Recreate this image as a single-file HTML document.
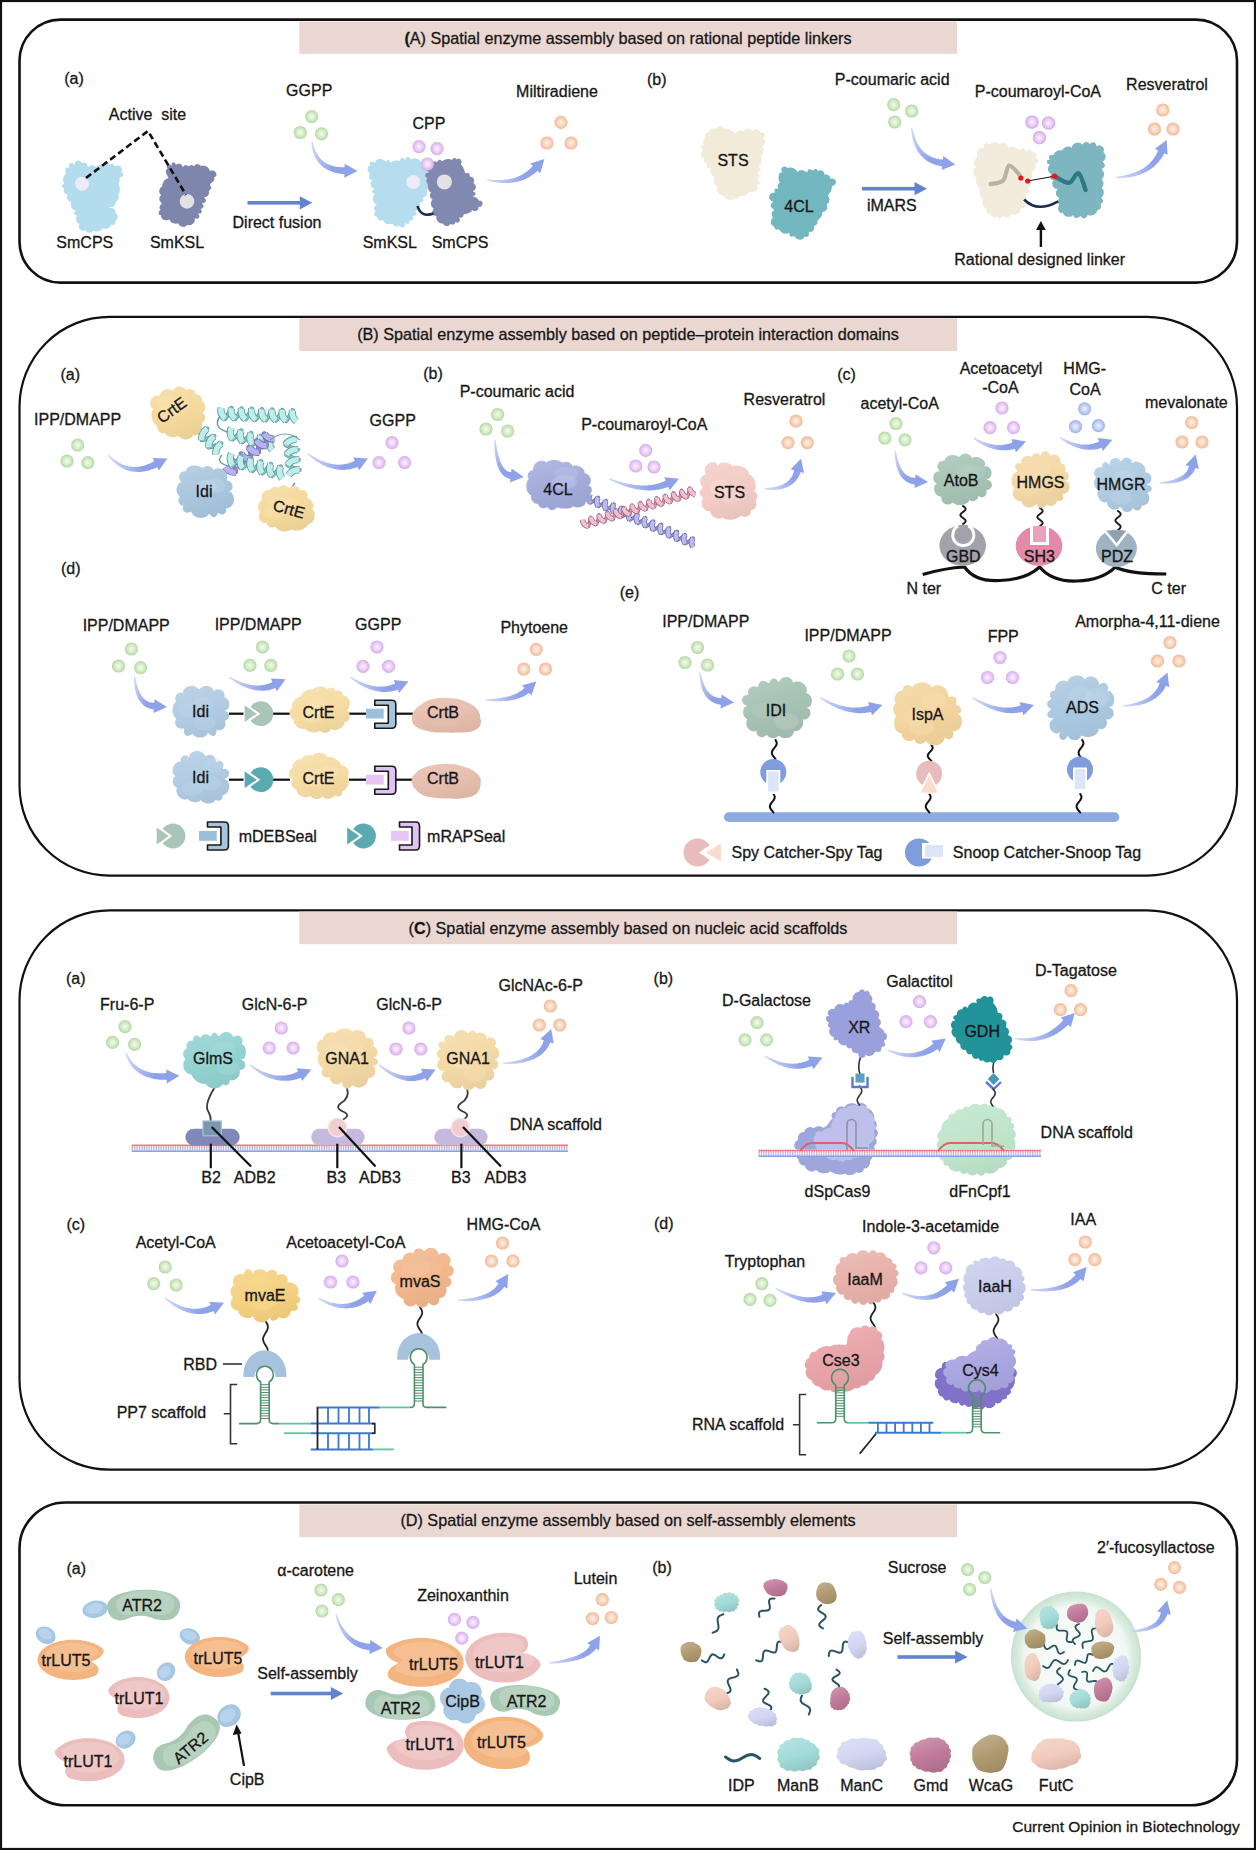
<!DOCTYPE html>
<html><head><meta charset="utf-8"><title>Spatial enzyme assembly</title>
<style>
html,body{margin:0;padding:0;background:#fff;}
body{width:1256px;height:1850px;overflow:hidden;}
svg{display:block;font-family:"Liberation Sans",sans-serif;}
text{stroke:#1a1a1a;stroke-width:0.3px;}
</style></head><body>
<svg width="1256" height="1850" viewBox="0 0 1256 1850">
<defs>
<radialGradient id="gG" cx="0.5" cy="0.5" r="0.5"><stop offset="0" stop-color="#f4faf0"/><stop offset="0.55" stop-color="#d6ecca"/><stop offset="1" stop-color="#b2d8a0"/></radialGradient>
<radialGradient id="gP" cx="0.5" cy="0.5" r="0.5"><stop offset="0" stop-color="#fbf2fe"/><stop offset="0.55" stop-color="#ebd0f6"/><stop offset="1" stop-color="#d6aaee"/></radialGradient>
<radialGradient id="gO" cx="0.5" cy="0.5" r="0.5"><stop offset="0" stop-color="#fef2ea"/><stop offset="0.55" stop-color="#f8d6bf"/><stop offset="1" stop-color="#f2b896"/></radialGradient>
<radialGradient id="gB" cx="0.5" cy="0.5" r="0.5"><stop offset="0" stop-color="#eef2fe"/><stop offset="0.55" stop-color="#c4d2f6"/><stop offset="1" stop-color="#98b0ec"/></radialGradient>
</defs>
<rect x="1" y="1" width="1254" height="1848" fill="none" stroke="#111" stroke-width="2.2"/>
<rect x="19.5" y="19.6" width="1217.5" height="263.0" rx="41" ry="41" fill="none" stroke="#111" stroke-width="2.6"/>
<rect x="19.5" y="316.8" width="1217.5" height="558.8" rx="90" ry="90" fill="none" stroke="#111" stroke-width="2.2"/>
<rect x="19.5" y="910.3" width="1217.5" height="559.4000000000001" rx="90" ry="90" fill="none" stroke="#111" stroke-width="2.2"/>
<rect x="19.5" y="1502.5" width="1217.5" height="302.70000000000005" rx="46" ry="46" fill="none" stroke="#111" stroke-width="2.6"/>
<rect x="299.3" y="21.5" width="657.7" height="32.3" fill="#ebd7d2"/>
<rect x="299.3" y="318.2" width="657.7" height="32.80000000000001" fill="#ebd7d2"/>
<rect x="299.3" y="911.6" width="657.7" height="32.60000000000002" fill="#ebd7d2"/>
<rect x="299.3" y="1504.4" width="657.7" height="32.799999999999955" fill="#ebd7d2"/>
<text x="628.0" y="43.5" font-size="16.2" text-anchor="middle" fill="#161616" ><tspan font-weight="bold">(</tspan>A) Spatial enzyme assembly based on rational peptide linkers</text>
<text x="628.0" y="340.2" font-size="16.2" text-anchor="middle" fill="#161616" >(B) Spatial enzyme assembly based on peptide–protein interaction domains</text>
<text x="628.0" y="934.0" font-size="16.2" text-anchor="middle" fill="#161616" >(<tspan font-weight="bold">C</tspan>) Spatial enzyme assembly based on nucleic acid scaffolds</text>
<text x="628.0" y="1526.0" font-size="16.2" text-anchor="middle" fill="#161616" >(D) Spatial enzyme assembly based on self-assembly elements</text>
<text x="1126.0" y="1831.5" font-size="15.5" text-anchor="middle" fill="#161616" >Current Opinion in Biotechnology</text>
<text x="74.0" y="83.6" font-size="16" text-anchor="middle" fill="#161616" >(a)</text>
<text x="147.5" y="119.6" font-size="16" text-anchor="middle" fill="#161616" xml:space="preserve">Active  site</text>
<path d="M69.5 167.9l-.6-2.9 .8-1.4 1.2-.6 1.5 .1 2 1.8 .5-2.4 1-1.2 1.2-.6 1.4-.1 1.4 .4 1.3 1.3 1.2 .5 1.8-.4 1.3 .4 1 .8 .6 1.2 .2 1.8 1.5-.1 1.3-.8 1-.4 1.1-.1 1.2 .2 1.3 .7 1.5 1.6 1-1.6 1.1-.9 1.2-.5 1.2-.3 1.3 0 1.3 .3 1.5 1 .9-2 1.3-.9 1.3 .3 1.3 1.7 1.4-.8 1.4-.5 1.2 .6 .7 2 1.5-.3 1.6-.3 1.4 .2 1.3 .6 1.1 .9 .7 1.3 .2 1.6-.9 1.8 1.6 1.1 .5 1.7-.5 1.3-1.1 .9-2 .3-.1 1.3 .2 1.3-.1 1.1-.4 1.2-.9 1.2 .2 1.2 .6 1.3 .4 1.2 .2 1.2 .1 1.3-.1 1.3-.3 1.2-.5 1.3-1.1 1.1 .7 1.4 .3 1.4-.2 1.3-.5 1.2-.8 1.1-1.3 .7-.5 1.2-.2 1.8-.9 1.3-1.1 .8-1.2 .5-1.3 .1-1-.1-1 .8 1.4 .4 1.5-.2 1.3 .3 1.1 .7 1 1.2 .2 1.5 .1 1.3 1.4 1.1 .7 1.2 .2 1.4-.2 1.3-.7 1.4-1.2 1-.7 1.1 .2 1.6-.8 1.3-1.3 .6-1.7-.3-.9 1-.8 1.3-1 .9-1.2 .5-1.2 .3-1.4-.1-1.6-.7-1 .9-1 1-1.1 .7-1.1 .6-1.3 .3-1.3 0-1.3-.1-1.4-.6-1.2 .4-1.2 1-1.2 .4-1.4 .1-1.2-.3-1.3-.9-.8-1.7-1.7 1.1-1.5-.1-1.4-.7-1.1-.9-.7-1.3-.2-1.4 .4-1.6-.5-1.1-1.3-.9-.9-1.1-.5-1.2-.2-1.2 .1-1.4 .6-1.4-.1-1.3-2-.7-.7-1 .4-1.4 1.3-1.9-1.8-.5-1.2-.9-.8-1-.6-1.1-.3-1.2 0-1.4 .4-1.5-.6-1.1-1.7-.6-1.1-.9-.7-1-.3-1.2 .1-1.4 .8-1.8-1.5-.7-1.6-.6-.8-1.1-.2-1.3 .6-1.6-.1-1.3-2-.9-.3-1.4 1.2-1.5 1.2-1.1-.9-1.5-.4-1.3 0-1.4 .3-1.2 .5-1.2 .7-1 1.1-1 .7-1.2-.7-1.4-.2-1.3 .1-1.3 .7-1.3 1.1-.9z" fill="#b3dcec"/>
<path d="M167.5 168.8l-.8-1.8 .6-1.3 1-.9 1.4-.4 1.8 1.1 .5-2.5 1.4-.7 1.4 .4 1 1.7 1.4-.2 1.4-.6 1.3 .1 1.1 .5 1 1 .8 2 1.5-1.6 1.2-.6 1.1 .2 1.3 .8 1.3 .3 1.1-1 1.2-.3 1.3 .4 1.3 .8 1.1-1.4 1.2-.6 1.3-.2 1.4 .4 1.1 1 1.2 .6 1.3-.4 1.4 .1 1.3 .3 1.1 .6 1.1 .7 .9 .9 .8 1 .4 1.6 1.8-.3 1.6 .1 1.3 .5 1.1 .9 .7 1.2 .4 1.8-.7 1.6-1.7 .4 .3 2-.6 1.3-.6 1-.7 .7-.7 .6-.8 .6-1.3 1 .2 1.2 1 1.3 .3 1.3-.5 1.3-1.5 1-.3 1.2 0 1.5-.3 1.3-.7 1.1-.9 .8-1.1 .7-1.9 .4 1.5 2.1 .3 1.3-.4 1.2-1.1 .9-2.4 .5 1.3 1.7 .3 1.5-.4 1.1-1.3 .9-1.3 .8 1.2 1.8-.1 1.4-1 .9-2.7 .2 1.2 1.9 .1 1.6-.7 1.2-1.5 .5-2.4-.5 .2 1.9-.4 1.4-.7 1.1-.9 1-1 .8-1.3 .5-1.4 .2-1.5-.3-1.1 .5-1.2 1-1.4 .5-1.3-.1-1.3-.3-1.1-.6-1.1-.9-.8-1.4-1.2-.2-1.5 .3-1.3-.1-1.2-.3-1.1-.5-1-.7-.9-1-.8-1.5-1.4 .3-1.4 .3-1.3 0-1.3-.3-1.2-.7-1-.9-.8-1.2 .1-1.8-1.7-.3-.8-1.3 .1-1.4 .6-1.3 1.3-1-.9-1.5-.2-1.3 .3-1.2 .7-1.1 1.3-1-.6-1.3-1.1-1.1-.6-1.1-.2-1.1 .1-1.3 .5-1.4 1.3-1.5-1.1-1-.6-1.2-.3-1.4 .1-1.3 .4-1.3 .8-1.1 1-.9 .8-.9 .1-1.4 .4-1.3 .5-1.1 .6-1.1 .8-1 1.1-.8 1.2-.6 1.4-.6-.6-1.7-.5-1-.5-.7-.5-1-.3-1.2-.2-1.3 .4-1.5z" fill="#7f86ae"/>
<circle cx="82" cy="183.8" r="7" fill="#ecebf8"/>
<circle cx="187" cy="201.4" r="7.3" fill="#e2e2e4"/>
<path d="M86,178 L148,131 L186,195" fill="none" stroke="#111" stroke-width="2.6" stroke-dasharray="6.5 3.6"/>
<text x="84.8" y="248.3" font-size="16" text-anchor="middle" fill="#161616" >SmCPS</text>
<text x="177.0" y="248.3" font-size="16" text-anchor="middle" fill="#161616" >SmKSL</text>
<rect x="247.5" y="201.0" width="53.3" height="3.6" fill="#6283cf"/>
<path d="M299.8,196.2 L312.3,202.8 L299.8,209.4Z" fill="#6283cf"/>
<text x="277.0" y="227.6" font-size="16" text-anchor="middle" fill="#161616" >Direct fusion</text>
<text x="309.2" y="95.6" font-size="16" text-anchor="middle" fill="#161616" >GGPP</text>
<circle cx="311.7" cy="116.7" r="6.6" fill="url(#gG)"/>
<circle cx="300.3" cy="132.5" r="6.6" fill="url(#gG)"/>
<circle cx="321.5" cy="133.8" r="6.6" fill="url(#gG)"/>
<linearGradient id="ag1" gradientUnits="userSpaceOnUse" x1="312.0" y1="142.0" x2="357.5" y2="171.0"><stop offset="0" stop-color="#d2daf8"/><stop offset="0.6" stop-color="#8ea2ea"/><stop offset="1" stop-color="#8ea2ea"/></linearGradient>
<path d="M311.4 142.1l.1 1.9 .2 1.8 .3 1.8 .4 1.7 .4 1.7 .5 1.6 .6 1.6 .6 1.5 .7 1.5 .7 1.4 .8 1.3 .9 1.4 1 1.2 1 1.2 1.1 1.1 1.1 1.1 1.2 1 1.3 1 1.4 .8 1.4 .9 1.5 .7 1.5 .7 1.6 .6 1.6 .6 1.7 .5 1.8 .4 1.8 .3 1.9 .3 1.9 .2 2 .2-.1 3.6 13.2-6.7-12.8-7.3-.1 3.6-1.8 0-1.7-.1-1.6-.1-1.6-.1-1.6-.3-1.5-.2-1.4-.4-1.4-.3-1.3-.5-1.3-.5-1.3-.5-1.2-.6-1.1-.7-1.1-.7-1.1-.8-1-.8-1-.9-1-1-.9-1-.8-1.1-.8-1.2-.8-1.2-.8-1.3-.6-1.4-.7-1.4-.6-1.6-.5-1.5-.6-1.7-.4-1.7-.5-1.8z" fill="url(#ag1)"/>
<text x="428.9" y="129.4" font-size="16" text-anchor="middle" fill="#161616" >CPP</text>
<path d="M370.3 165.6l-.7-2.3 .8-1.3 1.3-.6 1.4 0 1.8 1.9 .8-2.2 1.1-1 1.2-.6 1.2-.4 1.3-.1 1.3 .2 1.4 .6 1.2 1 1.1 .6 1.5-1.1 1.3-.2 1.1 .6 1 1.6 1.3-.3 1.2-.7 1.2-.5 1-.3 1.1-.1 1.2 0 1.5 .5 1.2-.3 .5-2.1 1-.8 1.6 .3 1.8 2 .9-2.2 1.3-.7 1.3 0 1.2 .6 1.2 1.9 1.3-.9 1.3-.3 1.3-.1 1.3 .1 1.2 .4 1.2 .5 1.1 .8 .9 1 .4 1.5 1.8-.1 1.2 .8 .7 1.1 .2 1.3-1.2 1.9 2.4 .4 1.3 .9 .8 1.1 .4 1.2-.1 1.3-.4 1.4-1.7 1.8 2.1 .7 1 1.2 .4 1.2 0 1.3-.5 1.3-1.2 1.3 .6 1.3 .5 1.3 0 1.3-.3 1.3-.8 1.1-1.2 .9-.2 1.2 .6 1.7-.1 1.4-.5 1.1-1 .9-1.5 .7-1.3 .7 .6 1.8-.2 1.3-.9 1-1.5 .5-1.3 .6 .3 1.7 0 1.4-.4 1.2-.5 1-.7 1-.9 .9-1.4 .8-.6 1 1.1 1.9-.2 1.3-1.2 .8-2.7 .1 .9 1.9-.4 1.4-.8 1-1.2 .6-2-.3 .3 2.2-.8 1.2-1.3 .4-2.2-1.3 .1 2.8-1 1.3-1.3 .5-1.6-.4-1.3-1.8-1.3 .9-1.4 .3-1.3-.1-1.2-.5-1-.8-.8-1.5-1.5 .3-1.4 .3-1.3 0-1.2-.2-1.2-.4-1.1-.7-.9-1-.8-1.4-1.2-.3-1.5 .1-1.3-.3-1.1-.7-.9-1-.3-1.5-1.4-.6-1.4-.9-.4-1.5 .8-1.5 1.1-1.2-1.5-1.3-.5-1.3 .2-1.2 .8-1.2 2.1-1.3-1.9-1.1-1-1.2-.6-1.1-.4-1.3-.1-1.2 .1-1.2 .4-1.3 .8-1.4 .6-1.3-2.2-1-.7-1.1 .5-1.3 2.3-1.7-2.1-.8-1-1-.6-1.1-.4-1.2-.1-1.2 .3-1.4 1.4-1.7-2.1-.8-.7-1.1-.4-1.2 0-1.2 .3-1.4 .5-1.3-1.1-1.1-.7-1.2-.3-1.2-.1-1.3 .3-1.3 .6-1.3z" fill="#b6dded"/>
<path d="M428.9 172.7l-1.8-2-.1-1.5 .4-1.3 .8-1 1.4-.7 2.1 .1-.4-2 .5-1.6 1-1 1.5-.4 1.5 .5 1.4 .1 .9-1.5 1.2-.6 1.3 .2 1.5 1.2 1.1-.7 1.2-.7 1.2-.4 1.2-.2 1.2-.1 1.3 0 1.3 .3 1.3 .5 1-1.1 1.1-.9 1.3 .1 1.5 1.4 1.2-.9 1.6 .2 1.2 .9 .7 1.5 0 1.3-.6 1.4 .5 1.2 .9 1 .7 1.2 .5 1 .4 1.1 .4 1 .4 1.1 .3 1.3 1.1 .6 1.8-.5 1.2 .6 .5 1.4 .2 1.8 1.6 .1 1.2 .6 1 1.1 .5 1.3 0 1.4-.7 1.4 .7 1.2 1.1 1.2 .6 1.3 .1 1.3-.4 1.2-.8 1.2-1.8 1.3 2.1 1.2 .7 1.6-.7 1.2-2.3 1 1.6 .7 1.2 .4 1 .4 1 .8 .8 1 .7 1.3 1.7-.1 1.3 .8 .6 1.6-.2 1.7-.9 1.3-1.3 .8-1.8-.1 0 1.9-.7 1.3-1.2 .8-1.2 .3-1.5-.1-1.7-1-.8 1.4-1 .8-1.1 .7-1.1 .4-1.2 .4-1.2 .2-1.4 0-.8 .9-.3 1.5-.7 .8-1.2 .6-2.3-.2 .9 2.2-.1 1.6-.9 1-1.6 .4-2.1-.8-.4 1.8-1.1 .8-1.3 .2-1.5-.7-1.1 .6-1.2 1.1-1.3 .4-1.4 0-1.3-.6-1.1-1.2-1-.8-1.4 0-1.3-.5-1.1-.7-.9-.9-.8-1.1-.5-1.2-.4-1.3 .6-1.7-2.2-.3-1.2-.8-.8-1.2-.3-1.4 .2-1.3 .7-1.4 .6-1.3-1.5-1.1-.8-1.2-.4-1.2-.2-1.1 .2-1.2 .4-1.3 1.1-1.5-1-1.1-.9-1-.6-1.1-.2-1.3 .2-1.3 1.1-1.6-1.5-.9-.7-1.1-.5-1.1-.4-1.2-.2-1.2-.1-1.2 .2-1.4-.5-1.1-.9-1.2-.3-1.2 .4-1.3 .7-1.3-1.5-1.1-.6-1.4 .1-1.3 .9-1.3z" fill="#8189b0"/>
<circle cx="413.3" cy="181.9" r="7" fill="#ecebf8"/>
<circle cx="444.4" cy="181.9" r="7.5" fill="#e2e2e4"/>
<path d="M417.5,206 Q421,218 433.5,213.5" fill="none" stroke="#1b2a52" stroke-width="2.6"/>
<circle cx="419.0" cy="146.6" r="6.6" fill="url(#gP)"/>
<circle cx="437.0" cy="148.6" r="6.6" fill="url(#gP)"/>
<circle cx="427.4" cy="164.0" r="6.6" fill="url(#gP)"/>
<text x="389.8" y="248.3" font-size="16" text-anchor="middle" fill="#161616" >SmKSL</text>
<text x="460.1" y="248.3" font-size="16" text-anchor="middle" fill="#161616" >SmCPS</text>
<linearGradient id="ag2" gradientUnits="userSpaceOnUse" x1="487.0" y1="180.0" x2="544.4" y2="159.0"><stop offset="0" stop-color="#d2daf8"/><stop offset="0.6" stop-color="#8ea2ea"/><stop offset="1" stop-color="#8ea2ea"/></linearGradient>
<path d="M486.9 180.6l2 .5 2 .5 2 .4 2 .3 2 .3 1.9 .2 1.9 .2 1.9 .1 1.8 0 1.9 0 1.8 0 1.8-.2 1.7-.1 1.8-.3 1.7-.3 1.7-.3 1.7-.4 1.6-.5 1.6-.6 1.6-.5 1.6-.7 1.5-.7 1.5-.8 1.5-.8 1.5-.9 1.4-.9 1.4-1 1.4-1.1 1.3-1.1 1.3-1.2 2.6 2.5 4.1-14.2-14.1 4.4 2.6 2.5-1.1 1.1-1 1.1-1.1 1-1.1 1-1.2 1-1.2 .9-1.2 .8-1.2 .8-1.3 .8-1.3 .7-1.4 .6-1.4 .7-1.4 .5-1.4 .5-1.5 .5-1.6 .5-1.5 .3-1.7 .4-1.6 .3-1.7 .2-1.7 .2-1.8 .1-1.8 .1-1.8 .1-1.9 0-1.9-.1-1.9-.1-2-.1-2-.2-2.1-.2z" fill="url(#ag2)"/>
<circle cx="561.0" cy="122.4" r="6.6" fill="url(#gO)"/>
<circle cx="547.0" cy="143.0" r="6.6" fill="url(#gO)"/>
<circle cx="571.0" cy="143.0" r="6.6" fill="url(#gO)"/>
<text x="557.0" y="96.6" font-size="16" text-anchor="middle" fill="#161616" >Miltiradiene</text>
<text x="656.7" y="85.0" font-size="16" text-anchor="middle" fill="#161616" >(b)</text>
<text x="892.2" y="85.0" font-size="16" text-anchor="middle" fill="#161616" >P-coumaric acid</text>
<circle cx="893.7" cy="104.7" r="6.6" fill="url(#gG)"/>
<circle cx="911.7" cy="111.0" r="6.6" fill="url(#gG)"/>
<circle cx="894.7" cy="122.0" r="6.6" fill="url(#gG)"/>
<linearGradient id="ag3" gradientUnits="userSpaceOnUse" x1="911.7" y1="128.0" x2="955.4" y2="164.4"><stop offset="0" stop-color="#d2daf8"/><stop offset="0.6" stop-color="#8ea2ea"/><stop offset="1" stop-color="#8ea2ea"/></linearGradient>
<path d="M911.1 128.1l.1 2.1 .3 2.1 .3 2 .3 2 .4 1.9 .5 1.9 .5 1.8 .6 1.7 .7 1.7 .7 1.6 .7 1.6 .9 1.5 .8 1.5 1 1.4 1 1.3 1.1 1.3 1.1 1.2 1.2 1.1 1.2 1.1 1.3 1 1.4 1 1.4 .9 1.5 .8 1.6 .7 1.6 .7 1.6 .6 1.8 .6 1.7 .4 1.8 .4 1.9 .3-.4 3.6 13.7-5.5-12.1-8.4-.4 3.6-1.7-.2-1.5-.2-1.5-.2-1.5-.3-1.5-.4-1.3-.4-1.4-.5-1.3-.6-1.2-.6-1.3-.6-1.1-.8-1.2-.8-1.1-.8-1.1-.9-1-1-1-1.1-1-1.1-.9-1.2-.9-1.3-.8-1.3-.8-1.4-.8-1.5-.7-1.6-.7-1.6-.6-1.7-.6-1.8-.6-1.8-.5-1.9-.5-2-.5-2.1z" fill="url(#ag3)"/>
<text x="1037.9" y="97.2" font-size="16" text-anchor="middle" fill="#161616" >P-coumaroyl-CoA</text>
<circle cx="1032.0" cy="122.0" r="6.6" fill="url(#gP)"/>
<circle cx="1048.6" cy="123.0" r="6.6" fill="url(#gP)"/>
<circle cx="1039.4" cy="137.7" r="6.6" fill="url(#gP)"/>
<text x="1167.0" y="89.9" font-size="16" text-anchor="middle" fill="#161616" >Resveratrol</text>
<circle cx="1162.8" cy="110.0" r="6.6" fill="url(#gO)"/>
<circle cx="1154.5" cy="129.0" r="6.6" fill="url(#gO)"/>
<circle cx="1173.0" cy="129.0" r="6.6" fill="url(#gO)"/>
<linearGradient id="ag4" gradientUnits="userSpaceOnUse" x1="1115.7" y1="177.5" x2="1166.7" y2="140.0"><stop offset="0" stop-color="#d2daf8"/><stop offset="0.6" stop-color="#8ea2ea"/><stop offset="1" stop-color="#8ea2ea"/></linearGradient>
<path d="M1115.7 178.1l2.3 .1 2.3-.1 2.2-.1 2.1-.2 2.1-.2 2.1-.3 2-.3 2-.4 1.9-.4 1.9-.6 1.8-.5 1.8-.6 1.8-.7 1.7-.8 1.6-.8 1.6-.8 1.6-.9 1.5-1 1.5-1 1.4-1.1 1.4-1.2 1.3-1.2 1.3-1.3 1.2-1.3 1.2-1.4 1.1-1.4 1.1-1.5 1-1.6 .9-1.6 .9-1.7 3.3 1.5-.9-14.7-11.8 8.8 3.2 1.6-.6 1.5-.7 1.4-.7 1.4-.8 1.4-.9 1.3-.9 1.3-.9 1.3-1 1.2-1.1 1.1-1.1 1.1-1.1 1.1-1.2 1-1.3 1-1.3 1-1.4 .9-1.4 .9-1.5 .8-1.5 .8-1.6 .7-1.7 .7-1.7 .7-1.8 .6-1.8 .5-1.9 .5-1.9 .5-2 .4-2.1 .4-2.1 .4-2.2 .3-2.2 .3z" fill="url(#ag4)"/>
<path d="M708.7 132.7l.1-1.9 .9-1.1 1.1-.8 1.2-.5 1.3-.1 1.4 .1 1.3 .4 1-1.3 1.3-.8 1.2-.4 1.3 0 1.3 .3 1.3 .8 .8 1.7 1.5-.5 1.5 0 1.3 .3 1.2 .5 1 .6 .9 .7 .9 .8 .9 .8 1.1 1.1 1.3-.2 1-1.5 1-.8 1-.5 1.3-.1 1.4 .3 1.6 1.1 1-1 1-1.2 1.3-.7 1.4-.2 1.3 .2 1.3 .7 1.1 1.2 1.3-.3 1.4-.8 1.4-.4 1.2 .1 1.3 .4 1.2 .8 .9 1.3 .7 1.4 1.9-.6 1.4 .6 .8 1.5-.3 1.7-1.6 1.4 1.2 1.3 .7 1.4 .2 1.4-.2 1.2-.5 1.2-1 1-1.8 .9 .8 1.5 .5 1.3 .3 1.2 0 1.3-.3 1.2-.6 1.2-.9 1.2-1.3 1 1 1.4 .3 1.3 .1 1.3-.1 1.3-.2 1.2-.5 1.2-.6 1.1-1 1.1 .1 1.3 1.3 1.6 .1 1.4-.9 1-2.2 .7 .4 1.4 1 1.4 .3 1.3-.2 1-.7 1-1.8 1.5 1.8 .9 1.2 1.2 .2 1.4-.9 1.4-2.4 .8 1.1 1.7-.2 1.5-.9 1.4-.9 .9-1.2 .7-1.3 .5-1.4 0-1.6-.3-1.2 .2-.8 1.4-.9 1-1 .7-1.1 .6-1.2 .3-1.3 .2-1.4-.1-1.3 .2-.7 1.6-1.1 .8-1.2 .1-1.6-.8-1.2 .6-1.1 .9-1.3 .4-1.4 .2-1.4-.1-1.3-.4-1.2-.7-1-.8-.9-1.1-.6-1.4-1.5 .1-1.3-.5-1.1-.7-1-.9-.8-1-.7-1.2-.4-1.3-.2-1.3 .1-1.4-.2-1.2-1.5-.8-1-1.1-.6-1.1-.3-1.2 0-1.3 .4-1.4 .9-1.5-.7-1.1-1.2-.9-.9-1-.6-1-.5-1-.3-1.3 0-1.3 .5-1.8-2.3-.1-1.4-.5-.8-1-.1-1.4 1-2.1-1.9-.3-1.2-.8-.5-1.3 .5-1.6-.2-1.2-1.6-.8-1.1-1.1-.5-1.3-.1-1.4 .5-1.4 1.2-1.3 .1-1.3-1.5-1.4-.2-1.3 .7-1.2 2.3-.9-.8-1.4-.2-1.3 .2-1.3 .5-1.1 1.1-1 .2-1.3-.3-1.4 .3-1.3 .8-1.2 1.2-.8z" fill="#f3ebd9"/>
<text x="733.0" y="165.6" font-size="16" text-anchor="middle" fill="#161616" >STS</text>
<path d="M782.4 172.2l-1.2-2.2 .3-1.5 1.1-1.3 1.4-.6 1.6 .1 1.4 .7 1.1 .9 1.4-.7 1.4 0 1.3 .2 1.2 .4 1.1 .6 1 .8 .9 1 .9 1.3 1.7-1.1 1.3-.5 1.1-.1 1.3 .1 .9 .3 1.1 .6 1.3 1 1.3-.1 .7-2 1.1-.8 1.2-.1 1.6 1 1.4 .2 1.1-1.1 1.4-.2 1.3 .5 .8 1.6 1.7-.9 1.5 0 1.3 .4 1 .8 .7 1.2 .2 1.8 1.6 0 1.4 .2 1.1 .5 .9 .8 .8 1.1 .4 1.7 1.7-.3 1.4 .3 1.2 .8 1.1 1.5 0 1.7-.7 1.6-1.1 .8-1.3 .6-1.1 .7 .1 1.7-.2 1.3-.4 1.1-.4 .9-.6 .9-.8 .9-1 1.1-.4 1.3 .9 1.2 .4 1.3 .2 1.2-.1 1.4-.4 1.3-.8 1.1-1.3 .9 .1 1.4 .3 1.6-.1 1.3-.5 1.2-.9 1-1.1 .8-1.6 .4-.8 1-.2 1.4-.3 1.2-.6 1.2-.6 1-.8 .9-.9 .9-1.2 .8-.3 1.3 .1 1.4-.5 1.2-.9 1-1.4 .6-.8 .9 .2 1.8-.3 1.3-.6 1.1-1 .7-1.4 .5-2.3-.2 .6 2.1-.3 1.4-.9 1.1-1.3 .5-1.8-.3-.8 1-.9 1.2-1.3 .7-1.5 .3-1.4-.2-1.4-.4-1.1-.7-1-1-.8-1.3-1.4 .1-1.6 .5-1.2-.4-.9-1.1 0-2.8-1.9 1.1-1.4 .1-1.3-.1-1.2-.2-1.1-.5-1.1-.7-1-.9-.8-1.2-1-.9-1.8 .6-1.2-.2-1-1-.4-1.7-.9-.8-1.2-.6-.9-1.2-.4-1.4 0-1.4 .3-1.3 .6-1.2 .9-1.1-.1-1.3-.8-1.5-.2-1.3 .2-1 .7-1.1 1.3-1.2-.1-1.2-1.6-1-.9-1-.4-1.1 0-1.3 .7-1.4 2-1.8-2.3-.8-1.1-1.1-.7-1.3-.3-1.6 .4-1.6 .9-1.4 1.3-.9 1.7-.3 1.5-.3-.4-2.2 .5-1.2 1.1-.5 2.2 .2-.5-1.7-.3-1.3 .4-1 1-1.1 1.1-1.1-.8-1.3-.4-1.3-.3-1.3 0-1.2 .1-1.3 .3-1.3 .6-1.2 .9-1.1z" fill="#72b6bf"/>
<text x="799.0" y="211.6" font-size="16" text-anchor="middle" fill="#161616" >4CL</text>
<rect x="862" y="186.9" width="53.5" height="3.6" fill="#6283cf"/>
<path d="M914.5,182.1 L927.0,188.7 L914.5,195.3Z" fill="#6283cf"/>
<text x="891.8" y="211.3" font-size="16" text-anchor="middle" fill="#161616" >iMARS</text>
<path d="M983.9 148.6l-.3-3.1 .8-1.3 1.2-.7 1.4-.1 1.5 .7 1.4 .5 1.1-1.2 1.1-.6 1.3-.5 1.2-.1 1.4 0 1.3 .4 1.2 .7 1.1 1.1 1.5-1.3 1.5-.4 1.3 0 1.3 .4 1.2 .7 .9 1 .7 1.5 .7 1.5 1.6-.7 1.4-.1 1.3 .1 1.1 .2 1.2 .4 1 .5 1.1 .6 1.2 .9 1.1 1.1 1.4-1.9 1.3-.6 1.2 .1 1.2 .8 1.1 2 1.4-1.3 1.4-.7 1.4 .1 1.3 .7 .8 1.5 .8 1.1 1.8 0 1.2 .9 .5 1.3-.2 1.6-.3 1.4 1.4 .9 .6 1.3 0 1.5-.7 1.4-1.6 .7 0 1.4 0 1.5-.2 1.3-.5 1.1-.6 1-.7 1-.9 .9-1.2 .9-.1 1.2 .7 1.4 .1 1.3-.4 1.1-1.1 1.2-.4 1.2 .5 1.3 .2 1.3-.2 1.3-.3 1.2-.7 1.2-1 1-1 .9 1.1 1.8 .1 1.5-.5 1.1-1.2 .8-2.3 .4 .8 1.7 .5 1.4 .1 1.2-.5 1-1 1-2.3 1.1 2 1.4 .9 1.3 .1 1.7-.5 1.4-1.3 1.1-1.8 .4-1.5 .2-.1 1.7-.6 1.4-.9 1.1-1.1 .8-1.2 .6-1.2 .2-1.5 0-1.5-.4-1.3 .1-.9 1.5-1 .9-1.2 .6-1.3 .2-1.3 0-1.3-.4-1.4-1.1-1.2 1.4-1.1 1.2-1.4 0-1.3-1.2-1.2-.8-1.3 .7-1.4 .1-1.3-.5-1.1-.9-.6-1.4-1.3-.5-1.7-.2-1.1-.9-.4-1.3 .5-1.8-.3-1.2-1.4-.7-1-1-.8-1-.6-1.1-.4-1.3-.2-1.2 .1-1.4 .4-1.5-.3-1.2-1.1-1-.7-1-.6-1.2-.4-1.1-.3-1.3-.1-1.2 .1-1.3 .4-1.5-.7-1.1-1-1-.7-1-.6-1.2-.4-1.1-.2-1.3-.1-1.2 .1-1.4 .6-1.5-1.2-.9-1-1.1-.7-1.1-.5-1.3-.2-1.3 .1-1.2 .4-1.4 .7-1.3 1.8-1.1-1.6-1.4-.4-1.3-.1-1.3 .1-1.3 .4-1.3 .5-1.1 .8-1.1 1.2-.9 .3-1.2-.4-1.5 0-1.4 .2-1.3 .4-1.2 .7-1.2 .9-1 1.2-.8 1.4-.4z" fill="#f3ecdc"/>
<path d="M1049.7 159.7l-.9-2.3 .5-1.4 1-.9 1.4-.2 1.7 .2 .6-1.4 .8-1 1-.9 1.1-.6 1.1-.6 1.3-.3 1.3-.1 1.6 .4 .7-1.4 .9-1 1.1-.8 1.2-.5 1.2-.3 1.3-.1 1.3 .1 1.8 1.4 .6-2.2 1-1.2 1-.9 1.2-.6 1.2-.4 1.3 0 1.4 .1 1.3 .5 1.5 1.1 1.1-.7 1.2-1.2 1.3-.4 1.3 0 1.3 .6 1.1 1.3 1.4-.8 1.5-.9 1.3-.1 1.2 .6 1 1.3 .6 2.2 1.6-.9 1.5-.1 1.4 .4 1.2 .7 1.1 1.1 .6 1.4 .1 1.5-.7 1.4 .8 1.1 1 1.3 .5 1.2 .1 1.4-.2 1.3-.5 1.2-.8 1.2-1.5 1 1 1.4 1 1.4 .2 1.3-.3 1.2-1 1.1-2 1.1 .9 1.3 .9 1.2 .5 1.3 .2 1.2-.1 1.2-.3 1.3-.7 1.2-1.3 1.3 .9 1.2 .6 1.3 .3 1.2 0 1.3-.3 1.2-.6 1.3-.9 1.2 1.1 1.3 .6 1.3 .3 1.2 .1 1.3-.2 1.2-.4 1.3-.7 1.2-1.2 1.1 .8 1.4 1 1.3 0 1.3-.7 1.2-1.8 .9 .3 1.4 .2 1.5-.4 1.3-.8 1.1-1.2 .7-1.4 .4-.3 1.5-.7 1.1-1 1-1 .8-1.2 .6-1.3 .4-1.3 .1-1.3 0-1.4-.7-1 1.7-1.1 1.1-1.2 .6-1.4-.1-1.3-.6-1.3-1.5-1.2 .7-1.3 1-1.3 .3-1.3-.2-1.2-.8-1.1-2-1.3 1.2-1.3 .4-1.4 .1-1.3-.1-1.2-.2-1.2-.6-1.1-.7-.9-1.1-.7-1.3-1.7 .1-1.3-.6-1-1.2-.5-1.4-.2-1.4 .3-1.4 .8-1.3-.1-1.3-1-1.2-.3-1.2 .1-1.3 .7-1.2 .8-1.3-1.6-1.1-.9-1-.6-1-.3-1.2 0-1.2 .4-1.5 1.5-2-2.3-.3-1.1-.8-.9-1-.7-1-.4-1.2-.2-1.4 .2-1.4 1.4-1.8-2.4-.5-.8-1.1-.3-1.3 .1-1.3 .8-1.4-.9-1.1-1.2-1.1-.7-1.2-.4-1.2 0-1.2 .2-1.1 .4-1.4 1.4-1.8-2.1-.6-.8-1.1-.2-1.5 .7-1.4z" fill="#7db6c0"/>
<path d="M990.7,184.0 C992.8,183.4 1000.1,183.5 1003.2,180.4 C1006.3,177.3 1006.4,166.3 1009.2,165.5 C1012.0,164.7 1018.2,173.9 1020.0,175.6" fill="none" stroke="#b7b2a8" stroke-width="4.2" stroke-linecap="round"/>
<path d="M1054.6,176.2 C1057.0,177.3 1064.9,183.3 1068.9,182.8 C1072.9,182.3 1075.7,172.0 1078.5,173.2 C1081.3,174.4 1084.4,187.2 1085.6,190.0" fill="none" stroke="#2f7987" stroke-width="4.4" stroke-linecap="round"/>
<line x1="1027.7" y1="181" x2="1054.6" y2="176.2" stroke="#111" stroke-width="1"/>
<circle cx="1020.9" cy="178" r="2.6" fill="#e8141c"/>
<circle cx="1027.7" cy="181" r="2.6" fill="#e8141c"/>
<circle cx="1054.6" cy="176.2" r="2.6" fill="#e8141c"/>
<path d="M1024.1,199.5 Q1037,213 1058.2,201.3" fill="none" stroke="#1b2a52" stroke-width="2.6"/>
<circle cx="1032.0" cy="122.0" r="6.6" fill="url(#gP)"/>
<circle cx="1048.6" cy="123.0" r="6.6" fill="url(#gP)"/>
<circle cx="1039.4" cy="137.7" r="6.6" fill="url(#gP)"/>
<rect x="1039.7" y="229" width="2.4" height="18" fill="#111"/><path d="M1036,230 L1040.9,221 L1045.8,230Z" fill="#111"/>
<text x="1039.7" y="264.6" font-size="16" text-anchor="middle" fill="#161616" >Rational designed linker</text>
<text x="70.2" y="379.6" font-size="16" text-anchor="middle" fill="#161616" >(a)</text>
<text x="77.6" y="425.4" font-size="16" text-anchor="middle" fill="#161616" >IPP/DMAPP</text>
<circle cx="77.6" cy="445.0" r="6.6" fill="url(#gG)"/>
<circle cx="67.0" cy="461.0" r="6.6" fill="url(#gG)"/>
<circle cx="87.8" cy="462.6" r="6.6" fill="url(#gG)"/>
<linearGradient id="ag5" gradientUnits="userSpaceOnUse" x1="108.5" y1="455.0" x2="167.4" y2="458.5"><stop offset="0" stop-color="#d2daf8"/><stop offset="0.6" stop-color="#8ea2ea"/><stop offset="1" stop-color="#8ea2ea"/></linearGradient>
<path d="M108 455.4l1.2 1.6 1.3 1.5 1.3 1.5 1.3 1.4 1.3 1.2 1.4 1.2 1.4 1.2 1.5 1 1.4 1 1.5 .8 1.6 .8 1.6 .8 1.6 .6 1.6 .5 1.6 .5 1.7 .4 1.7 .2 1.8 .2 1.7 .1 1.8 .1 1.8-.1 1.9-.2 1.8-.2 1.9-.4 1.9-.4 1.9-.5 1.9-.6 1.9-.7 2-.7 2-.9 1.6 3.2 8.5-12-14.8-.5 1.6 3.2-1.7 .9-1.7 .8-1.6 .8-1.7 .6-1.6 .6-1.6 .5-1.6 .5-1.6 .3-1.5 .3-1.6 .2-1.5 .2-1.5 0-1.5 0-1.5-.1-1.5-.2-1.5-.2-1.5-.3-1.4-.4-1.5-.5-1.4-.5-1.5-.7-1.4-.7-1.4-.8-1.5-.9-1.4-.9-1.4-1.1-1.4-1.1-1.4-1.2-1.4-1.3-1.4-1.4z" fill="url(#ag5)"/>
<path d="M194.7,432.5Q201.2,431.7 207.2,428.8M201.7,439.9Q208.2,439.1 214.2,436.2M208.7,447.3Q215.2,446.5 221.2,443.6" fill="none" stroke="#5a9899" stroke-width="4.5" stroke-linecap="round"/>
<path d="M194.7,432.5Q201.2,431.7 207.2,428.8M201.7,439.9Q208.2,439.1 214.2,436.2M208.7,447.3Q215.2,446.5 221.2,443.6" fill="none" stroke="#86c4c2" stroke-width="3.1" stroke-linecap="round"/>
<path d="M200.2,421.4Q194.1,425.5 194.7,432.5M207.2,428.8Q201.1,432.9 201.7,439.9M214.2,436.2Q208.1,440.3 208.7,447.3M221.2,443.6Q215.1,447.7 215.8,454.7" fill="none" stroke="#5a9899" stroke-width="7.2" stroke-linecap="butt"/>
<path d="M200.2,421.4Q194.1,425.5 194.7,432.5M207.2,428.8Q201.1,432.9 201.7,439.9M214.2,436.2Q208.1,440.3 208.7,447.3M221.2,443.6Q215.1,447.7 215.8,454.7" fill="none" stroke="#bdeeea" stroke-width="5.6" stroke-linecap="butt"/>
<path d="M225.1,418.5Q229.1,413.8 231.4,408.1M235.3,418.8Q239.3,414.2 241.6,408.5M245.5,419.2Q249.5,414.6 251.8,408.9M255.7,419.6Q259.7,415.0 262.0,409.3M265.9,420.0Q269.9,415.4 272.2,409.6M276.0,420.4Q280.1,415.8 282.4,410.0M286.2,420.8Q290.3,416.2 292.5,410.4" fill="none" stroke="#5a9899" stroke-width="4.5" stroke-linecap="round"/>
<path d="M225.1,418.5Q229.1,413.8 231.4,408.1M235.3,418.8Q239.3,414.2 241.6,408.5M245.5,419.2Q249.5,414.6 251.8,408.9M255.7,419.6Q259.7,415.0 262.0,409.3M265.9,420.0Q269.9,415.4 272.2,409.6M276.0,420.4Q280.1,415.8 282.4,410.0M286.2,420.8Q290.3,416.2 292.5,410.4" fill="none" stroke="#86c4c2" stroke-width="3.1" stroke-linecap="round"/>
<path d="M221.2,407.7Q219.7,414.3 225.1,418.5M231.4,408.1Q229.9,414.7 235.3,418.8M241.6,408.5Q240.1,415.1 245.5,419.2M251.8,408.9Q250.3,415.4 255.7,419.6M262.0,409.3Q260.5,415.8 265.9,420.0M272.2,409.6Q270.7,416.2 276.0,420.4M282.4,410.0Q280.9,416.6 286.2,420.8M292.5,410.4Q291.1,417.0 296.4,421.2" fill="none" stroke="#5a9899" stroke-width="7.2" stroke-linecap="butt"/>
<path d="M221.2,407.7Q219.7,414.3 225.1,418.5M231.4,408.1Q229.9,414.7 235.3,418.8M241.6,408.5Q240.1,415.1 245.5,419.2M251.8,408.9Q250.3,415.4 255.7,419.6M262.0,409.3Q260.5,415.8 265.9,420.0M272.2,409.6Q270.7,416.2 276.0,420.4M282.4,410.0Q280.9,416.6 286.2,420.8M292.5,410.4Q291.1,417.0 296.4,421.2" fill="none" stroke="#bdeeea" stroke-width="5.6" stroke-linecap="butt"/>
<path d="M232.7,439.2Q237.7,435.6 241.2,430.6M242.6,441.9Q247.6,438.3 251.1,433.2M252.4,444.6Q257.4,441.0 260.9,435.9M262.3,447.2Q267.3,443.6 270.8,438.6" fill="none" stroke="#5a9899" stroke-width="4.5" stroke-linecap="round"/>
<path d="M232.7,439.2Q237.7,435.6 241.2,430.6M242.6,441.9Q247.6,438.3 251.1,433.2M252.4,444.6Q257.4,441.0 260.9,435.9M262.3,447.2Q267.3,443.6 270.8,438.6" fill="none" stroke="#86c4c2" stroke-width="3.1" stroke-linecap="round"/>
<path d="M231.4,427.9Q228.5,434.0 232.7,439.2M241.2,430.6Q238.3,436.6 242.6,441.9M251.1,433.2Q248.2,439.3 252.4,444.6M260.9,435.9Q258.0,442.0 262.3,447.2M270.8,438.6Q267.9,444.6 272.1,449.9" fill="none" stroke="#5a9899" stroke-width="7.2" stroke-linecap="butt"/>
<path d="M231.4,427.9Q228.5,434.0 232.7,439.2M241.2,430.6Q238.3,436.6 242.6,441.9M251.1,433.2Q248.2,439.3 252.4,444.6M260.9,435.9Q258.0,442.0 262.3,447.2M270.8,438.6Q267.9,444.6 272.1,449.9" fill="none" stroke="#bdeeea" stroke-width="5.6" stroke-linecap="butt"/>
<path d="M235.7,472.2Q235.5,466.1 233.3,460.3M243.4,465.6Q243.3,459.4 241.0,453.7M251.2,458.9Q251.0,452.8 248.7,447.0M258.9,452.3Q258.7,446.1 256.5,440.4M266.6,445.6Q266.5,439.5 264.2,433.7" fill="none" stroke="#6e6aa8" stroke-width="4.5" stroke-linecap="round"/>
<path d="M235.7,472.2Q235.5,466.1 233.3,460.3M243.4,465.6Q243.3,459.4 241.0,453.7M251.2,458.9Q251.0,452.8 248.7,447.0M258.9,452.3Q258.7,446.1 256.5,440.4M266.6,445.6Q266.5,439.5 264.2,433.7" fill="none" stroke="#8e8ad0" stroke-width="3.1" stroke-linecap="round"/>
<path d="M225.5,467.0Q228.9,472.8 235.7,472.2M233.3,460.3Q236.7,466.2 243.4,465.6M241.0,453.7Q244.4,459.5 251.2,458.9M248.7,447.0Q252.1,452.9 258.9,452.3M256.5,440.4Q259.9,446.2 266.6,445.6M264.2,433.7Q267.6,439.5 274.4,439.0" fill="none" stroke="#6e6aa8" stroke-width="7.2" stroke-linecap="butt"/>
<path d="M225.5,467.0Q228.9,472.8 235.7,472.2M233.3,460.3Q236.7,466.2 243.4,465.6M241.0,453.7Q244.4,459.5 251.2,458.9M248.7,447.0Q252.1,452.9 258.9,452.3M256.5,440.4Q259.9,446.2 266.6,445.6M264.2,433.7Q267.6,439.5 274.4,439.0" fill="none" stroke="#b6b3ee" stroke-width="5.6" stroke-linecap="butt"/>
<path d="M232.7,465.5Q237.8,461.6 241.3,456.2M242.6,468.1Q247.6,464.2 251.1,458.8M252.5,470.6Q257.5,466.8 261.0,461.4M262.3,473.2Q267.3,469.4 270.9,464.0M272.2,475.8Q277.2,472.0 280.7,466.6" fill="none" stroke="#5a9899" stroke-width="4.5" stroke-linecap="round"/>
<path d="M232.7,465.5Q237.8,461.6 241.3,456.2M242.6,468.1Q247.6,464.2 251.1,458.8M252.5,470.6Q257.5,466.8 261.0,461.4M262.3,473.2Q267.3,469.4 270.9,464.0M272.2,475.8Q277.2,472.0 280.7,466.6" fill="none" stroke="#86c4c2" stroke-width="3.1" stroke-linecap="round"/>
<path d="M231.4,453.6Q228.5,460.0 232.7,465.5M241.3,456.2Q238.3,462.6 242.6,468.1M251.1,458.8Q248.2,465.2 252.5,470.6M261.0,461.4Q258.1,467.8 262.3,473.2M270.9,464.0Q267.9,470.4 272.2,475.8M280.7,466.6Q277.8,473.0 282.1,478.4" fill="none" stroke="#5a9899" stroke-width="7.2" stroke-linecap="butt"/>
<path d="M231.4,453.6Q228.5,460.0 232.7,465.5M241.3,456.2Q238.3,462.6 242.6,468.1M251.1,458.8Q248.2,465.2 252.5,470.6M261.0,461.4Q258.1,467.8 262.3,473.2M270.9,464.0Q267.9,470.4 272.2,475.8M280.7,466.6Q277.8,473.0 282.1,478.4" fill="none" stroke="#bdeeea" stroke-width="5.6" stroke-linecap="butt"/>
<path d="M285.6,444.8Q291.2,448.2 297.7,449.6M286.5,454.9Q292.1,458.3 298.6,459.8M287.5,465.1Q293.0,468.5 299.5,469.9" fill="none" stroke="#5a9899" stroke-width="4.5" stroke-linecap="round"/>
<path d="M285.6,444.8Q291.2,448.2 297.7,449.6M286.5,454.9Q292.1,458.3 298.6,459.8M287.5,465.1Q293.0,468.5 299.5,469.9" fill="none" stroke="#86c4c2" stroke-width="3.1" stroke-linecap="round"/>
<path d="M296.8,439.5Q289.4,438.9 285.6,444.8M297.7,449.6Q290.4,449.1 286.5,454.9M298.6,459.8Q291.3,459.2 287.5,465.1M299.5,469.9Q292.2,469.4 288.4,475.3" fill="none" stroke="#5a9899" stroke-width="7.2" stroke-linecap="butt"/>
<path d="M296.8,439.5Q289.4,438.9 285.6,444.8M297.7,449.6Q290.4,449.1 286.5,454.9M298.6,459.8Q291.3,459.2 287.5,465.1M299.5,469.9Q292.2,469.4 288.4,475.3" fill="none" stroke="#bdeeea" stroke-width="5.6" stroke-linecap="butt"/>
<path d="M270,440 Q285,428 300,440" fill="none" stroke="#5f9e9f" stroke-width="1.2"/>
<path d="M222,455 Q215,462 228,466" fill="none" stroke="#5f9e9f" stroke-width="1.4"/>
<path d="M220,416 Q212,428 228,432" fill="none" stroke="#5f9e9f" stroke-width="1.4"/>
<path d="M295,483 L290,490" fill="none" stroke="#5f9e9f" stroke-width="1.5"/>
<linearGradient id="bg6" x1="0.2" y1="0" x2="0.6" y2="1"><stop offset="0" stop-color="#f6dfab"/><stop offset="0.55" stop-color="#f5d99c"/><stop offset="1" stop-color="#ebd096"/></linearGradient>
<path d="M202 412.9l2.2 1.3 .7 1.3 .3 1.3 0 1.3-.2 1.2-.6 1.2-.9 1.2-1.4 .9-.3 1.2 .2 1.3 0 1.3-.2 1.3-.3 1.2-.5 1.2-.6 1.2-.7 1.1-.9 1-1 .8-1.1 .7-1.2 .5-1.3 .2-1.4-.3-.8 1.6-1 1-1.2 .7-1.3 .5-1.4 .3-1.3 .1-1.2-.1-1.3-.3-1.2-.4-1.2-.6-1.2-.8-1.1-1.2-1.2 .1-1.4 .6-1.2 .3-1.3 .1-1.3 0-1.2-.2-1.3-.3-1.2-.4-1.1-.6-1.1-.8-.9-1-.8-1.1-1.6 .4-1.4-.2-1.2-.6-1.1-.7-.9-1-.8-1.1-.4-1.2-.2-1.5-.1-1.3-1.2-.7-.9-1-.8-1-.7-1-.6-1.2-.5-1.2-.3-1.2-.3-1.2-.1-1.3-.1-1.2 0-1.3 .2-1.3 .3-1.2 2.2-1.3-2.2-1.2-.9-1.2-.6-1.4-.2-1.3-.1-1.5 .2-1.4 .5-1.4 .7-1.3 .9-1.1 1-.9 1.3-.8 1.4-.5 1.5-.1 1.7 .3 .6-1.1 .7-1.5 .8-1.1 1-1 1.1-.7 1.1-.5 1.2-.5 1.2-.2 1.4-.1 1.3 .2 1.4 .4 1.6 1.5 .9-1.9 1.1-1.1 1.2-.8 1.2-.5 1.3-.3 1.3 0 1.3 .1 1.2 .3 1.3 .6 1.2 .8 1 1.3 1.2 .4 1.5-.8 1.4-.3 1.4 .2 1.2 .4 1.1 .6 1 .9 .8 1.2 .5 1.5 .9 .9 1.4 .1 1.3 .6 1 .8 .8 1 .5 1.3 .1 1.4 0 1.3 1.3 .8 .9 1 .7 1.2 .4 1.3 .2 1.3 0 1.3-.2 1.3-.4 1.2-.7 1.2z" fill="url(#bg6)"/>
<ellipse cx="167.0" cy="403.4" rx="10.0" ry="7.3" fill="#fbe6b4" opacity="0.35"/>
<ellipse cx="180.5" cy="404.6" rx="10.0" ry="7.3" fill="#fbe6b4" opacity="0.35"/>
<ellipse cx="167.6" cy="412.1" rx="10.0" ry="7.3" fill="#fbe6b4" opacity="0.35"/>
<text x="0" y="0" font-size="16" text-anchor="middle" fill="#161616" transform="translate(175.0,414.5) rotate(-36)">CrtE</text>
<linearGradient id="bg7" x1="0.2" y1="0" x2="0.6" y2="1"><stop offset="0" stop-color="#b5cfe3"/><stop offset="0.55" stop-color="#a8c6de"/><stop offset="1" stop-color="#a1bed5"/></linearGradient>
<path d="M229.2 491.6l2.2 1 .9 1.1 .7 1.2 .5 1.3 .3 1.3 .2 1.3 0 1.4-.2 1.4-.4 1.4-.6 1.3-.8 1.1-1 1-1.1 .9-1.4 .5-1.5 .1-.8 1 0 2.2-.6 1.5-.9 1-1.2 .7-1.3 .2-1.5-.2-1.8-1-1.3-.1-.7 2-1 1.1-1.2 .7-1.3 .1-1.4-.5-1.4-1.2-1.4-1.6-1.1 1.5-1.2 .9-1.3 .7-1.2 .4-1.3 .4-1.3 .1-1.3 .1-1.3-.1-1.3-.2-1.3-.4-1.2-.6-1.2-.8-1.1-.9-.9-1.2-.7-1.5-1.1-.4-1.8 .8-1.6 .1-1.4-.4-1.1-.6-1-1-.6-1.3-.2-1.6 .7-2.2-1.9-.1-1.2-.8-.9-1-.6-1.2-.3-1.3 0-1.3 .3-1.4 1.1-1.3-.7-1.2-1.1-1.2-.8-1.3-.5-1.2-.2-1.3-.1-1.3 0-1.2 .3-1.3 .4-1.2 .7-1.2 .9-1.2 1.3-1 1.1-1.1-1.3-1.5-.6-1.4-.2-1.4 .1-1.4 .4-1.2 .7-1.3 1-1 1.3-.8 1.6-.3 1.6 0 .4-1.5 .7-1.2 1-.9 1.2-.8 1.2-.6 1.2-.4 1.3-.2 1.3-.2 1.4 .1 1.2 .1 1.3 .3 1.2 .3 1.3 .6 1.1 .7 1.3 .4 1.3-1 1.2-.5 1.3-.3 1.3 0 1.2 .2 1.2 .4 1.2 .6 1.1 1 .9 1.6 1.5-1.1 1.4-.4 1.4-.1 1.5 .1 1.3 .3 1.3 .5 1.3 .7 1.1 .9 1 1.1 .7 1.2 .6 1.2 .4 1.4 .2 1.4-.1 1.5-.7 1.7 1.8 .5 1.5 .7 1.1 .8 .9 1.2 .5 1.2 .3 1.3-.1 1.3-.3 1.4-.7 1.4z" fill="url(#bg7)"/>
<ellipse cx="206.9" cy="487.2" rx="10.3" ry="7.3" fill="#c4d8ea" opacity="0.35"/>
<ellipse cx="215.3" cy="485.7" rx="10.3" ry="7.3" fill="#c4d8ea" opacity="0.35"/>
<ellipse cx="205.8" cy="487.1" rx="10.3" ry="7.3" fill="#c4d8ea" opacity="0.35"/>
<text x="204.0" y="496.6" font-size="16" text-anchor="middle" fill="#161616" >Idi</text>
<linearGradient id="bg8" x1="0.2" y1="0" x2="0.6" y2="1"><stop offset="0" stop-color="#f6dfab"/><stop offset="0.55" stop-color="#f5d99c"/><stop offset="1" stop-color="#ebd096"/></linearGradient>
<path d="M312.2 509l1.2 1 .5 1.1 .5 1.2 .3 1.3 .1 1.2 0 1.3-.2 1.4-.3 1.2-.6 1.3-.7 1.1-.8 1-1 .8-1.1 .7-1.1 .5-1.1 .7-.7 1.1-.8 .9-1 .8-1.1 .8-1.1 .6-1.1 .5-1.2 .4-1.3 .3-1.2 .3-1.3 .1-1.3 0-1.2-.1-1.3-.3-1.2-.5-1.2 0-1.3 .8-1.2 .5-1.3 .3-1.3 .1-1.2 .1-1.3-.1-1.3-.2-1.2-.3-1.2-.5-1.2-.5-1.1-.8-1-.9-.9-1.1-1.2-.2-1.5 .5-1.4 0-1.2-.3-1.1-.5-1-.9-.8-1.2-.5-1.7-1.6 .4-1.3-.3-1.3-.5-1.2-.8-.9-1-.8-1.1-.5-1.4-.3-1.3 .1-1.4 .3-1.3 .7-1.3 0-1.2-1-1.3-.5-1.2-.3-1.3-.1-1.3 .2-1.3 .3-1.2 .6-1.2 .8-1.1 1.1-1 .9-1-.5-1.5 0-1.3 .2-1.3 .5-1.3 .7-1.1 .9-1.1 1-.8 1.2-.7 1.3-.4 1.3-.1 1.3-.1 .8-1.2 1.1-.8 1.2-.6 1.2-.3 1.2-.1 1.3 .2 1.3 .4 1.3 0 1.1-1.2 1.2-.7 1.2-.4 1.3 0 1.3 .2 1.2 .6 1.2 1 1.2 .8 1.3-1 1.3-.6 1.2-.3 1.3 0 1.3 .1 1.3 .4 1.2 .5 1.1 .8 .9 1.1 .5 1.7 1.7-.6 1.6 .1 1.3 .5 1.1 .8 .9 1.1 .5 1.2 .2 1.4-.3 1.6 .4 1.2 1.4 .6 1.1 .8 1 .9 .7 .9 .7 1.1 .4 1.3 .3 1.3 0 1.4-.3 1.3z" fill="url(#bg8)"/>
<ellipse cx="287.9" cy="503.8" rx="10.3" ry="6.5" fill="#fbe6b4" opacity="0.35"/>
<ellipse cx="273.2" cy="512.2" rx="10.3" ry="6.5" fill="#fbe6b4" opacity="0.35"/>
<ellipse cx="278.4" cy="503.1" rx="10.3" ry="6.5" fill="#fbe6b4" opacity="0.35"/>
<text x="0" y="0" font-size="16" text-anchor="middle" fill="#161616" transform="translate(287.5,514.5) rotate(15)">CrtE</text>
<linearGradient id="ag9" gradientUnits="userSpaceOnUse" x1="307.5" y1="453.7" x2="368.0" y2="458.5"><stop offset="0" stop-color="#d2daf8"/><stop offset="0.6" stop-color="#8ea2ea"/><stop offset="1" stop-color="#8ea2ea"/></linearGradient>
<path d="M307.1 454.2l1.7 1.5 1.7 1.3 1.7 1.3 1.7 1.3 1.7 1.1 1.7 1.1 1.7 1 1.6 1 1.7 .9 1.7 .8 1.7 .7 1.7 .7 1.7 .6 1.7 .6 1.7 .5 1.7 .4 1.6 .3 1.7 .3 1.7 .2 1.7 .1 1.7 0 1.7 0 1.7-.1 1.6-.2 1.7-.2 1.7-.4 1.6-.4 1.7-.4 1.6-.6 1.7-.6 1.5 3.3 8.9-11.8-14.7-1 1.5 3.3-1.4 .7-1.3 .5-1.4 .6-1.3 .5-1.4 .4-1.4 .3-1.4 .3-1.4 .2-1.4 .2-1.5 .1-1.5 .1-1.4 0-1.6-.1-1.5-.2-1.5-.2-1.6-.2-1.6-.4-1.6-.4-1.6-.4-1.7-.6-1.6-.6-1.7-.7-1.7-.7-1.7-.8-1.7-.9-1.8-.9-1.8-1-1.8-1.1-1.8-1.1-1.8-1.2z" fill="url(#ag9)"/>
<text x="392.7" y="425.9" font-size="16" text-anchor="middle" fill="#161616" >GGPP</text>
<circle cx="392.0" cy="442.6" r="6.6" fill="url(#gP)"/>
<circle cx="379.0" cy="462.6" r="6.6" fill="url(#gP)"/>
<circle cx="404.6" cy="462.6" r="6.6" fill="url(#gP)"/>
<text x="433.0" y="379.0" font-size="16" text-anchor="middle" fill="#161616" >(b)</text>
<text x="517.0" y="396.6" font-size="16" text-anchor="middle" fill="#161616" >P-coumaric acid</text>
<circle cx="497.6" cy="414.5" r="6.6" fill="url(#gG)"/>
<circle cx="486.0" cy="429.0" r="6.6" fill="url(#gG)"/>
<circle cx="507.6" cy="431.0" r="6.6" fill="url(#gG)"/>
<linearGradient id="ag10" gradientUnits="userSpaceOnUse" x1="495.0" y1="440.0" x2="523.7" y2="477.0"><stop offset="0" stop-color="#d2daf8"/><stop offset="0.6" stop-color="#8ea2ea"/><stop offset="1" stop-color="#8ea2ea"/></linearGradient>
<path d="M494.4 440l0 2.3 0 2.2 .1 2.1 .1 2 .1 2 .2 1.9 .2 1.9 .3 1.7 .2 1.8 .3 1.6 .4 1.6 .3 1.5 .4 1.5 .5 1.4 .4 1.3 .5 1.3 .6 1.2 .6 1.1 .6 1.1 .7 1 .7 1 .7 .9 .9 .9 .8 .7 1 .7 1 .6 1 .6 1.1 .4 1.1 .4 1.2 .2-.4 3.6 13.7-5.5-12.1-8.4-.4 3.6-.7-.1-.6 0-.6-.2-.6-.1-.7-.3-.6-.3-.6-.3-.6-.5-.6-.5-.6-.6-.7-.7-.6-.8-.6-.8-.6-1-.5-1-.6-1.1-.5-1.2-.6-1.3-.5-1.3-.4-1.5-.5-1.5-.5-1.6-.4-1.7-.4-1.7-.4-1.8-.3-1.9-.3-2-.4-2.1-.3-2.1-.3-2.2z" fill="url(#ag10)"/>
<path d="M590.4,502.9Q594.9,500.8 598.2,497.3M598.3,506.3Q602.8,504.2 606.1,500.7M606.2,509.7Q610.7,507.6 614.0,504.1M614.1,513.1Q618.6,511.0 621.9,507.5M622.0,516.5Q626.5,514.4 629.8,510.9M629.9,519.9Q634.4,517.8 637.7,514.3M637.8,523.3Q642.3,521.2 645.6,517.7M645.7,526.6Q650.2,524.5 653.5,521.1M653.6,530.0Q658.1,527.9 661.4,524.5M661.5,533.4Q666.0,531.3 669.3,527.9M669.4,536.8Q673.9,534.7 677.2,531.3M677.3,540.2Q681.8,538.1 685.1,534.7M685.2,543.6Q689.7,541.5 693.0,538.1" fill="none" stroke="#6e6ca4" stroke-width="3.6" stroke-linecap="round"/>
<path d="M590.4,502.9Q594.9,500.8 598.2,497.3M598.3,506.3Q602.8,504.2 606.1,500.7M606.2,509.7Q610.7,507.6 614.0,504.1M614.1,513.1Q618.6,511.0 621.9,507.5M622.0,516.5Q626.5,514.4 629.8,510.9M629.9,519.9Q634.4,517.8 637.7,514.3M637.8,523.3Q642.3,521.2 645.6,517.7M645.7,526.6Q650.2,524.5 653.5,521.1M653.6,530.0Q658.1,527.9 661.4,524.5M661.5,533.4Q666.0,531.3 669.3,527.9M669.4,536.8Q673.9,534.7 677.2,531.3M677.3,540.2Q681.8,538.1 685.1,534.7M685.2,543.6Q689.7,541.5 693.0,538.1" fill="none" stroke="#9694cf" stroke-width="2.2" stroke-linecap="round"/>
<path d="M590.3,493.9Q587.3,498.2 590.4,502.9M598.2,497.3Q595.2,501.6 598.3,506.3M606.1,500.7Q603.2,505.0 606.2,509.7M614.0,504.1Q611.1,508.4 614.1,513.1M621.9,507.5Q619.0,511.8 622.0,516.5M629.8,510.9Q626.9,515.2 629.9,519.9M637.7,514.3Q634.8,518.6 637.8,523.3M645.6,517.7Q642.7,522.0 645.7,526.6M653.5,521.1Q650.6,525.4 653.6,530.0M661.4,524.5Q658.5,528.8 661.5,533.4M669.3,527.9Q666.4,532.2 669.4,536.8M677.2,531.3Q674.3,535.6 677.3,540.2M685.1,534.7Q682.2,539.0 685.2,543.6M693.0,538.1Q690.1,542.4 693.1,547.0" fill="none" stroke="#6e6ca4" stroke-width="5.6" stroke-linecap="butt"/>
<path d="M590.3,493.9Q587.3,498.2 590.4,502.9M598.2,497.3Q595.2,501.6 598.3,506.3M606.1,500.7Q603.2,505.0 606.2,509.7M614.0,504.1Q611.1,508.4 614.1,513.1M621.9,507.5Q619.0,511.8 622.0,516.5M629.8,510.9Q626.9,515.2 629.9,519.9M637.7,514.3Q634.8,518.6 637.8,523.3M645.6,517.7Q642.7,522.0 645.7,526.6M653.5,521.1Q650.6,525.4 653.6,530.0M661.4,524.5Q658.5,528.8 661.5,533.4M669.3,527.9Q666.4,532.2 669.4,536.8M677.2,531.3Q674.3,535.6 677.3,540.2M685.1,534.7Q682.2,539.0 685.2,543.6M693.0,538.1Q690.1,542.4 693.1,547.0" fill="none" stroke="#bdbbf0" stroke-width="4.0" stroke-linecap="butt"/>
<path d="M588.3,526.5Q590.4,522.0 590.8,517.2M596.6,524.1Q598.7,519.6 599.0,514.8M604.8,521.6Q606.9,517.2 607.3,512.4M613.1,519.2Q615.2,514.7 615.5,509.9M621.3,516.8Q623.4,512.3 623.8,507.5M629.6,514.3Q631.6,509.8 632.0,505.0M637.8,511.9Q639.9,507.4 640.3,502.6M646.1,509.4Q648.1,505.0 648.5,500.2M654.3,507.0Q656.4,502.5 656.8,497.7M662.5,504.6Q664.6,500.1 665.0,495.3M670.8,502.1Q672.9,497.7 673.3,492.8M679.0,499.7Q681.1,495.2 681.5,490.4M687.3,497.2Q689.4,492.8 689.7,488.0" fill="none" stroke="#a06a82" stroke-width="3.6" stroke-linecap="round"/>
<path d="M588.3,526.5Q590.4,522.0 590.8,517.2M596.6,524.1Q598.7,519.6 599.0,514.8M604.8,521.6Q606.9,517.2 607.3,512.4M613.1,519.2Q615.2,514.7 615.5,509.9M621.3,516.8Q623.4,512.3 623.8,507.5M629.6,514.3Q631.6,509.8 632.0,505.0M637.8,511.9Q639.9,507.4 640.3,502.6M646.1,509.4Q648.1,505.0 648.5,500.2M654.3,507.0Q656.4,502.5 656.8,497.7M662.5,504.6Q664.6,500.1 665.0,495.3M670.8,502.1Q672.9,497.7 673.3,492.8M679.0,499.7Q681.1,495.2 681.5,490.4M687.3,497.2Q689.4,492.8 689.7,488.0" fill="none" stroke="#d494ac" stroke-width="2.2" stroke-linecap="round"/>
<path d="M582.5,519.7Q583.0,524.9 588.3,526.5M590.8,517.2Q591.2,522.4 596.6,524.1M599.0,514.8Q599.5,520.0 604.8,521.6M607.3,512.4Q607.7,517.6 613.1,519.2M615.5,509.9Q616.0,515.1 621.3,516.8M623.8,507.5Q624.2,512.7 629.6,514.3M632.0,505.0Q632.5,510.2 637.8,511.9M640.3,502.6Q640.7,507.8 646.1,509.4M648.5,500.2Q649.0,505.4 654.3,507.0M656.8,497.7Q657.2,502.9 662.5,504.6M665.0,495.3Q665.5,500.5 670.8,502.1M673.3,492.8Q673.7,498.0 679.0,499.7M681.5,490.4Q682.0,495.6 687.3,497.2M689.7,488.0Q690.2,493.2 695.5,494.8" fill="none" stroke="#a06a82" stroke-width="5.6" stroke-linecap="butt"/>
<path d="M582.5,519.7Q583.0,524.9 588.3,526.5M590.8,517.2Q591.2,522.4 596.6,524.1M599.0,514.8Q599.5,520.0 604.8,521.6M607.3,512.4Q607.7,517.6 613.1,519.2M615.5,509.9Q616.0,515.1 621.3,516.8M623.8,507.5Q624.2,512.7 629.6,514.3M632.0,505.0Q632.5,510.2 637.8,511.9M640.3,502.6Q640.7,507.8 646.1,509.4M648.5,500.2Q649.0,505.4 654.3,507.0M656.8,497.7Q657.2,502.9 662.5,504.6M665.0,495.3Q665.5,500.5 670.8,502.1M673.3,492.8Q673.7,498.0 679.0,499.7M681.5,490.4Q682.0,495.6 687.3,497.2M689.7,488.0Q690.2,493.2 695.5,494.8" fill="none" stroke="#f2bed0" stroke-width="4.0" stroke-linecap="butt"/>
<linearGradient id="bg11" x1="0.2" y1="0" x2="0.6" y2="1"><stop offset="0" stop-color="#b1b8e0"/><stop offset="0.55" stop-color="#a3abdb"/><stop offset="1" stop-color="#9ca4d2"/></linearGradient>
<path d="M588.3 485.6l2.2 1 .8 1.2 .4 1.2 .1 1.3-.2 1.3-.7 1.3-1.4 1.1 1 1.4 .9 1.4 .3 1.5-.2 1.5-.8 1.3-1.2 .9-1.6 .5-2.2-.4-.3 1.5-.7 1.1-1.1 .9-1 .7-1.3 .5-1.2 .3-1.3 .2-1.2 .1-1.3-.1-1.3-.4-1.3-.6-1.2 .8-1.2 .5-1.2 .4-1.2 .2-1.3 .2-1.2 .1-1.2 .1-1.3 0-1.2-.1-1.3-.1-1.2-.2-1.3-.3-1.2-.6-1.2 .6-1.2 1.2-1.3 .7-1.2 .3-1.3 0-1.3-.4-1.2-.8-1.1-1.4-1.2-.3-1.4 .8-1.4 .3-1.3-.1-1.3-.4-1.2-.6-1-1-.6-1.4-.8-1-1.5-.1-1.3-.5-1.1-.7-.9-.9-.8-1-.6-1.1-.5-1.3-.1-1.4 .2-1.5-1.3-.7-1-.9-.8-1.1-.6-1.2-.5-1.2-.3-1.3-.2-1.2-.1-1.3 .1-1.3 .1-1.3 .3-1.2 .4-1.3 .7-1.2 1-1-1.1-1.5-.3-1.4 .1-1.4 .4-1.2 .7-1.2 .9-1 1.1-.7 1.6-.4 .8-.9 .1-1.6 .3-1.4 .7-1.3 .8-1.1 .9-1 1.1-.8 1.3-.7 1.3-.5 1.3-.2 1.4-.1 1.4 .2 1.4 .5 1.4 1.1 1.1-1 1.2-.6 1.2-.4 1.3-.3 1.3-.1 1.2-.1 1.3 .1 1.2 .1 1.2 .2 1.3 .4 1.2 .4 1.1 .6 1.2 .8 1.2 0 1.4-.6 1.3-.1 1.3 .1 1.2 .3 1.2 .6 1 .8 .9 1.1 .8 1.4 1.6-.6 1.4-.1 1.3 .1 1.2 .3 1.3 .4 1.1 .6 1.1 .6 1 .9 .9 1 .7 1.2 .4 1.5 .3 1.3 1.6 .3 1.3 .7 1 .9 .8 1.1 .6 1.3 .4 1.2 .1 1.4 0 1.3-.3 1.3-.6 1.3z" fill="url(#bg11)"/>
<ellipse cx="563.6" cy="482.7" rx="11.9" ry="7.0" fill="#c0c6ea" opacity="0.35"/>
<ellipse cx="566.4" cy="473.7" rx="11.9" ry="7.0" fill="#c0c6ea" opacity="0.35"/>
<ellipse cx="565.5" cy="481.4" rx="11.9" ry="7.0" fill="#c0c6ea" opacity="0.35"/>
<text x="558.0" y="495.1" font-size="16" text-anchor="middle" fill="#161616" >4CL</text>
<text x="644.3" y="430.2" font-size="16" text-anchor="middle" fill="#161616" >P-coumaroyl-CoA</text>
<circle cx="645.7" cy="450.3" r="6.6" fill="url(#gP)"/>
<circle cx="635.7" cy="466.0" r="6.6" fill="url(#gP)"/>
<circle cx="654.0" cy="467.0" r="6.6" fill="url(#gP)"/>
<linearGradient id="ag12" gradientUnits="userSpaceOnUse" x1="609.0" y1="478.7" x2="679.0" y2="478.7"><stop offset="0" stop-color="#d2daf8"/><stop offset="0.6" stop-color="#8ea2ea"/><stop offset="1" stop-color="#8ea2ea"/></linearGradient>
<path d="M608.8 479.2l2.1 1.2 2.2 1.1 2.2 1 2.2 .9 2.1 .9 2.2 .8 2.1 .8 2.1 .7 2.1 .6 2.1 .6 2 .5 2.1 .5 2 .4 2 .3 2 .3 2 .3 2 .1 1.9 .1 1.9 .1 2 0 1.9-.1 1.9-.1 1.8-.2 1.9-.3 1.8-.3 1.9-.4 1.8-.4 1.7-.5 1.8-.6 1.8-.6 1.4 3.3 9.2-11.5-14.7-1.4 1.4 3.4-1.5 .6-1.5 .7-1.5 .5-1.6 .6-1.5 .4-1.6 .5-1.7 .3-1.6 .4-1.7 .2-1.8 .2-1.7 .2-1.8 .1-1.8 .1-1.8 0-1.9-.1-1.9-.1-1.9-.1-2-.3-1.9-.2-2.1-.4-2-.3-2.1-.5-2.1-.5-2.1-.5-2.1-.6-2.2-.7-2.2-.7-2.3-.7-2.2-.8-2.4-.8z" fill="url(#ag12)"/>
<linearGradient id="bg13" x1="0.2" y1="0" x2="0.6" y2="1"><stop offset="0" stop-color="#f4d4ce"/><stop offset="0.55" stop-color="#f2ccc5"/><stop offset="1" stop-color="#e8c4bd"/></linearGradient>
<path d="M753.7 491.4l2.3 1 .9 1.2 .5 1.2 .1 1.3-.1 1.2-.5 1.3-.9 1.3-.7 1.1 .7 1.3 .2 1.4 0 1.3-.3 1.3-.6 1.2-.8 1.1-1 .9-1.2 .6-1.6 .2 .2 1.9-.6 1.5-.8 1.2-1.1 .9-1.1 .6-1.4 .3-1.3 .1-1.4-.3-1.6-.8-1.3 .2-.9 1-1.1 .7-1.1 .7-1.2 .5-1.3 .4-1.2 .2-1.2 .2-1.3 .1-1.2 .1-1.3-.1-1.3-.2-1.2-.2-1.3-.4-1.2-.5-1.1-1.2-1.3 1.2-1.4 .2-1.3 0-1.2-.2-1.3-.3-1.2-.6-1.1-.7-1-.8-.9-.9-.8-1.1-.5-1.3-.3-1.4-1.8 0-1.4-.4-1.2-.6-1.1-.9-1-.9-.8-1.1-.6-1.2-.5-1.3-.2-1.4-.1-1.3 .2-1.5 .5-1.3 1-1.4-.9-1.1-1.5-1.2-.8-1.2-.4-1.3 0-1.2 .5-1.3 .9-1.2 1.8-1.2-.2-1.2-1.1-1.3-.6-1.4-.4-1.3-.2-1.3 .1-1.3 .3-1.3 .5-1.2 .7-1.1 .9-1.1 1.2-.9 2.1-.6-.7-1.6-.5-1.5 0-1.5 .2-1.4 .4-1.4 .8-1.3 1-1.1 1.1-.9 1.3-.8 1.5-.4 1.5-.2 1.4 .1 1.4 .5 1.4 .8 1.2 2.2 1.2-2.4 1.3-.5 1.3-.3 1.3-.2 1.2 0 1.3 .2 1.2 .2 1.2 .4 1.2 .4 1.1 .6 1.1 .9 1 1.1 1.4-.6 1.3-.2 1.3 0 1.3 .2 1.2 .2 1.2 .3 1.2 .3 1.2 .5 1.2 .5 1.1 .7 1.1 .7 1 1 .8 1 .7 1.1 .4 1.2 .4 1.2 1.3 .6 1 .8 .9 1 .8 1.1 .6 1 .6 1.2 .5 1.2 .3 1.2 .3 1.3 .1 1.2 .1 1.3-.1 1.3-.1 1.3-.4 1.2z" fill="url(#bg13)"/>
<ellipse cx="720.5" cy="487.6" rx="10.4" ry="8.3" fill="#f8dcd6" opacity="0.35"/>
<ellipse cx="720.1" cy="487.9" rx="10.4" ry="8.3" fill="#f8dcd6" opacity="0.35"/>
<ellipse cx="730.7" cy="495.3" rx="10.4" ry="8.3" fill="#f8dcd6" opacity="0.35"/>
<text x="729.5" y="497.6" font-size="16" text-anchor="middle" fill="#161616" >STS</text>
<text x="784.5" y="404.6" font-size="16" text-anchor="middle" fill="#161616" >Resveratrol</text>
<circle cx="796.0" cy="421.0" r="6.6" fill="url(#gO)"/>
<circle cx="788.0" cy="442.6" r="6.6" fill="url(#gO)"/>
<circle cx="807.3" cy="442.6" r="6.6" fill="url(#gO)"/>
<linearGradient id="ag14" gradientUnits="userSpaceOnUse" x1="764.5" y1="488.8" x2="801.0" y2="458.7"><stop offset="0" stop-color="#d2daf8"/><stop offset="0.6" stop-color="#8ea2ea"/><stop offset="1" stop-color="#8ea2ea"/></linearGradient>
<path d="M764.5 489.4l1.8 .2 1.8 .2 1.7 .1 1.7 0 1.7 0 1.6-.1 1.6-.1 1.5-.1 1.5-.3 1.4-.2 1.5-.3 1.3-.4 1.4-.4 1.3-.5 1.2-.6 1.2-.5 1.2-.7 1.1-.7 1.1-.8 1.1-.8 .9-.9 1-.9 .9-1 .8-1.1 .8-1.1 .7-1.1 .7-1.2 .6-1.3 .6-1.3 .5-1.4 3.4 1-3.1-14.4-10.3 10.6 3.4 1-.2 1.1-.3 1-.4 1-.4 1-.4 1-.5 .9-.5 .9-.6 .8-.6 .8-.7 .8-.7 .8-.7 .7-.9 .7-.8 .6-1 .7-1 .5-1 .6-1.1 .5-1.2 .5-1.2 .5-1.3 .4-1.3 .4-1.4 .3-1.4 .3-1.6 .3-1.5 .2-1.7 .2-1.6 .2-1.8 .1-1.8 .1z" fill="url(#ag14)"/>
<text x="846.5" y="380.1" font-size="16" text-anchor="middle" fill="#161616" >(c)</text>
<text x="899.7" y="408.6" font-size="16" text-anchor="middle" fill="#161616" >acetyl-CoA</text>
<text x="1001.0" y="373.6" font-size="16" text-anchor="middle" fill="#161616" >Acetoacetyl</text>
<text x="1000.4" y="393.1" font-size="16" text-anchor="middle" fill="#161616" >-CoA</text>
<text x="1084.7" y="373.6" font-size="16" text-anchor="middle" fill="#161616" >HMG-</text>
<text x="1085.0" y="395.1" font-size="16" text-anchor="middle" fill="#161616" >CoA</text>
<text x="1186.4" y="407.8" font-size="16" text-anchor="middle" fill="#161616" >mevalonate</text>
<circle cx="896.0" cy="423.5" r="6.6" fill="url(#gG)"/>
<circle cx="884.8" cy="438.0" r="6.6" fill="url(#gG)"/>
<circle cx="905.0" cy="439.8" r="6.6" fill="url(#gG)"/>
<circle cx="1002.0" cy="408.0" r="6.6" fill="url(#gP)"/>
<circle cx="990.0" cy="427.7" r="6.6" fill="url(#gP)"/>
<circle cx="1013.5" cy="427.7" r="6.6" fill="url(#gP)"/>
<circle cx="1084.6" cy="408.8" r="6.6" fill="url(#gB)"/>
<circle cx="1075.5" cy="426.7" r="6.6" fill="url(#gB)"/>
<circle cx="1098.4" cy="425.7" r="6.6" fill="url(#gB)"/>
<circle cx="1191.7" cy="422.5" r="6.6" fill="url(#gO)"/>
<circle cx="1182.0" cy="442.0" r="6.6" fill="url(#gO)"/>
<circle cx="1202.0" cy="442.0" r="6.6" fill="url(#gO)"/>
<linearGradient id="ag15" gradientUnits="userSpaceOnUse" x1="895.3" y1="451.0" x2="928.0" y2="482.0"><stop offset="0" stop-color="#d2daf8"/><stop offset="0.6" stop-color="#8ea2ea"/><stop offset="1" stop-color="#8ea2ea"/></linearGradient>
<path d="M894.7 451.1l0 1.9 .1 1.9 .2 1.8 .1 1.7 .3 1.8 .2 1.6 .3 1.6 .4 1.5 .3 1.5 .4 1.5 .5 1.3 .5 1.4 .5 1.2 .6 1.3 .6 1.1 .7 1.2 .7 1 .8 1 .8 1 .9 .9 .9 .8 1 .8 1 .7 1 .6 1.1 .6 1.2 .5 1.2 .4 1.2 .4 1.3 .2 1.3 .2-.2 3.6 13.4-6.1-12.5-7.8-.2 3.5-1 0-.9 0-.9-.1-.8-.2-.8-.2-.9-.3-.7-.3-.8-.4-.8-.4-.7-.5-.8-.6-.7-.6-.7-.7-.7-.7-.7-.9-.6-.9-.7-.9-.6-1.1-.6-1.1-.6-1.2-.5-1.2-.5-1.4-.5-1.4-.5-1.4-.5-1.6-.4-1.6-.4-1.6-.4-1.8-.3-1.8-.4-1.9z" fill="url(#ag15)"/>
<linearGradient id="ag16" gradientUnits="userSpaceOnUse" x1="973.6" y1="438.0" x2="1026.0" y2="441.4"><stop offset="0" stop-color="#d2daf8"/><stop offset="0.6" stop-color="#8ea2ea"/><stop offset="1" stop-color="#8ea2ea"/></linearGradient>
<path d="M973.3 438.5l1.3 1.1 1.4 1 1.3 .9 1.4 .9 1.4 .8 1.4 .8 1.3 .8 1.4 .7 1.4 .6 1.4 .6 1.4 .6 1.4 .5 1.3 .5 1.4 .4 1.4 .4 1.4 .3 1.4 .3 1.4 .2 1.4 .2 1.4 .1 1.4 .1 1.4 0 1.4 0 1.4 0 1.4-.1 1.4-.2 1.3-.2 1.4-.3 1.4-.3 1.4-.4 1.2 3.4 10-10.8-14.6-2.4 1.2 3.4-1.1 .4-1.1 .4-1.2 .4-1.1 .3-1.2 .3-1.1 .2-1.2 .2-1.2 .2-1.2 .1-1.2 .1-1.2 0-1.3 0-1.2 0-1.3-.1-1.3-.2-1.3-.1-1.3-.3-1.3-.2-1.3-.3-1.3-.4-1.4-.4-1.4-.4-1.4-.5-1.4-.6-1.4-.5-1.4-.7-1.4-.6-1.5-.7-1.5-.8-1.5-.7z" fill="url(#ag16)"/>
<linearGradient id="ag17" gradientUnits="userSpaceOnUse" x1="1060.0" y1="437.5" x2="1112.4" y2="439.8"><stop offset="0" stop-color="#d2daf8"/><stop offset="0.6" stop-color="#8ea2ea"/><stop offset="1" stop-color="#8ea2ea"/></linearGradient>
<path d="M1059.7 438l1.3 1.1 1.4 1 1.4 1 1.5 .9 1.4 .9 1.4 .8 1.4 .7 1.4 .7 1.4 .7 1.4 .6 1.4 .6 1.4 .5 1.4 .4 1.4 .4 1.4 .4 1.4 .3 1.4 .3 1.4 .2 1.4 .1 1.4 .1 1.4 .1 1.4 0 1.4-.1 1.4-.1 1.4-.1 1.4-.3 1.4-.2 1.4-.4 1.3-.4 1.4-.4 1.3 3.3 9.5-11.3-14.7-1.7 1.4 3.4-1.1 .5-1.1 .4-1.1 .4-1.1 .4-1.2 .3-1.1 .3-1.2 .2-1.1 .2-1.2 .2-1.2 .1-1.2 .1-1.2 0-1.3 0-1.3-.1-1.2-.1-1.3-.2-1.3-.2-1.4-.3-1.3-.3-1.4-.3-1.3-.4-1.4-.5-1.4-.5-1.5-.5-1.4-.6-1.4-.6-1.5-.7-1.5-.8-1.5-.7-1.6-.8z" fill="url(#ag17)"/>
<linearGradient id="ag18" gradientUnits="userSpaceOnUse" x1="1159.7" y1="483.0" x2="1195.6" y2="454.5"><stop offset="0" stop-color="#d2daf8"/><stop offset="0.6" stop-color="#8ea2ea"/><stop offset="1" stop-color="#8ea2ea"/></linearGradient>
<path d="M1159.7 483.6l1.9 .1 1.8 0 1.8 0 1.7-.1 1.7-.1 1.7-.1 1.6-.2 1.5-.2 1.5-.2 1.5-.3 1.4-.3 1.3-.4 1.3-.4 1.3-.4 1.2-.5 1.2-.5 1.2-.6 1-.6 1.1-.6 1-.7 .9-.8 .9-.8 .9-.8 .8-.9 .7-.9 .7-1 .6-1 .6-1.1 .5-1.1 .4-1.2 3.5 1-3.3-14.4-10.2 10.7 3.5 .9-.2 .8-.2 .8-.3 .8-.3 .8-.4 .7-.4 .7-.4 .7-.5 .7-.6 .7-.6 .7-.7 .6-.7 .6-.8 .7-.9 .5-.9 .6-1 .6-1.1 .5-1.1 .5-1.2 .5-1.2 .5-1.3 .4-1.4 .4-1.4 .4-1.5 .4-1.5 .3-1.6 .3-1.7 .3-1.7 .3-1.8 .2-1.8 .3z" fill="url(#ag18)"/>
<path d="M963.0,506.0 C963.1,506.1 963.4,506.3 963.6,506.4 C963.8,506.6 964.0,506.8 964.2,506.9 C964.4,507.0 964.5,507.2 964.7,507.4 C964.8,507.5 965.0,507.7 965.1,507.8 C965.2,507.9 965.3,508.1 965.4,508.2 C965.5,508.4 965.5,508.6 965.6,508.7 C965.6,508.8 965.6,509.0 965.6,509.1 C965.6,509.3 965.5,509.5 965.5,509.6 C965.4,509.8 965.3,509.9 965.2,510.1 C965.1,510.2 965.0,510.4 964.8,510.5 C964.7,510.6 964.5,510.8 964.4,510.9 C964.2,511.1 964.0,511.2 963.8,511.4 C963.6,511.5 963.4,511.7 963.2,511.9 C963.0,512.0 962.8,512.1 962.6,512.3 C962.4,512.4 962.2,512.6 962.0,512.8 C961.8,512.9 961.6,513.1 961.5,513.2 C961.3,513.4 961.2,513.5 961.0,513.6 C960.9,513.8 960.8,514.0 960.7,514.1 C960.6,514.2 960.5,514.4 960.5,514.5 C960.4,514.7 960.4,514.9 960.4,515.0 C960.4,515.1 960.4,515.3 960.5,515.5 C960.5,515.6 960.6,515.8 960.7,515.9 C960.8,516.0 960.9,516.2 961.0,516.4 C961.2,516.5 961.3,516.6 961.5,516.8 C961.6,516.9 961.8,517.1 962.0,517.2 C962.2,517.4 962.4,517.6 962.6,517.7 C962.8,517.9 963.0,518.0 963.2,518.1 C963.4,518.3 963.6,518.5 963.8,518.6 C964.0,518.8 964.2,518.9 964.4,519.0 C964.5,519.2 964.7,519.4 964.8,519.5 C965.0,519.6 965.1,519.8 965.2,520.0 C965.3,520.1 965.4,520.2 965.5,520.4 C965.5,520.5 965.6,520.7 965.6,520.9 C965.6,521.0 965.6,521.1 965.6,521.3 C965.5,521.4 965.5,521.6 965.4,521.8 C965.3,521.9 965.2,522.1 965.1,522.2 C965.0,522.4 964.8,522.5 964.7,522.6 C964.5,522.8 964.4,523.0 964.2,523.1 C964.0,523.2 963.8,523.4 963.6,523.5 C963.4,523.7 963.1,523.9 963.0,524.0" fill="none" stroke="#1a1a1a" stroke-width="1.9" stroke-linecap="round"/>
<path d="M1040.0,508.0 C1040.1,508.1 1040.4,508.3 1040.6,508.4 C1040.8,508.6 1041.0,508.8 1041.2,508.9 C1041.4,509.0 1041.5,509.2 1041.7,509.4 C1041.8,509.5 1042.0,509.7 1042.1,509.8 C1042.2,509.9 1042.3,510.1 1042.4,510.2 C1042.5,510.4 1042.5,510.6 1042.6,510.7 C1042.6,510.8 1042.6,511.0 1042.6,511.1 C1042.6,511.3 1042.5,511.5 1042.5,511.6 C1042.4,511.8 1042.3,511.9 1042.2,512.0 C1042.1,512.2 1042.0,512.4 1041.8,512.5 C1041.7,512.6 1041.5,512.8 1041.4,513.0 C1041.2,513.1 1041.0,513.2 1040.8,513.4 C1040.6,513.5 1040.4,513.7 1040.2,513.9 C1040.0,514.0 1039.8,514.1 1039.6,514.3 C1039.4,514.4 1039.2,514.6 1039.0,514.8 C1038.8,514.9 1038.6,515.1 1038.5,515.2 C1038.3,515.4 1038.2,515.5 1038.0,515.6 C1037.9,515.8 1037.8,516.0 1037.7,516.1 C1037.6,516.2 1037.5,516.4 1037.5,516.5 C1037.4,516.7 1037.4,516.9 1037.4,517.0 C1037.4,517.1 1037.4,517.3 1037.5,517.5 C1037.5,517.6 1037.6,517.8 1037.7,517.9 C1037.8,518.0 1037.9,518.2 1038.0,518.4 C1038.2,518.5 1038.3,518.6 1038.5,518.8 C1038.6,518.9 1038.8,519.1 1039.0,519.2 C1039.2,519.4 1039.4,519.6 1039.6,519.7 C1039.8,519.9 1040.0,520.0 1040.2,520.1 C1040.4,520.3 1040.6,520.5 1040.8,520.6 C1041.0,520.8 1041.2,520.9 1041.4,521.0 C1041.5,521.2 1041.7,521.4 1041.8,521.5 C1042.0,521.6 1042.1,521.8 1042.2,522.0 C1042.3,522.1 1042.4,522.2 1042.5,522.4 C1042.5,522.5 1042.6,522.7 1042.6,522.9 C1042.6,523.0 1042.6,523.1 1042.6,523.3 C1042.5,523.4 1042.5,523.6 1042.4,523.8 C1042.3,523.9 1042.2,524.1 1042.1,524.2 C1042.0,524.4 1041.8,524.5 1041.7,524.6 C1041.5,524.8 1041.4,525.0 1041.2,525.1 C1041.0,525.2 1040.8,525.4 1040.6,525.5 C1040.4,525.7 1040.1,525.9 1040.0,526.0" fill="none" stroke="#1a1a1a" stroke-width="1.9" stroke-linecap="round"/>
<path d="M1118.0,511.0 C1118.1,511.1 1118.4,511.3 1118.6,511.5 C1118.8,511.6 1119.0,511.8 1119.2,511.9 C1119.4,512.1 1119.5,512.3 1119.7,512.4 C1119.8,512.6 1120.0,512.7 1120.1,512.9 C1120.2,513.1 1120.3,513.2 1120.4,513.4 C1120.5,513.5 1120.5,513.7 1120.6,513.9 C1120.6,514.0 1120.6,514.2 1120.6,514.3 C1120.6,514.5 1120.5,514.6 1120.5,514.8 C1120.4,515.0 1120.3,515.1 1120.2,515.3 C1120.1,515.4 1120.0,515.6 1119.8,515.8 C1119.7,515.9 1119.5,516.1 1119.4,516.2 C1119.2,516.4 1119.0,516.5 1118.8,516.7 C1118.6,516.9 1118.4,517.0 1118.2,517.2 C1118.0,517.3 1117.8,517.5 1117.6,517.6 C1117.4,517.8 1117.2,518.0 1117.0,518.1 C1116.8,518.3 1116.6,518.4 1116.5,518.6 C1116.3,518.8 1116.2,518.9 1116.0,519.1 C1115.9,519.2 1115.8,519.4 1115.7,519.5 C1115.6,519.7 1115.5,519.9 1115.5,520.0 C1115.4,520.2 1115.4,520.3 1115.4,520.5 C1115.4,520.7 1115.4,520.8 1115.5,521.0 C1115.5,521.1 1115.6,521.3 1115.7,521.5 C1115.8,521.6 1115.9,521.8 1116.0,521.9 C1116.2,522.1 1116.3,522.2 1116.5,522.4 C1116.6,522.6 1116.8,522.7 1117.0,522.9 C1117.2,523.0 1117.4,523.2 1117.6,523.4 C1117.8,523.5 1118.0,523.7 1118.2,523.8 C1118.4,524.0 1118.6,524.1 1118.8,524.3 C1119.0,524.5 1119.2,524.6 1119.4,524.8 C1119.5,524.9 1119.7,525.1 1119.8,525.2 C1120.0,525.4 1120.1,525.6 1120.2,525.7 C1120.3,525.9 1120.4,526.0 1120.5,526.2 C1120.5,526.4 1120.6,526.5 1120.6,526.7 C1120.6,526.8 1120.6,527.0 1120.6,527.1 C1120.5,527.3 1120.5,527.5 1120.4,527.6 C1120.3,527.8 1120.2,527.9 1120.1,528.1 C1120.0,528.3 1119.8,528.4 1119.7,528.6 C1119.5,528.7 1119.4,528.9 1119.2,529.0 C1119.0,529.2 1118.8,529.4 1118.6,529.5 C1118.4,529.7 1118.1,529.9 1118.0,530.0" fill="none" stroke="#1a1a1a" stroke-width="1.9" stroke-linecap="round"/>
<linearGradient id="bg19" x1="0.2" y1="0" x2="0.6" y2="1"><stop offset="0" stop-color="#b3cdc1"/><stop offset="0.55" stop-color="#a6c4b6"/><stop offset="1" stop-color="#9fbcaf"/></linearGradient>
<path d="M986.3 479.4l3.3 1.2 1.3 1.3 .7 1.4 .3 1.4-.1 1.4-.5 1.3-.9 1.2-1.4 1-1.9 .5-1 .7 .5 1.9-.3 1.6-.8 1.3-1 .9-1.2 .6-1.5 .3-1.5-.3-2-1.3-.4 2.1-.8 1.3-.9 .8-1.1 .6-1.2 .4-1.3 .2-1.4-.3-1.8-1-.6 1.6-1 1-1.1 .7-1.2 .6-1.2 .5-1.2 .4-1.3 .2-1.2 .1-1.3 0-1.3-.1-1.3-.2-1.3-.4-1.2-.7-1.1-1.1-1.3 .7-1.5 .9-1.5 .4-1.4 .1-1.4-.3-1.3-.5-1.1-.8-1-1-.7-1.3-.5-1.5 0-1.8-.9-.8-1.5-.3-1.2-.7-1.1-.8-.9-1.1-.7-1.1-.6-1.2-.3-1.4-.1-1.3 .1-1.4 .4-1.3 .6-1.3 1.6-1.1-1.9-1.4-.9-1.3-.6-1.3-.2-1.4 0-1.3 .3-1.3 .5-1.2 .7-1.1 1-1.1 1.5-.8 2.5-.3-1.7-2-.5-1.6-.1-1.5 .3-1.3 .5-1.2 .8-1.1 1.1-.9 1.4-.6 1.8-.1 1.4-.3 .3-1.5 .8-1.1 1-1 1.1-.7 1.2-.6 1.3-.4 1.3-.2 1.3 0 1.3 .1 1.3 .3 1.2 .5 1.3 .8 1.2 .1 1.3-1.4 1.2-.9 1.3-.5 1.3-.3 1.2-.1 1.3 .2 1.2 .4 1.2 .6 1.2 1 1 1.4 1.2 .8 1.3-.7 1.4-.2 1.3 0 1.3 .1 1.2 .3 1.3 .5 1.2 .7 1 .8 1 1 .7 1.1 .6 1.2 .2 1.4-1 2 2.5 0 1.6 .7 1.2 .9 .9 1.1 .7 1.2 .4 1.4 .1 1.3-.1 1.4-.4 1.3-.7 1.4-1.1 1.3z" fill="url(#bg19)"/>
<ellipse cx="963.6" cy="470.3" rx="10.6" ry="7.3" fill="#b6d0c4" opacity="0.35"/>
<ellipse cx="968.4" cy="474.7" rx="10.6" ry="7.3" fill="#b6d0c4" opacity="0.35"/>
<ellipse cx="975.1" cy="471.9" rx="10.6" ry="7.3" fill="#b6d0c4" opacity="0.35"/>
<text x="961.2" y="486.2" font-size="16" text-anchor="middle" fill="#161616" >AtoB</text>
<linearGradient id="bg20" x1="0.2" y1="0" x2="0.6" y2="1"><stop offset="0" stop-color="#f6deb3"/><stop offset="0.55" stop-color="#f4d8a6"/><stop offset="1" stop-color="#eacf9f"/></linearGradient>
<path d="M1064.7 480.7l2.8 1.2 1.1 1.3 .6 1.3 .4 1.4 .1 1.5-.2 1.3-.5 1.4-.7 1.2-1 1.1-1.2 .8-1.5 .6-1.9 .2 .2 1.6 .4 2-.3 1.5-.7 1.1-1.2 .7-1.6 .2-2.2-.7-.7 1.2-.5 1.5-.8 1.1-1.1 .9-1.2 .6-1.3 .4-1.4-.1-1.4-.3-1.4-.9-1.2 .1-1.1 1.7-1.3 .9-1.2 .5-1.3 .2-1.3-.3-1.2-.6-1.3-1.1-1.1-2.2-1.3 .9-1.3 1.2-1.3 .7-1.4 .5-1.3 .2-1.4 0-1.2-.2-1.3-.4-1.2-.6-1.2-.9-1-1.1-.8-1.4-.4-2-1.4 .1-1.4 0-1.4-.4-1.2-.7-1-.9-.9-1-.7-1.3-.5-1.3-.2-1.3 0-1.4 .2-1.3 .5-1.3 1-1.2-.3-1.2-1.2-1.4-.7-1.3-.5-1.3-.2-1.4-.1-1.2 0-1.3 .2-1.2 .3-1.2 .5-1.2 .6-1.2 .9-1.1 1.1-1.1 1.5-.9 1.2-.9-2-1.9-.7-1.7 0-1.5 .6-1.3 1.1-1 1.7-.5 2.4 .4 .4-1.3 .2-1.6 .6-1.4 .9-1.1 1-.9 1.1-.6 1.3-.4 1.3-.2 1.5 .1 1.5 .5 1.3 .1 .8-1.7 1.1-1 1.2-.6 1.3-.1 1.3 .3 1.4 .8 1.3 1.4 1.1-2.5 1.2-1.4 1.3-.7 1.2-.3 1.4 .2 1.3 .8 1.2 1.4 .9 2.3 1.2-.1 1.5-.7 1.5-.2 1.4 .2 1.4 .5 1.2 .8 1 .9 .8 1.2 .5 1.3 .3 1.4-.2 1.7 .8 .9 1.7 .5 1.1 .8 .8 1 .4 1.2 .1 1.4-.4 1.5 .2 1.3 1.4 .7 1 1.1 .7 1.1 .3 1.4 .1 1.3-.3 1.3-.6 1.3z" fill="url(#bg20)"/>
<ellipse cx="1027.7" cy="477.5" rx="10.6" ry="7.9" fill="#fae2b6" opacity="0.35"/>
<ellipse cx="1029.0" cy="487.0" rx="10.6" ry="7.9" fill="#fae2b6" opacity="0.35"/>
<ellipse cx="1040.8" cy="467.3" rx="10.6" ry="7.9" fill="#fae2b6" opacity="0.35"/>
<text x="1040.5" y="487.6" font-size="16" text-anchor="middle" fill="#161616" >HMGS</text>
<linearGradient id="bg21" x1="0.2" y1="0" x2="0.6" y2="1"><stop offset="0" stop-color="#bad3e6"/><stop offset="0.55" stop-color="#aecbe2"/><stop offset="1" stop-color="#a7c3d9"/></linearGradient>
<path d="M1146.3 484.5l3.8 1.3 1.3 1.3 .4 1.4-.1 1.2-.9 1.2-1.6 1.1-2.1 .8 1.2 1.5 .6 1.4 .3 1.4 0 1.3-.2 1.3-.3 1.3-.6 1.2-.9 1.2-1 .9-1.2 .8-1.5 .5-1.7-.2-.4 1.5-.6 1.5-.9 1.1-1.3 .7-1.3 .2-1.4-.1-1.4-.6-1.3-1.7-1.1 1.5-1.3 1.3-1.3 .7-1.3 .5-1.3 .1-1.3-.2-1.2-.5-1.2-.8-1-1.2-1-1.8-1.2-.5-1.4 1.3-1.5 .8-1.4 .3-1.3 .2-1.4-.2-1.2-.3-1.2-.6-1.1-.8-1-1.1-.8-1.4-.4-1.7-.4-1.5-1.8 .4-1.5-.3-1.3-.5-1.1-.7-1-.9-.9-1-.7-1.1-.6-1.2-.4-1.2-.3-1.3 0-1.4 .2-1.4 .9-1.7-1.6-.7-1.1-1-.7-1.1-.5-1.2-.4-1.2-.2-1.3 .1-1.3 .2-1.3 .5-1.2 .8-1.3 .5-1.2-1.2-1.3-.6-1.5-.1-1.5 .3-1.4 .6-1.4 .8-1.1 1.2-.9 1.3-.6 1.6-.2 1.8 .4 .4-1.6 .4-1.9 .8-1.1 1.2-.7 1.3-.2 1.6 .6 2.2 2.3 .3-2.7 .8-1.6 1-1.1 1.1-.8 1.2-.5 1.3-.2 1.5 .1 1.3 .6 1.4 1 1.3 1.9 1.2-1.4 1.2-1.3 1.3-.8 1.3-.4 1.3 0 1.3 .2 1.3 .6 1.1 .9 1 1.4 .4 2.4 1.8-1.3 1.5-.3 1.4 0 1.3 .3 1.3 .4 1.2 .6 1.1 .7 1 .8 .9 1 .7 1.2 .6 1.2 .4 1.4 0 1.6-.1 1.5 2 .1 1.5 .8 1.1 1 .8 1.2 .5 1.3 .2 1.4-.1 1.3-.3 1.4-.6 1.3-1.1 1.2z" fill="url(#bg21)"/>
<ellipse cx="1122.1" cy="478.3" rx="10.6" ry="7.5" fill="#c2d8ea" opacity="0.35"/>
<ellipse cx="1126.2" cy="477.7" rx="10.6" ry="7.5" fill="#c2d8ea" opacity="0.35"/>
<ellipse cx="1121.4" cy="497.3" rx="10.6" ry="7.5" fill="#c2d8ea" opacity="0.35"/>
<text x="1121.0" y="490.1" font-size="16" text-anchor="middle" fill="#161616" >HMGR</text>
<path d="M922.7,574.5 Q945,568 964.5,567 Q975,582 1000,580.5 Q1025,580 1039.7,567 Q1052,582 1077,581 Q1102,580 1115,567.3 Q1130,574 1166.3,574" fill="none" stroke="#111" stroke-width="3.2" stroke-linejoin="round"/>
<ellipse cx="962.7" cy="545.4" rx="23.3" ry="20.3" fill="#a3a2ab"/>
<circle cx="963.3" cy="535" r="10.5" fill="#a3a2ab"/>
<path d="M968.5,525.9 A10.5,10.5 0 1 1 958.1,525.9" fill="none" stroke="#fff" stroke-width="3"/>
<ellipse cx="1039" cy="545.8" rx="23.3" ry="20" fill="#e48aa8"/>
<path d="M1031.5,526 L1031.5,543.5 L1047.5,543.5 L1047.5,526" fill="#e9a2b9" stroke="#fff" stroke-width="3"/>
<ellipse cx="1116.4" cy="548.4" rx="20.5" ry="18.7" fill="#9fb3c3"/>
<path d="M1104.5,530.5 L1116.8,545 L1128,530.5" fill="#8fa2b2" stroke="#fff" stroke-width="2.6"/>
<text x="963.3" y="561.5" font-size="16" text-anchor="middle" fill="#161616" >GBD</text>
<text x="1039.4" y="561.5" font-size="16" text-anchor="middle" fill="#161616" >SH3</text>
<text x="1117.0" y="561.5" font-size="16" text-anchor="middle" fill="#161616" >PDZ</text>
<text x="923.8" y="593.9" font-size="16" text-anchor="middle" fill="#161616" >N ter</text>
<text x="1168.7" y="593.9" font-size="16" text-anchor="middle" fill="#161616" >C ter</text>
<text x="70.7" y="574.1" font-size="16" text-anchor="middle" fill="#161616" >(d)</text>
<text x="126.2" y="630.6" font-size="16" text-anchor="middle" fill="#161616" >IPP/DMAPP</text>
<text x="258.2" y="629.6" font-size="16" text-anchor="middle" fill="#161616" >IPP/DMAPP</text>
<text x="378.2" y="629.6" font-size="16" text-anchor="middle" fill="#161616" >GGPP</text>
<text x="534.2" y="633.2" font-size="16" text-anchor="middle" fill="#161616" >Phytoene</text>
<circle cx="131.4" cy="649.0" r="6.6" fill="url(#gG)"/>
<circle cx="118.5" cy="666.0" r="6.6" fill="url(#gG)"/>
<circle cx="140.6" cy="667.7" r="6.6" fill="url(#gG)"/>
<circle cx="262.5" cy="647.0" r="6.6" fill="url(#gG)"/>
<circle cx="250.0" cy="665.4" r="6.6" fill="url(#gG)"/>
<circle cx="270.8" cy="665.4" r="6.6" fill="url(#gG)"/>
<circle cx="377.0" cy="647.0" r="6.6" fill="url(#gP)"/>
<circle cx="363.0" cy="666.3" r="6.6" fill="url(#gP)"/>
<circle cx="388.6" cy="666.3" r="6.6" fill="url(#gP)"/>
<circle cx="536.3" cy="649.3" r="6.6" fill="url(#gO)"/>
<circle cx="523.8" cy="669.0" r="6.6" fill="url(#gO)"/>
<circle cx="545.5" cy="669.0" r="6.6" fill="url(#gO)"/>
<linearGradient id="ag22" gradientUnits="userSpaceOnUse" x1="134.6" y1="677.0" x2="167.0" y2="707.0"><stop offset="0" stop-color="#d2daf8"/><stop offset="0.6" stop-color="#8ea2ea"/><stop offset="1" stop-color="#8ea2ea"/></linearGradient>
<path d="M134 677.1l0 1.8 .1 1.8 .1 1.8 .2 1.7 .2 1.6 .2 1.6 .3 1.6 .3 1.5 .4 1.4 .4 1.4 .4 1.4 .5 1.2 .5 1.3 .6 1.2 .6 1.1 .7 1.1 .7 1 .8 1 .8 .9 .8 .9 .9 .8 1 .8 1 .7 1.1 .6 1.1 .5 1.1 .5 1.2 .4 1.2 .4 1.3 .2 1.3 .2-.2 3.6 13.4-6.1-12.5-7.8-.2 3.5-1 0-.9 0-.9-.1-.8-.2-.9-.2-.8-.3-.8-.3-.7-.3-.8-.5-.7-.4-.7-.6-.8-.6-.7-.6-.6-.7-.7-.8-.7-.9-.6-.9-.6-1-.6-1.1-.5-1.1-.6-1.3-.5-1.2-.5-1.4-.4-1.4-.5-1.5-.4-1.5-.3-1.6-.4-1.7-.3-1.7-.4-1.9z" fill="url(#ag22)"/>
<linearGradient id="ag23" gradientUnits="userSpaceOnUse" x1="229.0" y1="677.0" x2="285.6" y2="679.3"><stop offset="0" stop-color="#d2daf8"/><stop offset="0.6" stop-color="#8ea2ea"/><stop offset="1" stop-color="#8ea2ea"/></linearGradient>
<path d="M228.7 677.5l1.6 1.3 1.7 1.1 1.6 1.1 1.7 1.1 1.6 1 1.6 .9 1.6 .9 1.7 .8 1.6 .7 1.6 .7 1.5 .6 1.6 .6 1.6 .5 1.6 .5 1.5 .4 1.6 .3 1.5 .3 1.6 .2 1.5 .1 1.6 .1 1.5 0 1.5 0 1.5-.1 1.5-.2 1.5-.2 1.5-.3 1.4-.4 1.5-.4 1.4-.5 1.5-.6 1.5 3.2 8.7-11.9-14.7-.7 1.5 3.3-1.1 .5-1.1 .6-1.2 .5-1.1 .4-1.2 .4-1.2 .3-1.2 .3-1.3 .2-1.2 .2-1.3 .2-1.4 0-1.3 .1-1.4-.1-1.4-.1-1.4-.1-1.4-.2-1.5-.2-1.5-.3-1.5-.4-1.6-.4-1.5-.5-1.6-.5-1.7-.6-1.6-.7-1.7-.7-1.6-.7-1.8-.9-1.7-.8-1.8-1-1.8-.9z" fill="url(#ag23)"/>
<linearGradient id="ag24" gradientUnits="userSpaceOnUse" x1="350.0" y1="677.0" x2="408.4" y2="681.6"><stop offset="0" stop-color="#d2daf8"/><stop offset="0.6" stop-color="#8ea2ea"/><stop offset="1" stop-color="#8ea2ea"/></linearGradient>
<path d="M349.7 677.5l1.6 1.3 1.6 1.3 1.7 1.1 1.7 1.1 1.6 1.1 1.7 1 1.6 .9 1.6 .9 1.7 .8 1.6 .7 1.6 .7 1.6 .6 1.6 .6 1.6 .5 1.7 .5 1.6 .3 1.6 .4 1.5 .2 1.6 .2 1.6 .2 1.6 .1 1.6 0 1.6-.1 1.5-.1 1.6-.2 1.6-.2 1.5-.4 1.5-.3 1.6-.5 1.5-.5 1.4 3.3 9.3-11.4-14.7-1.5 1.4 3.3-1.2 .6-1.3 .5-1.2 .4-1.2 .4-1.3 .4-1.3 .3-1.3 .2-1.4 .2-1.3 .1-1.4 .1-1.4 .1-1.4-.1-1.4 0-1.5-.2-1.5-.2-1.5-.2-1.5-.3-1.5-.4-1.6-.4-1.6-.5-1.6-.5-1.6-.6-1.6-.7-1.7-.7-1.7-.7-1.7-.9-1.7-.9-1.8-.9-1.7-1-1.9-1z" fill="url(#ag24)"/>
<linearGradient id="ag25" gradientUnits="userSpaceOnUse" x1="485.5" y1="700.0" x2="536.3" y2="681.6"><stop offset="0" stop-color="#d2daf8"/><stop offset="0.6" stop-color="#8ea2ea"/><stop offset="1" stop-color="#8ea2ea"/></linearGradient>
<path d="M485.5 700.6l1.9 .2 1.9 .2 1.9 .1 1.9 .1 1.8 .1 1.8 0 1.7 0 1.7 0 1.7-.1 1.6-.1 1.6-.1 1.6-.1 1.5-.2 1.5-.2 1.5-.3 1.4-.2 1.4-.3 1.3-.3 1.4-.4 1.3-.4 1.2-.4 1.2-.5 1.2-.5 1.2-.5 1.1-.5 1.1-.6 1.1-.6 1-.7 1-.7 1-.7 2.4 2.6 4.9-13.9-14.3 3.6 2.4 2.6-.6 .7-.7 .6-.8 .7-.7 .6-.8 .6-.9 .6-.9 .5-1 .6-1 .5-1 .5-1.1 .5-1.2 .5-1.1 .4-1.3 .4-1.3 .4-1.3 .4-1.3 .4-1.5 .3-1.4 .3-1.5 .3-1.6 .3-1.6 .2-1.6 .3-1.7 .2-1.7 .1-1.8 .2-1.8 .1-1.8 .2-1.9 .1-2 .1z" fill="url(#ag25)"/>
<line x1="229.0" y1="713.7" x2="245.0" y2="713.7" stroke="#111" stroke-width="2.2"/>
<line x1="272.0" y1="713.7" x2="290.0" y2="713.7" stroke="#111" stroke-width="2.2"/>
<line x1="349.0" y1="713.7" x2="366.0" y2="713.7" stroke="#111" stroke-width="2.2"/>
<line x1="395.0" y1="713.7" x2="413.0" y2="713.7" stroke="#111" stroke-width="2.2"/>
<linearGradient id="bg26" x1="0.2" y1="0" x2="0.6" y2="1"><stop offset="0" stop-color="#bcd3e6"/><stop offset="0.55" stop-color="#b0cbe2"/><stop offset="1" stop-color="#a9c3d9"/></linearGradient>
<path d="M224.5 710.8l2.9 1.3 1.1 1.3 .5 1.4 .1 1.3-.2 1.2-.7 1.2-1.1 1.2-1.8 .8-.4 1.1 .6 1.5 0 1.5-.3 1.4-.6 1.3-.9 1-1 .9-1.3 .7-1.3 .3-1.5 .1-1.8-.7-.3 2.1-.5 1.9-.8 1.3-1.1 .8-1.3 .2-1.5-.3-1.6-1.1-1.8-1.8-.8 1.8-1.1 1.1-1.1 .7-1.2 .6-1.2 .4-1.3 .2-1.3 .1-1.3-.1-1.3-.3-1.2-.4-1.3-.6-1.1-.9-.9-1.4-1.4 .5-1.9 1.2-1.6 .3-1.5-.3-1.1-.7-.9-1.2-.4-1.6 .1-2.1 0-1.8-2.1 .5-1.7-.1-1.3-.4-1.2-.7-1.1-.9-.7-1-.6-1.3-.3-1.5 .1-1.5 .6-1.8 .2-1.3-1.2-.9-.8-1.1-.5-1.1-.5-1.2-.3-1.3-.2-1.2 0-1.3 0-1.3 .2-1.3 .3-1.2 .4-1.2 .6-1.2 .7-1.1 1.4-.8-.7-1.6-.2-1.5 .1-1.3 .4-1.3 .6-1.2 .9-1 1.1-.8 1.2-.6 1.5-.2 2 .5 .1-1.9 .6-1.4 .9-1.1 1-.9 1.2-.7 1.3-.6 1.3-.3 1.3-.2 1.4 0 1.3 .2 1.3 .4 1.2 .5 1.2 .8 1.2 1.1 1.2 .3 1.3-1.4 1.3-.9 1.3-.6 1.2-.3 1.3-.2 1.2 .1 1.2 .2 1.2 .4 1.2 .6 1.2 .8 1.1 1.2 .9 2.1 1.5-1.4 1.3-.5 1.4-.1 1.4 .2 1.3 .4 1.2 .7 1 1 .9 1.1 .5 1.3 .2 1.4-.4 1.6 1 .8 1.5 .8 1.1 1.1 .8 1.2 .5 1.2 .2 1.3 .1 1.3-.2 1.3-.4 1.3-.7 1.3-1 1.2z" fill="url(#bg26)"/>
<ellipse cx="202.8" cy="704.0" rx="10.4" ry="7.3" fill="#c2d8ea" opacity="0.35"/>
<ellipse cx="204.5" cy="723.3" rx="10.4" ry="7.3" fill="#c2d8ea" opacity="0.35"/>
<ellipse cx="187.2" cy="710.4" rx="10.4" ry="7.3" fill="#c2d8ea" opacity="0.35"/>
<text x="200.5" y="717.3" font-size="16" text-anchor="middle" fill="#161616" >Idi</text>
<circle cx="260.9" cy="713.7" r="12.4" fill="#a9c4b9"/>
<path d="M243.5,701.9 L260.3,713.7 L243.5,725.5Z" fill="#fff"/>
<path d="M244.6,705.3 L256.8,713.7 L244.6,722.1Z" fill="#a9c4b9"/>
<linearGradient id="bg27" x1="0.2" y1="0" x2="0.6" y2="1"><stop offset="0" stop-color="#f7e1b0"/><stop offset="0.55" stop-color="#f6dca2"/><stop offset="1" stop-color="#ecd39c"/></linearGradient>
<path d="M346.6 710.2l1.9 1.3 .7 1.2 .4 1.3 .2 1.3 0 1.3-.3 1.3-.5 1.3-.8 1.2-1 1-1.3 .7-1.4 .4-.1 1.5-.6 1.2-.8 1-.9 .9-1.1 .8-1.1 .7-1.1 .5-1.3 .4-1.2 .3-1.3 .1-1.2 0-1.4-.2-1.4-.8-.9 1.6-1.1 1-1.1 .7-1.2 .4-1.3 .3-1.2 0-1.3-.3-1.3-.5-1.3-.9-1.2-.2-1.2 .7-1.2 .4-1.3 .3-1.2 .1-1.3 0-1.2-.1-1.3-.3-1.2-.4-1.1-.5-1.1-.7-1-1-1.2-.3-1.4 .1-1.3-.2-1.2-.3-1.2-.5-1.1-.6-1.1-.8-1-.9-.8-.9-.8-1.1-.6-1.1-.4-1.2-.3-1.4-.2-1.3-1.4-.6-1-.9-.8-1.1-.5-1.3-.2-1.3 0-1.4 .2-1.3 .6-1.2 .8-1.2 1.3-.9-.6-1.4 .1-1.4 .3-1.2 .6-1.2 .6-1.1 .8-1 .9-.9 1-.8 1-.7 1.1-.6 1.3-.5 1.2-.5 .4-1.3 .7-1.1 .8-1 .9-.9 1-.8 1.1-.7 1.1-.5 1.2-.5 1.3-.2 1.3-.1 1.3 .1 1.3 0 1-1 1.1-.7 1.2-.5 1.3-.4 1.2-.2 1.3-.1 1.3 0 1.2 .2 1.3 .3 1.2 .4 1.2 .6 1.1 1 1.3-.5 1.4-.8 1.3-.3 1.3 .3 1.1 .7 .9 1.3 .9 1.1 1.5-.5 1.4 0 1.2 .4 1.1 .6 1 .9 .7 1.2 .1 1.9 1.4 .2 1.3 .4 1.2 .8 1 .9 .8 1.1 .7 1.2 .4 1.3 .3 1.3 .1 1.4-.2 1.3-.2 1.2-.5 1.3-.6 1.2z" fill="url(#bg27)"/>
<ellipse cx="313.9" cy="711.6" rx="10.9" ry="6.5" fill="#fbe8c0" opacity="0.35"/>
<ellipse cx="312.6" cy="716.9" rx="10.9" ry="6.5" fill="#fbe8c0" opacity="0.35"/>
<ellipse cx="318.7" cy="705.9" rx="10.9" ry="6.5" fill="#fbe8c0" opacity="0.35"/>
<text x="318.5" y="717.5" font-size="16" text-anchor="middle" fill="#161616" >CrtE</text>
<rect x="366" y="708.7" width="17.7" height="9.8" fill="#9cc0dc"/>
<path d="M374.8,700.2 L391.8,700.2 Q395.8,700.2 395.8,704.2 L395.8,724.2 Q395.8,728.2 391.8,728.2 L374.8,728.2 L374.8,723.2 L388.3,723.2 L388.3,705.2 L374.8,705.2Z" fill="#a8c4dc" stroke="#1a1a1a" stroke-width="1.6" stroke-linejoin="round"/>
<linearGradient id="bg28" x1="0.2" y1="0" x2="0.6" y2="1"><stop offset="0" stop-color="#eac7b9"/><stop offset="0.55" stop-color="#e6bdad"/><stop offset="1" stop-color="#ddb5a6"/></linearGradient>
<path d="M480.3 718.2l.4 1.2 .2 1.2 .1 1.2-.1 1.3-.2 1.2-.4 1.2-.7 1.1-.9 .9-.9 .7-1 .9-1 .6-1.1 .6-1.2 .4-1.1 .4-1.2 .3-1.3 .3-1.2 .2-1.2 .2-1.2 .1-1.3 .1-1.2 .1-1.3 0-1.2 0-1.2 0-1.3 0-1.2-.1-1.2 .1-1.3 .1-1.2 .1-1.2 .1-1.3 0-1.2 0-1.2-.1-1.3 0-1.2-.1-1.2-.2-1.3 .1-1.2 .1-1.2 0-1.3 .1-1.2-.1-1.2 0-1.3 0-1.2-.1-1.2-.1-1.3-.2-1.2-.2-1.2-.2-1.2-.2-1.2-.3-1.2-.4-1.2-.3-1.2-.2-1.2-.3-1.2-.4-1.2-.4-1.1-.5-1.1-.5-1.1-.6-1.1-.6-1-.8-1-.8-.8-.9-.7-1.1-.6-1.1-.3-1.2-.1-1.2 0-1.3-.1-1.2 .1-1.2 .2-1.3 .3-1.2 .5-1.1 .6-1.1 .7-1 .8-1 .8-.9 .9-.9 .9-.8 1-.8 1-.7 1-.7 1.1-.7 1-.7 1-.7 1.1-.7 1-.6 1.2-.5 1.1-.5 1.2-.4 1.1-.4 1.3-.3 1.2-.2 1.2-.1 1.2-.3 1.2-.3 1.2-.3 1.3-.1 1.2-.2 1.2 0 1.3 0 1.2 0 1.2 0 1.3 .1 1.2 .2 1.2 .2 1.3 0 1.2 0 1.2 .1 1.3 .1 1.2 .1 1.2 .2 1.2 .2 1.2 .3 1.2 .3 1.2 .4 1.2 .4 1.2 .4 1.1 .4 1.1 .6 1.1 .6 1.2 .3 1.1 .5 1.1 .6 1.1 .6 1.1 .6 1 .7 1 .8 .9 .8 .9 .9 .8 .9 .7 1 .7 1.1 .6 1.1 .4 1.1 .4 1.2 .3 1.2 .2 1.2z" fill="url(#bg28)"/>
<ellipse cx="461.2" cy="709.5" rx="12.5" ry="4.9" fill="#e8c4b8" opacity="0.35"/>
<ellipse cx="462.6" cy="710.6" rx="12.5" ry="4.9" fill="#e8c4b8" opacity="0.35"/>
<ellipse cx="445.1" cy="722.2" rx="12.5" ry="4.9" fill="#e8c4b8" opacity="0.35"/>
<text x="443.0" y="718.3" font-size="16" text-anchor="middle" fill="#161616" >CrtB</text>
<line x1="229.0" y1="779.7" x2="245.0" y2="779.7" stroke="#111" stroke-width="2.2"/>
<line x1="272.0" y1="779.7" x2="290.0" y2="779.7" stroke="#111" stroke-width="2.2"/>
<line x1="349.0" y1="779.7" x2="366.0" y2="779.7" stroke="#111" stroke-width="2.2"/>
<line x1="395.0" y1="779.7" x2="413.0" y2="779.7" stroke="#111" stroke-width="2.2"/>
<linearGradient id="bg29" x1="0.2" y1="0" x2="0.6" y2="1"><stop offset="0" stop-color="#bcd3e6"/><stop offset="0.55" stop-color="#b0cbe2"/><stop offset="1" stop-color="#a9c3d9"/></linearGradient>
<path d="M224.4 778.9l2.4 1 1 1.2 .6 1.3 .5 1.3 .3 1.3 .1 1.3-.1 1.4-.3 1.3-.5 1.3-.6 1.2-.8 1.2-1 1-1.3 .8-1.5 .4-.7 1 0 1.7-.6 1.3-1 1-1.2 .6-1.4 .2-1.5-.4-1.4-.4-.9 1.4-1.1 .9-1.2 .6-1.3 .4-1.3 .3-1.3 0-1.2-.1-1.3-.2-1.2-.4-1.2-.6-1.2-.8-1.2-1.5-1.3 1.2-1.2 .5-1.3 .4-1.2 .2-1.3 0-1.2-.1-1.3-.3-1.2-.4-1.2-.6-1-.9-1.1-.8-1.4 .4-1.3 .1-1.4-.2-1.2-.4-1.3-.5-1.1-.8-1-.9-.9-1.1-.7-1.1-.5-1.3-.4-1.3-.1-1.3 0-1.3 .6-1.5-1.5-.8-1-1-.8-1.2-.5-1.2-.3-1.2-.1-1.3 .1-1.2 .3-1.3 .7-1.3 1.5-1.3-1.4-1.2-.7-1.2-.4-1.3-.2-1.4 0-1.3 .2-1.4 .4-1.3 .5-1.2 .8-1.2 .9-1 1-.9 1.2-.7 1.3-.5 1.6 0 0-1.8 .4-1.5 .8-1.2 1-.9 1.2-.6 1.3-.1 1.6 .2 2 1.9 .5-2.3 .9-1.3 1.1-1 1.2-.8 1.3-.5 1.3-.3 1.3-.2 1.3 0 1.4 .2 1.3 .3 1.2 .6 1.2 .7 1.1 1 1 1.3 1.1 .9 1.6-1.2 1.5-.2 1.4 .1 1.3 .3 1.2 .7 1 .9 .7 1.1 .6 1.3 .3 1.6 .4 1.5 2.3-.9 1.7 0 1.3 .4 1 .7 .7 1.2 .3 1.6-.4 2.1-.1 1.6 2.3-.1 1.7 .6 1.2 1 .8 1.3 .3 1.5-.2 1.4-.6 1.4-1.1 1.4z" fill="url(#bg29)"/>
<ellipse cx="192.5" cy="788.9" rx="10.4" ry="7.3" fill="#c2d8ea" opacity="0.35"/>
<ellipse cx="213.3" cy="765.3" rx="10.4" ry="7.3" fill="#c2d8ea" opacity="0.35"/>
<ellipse cx="210.5" cy="783.3" rx="10.4" ry="7.3" fill="#c2d8ea" opacity="0.35"/>
<text x="200.5" y="783.3" font-size="16" text-anchor="middle" fill="#161616" >Idi</text>
<circle cx="260.9" cy="779.7" r="12.4" fill="#5ba9b1"/>
<path d="M243.5,767.9 L260.3,779.7 L243.5,791.5Z" fill="#fff"/>
<path d="M244.6,771.3 L256.8,779.7 L244.6,788.1Z" fill="#5ba9b1"/>
<linearGradient id="bg30" x1="0.2" y1="0" x2="0.6" y2="1"><stop offset="0" stop-color="#f7e1b0"/><stop offset="0.55" stop-color="#f6dca2"/><stop offset="1" stop-color="#ecd39c"/></linearGradient>
<path d="M347.5 776.8l.9 1.2 .4 1.3 .1 1.2 0 1.3-.2 1.3-.3 1.2-.4 1.3-.6 1.1-.6 1.1-.8 1-.9 .9-1.1 .8-1.2 .5-.6 1.1-.2 1.8-.7 1.3-1.1 .9-1.3 .4-1.4-.1-1.7-.7-1.3-.2-.9 1.3-1.1 .8-1.2 .5-1.2 .4-1.3 .2-1.2 .1-1.3-.2-1.3-.3-1.2-.6-1.2-1.2-1.3 1-1.2 .8-1.2 .4-1.3 .3-1.2 .1-1.2-.2-1.3-.3-1.2-.5-1.1-.7-1.1-1.5-1.3 .7-1.3 .4-1.3 .2-1.3 0-1.3-.2-1.3-.3-1.2-.5-1.2-.6-1.1-.7-1-.9-.8-1.1-.6-1.2-.4-1.3-.1-1.4-1.7-.3-1.2-.8-.9-1-.7-1.1-.4-1.2-.2-1.3 0-1.3 .3-1.4 1.3-1.5-1.7-.9-1.1-1.1-.7-1.2-.3-1.3-.1-1.3 .2-1.4 .5-1.3 .9-1.2 1.3-.9 .8-.9-.1-1.5 .3-1.3 .5-1.2 .8-1.1 .8-.9 1-.9 1.1-.6 1.2-.6 1.3-.3 1.4 0 .9-.8 .9-1.1 1-.9 1-.6 1.2-.5 1.3-.3 1.2-.1 1.3 0 1.3 .4 1.3 .4 1.1-1.2 1.2-.7 1.2-.5 1.3-.4 1.3-.2 1.3 0 1.3 .2 1.2 .3 1.3 .4 1.1 .7 1.1 .8 1 1.1 .9 1.2 1.4-.5 1.4 .1 1.2 .2 1.3 .4 1.1 .5 1.1 .5 1.1 .7 1 .7 1 .8 .9 .9 .8 .9 .7 1.1 .5 1.5 1.4 .1 1.3 .4 1.1 .6 1.1 .8 .9 1 .7 1.1 .6 1.2 .4 1.2 .2 1.4-.1 1.3-.3 1.3z" fill="url(#bg30)"/>
<ellipse cx="319.5" cy="777.4" rx="10.9" ry="6.4" fill="#fbe8c0" opacity="0.35"/>
<ellipse cx="329.1" cy="772.1" rx="10.9" ry="6.4" fill="#fbe8c0" opacity="0.35"/>
<ellipse cx="314.3" cy="780.6" rx="10.9" ry="6.4" fill="#fbe8c0" opacity="0.35"/>
<text x="318.5" y="783.5" font-size="16" text-anchor="middle" fill="#161616" >CrtE</text>
<rect x="366" y="774.7" width="17.7" height="9.8" fill="#e6c4f4"/>
<path d="M374.8,766.2 L391.8,766.2 Q395.8,766.2 395.8,770.2 L395.8,790.2 Q395.8,794.2 391.8,794.2 L374.8,794.2 L374.8,789.2 L388.3,789.2 L388.3,771.2 L374.8,771.2Z" fill="#e2c2f2" stroke="#1a1a1a" stroke-width="1.6" stroke-linejoin="round"/>
<linearGradient id="bg31" x1="0.2" y1="0" x2="0.6" y2="1"><stop offset="0" stop-color="#eac7b9"/><stop offset="0.55" stop-color="#e6bdad"/><stop offset="1" stop-color="#ddb5a6"/></linearGradient>
<path d="M480.5 783.5l.1 1.3-.2 1.2-.2 1.2-.4 1.2-.4 1.2-.6 1.1-.7 1-.8 1-.8 .9-1 .8-1 .7-1.1 .6-1.2 .5-1.2 .5-1.2 .3-1.2 .3-1.2 .2-1.2 .1-1.2 .2-1.2 .3-1.3 .2-1.2 .2-1.2 .1-1.2 .1-1.3 .1-1.2 0-1.3 0-1.2-.1-1.2 0-1.3-.1-1.2-.1-1.2-.2-1.3 0-1.2 .1-1.2 0-1.3 0-1.2 0-1.2-.1-1.3 0-1.2-.1-1.2-.1-1.3-.1-1.2-.2-1.2-.1-1.2-.3-1.2-.2-1.3-.1-1.2-.1-1.2-.2-1.2-.3-1.2-.3-1.2-.4-1.2-.5-1.1-.5-1.1-.7-1-.6-1-.8-.9-.8-.9-1-.9-.7-.9-.9-.9-.9-.8-.9-.6-1.1-.5-1.1-.5-1.2-.3-1.2-.2-1.2-.1-1.3 .2-1.2 .2-1.3 .5-1.1 .7-1.1 .7-1 .9-.8 .9-.9 .9-.8 .9-.8 1-.8 1-.7 1.1-.6 1.1-.6 1.1-.6 1.1-.5 1.2-.4 1.2-.5 1.1-.4 1.2-.3 1.2-.3 1.2-.3 1.3-.2 1.2-.2 1.2-.2 1.3 0 1.1-.4 1.2-.2 1.3-.2 1.2-.1 1.2-.1 1.3-.1 1.2 0 1.2 0 1.3 0 1.2 .1 1.3 .2 1.2 .2 1.2 .1 1.2 0 1.3 0 1.2 .2 1.2 .1 1.3 .3 1.2 .3 1.2 .3 1.1 .4 1.2 .4 1.1 .5 1.2 .3 1.2 .4 1.2 .4 1.1 .4 1.2 .5 1.1 .6 1.1 .5 1 .7 1.1 .6 1 .8 .9 .8 .9 .8 .9 .9 .9 .8 .7 1 .6 1.1 .5 1.2 .3 1.2 .1 1.3-.1 1.2z" fill="url(#bg31)"/>
<ellipse cx="444.4" cy="777.6" rx="12.5" ry="4.9" fill="#e8c4b8" opacity="0.35"/>
<ellipse cx="460.5" cy="780.9" rx="12.5" ry="4.9" fill="#e8c4b8" opacity="0.35"/>
<ellipse cx="432.0" cy="785.6" rx="12.5" ry="4.9" fill="#e8c4b8" opacity="0.35"/>
<text x="443.0" y="784.3" font-size="16" text-anchor="middle" fill="#161616" >CrtB</text>
<circle cx="173.0" cy="836.0" r="12.4" fill="#a9c4b9"/>
<path d="M155.6,824.2 L172.4,836.0 L155.6,847.8Z" fill="#fff"/>
<path d="M156.7,827.6 L168.9,836.0 L156.7,844.4Z" fill="#a9c4b9"/>
<rect x="199" y="831" width="17.7" height="9.8" fill="#9cc0dc"/>
<path d="M207.5,822.0 L224.4,822.0 Q228.4,822.0 228.4,826.0 L228.4,846.0 Q228.4,850.0 224.4,850.0 L207.5,850.0 L207.5,845.0 L220.9,845.0 L220.9,827.0 L207.5,827.0Z" fill="#a8c4dc" stroke="#1a1a1a" stroke-width="1.6" stroke-linejoin="round"/>
<text x="277.8" y="841.6" font-size="16" text-anchor="middle" fill="#161616" >mDEBSeal</text>
<circle cx="363.5" cy="836.0" r="12.4" fill="#5ba9b1"/>
<path d="M346.1,824.2 L362.9,836.0 L346.1,847.8Z" fill="#fff"/>
<path d="M347.2,827.6 L359.4,836.0 L347.2,844.4Z" fill="#5ba9b1"/>
<rect x="391" y="831" width="17.7" height="9.8" fill="#e6c4f4"/>
<path d="M399.5,822.0 L415.5,822.0 Q419.5,822.0 419.5,826.0 L419.5,846.0 Q419.5,850.0 415.5,850.0 L399.5,850.0 L399.5,845.0 L412.0,845.0 L412.0,827.0 L399.5,827.0Z" fill="#e2c2f2" stroke="#1a1a1a" stroke-width="1.6" stroke-linejoin="round"/>
<text x="466.2" y="841.6" font-size="16" text-anchor="middle" fill="#161616" >mRAPSeal</text>
<text x="629.5" y="598.1" font-size="16" text-anchor="middle" fill="#161616" >(e)</text>
<text x="705.8" y="626.6" font-size="16" text-anchor="middle" fill="#161616" >IPP/DMAPP</text>
<text x="848.0" y="640.6" font-size="16" text-anchor="middle" fill="#161616" >IPP/DMAPP</text>
<text x="1003.2" y="641.6" font-size="16" text-anchor="middle" fill="#161616" >FPP</text>
<text x="1147.5" y="626.6" font-size="16" text-anchor="middle" fill="#161616" >Amorpha-4,11-diene</text>
<circle cx="697.5" cy="647.5" r="6.6" fill="url(#gG)"/>
<circle cx="685.0" cy="662.5" r="6.6" fill="url(#gG)"/>
<circle cx="707.5" cy="665.0" r="6.6" fill="url(#gG)"/>
<circle cx="849.0" cy="656.0" r="6.6" fill="url(#gG)"/>
<circle cx="837.5" cy="674.0" r="6.6" fill="url(#gG)"/>
<circle cx="857.5" cy="674.0" r="6.6" fill="url(#gG)"/>
<circle cx="1000.0" cy="657.5" r="6.6" fill="url(#gP)"/>
<circle cx="987.5" cy="677.5" r="6.6" fill="url(#gP)"/>
<circle cx="1012.5" cy="677.5" r="6.6" fill="url(#gP)"/>
<circle cx="1170.0" cy="642.5" r="6.6" fill="url(#gO)"/>
<circle cx="1157.5" cy="661.0" r="6.6" fill="url(#gO)"/>
<circle cx="1179.0" cy="661.0" r="6.6" fill="url(#gO)"/>
<linearGradient id="ag32" gradientUnits="userSpaceOnUse" x1="700.0" y1="672.5" x2="734.0" y2="702.5"><stop offset="0" stop-color="#d2daf8"/><stop offset="0.6" stop-color="#8ea2ea"/><stop offset="1" stop-color="#8ea2ea"/></linearGradient>
<path d="M699.4 672.6l0 1.8 .2 1.8 .1 1.7 .2 1.7 .3 1.6 .3 1.6 .3 1.5 .4 1.5 .4 1.5 .4 1.3 .5 1.4 .6 1.2 .6 1.3 .6 1.2 .7 1.1 .7 1.1 .8 1 .8 1 .9 .9 .9 .9 .9 .8 1.1 .7 1 .7 1.1 .6 1.2 .6 1.2 .5 1.2 .4 1.3 .3 1.3 .3 1.4 .2-.3 3.6 13.5-5.9-12.4-8-.3 3.6-1-.1-1 0-1-.2-.9-.2-.9-.2-.9-.3-.8-.3-.9-.4-.8-.4-.8-.5-.8-.5-.8-.6-.7-.7-.7-.7-.8-.8-.6-.9-.7-.9-.7-1-.6-1-.6-1.2-.6-1.1-.5-1.3-.6-1.3-.5-1.4-.4-1.5-.5-1.5-.4-1.5-.4-1.7-.4-1.7-.4-1.8z" fill="url(#ag32)"/>
<linearGradient id="ag33" gradientUnits="userSpaceOnUse" x1="820.0" y1="697.5" x2="882.5" y2="705.0"><stop offset="0" stop-color="#d2daf8"/><stop offset="0.6" stop-color="#8ea2ea"/><stop offset="1" stop-color="#8ea2ea"/></linearGradient>
<path d="M819.7 698l1.8 1.3 1.7 1.2 1.8 1.2 1.8 1.1 1.8 1 1.8 1 1.7 .9 1.8 .9 1.7 .8 1.8 .8 1.7 .7 1.8 .6 1.7 .6 1.7 .6 1.7 .5 1.7 .4 1.7 .4 1.7 .3 1.7 .3 1.7 .2 1.7 .2 1.6 .1 1.7 .1 1.7 0 1.6-.1 1.7-.1 1.6-.2 1.6-.3 1.7-.3 1.6-.3 1 3.4 10.5-10.3-14.4-3.1 1 3.5-1.4 .4-1.3 .4-1.4 .3-1.4 .3-1.4 .3-1.4 .2-1.5 .1-1.5 .1-1.4 .1-1.6 0-1.5 0-1.5-.1-1.6-.2-1.6-.2-1.6-.2-1.7-.3-1.6-.4-1.7-.4-1.7-.4-1.7-.5-1.7-.6-1.8-.6-1.8-.7-1.8-.7-1.8-.8-1.8-.8-1.9-.9-1.8-.9-1.9-.9-2-1z" fill="url(#ag33)"/>
<linearGradient id="ag34" gradientUnits="userSpaceOnUse" x1="972.5" y1="697.5" x2="1034.0" y2="705.0"><stop offset="0" stop-color="#d2daf8"/><stop offset="0.6" stop-color="#8ea2ea"/><stop offset="1" stop-color="#8ea2ea"/></linearGradient>
<path d="M972.2 698l1.7 1.3 1.8 1.2 1.7 1.2 1.8 1.1 1.7 1 1.8 1 1.7 .9 1.7 .9 1.7 .8 1.8 .8 1.7 .7 1.7 .6 1.6 .6 1.7 .6 1.7 .5 1.7 .4 1.7 .4 1.6 .4 1.7 .2 1.6 .3 1.7 .1 1.6 .1 1.7 .1 1.6 0 1.6-.1 1.6-.1 1.6-.2 1.6-.2 1.6-.3 1.6-.4 1 3.5 10.5-10.4-14.4-3 1 3.4-1.3 .4-1.4 .4-1.3 .4-1.4 .3-1.3 .2-1.4 .2-1.4 .2-1.5 .1-1.4 0-1.5 0-1.5 0-1.5-.1-1.6-.2-1.5-.2-1.6-.2-1.6-.3-1.6-.4-1.7-.4-1.6-.4-1.7-.5-1.7-.6-1.7-.6-1.8-.7-1.7-.7-1.8-.8-1.8-.8-1.8-.8-1.9-1-1.9-.9-1.9-1z" fill="url(#ag34)"/>
<linearGradient id="ag35" gradientUnits="userSpaceOnUse" x1="1122.5" y1="706.0" x2="1167.5" y2="672.5"><stop offset="0" stop-color="#d2daf8"/><stop offset="0.6" stop-color="#8ea2ea"/><stop offset="1" stop-color="#8ea2ea"/></linearGradient>
<path d="M1122.5 706.6l2.2 0 2.1 0 2.1-.1 2-.2 2-.2 1.9-.3 1.8-.2 1.9-.4 1.7-.4 1.8-.4 1.6-.5 1.7-.5 1.5-.5 1.6-.6 1.4-.7 1.5-.7 1.4-.8 1.3-.8 1.3-.8 1.2-.9 1.2-1 1.1-1 1.1-1 1-1.1 1-1.2 .9-1.2 .9-1.2 .8-1.3 .7-1.4 .7-1.4 3.3 1.4-1.7-14.7-11.3 9.5 3.3 1.3-.4 1.2-.4 1.1-.5 1.1-.6 1.1-.6 1-.7 1-.7 1-.8 1-.8 .9-.9 .9-.9 .9-1 .8-1.1 .8-1.1 .8-1.2 .8-1.3 .7-1.3 .7-1.4 .7-1.4 .6-1.5 .7-1.6 .5-1.6 .6-1.7 .5-1.8 .5-1.8 .4-1.8 .4-2 .4-2 .3-2 .4-2.1 .3z" fill="url(#ag35)"/>
<rect x="724" y="812.3" width="395.3" height="9.7" rx="4.8" fill="#8eaae0"/>
<path d="M775.5,740.0 C775.5,740.1 775.7,740.3 775.8,740.5 C775.9,740.6 776.0,740.8 776.0,741.0 C776.1,741.1 776.2,741.3 776.3,741.4 C776.4,741.6 776.4,741.7 776.5,741.9 C776.5,742.1 776.6,742.2 776.6,742.4 C776.6,742.5 776.7,742.7 776.7,742.9 C776.7,743.0 776.7,743.2 776.7,743.3 C776.7,743.5 776.7,743.6 776.7,743.8 C776.6,744.0 776.6,744.1 776.6,744.3 C776.5,744.4 776.5,744.6 776.4,744.8 C776.3,744.9 776.3,745.1 776.2,745.2 C776.1,745.4 776.0,745.5 775.9,745.7 C775.9,745.9 775.8,746.0 775.7,746.2 C775.6,746.3 775.4,746.5 775.3,746.6 C775.2,746.8 775.1,747.0 775.0,747.1 C774.9,747.3 774.7,747.4 774.6,747.6 C774.5,747.8 774.4,747.9 774.2,748.1 C774.1,748.2 774.0,748.4 773.9,748.5 C773.7,748.7 773.6,748.9 773.5,749.0 C773.4,749.2 773.3,749.3 773.1,749.5 C773.0,749.7 772.9,749.8 772.8,750.0 C772.7,750.1 772.6,750.3 772.6,750.5 C772.5,750.6 772.4,750.8 772.3,750.9 C772.2,751.1 772.2,751.2 772.1,751.4 C772.1,751.6 772.0,751.7 772.0,751.9 C772.0,752.0 771.9,752.2 771.9,752.4 C771.9,752.5 771.9,752.7 771.9,752.8 C771.9,753.0 771.9,753.1 771.9,753.3 C772.0,753.5 772.0,753.6 772.0,753.8 C772.1,753.9 772.1,754.1 772.2,754.2 C772.3,754.4 772.3,754.6 772.4,754.7 C772.5,754.9 772.6,755.0 772.7,755.2 C772.7,755.4 772.8,755.5 772.9,755.7 C773.0,755.8 773.2,756.0 773.3,756.1 C773.4,756.3 773.5,756.5 773.6,756.6 C773.7,756.8 773.9,756.9 774.0,757.1 C774.1,757.3 774.2,757.4 774.4,757.6 C774.5,757.7 774.6,757.9 774.7,758.0 C774.9,758.2 775.0,758.4 775.1,758.5 C775.2,758.7 775.4,758.9 775.5,759.0" fill="none" stroke="#111" stroke-width="2.0" stroke-linecap="round"/>
<path d="M773.5,794.0 C773.5,794.1 773.7,794.3 773.8,794.5 C773.9,794.6 774.0,794.8 774.0,794.9 C774.1,795.1 774.2,795.2 774.3,795.4 C774.4,795.5 774.4,795.7 774.5,795.9 C774.5,796.0 774.6,796.2 774.6,796.3 C774.6,796.5 774.7,796.6 774.7,796.8 C774.7,796.9 774.7,797.1 774.7,797.2 C774.7,797.4 774.7,797.5 774.7,797.7 C774.6,797.9 774.6,798.0 774.6,798.2 C774.5,798.3 774.5,798.5 774.4,798.6 C774.3,798.8 774.3,798.9 774.2,799.1 C774.1,799.2 774.0,799.4 773.9,799.5 C773.9,799.7 773.8,799.9 773.7,800.0 C773.6,800.2 773.4,800.3 773.3,800.5 C773.2,800.6 773.1,800.8 773.0,800.9 C772.9,801.1 772.7,801.2 772.6,801.4 C772.5,801.6 772.4,801.7 772.2,801.9 C772.1,802.0 772.0,802.2 771.9,802.3 C771.7,802.5 771.6,802.6 771.5,802.8 C771.4,802.9 771.3,803.1 771.1,803.2 C771.0,803.4 770.9,803.6 770.8,803.7 C770.7,803.9 770.6,804.0 770.6,804.2 C770.5,804.3 770.4,804.5 770.3,804.6 C770.2,804.8 770.2,804.9 770.1,805.1 C770.1,805.3 770.0,805.4 770.0,805.6 C770.0,805.7 769.9,805.9 769.9,806.0 C769.9,806.2 769.9,806.3 769.9,806.5 C769.9,806.6 769.9,806.8 769.9,807.0 C770.0,807.1 770.0,807.3 770.0,807.4 C770.1,807.6 770.1,807.7 770.2,807.9 C770.3,808.0 770.3,808.2 770.4,808.3 C770.5,808.5 770.6,808.6 770.7,808.8 C770.7,809.0 770.8,809.1 770.9,809.3 C771.0,809.4 771.2,809.6 771.3,809.7 C771.4,809.9 771.5,810.0 771.6,810.2 C771.7,810.3 771.9,810.5 772.0,810.6 C772.1,810.8 772.2,811.0 772.4,811.1 C772.5,811.3 772.6,811.4 772.7,811.6 C772.9,811.7 773.0,811.9 773.1,812.0 C773.2,812.2 773.4,812.4 773.5,812.5" fill="none" stroke="#111" stroke-width="2.0" stroke-linecap="round"/>
<path d="M931.4,745.0 C931.4,745.1 931.6,745.3 931.7,745.4 C931.8,745.5 931.9,745.7 931.9,745.8 C932.0,745.9 932.1,746.1 932.2,746.2 C932.3,746.3 932.3,746.5 932.4,746.6 C932.4,746.7 932.5,746.9 932.5,747.0 C932.5,747.1 932.6,747.3 932.6,747.4 C932.6,747.5 932.6,747.7 932.6,747.8 C932.6,747.9 932.6,748.1 932.6,748.2 C932.5,748.3 932.5,748.5 932.5,748.6 C932.4,748.7 932.4,748.9 932.3,749.0 C932.2,749.1 932.2,749.3 932.1,749.4 C932.0,749.5 931.9,749.7 931.8,749.8 C931.8,749.9 931.7,750.1 931.6,750.2 C931.5,750.3 931.3,750.5 931.2,750.6 C931.1,750.7 931.0,750.9 930.9,751.0 C930.8,751.1 930.6,751.3 930.5,751.4 C930.4,751.5 930.3,751.7 930.1,751.8 C930.0,751.9 929.9,752.1 929.8,752.2 C929.6,752.3 929.5,752.5 929.4,752.6 C929.3,752.7 929.2,752.9 929.0,753.0 C928.9,753.1 928.8,753.3 928.7,753.4 C928.6,753.5 928.5,753.7 928.5,753.8 C928.4,753.9 928.3,754.1 928.2,754.2 C928.1,754.3 928.1,754.5 928.0,754.6 C928.0,754.7 927.9,754.9 927.9,755.0 C927.9,755.1 927.8,755.3 927.8,755.4 C927.8,755.5 927.8,755.7 927.8,755.8 C927.8,755.9 927.8,756.1 927.8,756.2 C927.9,756.3 927.9,756.5 927.9,756.6 C928.0,756.7 928.0,756.9 928.1,757.0 C928.2,757.1 928.2,757.3 928.3,757.4 C928.4,757.5 928.5,757.7 928.6,757.8 C928.6,757.9 928.7,758.1 928.8,758.2 C928.9,758.3 929.1,758.5 929.2,758.6 C929.3,758.7 929.4,758.9 929.5,759.0 C929.6,759.1 929.8,759.3 929.9,759.4 C930.0,759.5 930.1,759.7 930.3,759.8 C930.4,759.9 930.5,760.1 930.6,760.2 C930.8,760.3 930.9,760.5 931.0,760.6 C931.1,760.7 931.3,760.9 931.4,761.0" fill="none" stroke="#111" stroke-width="2.0" stroke-linecap="round"/>
<path d="M929.4,794.0 C929.4,794.1 929.6,794.3 929.7,794.5 C929.8,794.6 929.9,794.8 929.9,794.9 C930.0,795.1 930.1,795.2 930.2,795.4 C930.3,795.5 930.3,795.7 930.4,795.9 C930.4,796.0 930.5,796.2 930.5,796.3 C930.5,796.5 930.6,796.6 930.6,796.8 C930.6,796.9 930.6,797.1 930.6,797.2 C930.6,797.4 930.6,797.5 930.6,797.7 C930.5,797.9 930.5,798.0 930.5,798.2 C930.4,798.3 930.4,798.5 930.3,798.6 C930.2,798.8 930.2,798.9 930.1,799.1 C930.0,799.2 929.9,799.4 929.8,799.5 C929.8,799.7 929.7,799.9 929.6,800.0 C929.5,800.2 929.3,800.3 929.2,800.5 C929.1,800.6 929.0,800.8 928.9,800.9 C928.8,801.1 928.6,801.2 928.5,801.4 C928.4,801.6 928.3,801.7 928.1,801.9 C928.0,802.0 927.9,802.2 927.8,802.3 C927.6,802.5 927.5,802.6 927.4,802.8 C927.3,802.9 927.2,803.1 927.0,803.2 C926.9,803.4 926.8,803.6 926.7,803.7 C926.6,803.9 926.5,804.0 926.5,804.2 C926.4,804.3 926.3,804.5 926.2,804.6 C926.1,804.8 926.1,804.9 926.0,805.1 C926.0,805.3 925.9,805.4 925.9,805.6 C925.9,805.7 925.8,805.9 925.8,806.0 C925.8,806.2 925.8,806.3 925.8,806.5 C925.8,806.6 925.8,806.8 925.8,807.0 C925.9,807.1 925.9,807.3 925.9,807.4 C926.0,807.6 926.0,807.7 926.1,807.9 C926.2,808.0 926.2,808.2 926.3,808.3 C926.4,808.5 926.5,808.6 926.6,808.8 C926.6,809.0 926.7,809.1 926.8,809.3 C926.9,809.4 927.1,809.6 927.2,809.7 C927.3,809.9 927.4,810.0 927.5,810.2 C927.6,810.3 927.8,810.5 927.9,810.6 C928.0,810.8 928.1,811.0 928.3,811.1 C928.4,811.3 928.5,811.4 928.6,811.6 C928.8,811.7 928.9,811.9 929.0,812.0 C929.1,812.2 929.3,812.4 929.4,812.5" fill="none" stroke="#111" stroke-width="2.0" stroke-linecap="round"/>
<path d="M1082.2,740.0 C1082.2,740.1 1082.4,740.3 1082.5,740.5 C1082.6,740.6 1082.7,740.8 1082.7,741.0 C1082.8,741.1 1082.9,741.3 1083.0,741.4 C1083.1,741.6 1083.1,741.7 1083.2,741.9 C1083.2,742.1 1083.3,742.2 1083.3,742.4 C1083.3,742.5 1083.4,742.7 1083.4,742.9 C1083.4,743.0 1083.4,743.2 1083.4,743.3 C1083.4,743.5 1083.4,743.6 1083.4,743.8 C1083.3,744.0 1083.3,744.1 1083.3,744.3 C1083.2,744.4 1083.2,744.6 1083.1,744.8 C1083.0,744.9 1083.0,745.1 1082.9,745.2 C1082.8,745.4 1082.7,745.5 1082.6,745.7 C1082.6,745.9 1082.5,746.0 1082.4,746.2 C1082.3,746.3 1082.1,746.5 1082.0,746.6 C1081.9,746.8 1081.8,747.0 1081.7,747.1 C1081.6,747.3 1081.4,747.4 1081.3,747.6 C1081.2,747.8 1081.1,747.9 1080.9,748.1 C1080.8,748.2 1080.7,748.4 1080.6,748.5 C1080.4,748.7 1080.3,748.9 1080.2,749.0 C1080.1,749.2 1080.0,749.3 1079.8,749.5 C1079.7,749.7 1079.6,749.8 1079.5,750.0 C1079.4,750.1 1079.3,750.3 1079.3,750.5 C1079.2,750.6 1079.1,750.8 1079.0,750.9 C1078.9,751.1 1078.9,751.2 1078.8,751.4 C1078.8,751.6 1078.7,751.7 1078.7,751.9 C1078.7,752.0 1078.6,752.2 1078.6,752.4 C1078.6,752.5 1078.6,752.7 1078.6,752.8 C1078.6,753.0 1078.6,753.1 1078.6,753.3 C1078.7,753.5 1078.7,753.6 1078.7,753.8 C1078.8,753.9 1078.8,754.1 1078.9,754.2 C1079.0,754.4 1079.0,754.6 1079.1,754.7 C1079.2,754.9 1079.3,755.0 1079.4,755.2 C1079.4,755.4 1079.5,755.5 1079.6,755.7 C1079.7,755.8 1079.9,756.0 1080.0,756.1 C1080.1,756.3 1080.2,756.5 1080.3,756.6 C1080.4,756.8 1080.6,756.9 1080.7,757.1 C1080.8,757.3 1080.9,757.4 1081.1,757.6 C1081.2,757.7 1081.3,757.9 1081.4,758.0 C1081.6,758.2 1081.7,758.4 1081.8,758.5 C1081.9,758.7 1082.1,758.9 1082.2,759.0" fill="none" stroke="#111" stroke-width="2.0" stroke-linecap="round"/>
<path d="M1080.2,794.0 C1080.2,794.1 1080.4,794.3 1080.5,794.5 C1080.6,794.6 1080.7,794.8 1080.7,794.9 C1080.8,795.1 1080.9,795.2 1081.0,795.4 C1081.1,795.5 1081.1,795.7 1081.2,795.9 C1081.2,796.0 1081.3,796.2 1081.3,796.3 C1081.3,796.5 1081.4,796.6 1081.4,796.8 C1081.4,796.9 1081.4,797.1 1081.4,797.2 C1081.4,797.4 1081.4,797.5 1081.4,797.7 C1081.3,797.9 1081.3,798.0 1081.3,798.2 C1081.2,798.3 1081.2,798.5 1081.1,798.6 C1081.0,798.8 1081.0,798.9 1080.9,799.1 C1080.8,799.2 1080.7,799.4 1080.6,799.5 C1080.6,799.7 1080.5,799.9 1080.4,800.0 C1080.3,800.2 1080.1,800.3 1080.0,800.5 C1079.9,800.6 1079.8,800.8 1079.7,800.9 C1079.6,801.1 1079.4,801.2 1079.3,801.4 C1079.2,801.6 1079.1,801.7 1078.9,801.9 C1078.8,802.0 1078.7,802.2 1078.6,802.3 C1078.4,802.5 1078.3,802.6 1078.2,802.8 C1078.1,802.9 1078.0,803.1 1077.8,803.2 C1077.7,803.4 1077.6,803.6 1077.5,803.7 C1077.4,803.9 1077.3,804.0 1077.3,804.2 C1077.2,804.3 1077.1,804.5 1077.0,804.6 C1076.9,804.8 1076.9,804.9 1076.8,805.1 C1076.8,805.3 1076.7,805.4 1076.7,805.6 C1076.7,805.7 1076.6,805.9 1076.6,806.0 C1076.6,806.2 1076.6,806.3 1076.6,806.5 C1076.6,806.6 1076.6,806.8 1076.6,807.0 C1076.7,807.1 1076.7,807.3 1076.7,807.4 C1076.8,807.6 1076.8,807.7 1076.9,807.9 C1077.0,808.0 1077.0,808.2 1077.1,808.3 C1077.2,808.5 1077.3,808.6 1077.4,808.8 C1077.4,809.0 1077.5,809.1 1077.6,809.3 C1077.7,809.4 1077.9,809.6 1078.0,809.7 C1078.1,809.9 1078.2,810.0 1078.3,810.2 C1078.4,810.3 1078.6,810.5 1078.7,810.6 C1078.8,810.8 1078.9,811.0 1079.1,811.1 C1079.2,811.3 1079.3,811.4 1079.4,811.6 C1079.6,811.7 1079.7,811.9 1079.8,812.0 C1079.9,812.2 1080.1,812.4 1080.2,812.5" fill="none" stroke="#111" stroke-width="2.0" stroke-linecap="round"/>
<linearGradient id="bg36" x1="0.2" y1="0" x2="0.6" y2="1"><stop offset="0" stop-color="#b3cbbf"/><stop offset="0.55" stop-color="#a6c2b4"/><stop offset="1" stop-color="#9fbaad"/></linearGradient>
<path d="M806.9 707.5l2.5 1.8 .7 1.5 .3 1.4 0 1.4-.3 1.4-.6 1.3-.8 1.1-1 .9-1.3 .7-1.5 .5-2.3 0 .6 1.8 0 1.6-.2 1.3-.3 1.3-.6 1.2-.6 1-.9 1-1 1-1.1 .7-1.4 .5-1.5 .2-1.7-.2-.1 1.9-.7 1.3-.8 1.2-1.1 .9-1.1 .8-1.3 .5-1.3 .4-1.3 .2-1.4 .1-1.3-.2-1.4-.3-1.2-.6-1.3-.9-1.3-.4-1.2 1.2-1.3 .7-1.2 .3-1.3 .1-1.3 0-1.2-.3-1.3-.5-1.1-.8-1.1-1.3-1.2 .1-1.6 1.2-1.4 .6-1.4 .2-1.3-.2-1.3-.5-1.1-.9-.9-1.2-.7-1.7-.2-2.2-1.8 .8-1.5-.1-1.3-.4-1.3-.6-1.1-.9-1-.9-.8-1.2-.6-1.2-.4-1.3-.2-1.4 .1-1.4 .4-1.4 .7-1.5-1.7-.9-1-1-.7-1.2-.5-1.3-.3-1.2-.1-1.3 .1-1.3 .3-1.3 .5-1.2 .9-1.3 2.3-1.2-2.8-1.3-1.3-1.3-.8-1.4-.3-1.4 .1-1.4 .5-1.4 .9-1.2 1.4-1 1.9-.6 1.7-.4-.6-1.9 .1-1.5 .6-1.3 .8-1.2 1-.9 1.2-.8 1.3-.4 1.4-.2 1.5 .2 1.7 .9 .7-1.6 .6-1.9 .9-1.3 1-1 1.1-.5 1.3-.3 1.3 .2 1.5 .5 1.7 1.1 1.6 1 .6-2.4 1-1.3 1.1-.9 1.2-.4 1.3-.1 1.4 .4 1.4 1 1.5 2.3 1.1-1.9 1.1-1.3 1.2-.9 1.3-.6 1.3-.4 1.3-.1 1.3 .1 1.4 .4 1.3 .6 1.2 .9 1 1.2 .8 1.9 1.2 .1 1.6-.6 1.4-.2 1.5 .1 1.4 .3 1.2 .5 1.2 .6 1.1 .9 1 .9 .8 1.2 .7 1.1 .5 1.4 .3 1.4-.1 1.6-.8 1.9 2 .3 1.2 .8 .9 1 .7 1.2 .5 1.2 .4 1.3 .1 1.4 0 1.4-.3 1.3-.4 1.2-.6 1.3-.8 1.1z" fill="url(#bg36)"/>
<ellipse cx="786.0" cy="721.8" rx="12.6" ry="8.6" fill="#b6cabe" opacity="0.35"/>
<ellipse cx="786.2" cy="720.8" rx="12.6" ry="8.6" fill="#b6cabe" opacity="0.35"/>
<ellipse cx="763.9" cy="710.7" rx="12.6" ry="8.6" fill="#b6cabe" opacity="0.35"/>
<text x="776.0" y="715.6" font-size="16" text-anchor="middle" fill="#161616" >IDI</text>
<linearGradient id="bg37" x1="0.2" y1="0" x2="0.6" y2="1"><stop offset="0" stop-color="#f5daad"/><stop offset="0.55" stop-color="#f3d49e"/><stop offset="1" stop-color="#e9cc98"/></linearGradient>
<path d="M957.7 714.3l2.2 1 .9 1.2 .6 1.3 .4 1.3 .2 1.3 0 1.4-.1 1.5-.4 1.3-.5 1.2-.7 1.3-.8 1.1-1 1-1 .8-1.2 .7-1.4 .5-1.8 0 .3 2 0 1.8-.4 1.4-.8 1.1-1 .9-1.2 .6-1.4 .3-1.6-.2-2.2-1.3-.5 1.5-.7 1.5-.9 1.2-1 1-1.2 .8-1.2 .7-1.3 .4-1.3 .3-1.4 .2-1.3 0-1.4-.2-1.3-.3-1.2-.5-1.3-.6-1.2-.9-1.2-1.3-1.2 0-1.3 1.3-1.4 .6-1.3 .3-1.3 .1-1.2-.2-1.2-.5-1.2-.7-1-1.1-.8-1.8-1.4 .4-1.5 .7-1.5 .4-1.4 0-1.3-.1-1.3-.4-1.1-.7-1.1-.8-1-1.1-.6-1.4-.4-1.6 0-1.8-1.7 0-1.3-.5-1.1-.8-1-1-.8-1-.7-1.2-.5-1.3-.3-1.3-.3-1.3-.1-1.3 .1-1.3 .1-1.3 .3-1.3 .4-1.2 .6-1.3 .7-1.2-1.4-1.2-.8-1.2-.5-1.2-.3-1.3-.2-1.2 0-1.3 .2-1.2 .4-1.3 .6-1.2 1.1-1.2 .1-1.2-.6-1.4-.3-1.3-.1-1.4 .3-1.3 .4-1.3 .6-1.2 .8-1.1 1-1 1.1-.8 1.3-.5 1.4-.3 1.2-.3 .2-2.1 .7-1.4 .9-1.1 1.2-.7 1.3-.3 1.5 0 1.4 .5 1.6 1.2 1.3 .1 1-1.3 1.1-.9 1.2-.7 1.2-.6 1.3-.4 1.2-.3 1.3-.1 1.3-.1 1.3 .1 1.3 .2 1.2 .3 1.3 .4 1.2 .6 1.2 .8 1.1 1.1 .9 1.9 1.5-1.6 1.4-.6 1.4-.3 1.5-.1 1.3 .1 1.4 .3 1.3 .5 1.2 .7 1.1 .7 1.1 .9 .9 1 .8 1.1 .6 1.2 .5 1.3 .4 1.4 .1 1.6 .5 1.2 2.5-.6 1.7 0 1.4 .5 1.1 .8 .6 1 .5 1.4 0 1.7-.8 2.1 .6 1 1.8 .4 1.3 .8 .9 1.2 .5 1.2 .2 1.3-.2 1.4-.6 1.5z" fill="url(#bg37)"/>
<ellipse cx="933.9" cy="701.1" rx="12.6" ry="8.8" fill="#f9e0b2" opacity="0.35"/>
<ellipse cx="915.8" cy="717.0" rx="12.6" ry="8.8" fill="#f9e0b2" opacity="0.35"/>
<ellipse cx="921.5" cy="726.7" rx="12.6" ry="8.8" fill="#f9e0b2" opacity="0.35"/>
<text x="927.5" y="719.6" font-size="16" text-anchor="middle" fill="#161616" >IspA</text>
<linearGradient id="bg38" x1="0.2" y1="0" x2="0.6" y2="1"><stop offset="0" stop-color="#b7d0e5"/><stop offset="0.55" stop-color="#aac8e0"/><stop offset="1" stop-color="#a3c0d7"/></linearGradient>
<path d="M1108.7 707l3.2 1.8 1.1 1.5 .5 1.5 .2 1.4-.1 1.3-.4 1.3-.8 1.3-1 1-1.3 .8-1.7 .5-2.5 0 .9 1.9 .2 1.6-.2 1.4-.4 1.3-.7 1.1-.9 1-1.1 .8-1.3 .5-1.6 .2-2.3-.8 .1 2-.6 1.4-.8 1.1-.9 1-1.1 .8-1.1 .7-1.2 .6-1.2 .5-1.3 .3-1.3 .2-1.3 .1-1.3-.1-1.3-.2-1.3-.4-1.4-.7-1.2 .1-1.1 1.7-1.1 1.1-1.1 .8-1.3 .5-1.2 .3-1.3 .1-1.3-.2-1.3-.5-1.3-.7-1.3-1.1-1-2.3-1.5 2.5-1.6 1.4-1.6 .5-1.5-.1-1.2-.8-1-1.4-.4-2.1 .9-3.4-2.4 1.3-1.8 0-1.5-.5-1.4-.8-1.1-.9-.9-1.1-.8-1.4-.4-1.3-.2-1.3 0-1.5 .3-1.4 .6-1.5 1-1.4 2.4-1.7-3.9-.6-1.6-1.1-.9-1.1-.3-1.3 .2-1.3 .9-1.3 1.6-1.4 1.3-1.3-2.1-1.2-1.1-1.2-.7-1.3-.2-1.2 .1-1.4 .6-1.2 1.1-1.3 1.7-1 .6-1.1-1.1-1.6-.3-1.4 .2-1.4 .5-1.2 .9-1.1 1.3-.7 1.8-.3 .9-.9-.1-1.8 .2-1.5 .6-1.3 .8-1.2 .9-1 .9-.8 1.2-.7 1.3-.5 1.3-.3 1.4 0 1.6 .2 1.8 .9 .8-1.2 .8-1.4 .9-1.1 1.1-.9 1.2-.6 1.3-.6 1.3-.3 1.3-.2 1.3 0 1.3 .1 1.3 .2 1.3 .5 1.2 .6 1.2 .9 1.1 1.5 1.3-1 1.5-1 1.4-.5 1.4-.2 1.4 0 1.3 .3 1.2 .4 1.2 .7 1.1 .8 .9 1 .8 1.2 .6 1.6 .2 2.1 2.3-1.4 1.6-.3 1.4 .2 1.3 .5 1.1 .9 .8 1 .6 1.4 .1 1.7-1 2.4 2 0 1.3 .6 1 .9 .9 1.1 .7 1.2 .6 1.2 .3 1.3 .2 1.4 .1 1.3-.1 1.3-.3 1.3-.5 1.3-.6 1.2-.8 1.2z" fill="url(#bg38)"/>
<ellipse cx="1095.1" cy="700.8" rx="12.2" ry="9.1" fill="#c4d8ea" opacity="0.35"/>
<ellipse cx="1079.9" cy="695.7" rx="12.2" ry="9.1" fill="#c4d8ea" opacity="0.35"/>
<ellipse cx="1098.0" cy="696.3" rx="12.2" ry="9.1" fill="#c4d8ea" opacity="0.35"/>
<text x="1082.5" y="713.1" font-size="16" text-anchor="middle" fill="#161616" >ADS</text>
<circle cx="773.3" cy="772" r="13" fill="#7f9cdc"/>
<rect x="766.3" y="770.0" width="14" height="24" fill="#fff"/>
<rect x="768.1" y="771.5" width="10.5" height="20" fill="#dce6f6"/>
<circle cx="929.2" cy="773.8" r="13" fill="#e8bcbd"/>
<path d="M918.2,793.8 L929.2,771.8 L940.2,793.8Z" fill="#fff"/>
<path d="M920.7,792.8 L929.2,775.3 L937.7,792.8Z" fill="#f8dccc"/>
<circle cx="1080" cy="769.5" r="13" fill="#7f9cdc"/>
<rect x="1073.0" y="767.5" width="14" height="24" fill="#fff"/>
<rect x="1074.8" y="769.0" width="10.5" height="20" fill="#dce6f6"/>
<circle cx="697.5" cy="852.5" r="14" fill="#e8bcbd"/>
<path d="M716,841 L699,852.5 L716,864Z" fill="#fff"/>
<path d="M721,843.5 L706,852.5 L721,861.5Z" fill="#f8dccc"/>
<text x="807.0" y="858.1" font-size="16" text-anchor="middle" fill="#161616" >Spy Catcher-Spy Tag</text>
<circle cx="919" cy="852.5" r="14" fill="#7f9cdc"/>
<rect x="922" y="843" width="22" height="15.5" fill="#fff"/>
<rect x="925" y="845" width="18" height="12" fill="#dce6f6"/>
<text x="1047.0" y="858.1" font-size="16" text-anchor="middle" fill="#161616" >Snoop Catcher-Snoop Tag</text>
<text x="75.7" y="983.6" font-size="16" text-anchor="middle" fill="#161616" >(a)</text>
<text x="127.2" y="1009.6" font-size="16" text-anchor="middle" fill="#161616" >Fru-6-P</text>
<text x="274.6" y="1009.6" font-size="16" text-anchor="middle" fill="#161616" >GlcN-6-P</text>
<text x="409.1" y="1009.6" font-size="16" text-anchor="middle" fill="#161616" >GlcN-6-P</text>
<text x="540.7" y="990.6" font-size="16" text-anchor="middle" fill="#161616" >GlcNAc-6-P</text>
<circle cx="125.0" cy="1026.6" r="6.6" fill="url(#gG)"/>
<circle cx="112.6" cy="1042.4" r="6.6" fill="url(#gG)"/>
<circle cx="134.6" cy="1044.3" r="6.6" fill="url(#gG)"/>
<circle cx="281.3" cy="1028.0" r="6.6" fill="url(#gP)"/>
<circle cx="269.3" cy="1048.0" r="6.6" fill="url(#gP)"/>
<circle cx="293.2" cy="1048.0" r="6.6" fill="url(#gP)"/>
<circle cx="408.9" cy="1028.0" r="6.6" fill="url(#gP)"/>
<circle cx="396.0" cy="1049.0" r="6.6" fill="url(#gP)"/>
<circle cx="420.8" cy="1049.0" r="6.6" fill="url(#gP)"/>
<circle cx="550.3" cy="1006.0" r="6.6" fill="url(#gO)"/>
<circle cx="539.3" cy="1025.0" r="6.6" fill="url(#gO)"/>
<circle cx="559.8" cy="1025.0" r="6.6" fill="url(#gO)"/>
<linearGradient id="ag39" gradientUnits="userSpaceOnUse" x1="126.0" y1="1053.0" x2="179.5" y2="1075.8"><stop offset="0" stop-color="#d2daf8"/><stop offset="0.6" stop-color="#8ea2ea"/><stop offset="1" stop-color="#8ea2ea"/></linearGradient>
<path d="M125.4 1053.2l.5 1.7 .6 1.7 .6 1.6 .7 1.6 .7 1.5 .9 1.4 .9 1.4 .9 1.4 1 1.2 1.1 1.3 1.1 1.2 1.2 1.1 1.2 1 1.4 1 1.3 1 1.5 .9 1.4 .8 1.6 .7 1.6 .7 1.6 .6 1.8 .6 1.7 .5 1.8 .4 1.9 .4 1.9 .3 2 .3 2 .2 2.1 .1 2.1 0 2.2 0 .2 3.6 12.6-7.6-13.3-6.3 .1 3.5-1.9 .2-2 .1-1.8 0-1.9 0-1.8-.1-1.7-.1-1.7-.2-1.6-.2-1.6-.3-1.5-.4-1.5-.4-1.5-.4-1.4-.6-1.3-.5-1.4-.7-1.2-.6-1.3-.8-1.2-.8-1.1-.8-1.2-.9-1-1-1.1-1.1-1-1.1-1-1.1-.9-1.3-.9-1.3-.8-1.3-.9-1.5-.7-1.5-.8-1.5z" fill="url(#ag39)"/>
<linearGradient id="ag40" gradientUnits="userSpaceOnUse" x1="250.0" y1="1064.8" x2="311.4" y2="1069.6"><stop offset="0" stop-color="#d2daf8"/><stop offset="0.6" stop-color="#8ea2ea"/><stop offset="1" stop-color="#8ea2ea"/></linearGradient>
<path d="M249.6 1065.3l1.6 1.4 1.6 1.4 1.6 1.3 1.6 1.2 1.7 1.2 1.6 1.1 1.6 1 1.7 .9 1.7 .9 1.6 .8 1.7 .8 1.7 .6 1.7 .6 1.7 .6 1.7 .4 1.7 .4 1.8 .3 1.7 .3 1.7 .2 1.8 .1 1.7 0 1.8 0 1.8-.1 1.7-.2 1.8-.3 1.8-.3 1.7-.4 1.8-.5 1.8-.6 1.8-.6 1.4 3.3 9.2-11.5-14.7-1.4 1.4 3.3-1.5 .7-1.5 .6-1.5 .6-1.5 .5-1.5 .4-1.5 .4-1.5 .3-1.5 .2-1.5 .2-1.5 .1-1.6 .1-1.5 0-1.6-.1-1.5-.1-1.6-.2-1.6-.3-1.6-.3-1.6-.4-1.6-.4-1.6-.6-1.7-.6-1.6-.6-1.7-.7-1.6-.8-1.7-.9-1.7-.9-1.7-1-1.7-1.1-1.8-1.1-1.7-1.2z" fill="url(#ag40)"/>
<linearGradient id="ag41" gradientUnits="userSpaceOnUse" x1="379.0" y1="1064.8" x2="435.6" y2="1069.6"><stop offset="0" stop-color="#d2daf8"/><stop offset="0.6" stop-color="#8ea2ea"/><stop offset="1" stop-color="#8ea2ea"/></linearGradient>
<path d="M378.6 1065.3l1.5 1.4 1.5 1.4 1.6 1.3 1.5 1.2 1.5 1.2 1.6 1.1 1.5 1 1.5 .9 1.6 .9 1.5 .8 1.6 .8 1.5 .7 1.6 .6 1.6 .6 1.5 .4 1.6 .5 1.6 .3 1.5 .3 1.6 .2 1.6 .1 1.6 .1 1.5-.1 1.6 0 1.6-.2 1.6-.3 1.6-.3 1.5-.4 1.6-.4 1.5-.6 1.6-.6 1.5 3.3 8.8-11.9-14.7-.8 1.5 3.3-1.2 .6-1.3 .6-1.2 .5-1.3 .5-1.3 .4-1.2 .3-1.3 .3-1.3 .2-1.3 .2-1.4 .1-1.3 0-1.4 0-1.4-.1-1.4-.2-1.4-.2-1.4-.2-1.5-.4-1.4-.4-1.5-.4-1.5-.6-1.6-.6-1.5-.7-1.5-.7-1.6-.8-1.6-.9-1.6-.9-1.6-1-1.7-1.1-1.6-1.1-1.7-1.2z" fill="url(#ag41)"/>
<linearGradient id="ag42" gradientUnits="userSpaceOnUse" x1="503.4" y1="1063.4" x2="551.2" y2="1029.0"><stop offset="0" stop-color="#d2daf8"/><stop offset="0.6" stop-color="#8ea2ea"/><stop offset="1" stop-color="#8ea2ea"/></linearGradient>
<path d="M503.4 1064l2.5 .1 2.3-.1 2.3 0 2.3-.2 2.2-.1 2.1-.3 2.1-.3 2-.3 1.9-.4 1.9-.4 1.8-.5 1.8-.5 1.7-.6 1.7-.6 1.6-.7 1.5-.7 1.5-.8 1.5-.8 1.3-.9 1.3-.9 1.3-1 1.2-1.1 1.1-1.1 1.1-1.2 1-1.2 .9-1.3 .8-1.4 .8-1.4 .7-1.4 .6-1.5 3.5 1.2-2.5-14.6-10.8 10.1 3.4 1.1-.4 1.2-.4 1.2-.5 1.2-.5 1.1-.6 1.1-.7 1-.7 1-.8 1-.9 1-.9 1-1 .9-1.1 .8-1.2 .9-1.2 .8-1.3 .8-1.4 .8-1.4 .7-1.5 .7-1.6 .6-1.7 .6-1.7 .6-1.8 .5-1.9 .6-2 .4-2 .4-2.1 .4-2.2 .4-2.2 .3-2.3 .3-2.4 .3z" fill="url(#ag42)"/>
<rect x="131.7" y="1144.5" width="436.3" height="7.4" fill="#fff"/>
<line x1="131.7" y1="1147.1" x2="568.0" y2="1147.1" stroke="#ef9ca8" stroke-width="2.6" stroke-dasharray="1.3 1.1"/>
<line x1="131.7" y1="1149.5" x2="568.0" y2="1149.5" stroke="#a4b8ec" stroke-width="2.4" stroke-dasharray="1.3 1.1"/>
<line x1="131.7" y1="1145.3" x2="568.0" y2="1145.3" stroke="#ea7c88" stroke-width="1.5"/>
<line x1="131.7" y1="1151.2" x2="568.0" y2="1151.2" stroke="#84a2e4" stroke-width="1.5"/>
<path d="M214.3,1088 Q204,1105 208.2,1111.3 Q211,1116 210.8,1121" fill="none" stroke="#3a3a3a" stroke-width="1.8"/>
<path d="M347,1088 Q350,1098 341,1103 Q334,1108 344,1112 Q352,1116 340,1121" fill="none" stroke="#3a3a3a" stroke-width="1.8"/>
<path d="M467,1088 Q470,1098 461,1103 Q454,1108 464,1112 Q472,1116 460,1121" fill="none" stroke="#3a3a3a" stroke-width="1.8"/>
<rect x="185.4" y="1128.8" width="54.3" height="16.6" rx="8.3" fill="#7f88b8"/>
<rect x="203" y="1121" width="18.3" height="14.8" fill="#7a98b2" stroke="#a9bfd2" stroke-width="1.2"/>
<rect x="311.2" y="1128.8" width="53.5" height="16.6" rx="8.3" fill="#c5b9dd"/>
<circle cx="337.4" cy="1127.5" r="9.2" fill="#f0cdcf" stroke="#f8e6e6" stroke-width="1.5"/>
<rect x="434.2" y="1128.8" width="53.5" height="16.6" rx="8.3" fill="#c5b9dd"/>
<circle cx="460.4" cy="1127.5" r="9.2" fill="#f0cdcf" stroke="#f8e6e6" stroke-width="1.5"/>
<line x1="210.8" y1="1143.7" x2="210.8" y2="1168.2" stroke="#111" stroke-width="2.2"/>
<line x1="211.7" y1="1127.0" x2="251.1" y2="1166.5" stroke="#111" stroke-width="2.2"/>
<line x1="337.3" y1="1143.7" x2="337.3" y2="1168.2" stroke="#111" stroke-width="2.2"/>
<line x1="339.0" y1="1127.0" x2="375.5" y2="1166.5" stroke="#111" stroke-width="2.2"/>
<line x1="461.4" y1="1143.7" x2="461.4" y2="1168.2" stroke="#111" stroke-width="2.2"/>
<line x1="463.0" y1="1127.0" x2="501.0" y2="1166.5" stroke="#111" stroke-width="2.2"/>
<linearGradient id="bg43" x1="0.2" y1="0" x2="0.6" y2="1"><stop offset="0" stop-color="#a2d9d7"/><stop offset="0.55" stop-color="#92d2d0"/><stop offset="1" stop-color="#8ccac8"/></linearGradient>
<path d="M241.1 1059.5l2.8 1.7 .9 1.4 .4 1.4 .1 1.4-.3 1.3-.7 1.2-1 1-1.4 .8-2.2 .4 .1 1.3 0 1.6-.2 1.3-.5 1.3-.7 1.1-.9 1-.9 .9-1.1 .7-1.2 .6-1.3 .4-1.4 .2-1.8-.4-.1 2-.7 1.3-.9 1-1.1 .6-1.3 .2-1.5-.3-1.6-.7-.8 1.4-1.1 1-1.1 .7-1.3 .5-1.3 .3-1.2 .3-1.4 0-1.3-.1-1.3-.2-1.2-.3-1.3-.5-1.2-.7-1-.9-.9-1.2-1-.7-1.4 .1-1.3-.1-1.3-.4-1.2-.4-1.1-.5-1.1-.6-1.1-.7-1-.7-.9-.8-.9-1-.8-1-.7-1.1-.4-1.4-.8-.8-1.6-.3-1.3-.5-1.2-.7-1.1-1-.9-1-.7-1.2-.6-1.3-.3-1.3-.2-1.4 0-1.3 .1-1.4 .4-1.3 .6-1.3 1.1-1.3-.8-1.2-.9-1.2-.5-1.3-.2-1.3 .1-1.4 .4-1.3 .7-1.1 1-1 1.5-.8-.2-1.4-.1-1.5 .3-1.3 .6-1.2 .8-1.1 1.1-.7 1.3-.5 1.6-.1 .9-.8 .2-2.2 .8-1.4 1.2-.8 1.4-.2 1.6 .6 1.7 1.5 1.1-.4 1-1.4 1.2-.8 1.2-.5 1.3-.1 1.3 .2 1.2 .5 1.4 1.1 1.2 .3 1.1-2.2 1.2-1.1 1.2-.4 1.2 .3 1.3 1 1.4 2.2 1.2-.3 1.1-1.5 1.2-.9 1.2-.7 1.3-.5 1.3-.2 1.3 0 1.3 .2 1.3 .5 1.3 .7 1.1 1.1 .9 1.6 .9 1.1 1.8-1.3 1.6-.3 1.5 .2 1.3 .5 1.2 .9 .9 1.3 .4 1.3 .1 1.7-.7 1.7 .5 1.1 1.2 .9 .9 1.1 .6 1.2 .5 1.2 .3 1.3 .1 1.3 0 1.3-.1 1.2-.3 1.3-.4 1.2-.5 1.2-.8 1.2z" fill="url(#bg43)"/>
<ellipse cx="224.5" cy="1049.5" rx="11.5" ry="7.8" fill="#a8dcdc" opacity="0.35"/>
<ellipse cx="228.0" cy="1067.2" rx="11.5" ry="7.8" fill="#a8dcdc" opacity="0.35"/>
<ellipse cx="206.6" cy="1058.7" rx="11.5" ry="7.8" fill="#a8dcdc" opacity="0.35"/>
<text x="213.0" y="1064.2" font-size="16" text-anchor="middle" fill="#161616" >GlmS</text>
<linearGradient id="bg44" x1="0.2" y1="0" x2="0.6" y2="1"><stop offset="0" stop-color="#f6dfb3"/><stop offset="0.55" stop-color="#f4d9a6"/><stop offset="1" stop-color="#ead09f"/></linearGradient>
<path d="M373.3 1057.5l3.4 1.4 1.1 1.4 .4 1.3-.2 1.3-.7 1.2-1.4 1.1-2.8 .5 1.2 1.7 .7 1.5 .3 1.5 .1 1.3-.3 1.4-.4 1.2-.7 1.1-.9 1-1.1 .9-1.4 .7-1.7 .3-1 .8 0 1.5-.5 1.4-.6 1.2-.8 1.1-1.1 1-1.1 .8-1.2 .6-1.3 .4-1.4 .3-1.3 .1-1.4-.1-1.3-.3-1.3-.5-1.2-.8-1.2-.4-1.4 1.7-1.4 .9-1.3 .4-1.4 .1-1.2-.3-1.2-.7-1.1-1-.9-1.6-.3-3.4-2 2.4-1.5 .4-1.4 .2-1.3-.2-1.3-.3-1.2-.5-1.1-.8-.9-.9-.8-1.2-.6-1.4 0-2.1-1.9 .4-1.8 .1-1.6-.4-1.2-.8-.9-1.1-.6-1.2-.3-1.4 .1-1.6 .7-1.7 .4-1.5-1.4-.8-1-.9-.8-1.1-.6-1.2-.5-1.2-.3-1.2-.3-1.2-.1-1.3 0-1.3 .2-1.3 .3-1.3 .6-1.3 .3-1.2-1.2-1.2-.7-1.3-.4-1.3-.2-1.3 0-1.4 .2-1.3 .4-1.3 .7-1.3 .9-1.1 1.1-.9 1.4-.6 1.6-.2-.1-1.7 .6-1.3 .8-1.1 1-.9 1.1-.8 1.1-.6 1.3-.4 1.3-.3 1.3 0 1.3 0 1.4 .4 1.3 .3 1-1.4 1-.9 1.2-.7 1.1-.6 1.3-.5 1.2-.3 1.3-.2 1.3 0 1.3 0 1.3 .2 1.2 .4 1.3 .5 1.3 .7 1.1 1.2 1.3-.4 1.3-.7 1.4-.3 1.4-.1 1.3 .2 1.3 .4 1.3 .5 1 .7 1.1 .9 .9 1 .7 1.2 .5 1.4 .1 1.7 2.1-.5 1.5 .3 1.2 .6 1.1 .8 .9 1 .6 1.2 .3 1.4 .1 1.5-.7 1.7 1.1 .8 1.3 .9 1 1 .6 1.3 .4 1.3 .1 1.3-.1 1.3-.5 1.3-.7 1.3z" fill="url(#bg44)"/>
<ellipse cx="336.1" cy="1053.8" rx="11.2" ry="8.5" fill="#f9e2b8" opacity="0.35"/>
<ellipse cx="336.7" cy="1050.6" rx="11.2" ry="8.5" fill="#f9e2b8" opacity="0.35"/>
<ellipse cx="353.1" cy="1047.9" rx="11.2" ry="8.5" fill="#f9e2b8" opacity="0.35"/>
<text x="347.0" y="1064.2" font-size="16" text-anchor="middle" fill="#161616" >GNA1</text>
<linearGradient id="bg45" x1="0.2" y1="0" x2="0.6" y2="1"><stop offset="0" stop-color="#f6dfb3"/><stop offset="0.55" stop-color="#f4d9a6"/><stop offset="1" stop-color="#ead09f"/></linearGradient>
<path d="M494.7 1059.4l2.4 1.6 .7 1.4 .3 1.4-.1 1.3-.3 1.2-.7 1.2-1.1 1-1.5 .8-1.9 .5 1.3 1.9 .5 1.7 .1 1.4-.2 1.4-.5 1.2-.7 1.1-1 .9-1.3 .8-1.6 .4-2.1-.1-.7 .9 .2 2.1-.4 1.6-.7 1.4-1 1.1-1.3 .8-1.4 .5-1.4 .1-1.5-.3-1.5-.6-1.5-1.3-1.3-.3-1.1 1.6-1.2 1-1.2 .6-1.3 .3-1.3 .1-1.2-.1-1.3-.4-1.2-.7-1.2-1.1-1.1-2.6-1.4 2.2-1.3 .6-1.4 .2-1.3 .1-1.3-.2-1.3-.3-1.2-.6-1.2-.8-.9-1-.8-1.2-.4-1.5-1-.7-2 .2-1.6-.3-1.3-.7-1.1-1-.8-1.2-.4-1.3-.1-1.4 .2-1.5 .7-1.7 2-2.1-3-.2-1.5-.8-1.2-.9-.8-1.2-.6-1.2-.2-1.3 0-1.3 .3-1.4 .7-1.4 1.2-1.4 .7-1.3-1.8-1.1-1-1.2-.5-1.3-.2-1.3 .3-1.3 .7-1.3 1.3-1.1 2.3-.8-2.3-1.9-.7-1.7 0-1.6 .7-1.2 1.2-1 1.7-.4 2.5 .6 .1-1.7 0-2 .5-1.5 1-1.2 1.2-.6 1.4-.3 1.5 .2 1.8 .9 1.9 1.5 .5-2.3 .8-1.5 .9-1.1 1.1-1 1.1-.6 1.3-.5 1.3-.3 1.4 0 1.4 .2 1.3 .5 1.4 .7 1.3 1.3 1.2 .5 1.3-1.7 1.3-.7 1.2-.2 1.4 .2 1.2 .8 1 1.4 1.2 .5 1.4-.7 1.4-.3 1.4 .1 1.2 .3 1.2 .6 1 .8 1 1 .7 1.3 .1 2.3 2.2-1.3 1.8-.3 1.5 .3 1.3 .6 1.1 .9 .8 1.2 .5 1.4 .1 1.6-.6 1.8-.7 1.6 1.8 .7 1.1 1 .7 1.1 .5 1.4 .3 1.3 .1 1.3-.2 1.3-.4 1.3-.6 1.2-.9 1.2z" fill="url(#bg45)"/>
<ellipse cx="460.9" cy="1061.3" rx="11.3" ry="8.4" fill="#f9e2b8" opacity="0.35"/>
<ellipse cx="474.7" cy="1073.8" rx="11.3" ry="8.4" fill="#f9e2b8" opacity="0.35"/>
<ellipse cx="464.0" cy="1061.0" rx="11.3" ry="8.4" fill="#f9e2b8" opacity="0.35"/>
<text x="468.0" y="1064.2" font-size="16" text-anchor="middle" fill="#161616" >GNA1</text>
<text x="211.0" y="1183.0" font-size="16" text-anchor="middle" fill="#161616" >B2</text>
<text x="254.7" y="1183.0" font-size="16" text-anchor="middle" fill="#161616" >ADB2</text>
<text x="336.3" y="1183.0" font-size="16" text-anchor="middle" fill="#161616" >B3</text>
<text x="379.9" y="1183.0" font-size="16" text-anchor="middle" fill="#161616" >ADB3</text>
<text x="460.9" y="1183.0" font-size="16" text-anchor="middle" fill="#161616" >B3</text>
<text x="505.4" y="1183.0" font-size="16" text-anchor="middle" fill="#161616" >ADB3</text>
<text x="555.9" y="1130.2" font-size="16" text-anchor="middle" fill="#161616" >DNA scaffold</text>
<text x="663.4" y="983.6" font-size="16" text-anchor="middle" fill="#161616" >(b)</text>
<text x="766.5" y="1005.6" font-size="16" text-anchor="middle" fill="#161616" >D-Galactose</text>
<text x="919.5" y="986.6" font-size="16" text-anchor="middle" fill="#161616" >Galactitol</text>
<text x="1075.9" y="975.6" font-size="16" text-anchor="middle" fill="#161616" >D-Tagatose</text>
<circle cx="757.0" cy="1022.6" r="6.6" fill="url(#gG)"/>
<circle cx="745.0" cy="1039.8" r="6.6" fill="url(#gG)"/>
<circle cx="766.6" cy="1039.8" r="6.6" fill="url(#gG)"/>
<circle cx="919.5" cy="1001.6" r="6.6" fill="url(#gP)"/>
<circle cx="906.0" cy="1021.7" r="6.6" fill="url(#gP)"/>
<circle cx="930.5" cy="1021.7" r="6.6" fill="url(#gP)"/>
<circle cx="1071.0" cy="990.6" r="6.6" fill="url(#gO)"/>
<circle cx="1060.4" cy="1009.7" r="6.6" fill="url(#gO)"/>
<circle cx="1080.5" cy="1009.7" r="6.6" fill="url(#gO)"/>
<linearGradient id="ag46" gradientUnits="userSpaceOnUse" x1="765.0" y1="1056.0" x2="822.5" y2="1057.5"><stop offset="0" stop-color="#d2daf8"/><stop offset="0.6" stop-color="#8ea2ea"/><stop offset="1" stop-color="#8ea2ea"/></linearGradient>
<path d="M764.7 1056.5l1.6 1.2 1.6 1.1 1.6 1.1 1.6 .9 1.6 1 1.6 .8 1.6 .9 1.6 .7 1.5 .7 1.6 .6 1.6 .6 1.6 .6 1.6 .4 1.6 .4 1.6 .4 1.6 .3 1.5 .2 1.6 .2 1.6 .1 1.6 .1 1.6-.1 1.5 0 1.6-.1 1.6-.2 1.5-.3 1.6-.3 1.5-.4 1.6-.4 1.5-.5 1.5-.6 1.5 3.3 9-11.7-14.7-1.1 1.4 3.3-1.2 .6-1.2 .6-1.3 .5-1.3 .4-1.3 .4-1.3 .4-1.3 .3-1.3 .2-1.3 .3-1.4 .1-1.4 .1-1.4 .1-1.4 0-1.4-.1-1.5-.1-1.4-.1-1.5-.3-1.5-.2-1.5-.3-1.6-.4-1.5-.4-1.6-.5-1.6-.6-1.6-.6-1.6-.6-1.7-.7-1.6-.8-1.7-.8-1.7-.8-1.8-.9z" fill="url(#ag46)"/>
<linearGradient id="ag47" gradientUnits="userSpaceOnUse" x1="887.5" y1="1050.0" x2="945.8" y2="1038.4"><stop offset="0" stop-color="#d2daf8"/><stop offset="0.6" stop-color="#8ea2ea"/><stop offset="1" stop-color="#8ea2ea"/></linearGradient>
<path d="M887.3 1050.5l1.7 1 1.8 .8 1.8 .8 1.8 .7 1.7 .7 1.8 .5 1.7 .5 1.8 .5 1.7 .4 1.8 .3 1.7 .2 1.7 .2 1.7 .1 1.7 .1 1.7 0 1.7-.1 1.7-.1 1.7-.3 1.6-.2 1.7-.4 1.6-.4 1.6-.5 1.6-.5 1.6-.7 1.6-.6 1.6-.8 1.6-.8 1.5-.9 1.5-1 1.5-1 2.2 2.9 6.1-13.5-14.6 2.4 2.2 2.8-1.2 1-1.3 1-1.2 .9-1.3 .8-1.3 .8-1.3 .7-1.4 .7-1.3 .6-1.4 .6-1.4 .5-1.4 .4-1.4 .4-1.5 .4-1.4 .2-1.5 .3-1.5 .1-1.6 .2-1.6 0-1.5 0-1.7 0-1.6-.1-1.7-.2-1.6-.2-1.8-.3-1.7-.4-1.7-.4-1.8-.5-1.8-.5-1.9-.6-1.9-.5z" fill="url(#ag47)"/>
<linearGradient id="ag48" gradientUnits="userSpaceOnUse" x1="1015.0" y1="1038.4" x2="1074.8" y2="1013.0"><stop offset="0" stop-color="#d2daf8"/><stop offset="0.6" stop-color="#8ea2ea"/><stop offset="1" stop-color="#8ea2ea"/></linearGradient>
<path d="M1014.9 1039l2 .5 1.9 .4 2 .4 2 .3 1.9 .2 1.9 .1 1.9 .1 1.9 0 1.9 0 1.9-.1 1.9-.2 1.8-.3 1.8-.3 1.9-.4 1.8-.4 1.7-.5 1.8-.6 1.8-.6 1.7-.7 1.7-.8 1.7-.9 1.7-.9 1.7-.9 1.6-1.1 1.6-1.1 1.6-1.1 1.6-1.3 1.6-1.3 1.5-1.3 1.5-1.5 2.6 2.5 4-14.2-14.1 4.5 2.6 2.5-1.2 1.4-1.3 1.3-1.3 1.3-1.4 1.3-1.3 1.1-1.4 1.1-1.4 1.1-1.4 1-1.5 .9-1.4 .9-1.5 .9-1.5 .8-1.5 .7-1.6 .7-1.6 .6-1.6 .6-1.6 .5-1.7 .4-1.6 .4-1.7 .4-1.8 .2-1.7 .3-1.8 .2-1.9 .1-1.8 0-1.9 .1-1.9-.1-1.9-.1-2-.1-2-.2z" fill="url(#ag48)"/>
<path d="M797.4 1150.1l-2.1-1.4-.7-1.3-.3-1.4 0-1.3 .3-1.3 .7-1.2 .9-1.1 1.4-.8 .4-1.2-.1-1.4 .2-1.3 .5-1.3 .8-1.1 1-.9 1.2-.7 1.4-.3 1.3-.2 .5-1.6 .9-1.2 1-.9 1.2-.6 1.2-.4 1.3-.1 1.4 .1 1.5 .7 1.2-.2 1.2-.8 1.3-.4 1.2-.2 1.3 0 1.2 .3 1.3 .4 1.2 .7 1.3-.4 1-.8 .9-.7 1-.8 .6-.8 .5-.8 .6-.9 .7-.9 .7-1.1 .9-1 1.5-.8-1.2-1.7-.2-1.5 .3-1.3 .8-1.1 1.2-.9 1.8 0 .5-1.4 .4-1.5 .9-1.2 1-.9 1.2-.6 1.3-.2 1.5 .1 1.6 .8 1.1-.8 .9-1.1 1.1-.9 1.2-.6 1.2-.5 1.3-.2 1.3 0 1.4 .1 1.3 .4 1.3 .8 1.2 .3 1.3-1.1 1.4-.5 1.4-.1 1.2 .1 1.4 .5 1.2 .8 1 1.1 .6 1.5 .4 1.4 1.5 .2 1.1 .6 1.1 .9 .9 .9 .8 1.1 .6 1.2 .5 1.1 .4 1.3 .2 1.3 0 1.3-.6 1.5 1.5 .9 .9 1.1 .5 1.2 .2 1.3 0 1.3-.4 1.3-1.1 1.3 1.1 1.2 .9 1.2 .5 1.3 .1 1.3-.3 1.3-.6 1.2-1.1 1.2-.5 1.2 .9 1.4 .3 1.3 0 1.3-.3 1.3-.6 1.1-1 1.1-1.1 1 1.1 1.6 .3 1.3-.2 1.3-.6 1.2-1.2 .9-1 1 .4 1.5 0 1.3-.3 1.2-.6 1.1-1 1-.4 1.2 0 1.3-.2 1.3-.5 1.2-.7 1.2-.9 1-1.1 .8-1.2 .5-1.7-.3-.3 1.9-.8 1.2-1.1 .8-1.2 .5-1.3 .3-1.3-.2-1.6-.8-1 1.2-1.1 .8-1.2 .6-1.2 .3-1.3 .2-1.3 0-1.3-.2-1.3-.5-1.2-1-1.2 .5-1.3 .4-1.3 .2-1.3 0-1.3-.1-1.2-.1-1.2-.3-1.3-.3-1.2-.4-1.1-.5-1.2-.7-1.2-.9-1.3 1-1.3 .5-1.3 .3-1.2 .2-1.3 .1-1.2 0-1.3-.2-1.2-.3-1.3-.5-1.2-.7-1.1-1-1.2-.3-1.4 .8-1.5 .3-1.4 .1-1.2-.3-1.3-.4-1.2-.7-1-.9-.9-1.1-.6-1.4-.5-1.5-1.6 .2-1.3-.5-1.1-.7-.9-1-.7-1.1-.5-1.3 0-1.4-.9-1-1-.9-.7-1.1-.5-1.2-.3-1.3 0-1.3 .3-1.3z" fill="#9ea6dc"/>
<path d="M815.9 1135.6l-.6-1.9 .8-1.2 1.2-.9 1.3-.3 1.3 0 1.5 .6 1.1-.7 1-1 1.1-.7 1-.5 1-.4 1.2-.4 1.1-.3 1.3-.3 1.3-.4-.1-1.7 0-1.3 .3-1.1 .3-1.2 .5-1.1 .6-1.1 .8-1.1 1.1-.9 .6-1.1 0-1.3 .3-1.3 .5-1.3 .7-1 .9-1 1-.9 1.2-.7 1.1-.5 1.2-.4 1.3-.2 1.3 0 1.2-.5 1-.8 1.2-.5 1.2-.5 1.2-.3 1.2-.2 1.3-.1 1.2 0 1.3 .1 1.3 .3 1.2 .5 1.2-.1 1.3-.4 1.3 0 1.3 .1 1.3 .4 1.3 .7 1 .9 .9 1 .7 1.1 .4 1.3 0 1.5 1.4 .5 1.1 .9 .8 .9 .7 1.1 .6 1.2 .4 1.2 .2 1.2 0 1.4-.1 1.3-1.2 1.4 1.9 1 .6 1.3 .3 1.2-.2 1.3-.5 1.3-1.2 1.1 0 1.2 .5 1.4 .1 1.2 0 1.4-.2 1.3-.3 1.2-.5 1.2-.6 1.2-.7 1-1 .9-1.1 .9-1.2 .6 .4 1.7-.2 1.5-.5 1.2-.7 1.1-.9 .8-1.1 .8-1.4 .5-1.8-.2-.2 1.6-.6 1.3-.9 .9-1 .9-1.1 .6-1.2 .5-1.3 .3-1.3 .1-1.4-.4-1 1-1 1-1.2 .6-1.2 .2-1.4-.1-1.3-.8-1.2 .7-1.1 .8-1.3 .5-1.4 .1-1.2-.2-1.3-.5-1.1-1-1.1-.8-1.4 .8-1.4 .2-1.3 .1-1.3-.2-1.3-.3-1.1-.4-1.2-.7-1-.8-.9-1-.8-1.3-1-.6-1.7 .3-1.3-.3-1.1-.8-.8-1.1-.3-1.6-.3-1.2-1.3-.7-.9-1-.6-1.1-.3-1.2 .1-1.4-.3-1.2-.9-1.1-.6-1.2-.4-1.2 0-1.3 .2-1.4 .7-1.2z" fill="#bcc0ea"/>
<linearGradient id="bg49" x1="0.2" y1="0" x2="0.6" y2="1"><stop offset="0" stop-color="#c9e9d3"/><stop offset="0.55" stop-color="#bfe5cb"/><stop offset="1" stop-color="#b7dcc3"/></linearGradient>
<path d="M939.5 1140.2l-1.6-1.5-.5-1.3-.1-1.3 .1-1.4 .4-1.2 .6-1.2 .9-1 1.2-.9 .7-1.1 0-1.3 .2-1.3 .4-1.3 .5-1.1 .6-1.1 .8-1.1 .8-1 1-.8 1.1-.8 1.2-.6 .9-.8-.1-1.9 .6-1.3 1-.8 1.4-.4 1.8 .3 1-.7 .7-1.3 .8-1 1.1-.7 1.1-.6 1.2-.4 1.4-.1 1.5 .4 .8-1.4 1-1.1 1.1-.6 1.3-.1 1.4 .4 1.5 .6 .9-1.5 1.1-.9 1.1-.7 1.2-.4 1.3-.2 1.4 0 1.2 .2 1.4 .6 1.3 1.1 1.2-.8 1.3-.9 1.3-.4 1.2 0 1.3 .5 1.2 .9 1.1 .9 1.4-.7 1.4-.3 1.2 .1 1.3 .4 1.2 .6 1 .9 .7 1.5 1.4-.1 1.3 .2 1.3 .4 1.1 .6 1.1 .7 1 .8 .9 1 .7 1.1 .7 1.1 .4 1.3 0 1.5 2.3-.1 1.3 .7 .8 1.1 .2 1.4-.7 1.7 .7 1.1 1.4 .8 .9 1.1 .4 1.2 0 1.3-.6 1.5-.3 1.4 1.3 1 .8 1.2 .4 1.2 0 1.3-.3 1.3-.7 1.3-1.2 1.2 1.1 1.3 .5 1.3 .2 1.3 .1 1.2 0 1.4-.2 1.2-.4 1.2-.5 1.3-.8 1.1-1 1-.6 1.1 .8 1.6 .2 1.5-.2 1.3-.5 1.3-.7 1-1.2 .9-1.3 .7-2.2-.1 .3 1.8-.5 1.2-.7 1.1-.8 1-.9 .9-1.1 .7-1.1 .7-1.2 .5-1.4 .2-1.1 .5-.8 1.2-.9 1-1 .8-1.1 .6-1.2 .6-1.2 .4-1.3 .2-1.3 .1-1.3-.1-1.4-.3-1.4-.8-1 1.8-1.2 .9-1.2 .4-1.3 0-1.3-.4-1.3-1-1.2-.6-1.3 1-1.3 .6-1.2 .2-1.3 0-1.3-.3-1.2-.5-1.1-.9-1.1-1.3-1.5 1.3-1.3 .4-1.3 0-1.3-.5-1-.9-.9-1.6-1.3 .1-1.4 .3-1.4 0-1.3-.2-1.2-.4-1.2-.5-1.1-.7-1-.8-.9-1.1-.7-1.3-.8-.9-1.8 .2-1.2-.5-1-1-.4-1.3 .5-2-1.5-.5-1.2-.8-.9-1-.7-1.1-.6-1.2-.3-1.2-.2-1.3 0-1.3 .2-1.4 .6-1.3-.6-1.2-1-1.1-.5-1.2-.3-1.3 0-1.3 .3-1.3 .6-1.3z" fill="url(#bg49)"/>
<rect x="758.4" y="1149.6" width="282.6" height="7.4" fill="#fff"/>
<line x1="758.4" y1="1152.2" x2="1041.0" y2="1152.2" stroke="#ef9ca8" stroke-width="2.6" stroke-dasharray="1.3 1.1"/>
<line x1="758.4" y1="1154.6" x2="1041.0" y2="1154.6" stroke="#a4b8ec" stroke-width="2.4" stroke-dasharray="1.3 1.1"/>
<line x1="758.4" y1="1150.4" x2="1041.0" y2="1150.4" stroke="#ea7c88" stroke-width="1.5"/>
<line x1="758.4" y1="1156.3" x2="1041.0" y2="1156.3" stroke="#84a2e4" stroke-width="1.5"/>
<path d="M800,1151 Q806,1143 812,1143 L842,1143 Q848,1143 854,1151" fill="none" stroke="#e0606c" stroke-width="1.8"/>
<path d="M847,1150 L847,1124 A4.5,4.5 0 0 1 856,1124 L856,1148 L868,1148" fill="none" stroke="#8f8fa8" stroke-width="1.6"/>
<path d="M938,1151 Q944,1143 950,1143 L992,1143 Q998,1143 1004,1151" fill="none" stroke="#e0606c" stroke-width="1.8"/>
<path d="M983,1145 L983,1124 A4.5,4.5 0 0 1 992,1124 L992,1146 L1004,1146" fill="none" stroke="#a0a890" stroke-width="1.6"/>
<path d="M861,1056 Q857,1066 860,1074" fill="none" stroke="#333" stroke-width="1.6"/>
<path d="M859.5,1086.0 C859.6,1086.1 859.7,1086.3 859.8,1086.5 C860.0,1086.6 860.1,1086.8 860.2,1087.0 C860.3,1087.1 860.4,1087.3 860.5,1087.4 C860.6,1087.6 860.7,1087.7 860.8,1087.9 C860.9,1088.1 861.0,1088.2 861.1,1088.4 C861.1,1088.5 861.2,1088.7 861.3,1088.8 C861.3,1089.0 861.4,1089.2 861.5,1089.3 C861.5,1089.5 861.6,1089.6 861.6,1089.8 C861.6,1090.0 861.7,1090.1 861.7,1090.3 C861.7,1090.4 861.7,1090.6 861.7,1090.8 C861.7,1090.9 861.7,1091.1 861.7,1091.2 C861.7,1091.4 861.6,1091.5 861.6,1091.7 C861.6,1091.9 861.5,1092.0 861.5,1092.2 C861.4,1092.3 861.3,1092.5 861.3,1092.7 C861.2,1092.8 861.1,1093.0 861.1,1093.1 C861.0,1093.3 860.9,1093.4 860.8,1093.6 C860.7,1093.8 860.6,1093.9 860.5,1094.1 C860.4,1094.2 860.3,1094.4 860.2,1094.5 C860.1,1094.7 860.0,1094.9 859.8,1095.0 C859.7,1095.2 859.6,1095.3 859.5,1095.5 C859.4,1095.7 859.3,1095.8 859.2,1096.0 C859.0,1096.1 858.9,1096.3 858.8,1096.5 C858.7,1096.6 858.6,1096.8 858.5,1096.9 C858.4,1097.1 858.3,1097.2 858.2,1097.4 C858.1,1097.6 858.0,1097.7 857.9,1097.9 C857.9,1098.0 857.8,1098.2 857.7,1098.3 C857.7,1098.5 857.6,1098.7 857.5,1098.8 C857.5,1099.0 857.4,1099.1 857.4,1099.3 C857.4,1099.5 857.3,1099.6 857.3,1099.8 C857.3,1099.9 857.3,1100.1 857.3,1100.2 C857.3,1100.4 857.3,1100.6 857.3,1100.7 C857.3,1100.9 857.4,1101.0 857.4,1101.2 C857.4,1101.4 857.5,1101.5 857.5,1101.7 C857.6,1101.8 857.7,1102.0 857.7,1102.2 C857.8,1102.3 857.9,1102.5 857.9,1102.6 C858.0,1102.8 858.1,1102.9 858.2,1103.1 C858.3,1103.3 858.4,1103.4 858.5,1103.6 C858.6,1103.7 858.7,1103.9 858.8,1104.0 C858.9,1104.2 859.0,1104.4 859.2,1104.5 C859.3,1104.7 859.4,1104.9 859.5,1105.0" fill="none" stroke="#333" stroke-width="1.6" stroke-linecap="round"/>
<path d="M852.5,1077 L852.5,1087 L867.5,1087 L867.5,1077" fill="none" stroke="#5a7cc8" stroke-width="2.4"/>
<rect x="855.5" y="1073.5" width="9" height="9" fill="#5aa0c2"/>
<path d="M994.5,1060 Q992,1067 993.6,1073" fill="none" stroke="#333" stroke-width="1.6"/>
<path d="M986,1082 L993.6,1089 L1001,1082" fill="none" stroke="#5a7cc8" stroke-width="2.4"/>
<path d="M993.6,1073 L999.5,1079 L993.6,1085 L987.7,1079Z" fill="#4a98b8"/>
<path d="M993.0,1089.0 C993.1,1089.1 993.2,1089.3 993.3,1089.4 C993.5,1089.6 993.6,1089.7 993.7,1089.8 C993.8,1090.0 993.9,1090.1 994.0,1090.3 C994.1,1090.4 994.2,1090.6 994.3,1090.7 C994.4,1090.8 994.5,1091.0 994.6,1091.1 C994.6,1091.3 994.7,1091.4 994.8,1091.5 C994.8,1091.7 994.9,1091.8 995.0,1092.0 C995.0,1092.1 995.1,1092.3 995.1,1092.4 C995.1,1092.5 995.2,1092.7 995.2,1092.8 C995.2,1093.0 995.2,1093.1 995.2,1093.2 C995.2,1093.4 995.2,1093.5 995.2,1093.7 C995.2,1093.8 995.1,1094.0 995.1,1094.1 C995.1,1094.2 995.0,1094.4 995.0,1094.5 C994.9,1094.7 994.8,1094.8 994.8,1095.0 C994.7,1095.1 994.6,1095.2 994.6,1095.4 C994.5,1095.5 994.4,1095.7 994.3,1095.8 C994.2,1095.9 994.1,1096.1 994.0,1096.2 C993.9,1096.4 993.8,1096.5 993.7,1096.7 C993.6,1096.8 993.5,1096.9 993.3,1097.1 C993.2,1097.2 993.1,1097.4 993.0,1097.5 C992.9,1097.6 992.8,1097.8 992.7,1097.9 C992.5,1098.1 992.4,1098.2 992.3,1098.3 C992.2,1098.5 992.1,1098.6 992.0,1098.8 C991.9,1098.9 991.8,1099.1 991.7,1099.2 C991.6,1099.3 991.5,1099.5 991.4,1099.6 C991.4,1099.8 991.3,1099.9 991.2,1100.0 C991.2,1100.2 991.1,1100.3 991.0,1100.5 C991.0,1100.6 990.9,1100.8 990.9,1100.9 C990.9,1101.0 990.8,1101.2 990.8,1101.3 C990.8,1101.5 990.8,1101.6 990.8,1101.8 C990.8,1101.9 990.8,1102.0 990.8,1102.2 C990.8,1102.3 990.9,1102.5 990.9,1102.6 C990.9,1102.7 991.0,1102.9 991.0,1103.0 C991.1,1103.2 991.2,1103.3 991.2,1103.5 C991.3,1103.6 991.4,1103.7 991.4,1103.9 C991.5,1104.0 991.6,1104.2 991.7,1104.3 C991.8,1104.4 991.9,1104.6 992.0,1104.7 C992.1,1104.9 992.2,1105.0 992.3,1105.2 C992.4,1105.3 992.5,1105.4 992.7,1105.6 C992.8,1105.7 992.9,1105.9 993.0,1106.0" fill="none" stroke="#333" stroke-width="1.6" stroke-linecap="round"/>
<path d="M829.1 1015.9l-1.4-2.2 .1-1.6 .6-1.2 .9-1 1.2-.7 1.3-.4 1.7 .2 1.1-.6 .5-1.5 .8-1.1 1-.9 1.3-.6 1.3-.3 1.3 0 1.4 .4 1.4 .4 .9-1.5 1.1-.6 1.2-.1 1.6 .7 .4-1.9 .8-.8 1.2-.3 1.8-.1-.1-1.7 .2-1.3 .4-1.2 .5-1.1 .8-1 1-.9 1.3-.7 1.5-.2 1-.7 .9-1.3 1.4-.6 1.4 0 1.2 .7 1 1.6 1.6-1 1.4 .1 1.2 1 .4 1.4 0 1.5 1.3 .8 .8 1.1 .4 1.2 .2 1.2-.2 1.3-.7 1.5 1.5 .8 1.3 .8 .9 .9 .4 1.1 .1 1.4-.4 1.5-.1 1.5 1.6 .6 1 .9 .8 1 .5 1.2 .1 1.3-.2 1.4-.9 1.6 1.1 1 1 1.1 .6 1.3 .1 1.2-.2 1.3-.6 1.3-1.3 1.3 1.4 1.1 .8 .8 .8 .7 .7 .6 1 .8 .8 1.1 .2 1.3 1.6 1 .7 1.3 .2 1.4-.2 1.3-.5 1.2-1 1.1-1.7 .9 .9 1.5 .8 1.7-.2 1.4-1 .9-2.2 .3-.6 1.1 0 1.7-.7 1.3-1.2 .8-1.4 .3-1.7-.4-1.3 .2-.7 1.4-.9 1-1 .8-1.1 .6-1.3 .3-1.3 .1-1.5-.3-1.5-.9-.8 1.9-1.3 .9-1.5 .4-1.5-.3-1.4-1-.8-1.3-.1-1.8-1.3-.4-1.6-.1-1.2-.3-1-.6-.8-.9-.7-1.3-.2-1.9-1.7 .4-1.4-.2-1-.6-.7-1.2-.7-1.4-1.6 .3-1.4-.1-1.2-.4-1.1-.6-1-.8-.8-1-.7-1.2-.3-1.8-2 .8-1.5-.1-.8-1 .1-2.2-1.2-.5-1.3-.7-.9-.9-.7-1.3-.3-1.3 0-1.3 .2-1.4 .9-1.4-1.5-1-.8-1.1-.2-1.1 .4-1.4 .3-1.4-1.3-.8-.9-1.1-.4-1.3 0-1.4 .7-1.4z" fill="#9aa0dc"/>
<text x="859.3" y="1033.3" font-size="16" text-anchor="middle" fill="#161616" >XR</text>
<path d="M955.4 1020.8l-2-2.3-.1-1.4 .7-1.1 1.4-.7 1.5-.5-.1-1.6 .4-1.3 .8-1.1 1-.9 1.2-.5 1.5-.1 1-.8 .8-1.5 1.1-.6 1.4 .3 1.7 1.3 .7-2 .8-1.3 .9-.8 .9-.6 1-.4 1.1-.3 1.5 0 2.3 .6-.7-2.5 .5-1.3 1-.8 1.6-.2 1.5 .3 .8-1.4 1.1-.8 1.2-.4 1.4 0 1.3 .4 1.3 .9 1.3-.9 1.6-.1 1.4 .7 1 1.4 .4 1.3 0 1.4-.5 1.5 .6 1.1 1 .9 .7 1 .6 1 .6 1.1 .4 1.1 .3 1.2 .2 1.4 .3 1.2 2 .3 1.2 .6 .9 .9 .5 1.2 0 1.4-.7 1.9 1.3 .7 1.5 .6 1 .9 .7 1.1 .3 1.2-.1 1.5-.6 1.6 .8 1 1.1 .9 .8 1.1 .4 1.2 .1 1.2-.2 1.4-1.1 1.5 2.1 .8 1.1 1 .7 1.1 .4 1.2 0 1.3-.3 1.4-.9 1.4-.5 1.3 1.6 1.1 .6 1.3-.2 1.4-1.1 1.2-1 1 .3 1.6-.4 1.4-.9 1-1.2 .8-1.3 .4-1.5-.1-1.6-.3-.2 2.1-.5 1.3-.8 1-1.1 .5-1.4 .2-1.8-.4-1.1 .6-.8 1.2-1.2 .8-1.3 .4-1.4-.2-1.2-.7-1.2-.3-1.4 .8-1.3 .1-1.3-.3-1.1-.7-1-1.2-1.3 0-1.5 .5-1.1-.6-.6-1.8-1.3-.1-1.7 .5-1.3-.2-1.2-.6-.8-1-.5-1.6-.6-1.4-1.7 .3-1.3-.2-1.1-.7-.9-1-.4-1.4-.5-1.3-1.8 .1-1.3-.4-1.1-.8-.8-1.1-.4-1.3 .1-1.6-.8-1-1.4-.5-1-.8-.7-1.1-.4-1.2-.1-1.4-.5-1.2-1.3-.6-1-.9-.7-1-.6-1.2-.4-1.4 0-1.3 .4-1.4 .7-1.3-1.2-1.2-.4-1.4-.1-1.3 .4-1.3 .6-1.1 1-1z" fill="#23939a"/>
<text x="982.2" y="1036.6" font-size="16" text-anchor="middle" fill="#161616" >GDH</text>
<text x="1086.7" y="1138.1" font-size="16" text-anchor="middle" fill="#161616" >DNA scaffold</text>
<text x="837.5" y="1196.9" font-size="16" text-anchor="middle" fill="#161616" >dSpCas9</text>
<text x="980.0" y="1196.9" font-size="16" text-anchor="middle" fill="#161616" >dFnCpf1</text>
<text x="75.8" y="1229.6" font-size="16" text-anchor="middle" fill="#161616" >(c)</text>
<text x="175.7" y="1247.6" font-size="16" text-anchor="middle" fill="#161616" >Acetyl-CoA</text>
<text x="345.8" y="1247.6" font-size="16" text-anchor="middle" fill="#161616" >Acetoacetyl-CoA</text>
<text x="503.5" y="1229.6" font-size="16" text-anchor="middle" fill="#161616" >HMG-CoA</text>
<circle cx="165.2" cy="1267.0" r="6.6" fill="url(#gG)"/>
<circle cx="153.7" cy="1283.6" r="6.6" fill="url(#gG)"/>
<circle cx="176.2" cy="1285.0" r="6.6" fill="url(#gG)"/>
<circle cx="342.0" cy="1261.0" r="6.6" fill="url(#gP)"/>
<circle cx="330.5" cy="1282.0" r="6.6" fill="url(#gP)"/>
<circle cx="353.0" cy="1282.0" r="6.6" fill="url(#gP)"/>
<circle cx="502.5" cy="1243.0" r="6.6" fill="url(#gO)"/>
<circle cx="491.5" cy="1261.0" r="6.6" fill="url(#gO)"/>
<circle cx="513.0" cy="1261.0" r="6.6" fill="url(#gO)"/>
<linearGradient id="ag50" gradientUnits="userSpaceOnUse" x1="165.0" y1="1298.0" x2="224.0" y2="1302.7"><stop offset="0" stop-color="#d2daf8"/><stop offset="0.6" stop-color="#8ea2ea"/><stop offset="1" stop-color="#8ea2ea"/></linearGradient>
<path d="M164.6 1298.5l1.6 1.4 1.6 1.4 1.6 1.3 1.6 1.2 1.6 1.1 1.6 1.1 1.6 1 1.6 .9 1.7 .9 1.6 .8 1.6 .8 1.6 .6 1.7 .7 1.6 .5 1.6 .5 1.7 .4 1.6 .3 1.7 .3 1.6 .2 1.7 .1 1.6 0 1.7 0 1.6-.1 1.7-.2 1.6-.2 1.7-.3 1.6-.4 1.7-.5 1.6-.6 1.6-.6 1.5 3.3 9-11.7-14.7-1 1.4 3.2-1.3 .7-1.3 .6-1.4 .5-1.3 .5-1.4 .4-1.3 .3-1.4 .3-1.4 .2-1.4 .2-1.4 .1-1.5 .1-1.4 0-1.5-.1-1.5-.2-1.5-.2-1.5-.2-1.5-.3-1.5-.4-1.6-.5-1.6-.5-1.6-.6-1.6-.7-1.6-.7-1.6-.8-1.7-.8-1.7-1-1.6-1-1.7-1-1.8-1.1-1.7-1.2z" fill="url(#ag50)"/>
<linearGradient id="ag51" gradientUnits="userSpaceOnUse" x1="318.0" y1="1298.0" x2="376.8" y2="1290.8"><stop offset="0" stop-color="#d2daf8"/><stop offset="0.6" stop-color="#8ea2ea"/><stop offset="1" stop-color="#8ea2ea"/></linearGradient>
<path d="M317.7 1298.5l1.7 1.2 1.7 1.1 1.8 1 1.7 1 1.8 .8 1.7 .8 1.7 .7 1.7 .7 1.8 .6 1.7 .5 1.7 .4 1.7 .4 1.7 .3 1.7 .2 1.8 .1 1.7 .1 1.7 0 1.6-.1 1.7-.2 1.7-.2 1.7-.3 1.7-.4 1.6-.5 1.7-.6 1.6-.6 1.6-.7 1.6-.8 1.6-.8 1.6-1 1.6-1 2.1 2.9 6.4-13.3-14.6 2 2.1 2.9-1.3 1-1.3 .9-1.3 .9-1.3 .8-1.3 .7-1.4 .7-1.3 .6-1.4 .5-1.4 .5-1.4 .5-1.4 .3-1.5 .3-1.4 .2-1.5 .2-1.5 .1-1.5 0-1.6 0-1.5-.1-1.6-.1-1.7-.3-1.6-.3-1.7-.3-1.6-.4-1.7-.5-1.8-.6-1.7-.7-1.8-.7-1.8-.7-1.8-.9-1.9-.8z" fill="url(#ag51)"/>
<linearGradient id="ag52" gradientUnits="userSpaceOnUse" x1="458.0" y1="1300.3" x2="508.2" y2="1274.0"><stop offset="0" stop-color="#d2daf8"/><stop offset="0.6" stop-color="#8ea2ea"/><stop offset="1" stop-color="#8ea2ea"/></linearGradient>
<path d="M458 1300.9l2.3 .1 2.2 .1 2.1 0 2.1 0 2.1 0 2-.1 1.9-.2 1.9-.1 1.9-.3 1.8-.2 1.7-.3 1.7-.3 1.7-.4 1.6-.4 1.6-.4 1.5-.5 1.4-.5 1.5-.5 1.3-.6 1.4-.6 1.3-.7 1.2-.7 1.2-.8 1.1-.8 1.1-.9 1-.9 1-.9 .9-1 .9-1.1 .8-1.1 3.1 1.9 .9-14.7-12.8 7.3 3 1.9-.4 .9-.6 .9-.6 .8-.6 .8-.7 .8-.8 .8-.8 .7-.9 .8-.9 .7-1 .7-1.1 .7-1.1 .6-1.2 .7-1.3 .6-1.3 .6-1.4 .5-1.4 .5-1.5 .5-1.6 .5-1.6 .4-1.7 .5-1.8 .3-1.8 .4-1.8 .3-2 .3-2 .3-2 .3-2.1 .2-2.2 .2-2.2 .2z" fill="url(#ag52)"/>
<path d="M265.5,1321.0 C265.6,1321.1 265.8,1321.5 265.9,1321.7 C266.1,1322.0 266.2,1322.2 266.4,1322.5 C266.5,1322.7 266.7,1322.9 266.8,1323.2 C266.9,1323.4 267.0,1323.7 267.1,1323.9 C267.3,1324.1 267.4,1324.4 267.4,1324.6 C267.5,1324.9 267.6,1325.1 267.7,1325.3 C267.7,1325.6 267.8,1325.8 267.8,1326.1 C267.9,1326.3 267.9,1326.6 267.9,1326.8 C267.9,1327.0 267.9,1327.3 267.9,1327.5 C267.9,1327.8 267.8,1328.0 267.8,1328.2 C267.7,1328.5 267.7,1328.7 267.6,1329.0 C267.5,1329.2 267.4,1329.5 267.3,1329.7 C267.3,1329.9 267.1,1330.2 267.0,1330.4 C266.9,1330.7 266.8,1330.9 266.7,1331.2 C266.5,1331.4 266.4,1331.6 266.2,1331.9 C266.1,1332.1 265.9,1332.4 265.8,1332.6 C265.7,1332.8 265.5,1333.1 265.3,1333.3 C265.2,1333.6 265.0,1333.8 264.9,1334.0 C264.8,1334.3 264.6,1334.5 264.5,1334.8 C264.3,1335.0 264.2,1335.3 264.1,1335.5 C264.0,1335.7 263.9,1336.0 263.8,1336.2 C263.6,1336.5 263.6,1336.7 263.5,1337.0 C263.4,1337.2 263.3,1337.4 263.3,1337.7 C263.2,1337.9 263.2,1338.2 263.1,1338.4 C263.1,1338.6 263.1,1338.9 263.1,1339.1 C263.1,1339.4 263.1,1339.6 263.1,1339.8 C263.2,1340.1 263.2,1340.3 263.3,1340.6 C263.3,1340.8 263.4,1341.1 263.5,1341.3 C263.6,1341.5 263.6,1341.8 263.8,1342.0 C263.9,1342.3 264.0,1342.5 264.1,1342.8 C264.2,1343.0 264.3,1343.2 264.5,1343.5 C264.6,1343.7 264.8,1344.0 264.9,1344.2 C265.0,1344.4 265.2,1344.7 265.3,1344.9 C265.5,1345.2 265.7,1345.4 265.8,1345.7 C265.9,1345.9 266.1,1346.1 266.2,1346.4 C266.4,1346.6 266.5,1346.9 266.7,1347.1 C266.8,1347.3 266.9,1347.6 267.0,1347.8 C267.1,1348.1 267.3,1348.3 267.3,1348.5 C267.4,1348.8 267.5,1349.0 267.6,1349.3 C267.7,1349.5 267.8,1349.9 267.8,1350.0" fill="none" stroke="#222" stroke-width="1.8" stroke-linecap="round"/>
<path d="M419.8,1307.0 C419.9,1307.1 420.1,1307.5 420.2,1307.7 C420.4,1307.9 420.5,1308.1 420.7,1308.3 C420.8,1308.6 421.0,1308.8 421.1,1309.0 C421.2,1309.2 421.3,1309.5 421.4,1309.7 C421.6,1309.9 421.7,1310.2 421.7,1310.4 C421.8,1310.6 421.9,1310.8 422.0,1311.0 C422.0,1311.3 422.1,1311.5 422.1,1311.7 C422.2,1311.9 422.2,1312.2 422.2,1312.4 C422.2,1312.6 422.2,1312.9 422.2,1313.1 C422.2,1313.3 422.1,1313.5 422.1,1313.8 C422.0,1314.0 422.0,1314.2 421.9,1314.4 C421.8,1314.6 421.7,1314.9 421.6,1315.1 C421.6,1315.3 421.4,1315.6 421.3,1315.8 C421.2,1316.0 421.1,1316.2 421.0,1316.5 C420.8,1316.7 420.7,1316.9 420.5,1317.1 C420.4,1317.3 420.2,1317.6 420.1,1317.8 C420.0,1318.0 419.8,1318.2 419.6,1318.5 C419.5,1318.7 419.3,1318.9 419.2,1319.2 C419.1,1319.4 418.9,1319.6 418.8,1319.8 C418.6,1320.0 418.5,1320.3 418.4,1320.5 C418.3,1320.7 418.2,1321.0 418.1,1321.2 C417.9,1321.4 417.9,1321.6 417.8,1321.8 C417.7,1322.1 417.6,1322.3 417.6,1322.5 C417.5,1322.8 417.5,1323.0 417.4,1323.2 C417.4,1323.4 417.4,1323.7 417.4,1323.9 C417.4,1324.1 417.4,1324.3 417.4,1324.5 C417.5,1324.8 417.5,1325.0 417.6,1325.2 C417.6,1325.4 417.7,1325.7 417.8,1325.9 C417.9,1326.1 417.9,1326.4 418.1,1326.6 C418.2,1326.8 418.3,1327.0 418.4,1327.2 C418.5,1327.5 418.6,1327.7 418.8,1327.9 C418.9,1328.1 419.1,1328.4 419.2,1328.6 C419.3,1328.8 419.5,1329.1 419.6,1329.3 C419.8,1329.5 420.0,1329.7 420.1,1330.0 C420.2,1330.2 420.4,1330.4 420.5,1330.6 C420.7,1330.8 420.8,1331.1 421.0,1331.3 C421.1,1331.5 421.2,1331.8 421.3,1332.0 C421.4,1332.2 421.6,1332.4 421.6,1332.7 C421.7,1332.9 421.8,1333.1 421.9,1333.3 C422.0,1333.5 422.1,1333.9 422.1,1334.0" fill="none" stroke="#222" stroke-width="1.8" stroke-linecap="round"/>
<path d="M243.4,1377.0 L243.4,1374.0 A21.5,23.7 0 0 1 286.4,1374.0 L286.4,1377.0 L275.5,1377.0 A9.6,9.6 0 1 0 254.3,1377.0Z" fill="#a6c2dc"/>
<path d="M397.2,1359.8 L397.2,1356.8 A21.5,23.7 0 0 1 440.2,1356.8 L440.2,1359.8 L429.3,1359.8 A9.6,9.6 0 1 0 408.1,1359.8Z" fill="#a6c2dc"/>
<path d="M239.0,1423.6 L256.6,1423.6 Q260.6,1423.6 260.6,1419.6 L260.6,1381.9 A8.4,8.4 0 1 1 269.2,1381.9 L269.2,1419.6 Q269.2,1423.6 273.2,1423.6 L279.5,1423.6" fill="none" stroke="#4f8f6a" stroke-width="1.6"/>
<line x1="260.6" y1="1384.7" x2="269.2" y2="1384.7" stroke="#4f8f6a" stroke-width="1"/>
<line x1="260.6" y1="1387.3" x2="269.2" y2="1387.3" stroke="#4f8f6a" stroke-width="1"/>
<line x1="260.6" y1="1389.9" x2="269.2" y2="1389.9" stroke="#4f8f6a" stroke-width="1"/>
<line x1="260.6" y1="1392.5" x2="269.2" y2="1392.5" stroke="#4f8f6a" stroke-width="1"/>
<line x1="260.6" y1="1395.1" x2="269.2" y2="1395.1" stroke="#4f8f6a" stroke-width="1"/>
<line x1="260.6" y1="1397.7" x2="269.2" y2="1397.7" stroke="#4f8f6a" stroke-width="1"/>
<line x1="260.6" y1="1400.3" x2="269.2" y2="1400.3" stroke="#4f8f6a" stroke-width="1"/>
<line x1="260.6" y1="1402.9" x2="269.2" y2="1402.9" stroke="#4f8f6a" stroke-width="1"/>
<line x1="260.6" y1="1405.5" x2="269.2" y2="1405.5" stroke="#4f8f6a" stroke-width="1"/>
<line x1="260.6" y1="1408.1" x2="269.2" y2="1408.1" stroke="#4f8f6a" stroke-width="1"/>
<line x1="260.6" y1="1410.7" x2="269.2" y2="1410.7" stroke="#4f8f6a" stroke-width="1"/>
<line x1="260.6" y1="1413.3" x2="269.2" y2="1413.3" stroke="#4f8f6a" stroke-width="1"/>
<line x1="260.6" y1="1415.9" x2="269.2" y2="1415.9" stroke="#4f8f6a" stroke-width="1"/>
<line x1="260.6" y1="1418.5" x2="269.2" y2="1418.5" stroke="#4f8f6a" stroke-width="1"/>
<path d="M410.0,1407.4 L410.4,1407.4 Q414.4,1407.4 414.4,1403.4 L414.4,1364.4 A8.4,8.4 0 1 1 423.0,1364.4 L423.0,1403.4 Q423.0,1407.4 427.0,1407.4 L446.4,1407.4" fill="none" stroke="#4f8f6a" stroke-width="1.6"/>
<line x1="414.4" y1="1367.2" x2="423.0" y2="1367.2" stroke="#4f8f6a" stroke-width="1"/>
<line x1="414.4" y1="1369.8" x2="423.0" y2="1369.8" stroke="#4f8f6a" stroke-width="1"/>
<line x1="414.4" y1="1372.4" x2="423.0" y2="1372.4" stroke="#4f8f6a" stroke-width="1"/>
<line x1="414.4" y1="1375.0" x2="423.0" y2="1375.0" stroke="#4f8f6a" stroke-width="1"/>
<line x1="414.4" y1="1377.6" x2="423.0" y2="1377.6" stroke="#4f8f6a" stroke-width="1"/>
<line x1="414.4" y1="1380.2" x2="423.0" y2="1380.2" stroke="#4f8f6a" stroke-width="1"/>
<line x1="414.4" y1="1382.8" x2="423.0" y2="1382.8" stroke="#4f8f6a" stroke-width="1"/>
<line x1="414.4" y1="1385.4" x2="423.0" y2="1385.4" stroke="#4f8f6a" stroke-width="1"/>
<line x1="414.4" y1="1388.0" x2="423.0" y2="1388.0" stroke="#4f8f6a" stroke-width="1"/>
<line x1="414.4" y1="1390.6" x2="423.0" y2="1390.6" stroke="#4f8f6a" stroke-width="1"/>
<line x1="414.4" y1="1393.2" x2="423.0" y2="1393.2" stroke="#4f8f6a" stroke-width="1"/>
<line x1="414.4" y1="1395.8" x2="423.0" y2="1395.8" stroke="#4f8f6a" stroke-width="1"/>
<line x1="414.4" y1="1398.4" x2="423.0" y2="1398.4" stroke="#4f8f6a" stroke-width="1"/>
<line x1="414.4" y1="1401.0" x2="423.0" y2="1401.0" stroke="#4f8f6a" stroke-width="1"/>
<line x1="279.5" y1="1423.6" x2="310.8" y2="1423.6" stroke="#5ec79a" stroke-width="1.8"/>
<line x1="284.0" y1="1433.2" x2="310.8" y2="1433.2" stroke="#5ec79a" stroke-width="1.8"/>
<line x1="379.6" y1="1407.4" x2="410.0" y2="1407.4" stroke="#5ec79a" stroke-width="1.8"/>
<line x1="372.9" y1="1449.4" x2="393.9" y2="1449.4" stroke="#5ec79a" stroke-width="1.8"/>
<line x1="316.5" y1="1407.4" x2="379.6" y2="1407.4" stroke="#3b78d2" stroke-width="2"/>
<line x1="310.8" y1="1423.6" x2="373.8" y2="1423.6" stroke="#3b78d2" stroke-width="2"/>
<line x1="310.8" y1="1433.2" x2="373.8" y2="1433.2" stroke="#3b78d2" stroke-width="2"/>
<line x1="310.8" y1="1449.4" x2="372.9" y2="1449.4" stroke="#3b78d2" stroke-width="2"/>
<line x1="328.0" y1="1407.4" x2="328.0" y2="1423.6" stroke="#3b78d2" stroke-width="1.8"/>
<line x1="328.0" y1="1433.2" x2="328.0" y2="1449.4" stroke="#3b78d2" stroke-width="1.8"/>
<line x1="338.5" y1="1407.4" x2="338.5" y2="1423.6" stroke="#3b78d2" stroke-width="1.8"/>
<line x1="338.5" y1="1433.2" x2="338.5" y2="1449.4" stroke="#3b78d2" stroke-width="1.8"/>
<line x1="349.0" y1="1407.4" x2="349.0" y2="1423.6" stroke="#3b78d2" stroke-width="1.8"/>
<line x1="349.0" y1="1433.2" x2="349.0" y2="1449.4" stroke="#3b78d2" stroke-width="1.8"/>
<line x1="359.5" y1="1407.4" x2="359.5" y2="1423.6" stroke="#3b78d2" stroke-width="1.8"/>
<line x1="359.5" y1="1433.2" x2="359.5" y2="1449.4" stroke="#3b78d2" stroke-width="1.8"/>
<line x1="369.0" y1="1407.4" x2="369.0" y2="1423.6" stroke="#3b78d2" stroke-width="1.8"/>
<line x1="369.0" y1="1433.2" x2="369.0" y2="1449.4" stroke="#3b78d2" stroke-width="1.8"/>
<line x1="317.5" y1="1407.4" x2="317.5" y2="1449.4" stroke="#222" stroke-width="1.8"/>
<path d="M372,1423.6 L374.8,1423.6 L374.8,1433.2 L372,1433.2" fill="none" stroke="#222" stroke-width="1.6"/>
<line x1="222.9" y1="1364.0" x2="242.0" y2="1364.0" stroke="#333" stroke-width="1.6"/>
<path d="M237.2,1384.5 L230.5,1384.5 L230.5,1443.7 L237.2,1443.7 M230.5,1413.7 L223.8,1413.7" fill="none" stroke="#333" stroke-width="1.6"/>
<linearGradient id="bg53" x1="0.2" y1="0" x2="0.6" y2="1"><stop offset="0" stop-color="#f6d793"/><stop offset="0.55" stop-color="#f4d080"/><stop offset="1" stop-color="#eac87b"/></linearGradient>
<path d="M296.6 1295.8l2.3 .9 .8 1.2 .3 1.4-.1 1.3-.5 1.4-1.1 1-2.2 .4 1.5 2.1 .3 1.7-.4 1.5-.8 1.2-1.2 .7-1.5 .4-1.9-.3-1.4 .2-.2 1.9-.6 1.4-.7 1.1-1 1-1 .8-1.2 .6-1.2 .4-1.3 .3-1.4-.1-1.5-.3-1.7-.8-.9 1.1-1 1.1-1.1 .7-1.2 .5-1.3 .1-1.3-.1-1.3-.5-1.4-2.9-1.1 2.5-1.3 1-1.2 .8-1.3 .5-1.3 .3-1.4 .1-1.3-.1-1.2-.2-1.3-.4-1.2-.5-1.2-.8-1.1-1-.9-1.3-.7-2.3-1.7 1.7-1.4 .4-1.4 .2-1.3 0-1.3-.2-1.3-.3-1.2-.5-1.2-.6-1-.7-1-.9-.9-1.1-.7-1.3-.2-1.6-1.3-.4-1.6-.2-1.3-.7-1.1-.9-.9-1.1-.7-1.2-.5-1.3-.2-1.4 .1-1.4 .2-1.3 .6-1.4 .9-1.3 .2-1.2-1.1-1.2-.6-1.3-.4-1.3-.1-1.2 0-1.3 .2-1.2 .5-1.3 .7-1.2 1-1.1 1.2-1-.9-1.5-.3-1.4 .1-1.4 .3-1.4 .6-1.3 .8-1.2 1-1 1.1-.8 1.3-.7 1.3-.4 1.5-.1 1.5 .3 1.4 .4 .5-2.5 .9-1.5 1.1-.9 1.3-.4 1.3 0 1.4 .5 1.4 1 1.5 2.9 1.1-2.5 1.2-.8 1.2-.5 1.3-.4 1.3-.1 1.2 0 1.3 .1 1.2 .3 1.3 .6 1.1 .7 1.2 1.3 1.3-.8 1.4-1.1 1.4-.5 1.3-.1 1.3 .1 1.3 .6 1.1 .8 1 1.2 .6 1.7 1.1 .7 1.7-.7 1.6-.2 1.4 .3 1.2 .5 1.1 .7 .9 1 .8 1.1 .4 1.4 .2 1.7-.1 1.9 2-.3 1.6 .2 1.3 .4 1.3 .5 1.1 .8 1 .9 .9 .9 .8 1.2 .6 1.3 .3 1.5 .1 1.4-.2 1.5-.6 1.5z" fill="url(#bg53)"/>
<ellipse cx="260.1" cy="1304.1" rx="12.7" ry="7.4" fill="#fadc8c" opacity="0.35"/>
<ellipse cx="260.0" cy="1283.8" rx="12.7" ry="7.4" fill="#fadc8c" opacity="0.35"/>
<ellipse cx="264.3" cy="1301.4" rx="12.7" ry="7.4" fill="#fadc8c" opacity="0.35"/>
<text x="265.0" y="1301.2" font-size="16" text-anchor="middle" fill="#161616" >mvaE</text>
<linearGradient id="bg54" x1="0.2" y1="0" x2="0.6" y2="1"><stop offset="0" stop-color="#f4c19d"/><stop offset="0.55" stop-color="#f2b68c"/><stop offset="1" stop-color="#e8af86"/></linearGradient>
<path d="M447.6 1276.7l2.6 1.8 .8 1.5 .3 1.4 0 1.3-.3 1.3-.7 1.1-1 1-1.3 .8-2.3 .5 .7 1.6 .2 1.4-.1 1.3-.4 1.3-.5 1.2-.6 1.1-.9 1-1 .8-1.2 .7-1.5 .3-1.2 .5 .1 2-.5 1.6-.9 1.3-1.1 .9-1.2 .6-1.4 .3-1.4-.1-1.5-.4-1.5-1-1.5-1.1-.9 2.1-1 1.1-1.2 .9-1.2 .5-1.3 .2-1.3 0-1.3-.2-1.3-.6-1.2-.9-1.2-1.6-1.3 .4-1.3 1.1-1.4 .5-1.5 .3-1.3-.1-1.4-.3-1.3-.6-1.2-.8-.9-1-.8-1.3-.5-1.5 0-1.8-.9-.7-1.4-.4-1.2-.7-1-.8-1-1-.8-1-.6-1.1-.6-1.1-.4-1.2-.4-1.2-.2-1.3 0-1.3 .1-1.4 1.1-1.7-2-.6-1.2-1-1-1.1-.6-1.2-.4-1.3-.1-1.4 .1-1.3 .4-1.3 .6-1.3 1.1-1.2 1.8-1-.8-1.3-.8-1.5-.2-1.5 .1-1.4 .3-1.4 .7-1.3 .8-1.1 1-.9 1.2-.8 1.4-.5 1.5-.2 1.8 .2 .6-1.1 .5-1.5 .7-1.1 .8-1 1-.8 1.1-.7 1.2-.5 1.2-.4 1.3-.1 1.5 .2 1.5 .4 .6-1.9 .9-1.2 1.1-.9 1.3-.5 1.3-.3 1.3 0 1.3 .3 1.3 .7 1.3 1.3 1.2 0 1.3-1.3 1.3-.8 1.3-.5 1.4-.2 1.3 0 1.3 .2 1.3 .4 1.2 .6 1 .9 1 1.1 .8 1.5 .5 2.1 1.9-1.3 1.6-.4 1.4 0 1.4 .3 1.4 .5 1.2 .8 1 1 .9 1.1 .7 1.3 .4 1.5 .1 1.5-.3 1.5-.8 1.6 .2 1.2 1.8 .8 1.1 1.2 .7 1.3 .4 1.4 0 1.3-.3 1.3-.6 1.3-.9 1.2-1.3 1z" fill="url(#bg54)"/>
<ellipse cx="419.2" cy="1268.7" rx="11.2" ry="8.4" fill="#f6c4a0" opacity="0.35"/>
<ellipse cx="412.1" cy="1270.1" rx="11.2" ry="8.4" fill="#f6c4a0" opacity="0.35"/>
<ellipse cx="430.2" cy="1270.2" rx="11.2" ry="8.4" fill="#f6c4a0" opacity="0.35"/>
<text x="420.0" y="1286.6" font-size="16" text-anchor="middle" fill="#161616" >mvaS</text>
<text x="200.1" y="1370.4" font-size="16" text-anchor="middle" fill="#161616" >RBD</text>
<text x="161.4" y="1418.2" font-size="16" text-anchor="middle" fill="#161616" >PP7 scaffold</text>
<text x="663.8" y="1228.6" font-size="16" text-anchor="middle" fill="#161616" >(d)</text>
<text x="930.6" y="1231.9" font-size="16" text-anchor="middle" fill="#161616" >Indole-3-acetamide</text>
<text x="1083.2" y="1224.6" font-size="16" text-anchor="middle" fill="#161616" >IAA</text>
<text x="764.9" y="1266.6" font-size="16" text-anchor="middle" fill="#161616" >Tryptophan</text>
<circle cx="761.8" cy="1283.6" r="6.6" fill="url(#gG)"/>
<circle cx="750.0" cy="1299.4" r="6.6" fill="url(#gG)"/>
<circle cx="770.0" cy="1300.3" r="6.6" fill="url(#gG)"/>
<circle cx="933.8" cy="1247.8" r="6.6" fill="url(#gP)"/>
<circle cx="921.0" cy="1267.8" r="6.6" fill="url(#gP)"/>
<circle cx="945.8" cy="1267.8" r="6.6" fill="url(#gP)"/>
<circle cx="1085.3" cy="1242.0" r="6.6" fill="url(#gO)"/>
<circle cx="1074.8" cy="1259.7" r="6.6" fill="url(#gO)"/>
<circle cx="1094.8" cy="1259.7" r="6.6" fill="url(#gO)"/>
<linearGradient id="ag55" gradientUnits="userSpaceOnUse" x1="776.0" y1="1288.4" x2="836.0" y2="1293.0"><stop offset="0" stop-color="#d2daf8"/><stop offset="0.6" stop-color="#8ea2ea"/><stop offset="1" stop-color="#8ea2ea"/></linearGradient>
<path d="M775.7 1288.9l1.8 1.3 1.9 1.1 1.8 1.1 1.8 1 1.9 1 1.7 .9 1.8 .9 1.8 .8 1.7 .8 1.7 .7 1.8 .6 1.7 .6 1.6 .6 1.7 .5 1.6 .4 1.7 .4 1.6 .3 1.6 .3 1.6 .2 1.6 .1 1.6 .1 1.5 .1 1.5 0 1.6-.1 1.5-.2 1.5-.1 1.5-.3 1.4-.3 1.5-.4 1.4-.4 1.3 3.3 9.6-11.2-14.7-1.8 1.3 3.3-1.1 .5-1.1 .4-1.2 .4-1.2 .4-1.2 .3-1.2 .2-1.3 .2-1.3 .2-1.4 .1-1.4 .1-1.4 0-1.4 0-1.5-.1-1.5-.2-1.5-.1-1.6-.3-1.6-.3-1.6-.3-1.6-.4-1.7-.5-1.7-.5-1.8-.5-1.8-.6-1.8-.7-1.8-.7-1.8-.7-1.9-.8-1.9-.9-2-.9-2-.9z" fill="url(#ag55)"/>
<linearGradient id="ag56" gradientUnits="userSpaceOnUse" x1="901.8" y1="1293.0" x2="959.0" y2="1278.8"><stop offset="0" stop-color="#d2daf8"/><stop offset="0.6" stop-color="#8ea2ea"/><stop offset="1" stop-color="#8ea2ea"/></linearGradient>
<path d="M901.6 1293.6l1.8 .9 1.8 .8 1.8 .8 1.8 .7 1.8 .6 1.8 .6 1.8 .4 1.8 .5 1.7 .3 1.8 .3 1.7 .2 1.7 .1 1.7 .1 1.7 0 1.7-.1 1.7-.1 1.7-.2 1.6-.3 1.7-.4 1.6-.4 1.6-.5 1.6-.6 1.6-.7 1.6-.7 1.5-.8 1.5-.9 1.5-.9 1.5-1 1.5-1.1 1.4-1.2 2.4 2.7 5-13.9-14.3 3.5 2.4 2.7-1.2 1.1-1.2 1.1-1.2 .9-1.2 1-1.2 .8-1.3 .8-1.2 .8-1.3 .7-1.3 .6-1.4 .6-1.3 .5-1.4 .5-1.5 .4-1.4 .3-1.5 .3-1.5 .3-1.5 .1-1.5 .1-1.6 .1-1.6 0-1.7-.1-1.6-.1-1.7-.3-1.8-.2-1.7-.3-1.8-.4-1.8-.5-1.9-.5-1.8-.6-2-.6z" fill="url(#ag56)"/>
<linearGradient id="ag57" gradientUnits="userSpaceOnUse" x1="1030.8" y1="1289.8" x2="1086.7" y2="1267.0"><stop offset="0" stop-color="#d2daf8"/><stop offset="0.6" stop-color="#8ea2ea"/><stop offset="1" stop-color="#8ea2ea"/></linearGradient>
<path d="M1030.8 1290.4l2.2 .3 2.2 .2 2.2 .2 2.2 .1 2 .1 2.1 .1 2 0 2-.1 1.9-.1 1.9-.1 1.8-.2 1.8-.2 1.8-.3 1.7-.3 1.7-.3 1.7-.4 1.6-.4 1.5-.5 1.6-.5 1.5-.6 1.4-.6 1.4-.7 1.4-.7 1.3-.8 1.3-.8 1.2-.8 1.2-.9 1.2-1 1.1-1 1-1.1 2.8 2.4 3.2-14.4-13.8 5.2 2.7 2.4-.7 .9-.8 .9-.9 .9-.9 .8-.9 .9-1 .8-1 .7-1.1 .8-1.2 .7-1.1 .6-1.3 .7-1.3 .6-1.4 .6-1.4 .5-1.4 .5-1.6 .5-1.5 .5-1.7 .4-1.6 .3-1.8 .4-1.8 .3-1.8 .3-1.9 .2-1.9 .2-2 .2-2.1 .1-2.1 .1-2.1 .1-2.2 0-2.3 .1z" fill="url(#ag57)"/>
<path d="M873.0,1302.0 C873.1,1302.1 873.3,1302.4 873.4,1302.7 C873.6,1302.9 873.7,1303.1 873.9,1303.3 C874.0,1303.5 874.2,1303.7 874.3,1304.0 C874.4,1304.2 874.5,1304.4 874.6,1304.6 C874.8,1304.8 874.9,1305.0 874.9,1305.2 C875.0,1305.5 875.1,1305.7 875.2,1305.9 C875.2,1306.1 875.3,1306.3 875.3,1306.5 C875.4,1306.8 875.4,1307.0 875.4,1307.2 C875.4,1307.4 875.4,1307.6 875.4,1307.8 C875.4,1308.1 875.3,1308.3 875.3,1308.5 C875.2,1308.7 875.2,1308.9 875.1,1309.2 C875.0,1309.4 874.9,1309.6 874.8,1309.8 C874.8,1310.0 874.6,1310.2 874.5,1310.5 C874.4,1310.7 874.3,1310.9 874.2,1311.1 C874.0,1311.3 873.9,1311.5 873.7,1311.8 C873.6,1312.0 873.4,1312.2 873.3,1312.4 C873.2,1312.6 873.0,1312.8 872.8,1313.0 C872.7,1313.3 872.5,1313.5 872.4,1313.7 C872.3,1313.9 872.1,1314.1 872.0,1314.3 C871.8,1314.6 871.7,1314.8 871.6,1315.0 C871.5,1315.2 871.4,1315.4 871.3,1315.7 C871.1,1315.9 871.1,1316.1 871.0,1316.3 C870.9,1316.5 870.8,1316.7 870.8,1317.0 C870.7,1317.2 870.7,1317.4 870.6,1317.6 C870.6,1317.8 870.6,1318.0 870.6,1318.2 C870.6,1318.5 870.6,1318.7 870.6,1318.9 C870.7,1319.1 870.7,1319.3 870.8,1319.5 C870.8,1319.8 870.9,1320.0 871.0,1320.2 C871.1,1320.4 871.1,1320.6 871.3,1320.8 C871.4,1321.1 871.5,1321.3 871.6,1321.5 C871.7,1321.7 871.8,1321.9 872.0,1322.2 C872.1,1322.4 872.3,1322.6 872.4,1322.8 C872.5,1323.0 872.7,1323.2 872.8,1323.5 C873.0,1323.7 873.2,1323.9 873.3,1324.1 C873.4,1324.3 873.6,1324.5 873.7,1324.8 C873.9,1325.0 874.0,1325.2 874.2,1325.4 C874.3,1325.6 874.4,1325.8 874.5,1326.0 C874.6,1326.3 874.8,1326.5 874.8,1326.7 C874.9,1326.9 875.0,1327.1 875.1,1327.3 C875.2,1327.6 875.3,1327.9 875.3,1328.0" fill="none" stroke="#222" stroke-width="1.8" stroke-linecap="round"/>
<path d="M996.0,1314.0 C996.1,1314.1 996.3,1314.5 996.4,1314.7 C996.6,1314.9 996.7,1315.1 996.9,1315.3 C997.0,1315.6 997.2,1315.8 997.3,1316.0 C997.4,1316.2 997.5,1316.5 997.6,1316.7 C997.8,1316.9 997.9,1317.2 997.9,1317.4 C998.0,1317.6 998.1,1317.8 998.2,1318.0 C998.2,1318.3 998.3,1318.5 998.3,1318.7 C998.4,1318.9 998.4,1319.2 998.4,1319.4 C998.4,1319.6 998.4,1319.9 998.4,1320.1 C998.4,1320.3 998.3,1320.5 998.3,1320.8 C998.2,1321.0 998.2,1321.2 998.1,1321.4 C998.0,1321.6 997.9,1321.9 997.8,1322.1 C997.8,1322.3 997.6,1322.6 997.5,1322.8 C997.4,1323.0 997.3,1323.2 997.2,1323.5 C997.0,1323.7 996.9,1323.9 996.7,1324.1 C996.6,1324.3 996.4,1324.6 996.3,1324.8 C996.2,1325.0 996.0,1325.2 995.8,1325.5 C995.7,1325.7 995.5,1325.9 995.4,1326.2 C995.3,1326.4 995.1,1326.6 995.0,1326.8 C994.8,1327.0 994.7,1327.3 994.6,1327.5 C994.5,1327.7 994.4,1328.0 994.3,1328.2 C994.1,1328.4 994.1,1328.6 994.0,1328.8 C993.9,1329.1 993.8,1329.3 993.8,1329.5 C993.7,1329.8 993.7,1330.0 993.6,1330.2 C993.6,1330.4 993.6,1330.7 993.6,1330.9 C993.6,1331.1 993.6,1331.3 993.6,1331.5 C993.7,1331.8 993.7,1332.0 993.8,1332.2 C993.8,1332.4 993.9,1332.7 994.0,1332.9 C994.1,1333.1 994.1,1333.4 994.3,1333.6 C994.4,1333.8 994.5,1334.0 994.6,1334.2 C994.7,1334.5 994.8,1334.7 995.0,1334.9 C995.1,1335.1 995.3,1335.4 995.4,1335.6 C995.5,1335.8 995.7,1336.1 995.8,1336.3 C996.0,1336.5 996.2,1336.7 996.3,1337.0 C996.4,1337.2 996.6,1337.4 996.7,1337.6 C996.9,1337.8 997.0,1338.1 997.2,1338.3 C997.3,1338.5 997.4,1338.8 997.5,1339.0 C997.6,1339.2 997.8,1339.4 997.8,1339.7 C997.9,1339.9 998.0,1340.1 998.1,1340.3 C998.2,1340.5 998.3,1340.9 998.3,1341.0" fill="none" stroke="#222" stroke-width="1.8" stroke-linecap="round"/>
<linearGradient id="bg58" x1="0.2" y1="0" x2="0.6" y2="1"><stop offset="0" stop-color="#ebb2b5"/><stop offset="0.55" stop-color="#e8a4a8"/><stop offset="1" stop-color="#df9da1"/></linearGradient>
<path d="M806.8 1369.1l-1.3-1.1-.4-1.3-.2-1.4 .1-1.3 .2-1.2 .5-1.3 .6-1.2 .7-1 1-.9 1.4-.6-.1-1.6 .4-1.3 .7-1.1 .9-1 1.1-.7 1.3-.4 1.4 0 1-.8 .9-1 1.1-.8 1.1-.7 1.1-.6 1.1-.5 1.2-.4 1.2-.3 1.3-.3 1.2-.1 1.3-.1 1.3 .1 1.4 .4 1.1-.7 1.2-.5 1.3-.4 1.2-.2 1.3-.1 1.2-.1 1.3 0 1.2 0 1.2 .1 1.2 .1 1.2 0 1.3 .1 1.4-.3 .4-1.4 .2-1.1 .2-1.2 0-1.2 .2-1.2 .2-1.2 .3-1.3 .6-1.2 1.1-.8 .2-1.3 .5-1.4 .8-1.1 .9-1 1.1-.8 1.2-.6 1.3-.4 1.2-.2 1.4 0 1.4 .4 1.3 .2 1.1-1.3 1.2-.7 1.3-.3 1.3 0 1.2 .2 1.3 .7 1.1 1.4 1.4-1.1 1.4-.4 1.3 0 1.4 .4 1.2 .8 .9 1.2 .3 1.5 .9 .8 1.4 .6 1.1 .9 .8 1.1 .5 1.1 .2 1.4-.1 1.4-.8 1.5 .8 1.1 .8 1.1 .6 1.1 .4 1.2 .3 1.3 .2 1.3 .1 1.2-.1 1.3-.2 1.3-.3 1.2-.8 1.3 .8 1.2 .5 1.3 .1 1.3 0 1.3-.3 1.2-.6 1.2-.9 1.1-.5 1.2 .2 1.3 0 1.3-.2 1.3-.4 1.3-.4 1.2-.5 1.1-.7 1.2-.7 1-.9 1-.9 .9-1 .8-1.2 .6-.5 1.2-.4 1.4-.6 1.1-1 1-1.1 .6-1.4 .3-1.3 .3-.4 1.5-.8 1.1-1 .9-1.2 .6-1.3 .3-1.4-.1-1.3 .1-.9 1.1-1 .7-1.2 .6-1.2 .4-1.3 .1-1.4-.2-1.1 .6-1 .8-1.2 .6-1.1 .5-1.3 .4-1.2 .3-1.2 .2-1.3 .1-1.3-.1-1.3-.2-1.3-.4-1.2-.1-1.2 .9-1.3 .5-1.3 .2-1.3 0-1.3-.2-1.2-.4-1.2-.7-1-1.3-1.4 .6-1.3 .1-1.3 0-1.3-.2-1.2-.3-1.1-.6-1.2-.6-1-.9-.8-1.1-1.3-.3-1.2-.3-1.3-.4-1-.7-1-.8-.9-.9-.8-1.1-.5-1.2-.6-1.1-1.4-.5-1.1-.8-1-.9-.7-1-.7-1.2-.5-1.3-.3-1.2 0-1.4 .2-1.4z" fill="url(#bg58)"/>
<path d="M937.5 1378.9l-1.9-1.4-.5-1.3-.1-1.4 .2-1.4 .4-1.4 .7-1.2 .9-1 1.1-.9 1.2-.6 1.5-.3 1-.8-.1-1.6 .2-1.4 .8-1.2 1.7-1 1.4-.1 1.3 .4 1.4 1.1 1.2-1 1.2-.9 1.2-.5 1.3-.3 1.3 0 1.2 .2 1.3 .4 1.2 .8 1.2 1.4 1.3-1 1.2-.7 1.3-.4 1.3-.2 1.2-.1 1.2 .2 1.3 .4 1.2 .6 1.2 1.1 1.3-.8 1.3-1 1.2-.4 1.3 .1 1.2 .7 1.2 1.6 1.3-.7 1.2-.6 1.3-.1 1.2 .4 1.2 1 1.2 .2 1.3-.7 1.3-.3 1.3-.2 1.2 .1 1.3 .3 1.2 .5 1.1 .8 1.2 .7 1.4-1.3 1.3-.4 1.3 .2 1.1 .7 1 1.8 1.4-.8 1.4-.8 1.4-.3 1.4 .3 1.1 .7 .9 1.1 .5 2.1 1.6-.3 1.4 0 1.4 .6 1.3 1.2 .7 1 .5 1.7-.1 1.2-.4 1.6-.7 1.2-1.3 1 .2 1.3 .3 1.4 0 1.4-.2 1.2-.3 1.2-.4 1.1-.5 1.1-.7 1.1-.9 1.1-1.3 .8 .3 1.5 0 1.5-.5 1.2-.9 .9-1.4 .6-1.1 .7-.1 1.6-.7 1.2-1 .7-1.4 .4-1.5 0-.5 1.6-.8 1-1 .8-1.2 .4-1.4 .1-1.8-.6-.4 1.8-.9 1.3-1 .9-1.2 .7-1.1 .4-1.4 .3-1.3-.1-1.4-.4-1.5-.9-1.1 .7-1.2 1.5-1.2 .4-1.4-.5-1.2-1.6-1.3 .4-1.3 1-1.4 .3-1.3-.3-1.1-.9-.9-1.7-1.4 .4-1.4 .6-1.3 0-1.2-.6-.9-1.2-1.1-.7-1.6 .9-1.3 .2-1.2-.4-1-1-.7-2.3-1.5 1-1.4 .3-1.3 0-1.2-.3-1.2-.4-1.1-.7-1-.9-.8-1.5-1.8 1.1-1.4 0-1.3-.4-.9-.9-.7-1.4-.7-1.2-1.4-.2-1.2-.7-1-1-.6-1.1-.4-1.3 0-1.4 .4-1.5-1.4-.8-.9-1.1-.7-1.1-.4-1.3-.2-1.3 0-1.2 .2-1.3 .5-1.3z" fill="#8171c9"/>
<linearGradient id="bg59" x1="0.2" y1="0" x2="0.6" y2="1"><stop offset="0" stop-color="#b7b3e5"/><stop offset="0.55" stop-color="#aaa6e0"/><stop offset="1" stop-color="#a39fd7"/></linearGradient>
<path d="M946.6 1367.6l-1.2-1.5 0-1.5 .4-1.3 .8-1.2 1-.9 1.2-.8 1.2-.5 1.2-.4 1.3-.1 1.5 .1 1.1-.3 1-1.1 1-.8 1.2-.7 1.2-.4 1.2-.3 1.2-.1 1.3 0 1.3 .2 1.4 .4 1.2-.1 .9-1.3 1-.9 .9-.7 1-.7 .9-.5 .9-.4 1.1-.5 1.4-.5 1-.8-.3-1.6 .3-1.3 .5-1.2 .9-1 1.3-.6 1.4-.3 .4-1.5 .9-1.1 1.1-.8 1.1-.4 1.3-.2 1.5 .3 1.2-.2 .9-1.2 1.1-.9 1.2-.5 1.3-.4 1.3-.1 1.3 .2 1.3 .5 1.2 1 1.2 .1 1.4-.3 1.3 .1 1.3 .3 1.1 .5 1.2 .6 1 .8 .9 1 .7 1 .5 1.4 1.8 0 1.4 .3 .9 1 .2 1.5-.9 2 2.3 .3 1.2 .9 .5 1.3-.2 1.4-.9 1.5-.7 1.3 1.2 1.2 .6 1.2 .4 1.3 .2 1.3 0 1.2-.2 1.2-.4 1.2-.7 1.2-.9 1.3-.3 1.2 1 1.3 .3 1.2-.1 1.3-.6 1.2-1.3 1.1 .5 1.3 .4 1.4 0 1.3-.2 1.3-.5 1.3-.9 1.2-1 .8-1.4 .5-1.4 .1 0 2.2-.7 1.4-1.1 .9-1.2 .4-1.5-.1-1.6-.8-1.2 .4-.9 1.1-1.1 .7-1.2 .6-1.2 .3-1.2 .2-1.3-.1-1.3-.3-1.5-.8-1 1-1.1 1.2-1.2 .7-1.3 .5-1.2 .2-1.3 0-1.2-.2-1.3-.5-1.3-.8-1.2-1.8-1.3 1.6-1.2 .5-1.3 .2-1.2 .1-1.3-.2-1.2-.3-1.2-.6-1.1-1-1.3 .4-1.4 .8-1.4 .2-1.2-.1-1.2-.6-1.1-.9-.8-1.7-1.3 .1-1.4 .1-1.3-.1-1.1-.4-1.1-.7-1-.9-.1-2.3-2.1 1.1-1.4-.1-1.4-.5-1.2-.9-.8-.9-.5-1.4-.2-1.5 .5-1.5-.4-1.2-1.4-.9-.9-1.2-.5-1.2-.2-1.3 .1-1.4 .5-1.3 .9-1.2z" fill="url(#bg59)"/>
<linearGradient id="bg60" x1="0.2" y1="0" x2="0.6" y2="1"><stop offset="0" stop-color="#ebbdb6"/><stop offset="0.55" stop-color="#e7b1a9"/><stop offset="1" stop-color="#deaaa2"/></linearGradient>
<path d="M836.5 1274l-.9-1.5-.2-1.3 0-1.3 .1-1.3 .4-1.2 .4-1.2 .7-1.1 .8-1.1 1-.8 1.5-.5-.8-2.1 .3-1.7 .7-1 1.3-.8 1.5-.2 1.7 .5 1.2-.3 .8-1.4 .9-.9 1.1-.8 1.2-.5 1.2-.3 1.3-.2 1.3 .2 1.4 .4 1.5 .9 .9-1.7 1-1 1.2-.7 1.2-.5 1.3-.2 1.3-.1 1.3 .2 1.2 .5 1.3 .7 1.3 1.6 1.2-1.9 1.3-.8 1.3-.3 1.3 .2 1.2 .7 1 1.3 1.2 .6 1.4-.6 1.3-.1 1.4 .2 1.3 .4 1 .6 1.1 .9 .8 1 .6 1.4 .8 .9 1.6 .1 1.2 .4 1 .8 .8 1.1 .6 1.2 0 1.5 1.5 .5 1.6 .5 1 1 .3 1.4-.5 1.6-1.1 1.6 2 .8 1 1.1 .5 1.3-.1 1.4-.7 1.3-1.4 1.2-.1 1.2 .8 1.3 .4 1.3 .1 1.3-.1 1.3-.4 1.3-.6 1.1-.9 1.1-1.2 .9-.2 1.2 .1 1.5-.4 1.3-.8 1-1.1 .8-2.2-.4 .4 2.1-.5 1.5-.8 1.1-.9 .9-1.2 .6-1.3 .4-1.4 0-1.6-.5-1 .7-.7 1.5-1.1 1-1.2 .5-1.2 .1-1.5-.4-1.5-1.3-.9 1.8-1.1 1.2-1.3 .4-1.2-.2-1.4-1-1.3-.9-1.2 1.6-1.2 .8-1.3 .3-1.3-.2-1.2-.6-1.2-1.1-1-1.5-1.5 1.6-1.5 .5-1.4 0-1.2-.6-1-.9-.7-1.5-.8-1.3-1.7 .7-1.4 0-1.3-.4-1-.7-.9-1-.6-1.4 .1-2.2-1.9 .4-1.3-.3-1.2-.6-1-.8-.9-1-.7-1.1-.6-1.2-.2-1.4 0-1.4 .6-1.5-1.6-.8-.9-1.1-.6-1.2-.3-1.2-.2-1.4 .2-1.4 .3-1.2 .6-1.2 .9-1.1z" fill="url(#bg60)"/>
<text x="865.0" y="1285.0" font-size="16" text-anchor="middle" fill="#161616" >IaaM</text>
<linearGradient id="bg61" x1="0.2" y1="0" x2="0.6" y2="1"><stop offset="0" stop-color="#d0d4ef"/><stop offset="0.55" stop-color="#c8cdec"/><stop offset="1" stop-color="#c0c5e3"/></linearGradient>
<path d="M965.5 1283.2l-1.4-1.2-.5-1.3-.2-1.3-.1-1.2 .2-1.3 .5-1.3 .6-1.1 1-1.1 .5-1.1-.3-1.5 .1-1.4 .4-1.3 .6-1.1 1-1 1.1-.9 1.3-.5 1.3-.3 1.8 .4-.1-2.5 .7-1.5 1.2-.4 1.8 .7 1.4 .3 .9-1.1 1.1-.9 1.1-.7 1.2-.4 1.2-.3 1.3-.2 1.3 .1 1.3 .3 1.3 .6 1.2-.3 1.2-1 1.2-.6 1.4-.3 1.3 0 1.2 .1 1.3 .5 1.2 .7 1 1.2 1.3-.1 1.4-.5 1.3 .2 1.1 .7 .8 1.4 1.3 .2 1.6-.4 1.3 0 1.4 .3 1.1 .5 1 .9 .9 1 .6 1.4 .1 1.9 1.4 .2 1.4 .4 1.1 .6 1.1 .8 .8 1.1 .7 1.2 .3 1.3 .1 1.3-.4 1.5 1.1 1 1 1 .5 1.3-.1 1.2-.5 1.4-1.4 1.3 1.6 1.2 .9 1.2 .5 1.2 .3 1.3 0 1.2-.1 1.3-.5 1.3-.7 1.2-1.1 1.2-.8 1.1 1.2 1.5 .3 1.5-.1 1.2-.7 1.2-1.2 1-1.8 .3-.2 1.4-.1 1.6-.7 1.4-1 .9-1.1 .5-1.5 .2-1.9-.6-.7 1.2-.6 1.5-.8 1.1-1.1 .8-1.2 .5-1.3 .1-1.4-.1-1.6-.8-1.1 .7-.9 1.3-1.1 .9-1.2 .6-1.2 .3-1.3 0-1.3-.3-1.4-.7-1.3-.8-1.1 1.4-1.3 .7-1.3 .4-1.2 .1-1.3-.1-1.3-.5-1.2-.7-1-1.2-1.3-.1-1.4 .5-1.4-.1-1.2-.5-1-.9-.7-1.3-1-.7-1.5 0-1.3-.4-1.1-.6-1-.9-.7-1.1-.4-1.4-.7-1.1-1.6-.3-1.1-.7-.5-1.3 0-1.5 .5-1.6-1.6-.7-.9-1.1-.4-1.2 0-1.3 .5-1.4 .8-1.4-1.4-1-.8-1.2-.3-1.3-.1-1.2 .3-1.3 .7-1.3z" fill="url(#bg61)"/>
<text x="995.0" y="1291.7" font-size="16" text-anchor="middle" fill="#161616" >IaaH</text>
<path d="M816.8,1422.8 L831.7,1422.8 Q835.7,1422.8 835.7,1418.8 L835.7,1384.9 A8.4,8.4 0 1 1 844.3,1384.9 L844.3,1418.8 Q844.3,1422.8 848.3,1422.8 L847.3,1422.8" fill="none" stroke="#4f8f6a" stroke-width="1.6"/>
<line x1="835.7" y1="1387.7" x2="844.3" y2="1387.7" stroke="#4f8f6a" stroke-width="1"/>
<line x1="835.7" y1="1390.3" x2="844.3" y2="1390.3" stroke="#4f8f6a" stroke-width="1"/>
<line x1="835.7" y1="1392.9" x2="844.3" y2="1392.9" stroke="#4f8f6a" stroke-width="1"/>
<line x1="835.7" y1="1395.5" x2="844.3" y2="1395.5" stroke="#4f8f6a" stroke-width="1"/>
<line x1="835.7" y1="1398.1" x2="844.3" y2="1398.1" stroke="#4f8f6a" stroke-width="1"/>
<line x1="835.7" y1="1400.7" x2="844.3" y2="1400.7" stroke="#4f8f6a" stroke-width="1"/>
<line x1="835.7" y1="1403.3" x2="844.3" y2="1403.3" stroke="#4f8f6a" stroke-width="1"/>
<line x1="835.7" y1="1405.9" x2="844.3" y2="1405.9" stroke="#4f8f6a" stroke-width="1"/>
<line x1="835.7" y1="1408.5" x2="844.3" y2="1408.5" stroke="#4f8f6a" stroke-width="1"/>
<line x1="835.7" y1="1411.1" x2="844.3" y2="1411.1" stroke="#4f8f6a" stroke-width="1"/>
<line x1="835.7" y1="1413.7" x2="844.3" y2="1413.7" stroke="#4f8f6a" stroke-width="1"/>
<line x1="835.7" y1="1416.3" x2="844.3" y2="1416.3" stroke="#4f8f6a" stroke-width="1"/>
<path d="M965.8,1432.7 L968.6,1432.7 Q972.6,1432.7 972.6,1428.7 L972.6,1395.4 A8.4,8.4 0 1 1 981.2,1395.4 L981.2,1428.7 Q981.2,1432.7 985.2,1432.7 L1000.2,1432.7" fill="none" stroke="#4f8f6a" stroke-width="1.6"/>
<line x1="972.6" y1="1398.2" x2="981.2" y2="1398.2" stroke="#4f8f6a" stroke-width="1"/>
<line x1="972.6" y1="1400.8" x2="981.2" y2="1400.8" stroke="#4f8f6a" stroke-width="1"/>
<line x1="972.6" y1="1403.4" x2="981.2" y2="1403.4" stroke="#4f8f6a" stroke-width="1"/>
<line x1="972.6" y1="1406.0" x2="981.2" y2="1406.0" stroke="#4f8f6a" stroke-width="1"/>
<line x1="972.6" y1="1408.6" x2="981.2" y2="1408.6" stroke="#4f8f6a" stroke-width="1"/>
<line x1="972.6" y1="1411.2" x2="981.2" y2="1411.2" stroke="#4f8f6a" stroke-width="1"/>
<line x1="972.6" y1="1413.8" x2="981.2" y2="1413.8" stroke="#4f8f6a" stroke-width="1"/>
<line x1="972.6" y1="1416.4" x2="981.2" y2="1416.4" stroke="#4f8f6a" stroke-width="1"/>
<line x1="972.6" y1="1419.0" x2="981.2" y2="1419.0" stroke="#4f8f6a" stroke-width="1"/>
<line x1="972.6" y1="1421.6" x2="981.2" y2="1421.6" stroke="#4f8f6a" stroke-width="1"/>
<line x1="972.6" y1="1424.2" x2="981.2" y2="1424.2" stroke="#4f8f6a" stroke-width="1"/>
<line x1="972.6" y1="1426.8" x2="981.2" y2="1426.8" stroke="#4f8f6a" stroke-width="1"/>
<line x1="847.3" y1="1422.8" x2="868.3" y2="1422.8" stroke="#5ec79a" stroke-width="1.8"/>
<line x1="941.0" y1="1432.7" x2="965.8" y2="1432.7" stroke="#5ec79a" stroke-width="1.8"/>
<line x1="868.3" y1="1422.8" x2="933.3" y2="1422.8" stroke="#3b78d2" stroke-width="2"/>
<line x1="875.0" y1="1432.7" x2="941.0" y2="1432.7" stroke="#3b78d2" stroke-width="2"/>
<line x1="877.9" y1="1422.8" x2="877.9" y2="1432.7" stroke="#3b78d2" stroke-width="1.8"/>
<line x1="886.5" y1="1422.8" x2="886.5" y2="1432.7" stroke="#3b78d2" stroke-width="1.8"/>
<line x1="895.1" y1="1422.8" x2="895.1" y2="1432.7" stroke="#3b78d2" stroke-width="1.8"/>
<line x1="903.7" y1="1422.8" x2="903.7" y2="1432.7" stroke="#3b78d2" stroke-width="1.8"/>
<line x1="912.3" y1="1422.8" x2="912.3" y2="1432.7" stroke="#3b78d2" stroke-width="1.8"/>
<line x1="920.9" y1="1422.8" x2="920.9" y2="1432.7" stroke="#3b78d2" stroke-width="1.8"/>
<line x1="929.5" y1="1422.8" x2="929.5" y2="1432.7" stroke="#3b78d2" stroke-width="1.8"/>
<line x1="859.7" y1="1453.8" x2="876.0" y2="1433.7" stroke="#222" stroke-width="1.8"/>
<path d="M806.2,1394.5 L799.6,1394.5 L799.6,1454.7 L806.2,1454.7 M799.6,1424.7 L792.9,1424.7" fill="none" stroke="#333" stroke-width="1.6"/>
<text x="841.0" y="1366.2" font-size="16" text-anchor="middle" fill="#161616" >Cse3</text>
<text x="980.5" y="1375.8" font-size="16" text-anchor="middle" fill="#161616" >Cys4</text>
<text x="738.0" y="1430.2" font-size="16" text-anchor="middle" fill="#161616" >RNA scaffold</text>
<text x="76.2" y="1573.6" font-size="16" text-anchor="middle" fill="#161616" >(a)</text>
<text x="315.6" y="1575.6" font-size="16" text-anchor="middle" fill="#161616" >α-carotene</text>
<text x="463.0" y="1600.6" font-size="16" text-anchor="middle" fill="#161616" >Zeinoxanthin</text>
<text x="595.5" y="1583.6" font-size="16" text-anchor="middle" fill="#161616" >Lutein</text>
<circle cx="321.0" cy="1590.0" r="6.6" fill="url(#gG)"/>
<circle cx="338.4" cy="1599.7" r="6.6" fill="url(#gG)"/>
<circle cx="322.0" cy="1611.0" r="6.6" fill="url(#gG)"/>
<circle cx="454.4" cy="1619.4" r="6.6" fill="url(#gP)"/>
<circle cx="473.0" cy="1622.4" r="6.6" fill="url(#gP)"/>
<circle cx="461.8" cy="1638.2" r="6.6" fill="url(#gP)"/>
<circle cx="602.4" cy="1599.7" r="6.6" fill="url(#gO)"/>
<circle cx="592.6" cy="1618.5" r="6.6" fill="url(#gO)"/>
<circle cx="611.3" cy="1617.5" r="6.6" fill="url(#gO)"/>
<linearGradient id="ag62" gradientUnits="userSpaceOnUse" x1="336.0" y1="1614.5" x2="382.8" y2="1648.0"><stop offset="0" stop-color="#d2daf8"/><stop offset="0.6" stop-color="#8ea2ea"/><stop offset="1" stop-color="#8ea2ea"/></linearGradient>
<path d="M335.4 1614.7l.5 2 .5 2 .6 2 .6 1.9 .7 1.8 .7 1.8 .8 1.7 .8 1.6 .8 1.6 .9 1.6 .9 1.4 1 1.5 1 1.3 1.1 1.3 1.1 1.3 1.2 1.1 1.2 1.2 1.3 1 1.3 1 1.3 1 1.4 .8 1.4 .8 1.5 .7 1.6 .7 1.5 .6 1.6 .5 1.7 .5 1.7 .4 1.7 .3 1.8 .3-.3 3.5 13.5-5.9-12.4-8-.3 3.6-1.5-.1-1.5-.1-1.4-.2-1.4-.3-1.4-.3-1.4-.3-1.3-.5-1.3-.4-1.3-.6-1.2-.6-1.3-.6-1.2-.8-1.1-.8-1.2-.8-1.1-.9-1.1-1-1.1-1.1-1-1.1-1.1-1.2-1-1.2-1-1.4-.9-1.3-.9-1.5-.9-1.5-.9-1.6-.8-1.7-.9-1.8-.8-1.8-.7-1.8-.8-2z" fill="url(#ag62)"/>
<linearGradient id="ag63" gradientUnits="userSpaceOnUse" x1="549.0" y1="1663.0" x2="600.0" y2="1635.7"><stop offset="0" stop-color="#d2daf8"/><stop offset="0.6" stop-color="#8ea2ea"/><stop offset="1" stop-color="#8ea2ea"/></linearGradient>
<path d="M549 1663.6l2.4 0 2.4-.1 2.2-.2 2.3-.1 2.1-.2 2.1-.3 2-.2 2-.3 2-.3 1.8-.3 1.8-.4 1.8-.4 1.7-.4 1.6-.4 1.6-.5 1.5-.5 1.5-.5 1.4-.6 1.4-.5 1.3-.7 1.3-.6 1.2-.7 1.1-.7 1.1-.8 1.1-.8 1-.8 .9-.9 .9-.9 .8-.9 .8-1.1 3 1.9 .9-14.7-12.8 7.4 3.1 1.9-.4 .7-.5 .8-.5 .7-.6 .7-.6 .7-.8 .8-.8 .7-.8 .7-1 .7-1 .7-1 .6-1.2 .7-1.2 .6-1.3 .7-1.3 .6-1.4 .6-1.5 .5-1.6 .6-1.6 .5-1.7 .5-1.8 .5-1.8 .5-1.9 .5-1.9 .4-2.1 .5-2 .4-2.2 .4-2.2 .3-2.3 .4-2.3 .4z" fill="url(#ag63)"/>
<rect x="270.7" y="1691.7" width="61.1" height="3.6" fill="#6283cf"/>
<path d="M330.8,1686.9 L343.3,1693.5 L330.8,1700.1Z" fill="#6283cf"/>
<text x="307.5" y="1679.3" font-size="16" text-anchor="middle" fill="#161616" >Self-assembly</text>
<ellipse cx="95.2" cy="1609.2" rx="12.7" ry="8.6" transform="rotate(-10 95.2 1609.2)" fill="#a6c6e2"/>
<ellipse cx="94.2" cy="1608.2" rx="8.9" ry="5.2" transform="rotate(-10 95.2 1609.2)" fill="#b8d4ec"/>
<path d="M107.2,1606.2 C107.2,1585.8 180.2,1583.4 180.2,1604.5 C180.2,1620.8 165.6,1622.2 153.9,1618.8 C146.6,1614.7 134.9,1614.7 127.6,1618.8 C118.9,1623.2 107.2,1618.8 107.2,1606.2Z" fill="#a8c8b4"/>
<path d="M116.0,1603.8 C116.0,1587.5 174.4,1585.6 174.4,1602.5 C174.4,1615.5 162.7,1616.6 153.3,1613.9 C147.5,1610.6 138.2,1610.6 132.3,1613.9 C125.3,1617.4 116.0,1613.9 116.0,1603.8Z" fill="#c4dacb" opacity="0.55"/>
<text x="142.0" y="1611.0" font-size="16" text-anchor="middle" fill="#161616" >ATR2</text>
<ellipse cx="45.7" cy="1635.3" rx="10.5" ry="8.3" transform="rotate(30 45.7 1635.3)" fill="#a6c6e2"/>
<ellipse cx="44.7" cy="1634.3" rx="7.3" ry="5.0" transform="rotate(30 45.7 1635.3)" fill="#b8d4ec"/>
<path d="M95.6,1659.8 C95.0,1660.0 94.5,1660.2 93.9,1660.4 C93.4,1660.6 92.7,1660.8 92.2,1660.9 C91.7,1661.1 90.9,1661.2 90.9,1661.4 C90.9,1661.6 91.9,1661.9 92.4,1662.1 C92.8,1662.4 93.3,1662.6 93.7,1662.9 C94.1,1663.2 94.5,1663.5 94.9,1663.8 C95.2,1664.1 95.6,1664.4 95.9,1664.7 C96.2,1665.1 96.5,1665.4 96.8,1665.7 C97.0,1666.1 97.3,1666.4 97.5,1666.8 C97.7,1667.2 97.8,1667.5 98.0,1667.9 C98.1,1668.3 98.2,1668.7 98.3,1669.0 C98.4,1669.4 98.4,1669.8 98.4,1670.2 C98.4,1670.6 98.4,1671.0 98.3,1671.3 C98.3,1671.7 98.2,1672.1 98.0,1672.5 C97.9,1672.8 97.7,1673.2 97.5,1673.6 C97.3,1673.9 97.0,1674.3 96.7,1674.6 C96.4,1674.9 95.9,1675.2 95.5,1675.4 C95.1,1675.7 94.5,1675.9 94.0,1676.1 C93.5,1676.3 93.0,1676.5 92.5,1676.7 C92.0,1676.8 91.4,1677.0 90.9,1677.2 C90.4,1677.4 89.8,1677.6 89.3,1677.7 C88.7,1677.9 88.2,1678.0 87.6,1678.2 C87.0,1678.3 86.4,1678.4 85.9,1678.6 C85.3,1678.7 84.7,1678.8 84.1,1678.9 C83.5,1679.0 82.9,1679.1 82.3,1679.2 C81.7,1679.3 81.1,1679.4 80.5,1679.5 C79.9,1679.5 79.3,1679.6 78.7,1679.7 C78.1,1679.7 77.5,1679.8 76.8,1679.8 C76.2,1679.8 75.6,1679.9 75.0,1679.9 C74.4,1679.9 73.8,1679.9 73.1,1679.9 C72.5,1679.9 71.9,1679.9 71.3,1679.9 C70.7,1679.9 70.0,1679.8 69.4,1679.8 C68.8,1679.8 68.2,1679.7 67.6,1679.7 C67.0,1679.6 66.4,1679.5 65.7,1679.5 C65.1,1679.4 64.5,1679.3 63.9,1679.2 C63.3,1679.1 62.7,1679.0 62.2,1678.9 C61.6,1678.8 61.0,1678.7 60.4,1678.6 C59.8,1678.4 59.2,1678.3 58.7,1678.2 C58.1,1678.0 57.6,1677.9 57.0,1677.7 C56.4,1677.6 55.9,1677.4 55.4,1677.2 C54.8,1677.0 54.3,1676.8 53.8,1676.7 C53.3,1676.5 52.7,1676.3 52.2,1676.1 C51.7,1675.9 51.3,1675.6 50.8,1675.4 C50.3,1675.2 49.8,1675.0 49.4,1674.7 C48.9,1674.5 48.4,1674.3 48.0,1674.0 C47.6,1673.8 47.1,1673.5 46.7,1673.2 C46.3,1673.0 45.9,1672.7 45.5,1672.4 C45.1,1672.2 44.8,1671.9 44.4,1671.6 C44.0,1671.3 43.7,1671.0 43.3,1670.7 C43.0,1670.5 42.7,1670.2 42.4,1669.9 C42.1,1669.5 41.8,1669.2 41.5,1668.9 C41.2,1668.6 40.9,1668.3 40.7,1668.0 C40.4,1667.7 40.2,1667.3 40.0,1667.0 C39.7,1666.7 39.5,1666.3 39.3,1666.0 C39.1,1665.7 39.0,1665.3 38.8,1665.0 C38.7,1664.7 38.5,1664.3 38.4,1664.0 C38.2,1663.6 38.1,1663.3 38.0,1662.9 C37.9,1662.6 37.9,1662.2 37.8,1661.9 C37.7,1661.6 37.7,1661.2 37.6,1660.9 C37.6,1660.5 37.6,1660.2 37.6,1659.8 C37.6,1659.4 37.6,1659.1 37.6,1658.7 C37.7,1658.4 37.7,1658.0 37.8,1657.7 C37.9,1657.4 37.9,1657.0 38.0,1656.7 C38.1,1656.3 38.2,1656.0 38.4,1655.6 C38.5,1655.3 38.7,1654.9 38.8,1654.6 C39.0,1654.3 39.1,1653.9 39.3,1653.6 C39.5,1653.3 39.7,1652.9 40.0,1652.6 C40.2,1652.3 40.4,1651.9 40.7,1651.6 C40.9,1651.3 41.2,1651.0 41.5,1650.7 C41.8,1650.4 42.1,1650.1 42.4,1649.8 C42.7,1649.4 43.0,1649.1 43.3,1648.9 C43.7,1648.6 44.0,1648.3 44.4,1648.0 C44.8,1647.7 45.1,1647.4 45.5,1647.2 C45.9,1646.9 46.3,1646.6 46.7,1646.4 C47.1,1646.1 47.6,1645.8 48.0,1645.6 C48.4,1645.3 48.9,1645.1 49.4,1644.9 C49.8,1644.6 50.3,1644.4 50.8,1644.2 C51.3,1644.0 51.7,1643.7 52.2,1643.5 C52.7,1643.3 53.3,1643.1 53.8,1642.9 C54.3,1642.8 54.8,1642.6 55.4,1642.4 C55.9,1642.2 56.4,1642.0 57.0,1641.9 C57.6,1641.7 58.1,1641.6 58.7,1641.4 C59.2,1641.3 59.8,1641.2 60.4,1641.0 C61.0,1640.9 61.6,1640.8 62.2,1640.7 C62.7,1640.6 63.3,1640.5 63.9,1640.4 C64.5,1640.3 65.1,1640.2 65.7,1640.1 C66.4,1640.1 67.0,1640.0 67.6,1639.9 C68.2,1639.9 68.8,1639.8 69.4,1639.8 C70.0,1639.8 70.7,1639.7 71.3,1639.7 C71.9,1639.7 72.5,1639.7 73.1,1639.7 C73.8,1639.7 74.4,1639.7 75.0,1639.7 C75.6,1639.7 76.2,1639.8 76.8,1639.8 C77.5,1639.8 78.1,1639.9 78.7,1639.9 C79.3,1640.0 79.9,1640.1 80.5,1640.1 C81.1,1640.2 81.7,1640.3 82.3,1640.4 C82.9,1640.5 83.5,1640.6 84.1,1640.7 C84.7,1640.8 85.3,1640.9 85.9,1641.0 C86.4,1641.2 87.0,1641.3 87.6,1641.4 C88.2,1641.6 88.7,1641.7 89.3,1641.9 C89.8,1642.0 90.4,1642.2 90.9,1642.4 C91.4,1642.6 92.0,1642.8 92.5,1642.9 C93.0,1643.1 93.5,1643.3 94.0,1643.5 C94.5,1643.7 95.0,1644.0 95.5,1644.2 C96.0,1644.4 96.5,1644.6 96.9,1644.9 C97.4,1645.1 97.8,1645.3 98.3,1645.6 C98.7,1645.8 99.1,1646.1 99.5,1646.4 C100.0,1646.6 100.4,1646.9 100.8,1647.2 C101.1,1647.4 101.5,1647.7 101.9,1648.0 C102.2,1648.3 102.7,1648.5 102.9,1648.9 C103.2,1649.2 103.4,1649.5 103.5,1649.9 C103.6,1650.3 103.6,1650.6 103.6,1651.0 C103.6,1651.4 103.5,1651.8 103.5,1652.2 C103.4,1652.5 103.3,1652.9 103.1,1653.3 C102.9,1653.7 102.8,1654.0 102.5,1654.4 C102.3,1654.8 102.0,1655.1 101.8,1655.5 C101.5,1655.8 101.2,1656.1 100.8,1656.5 C100.5,1656.8 100.1,1657.1 99.7,1657.4 C99.3,1657.7 98.9,1658.0 98.5,1658.3 C98.0,1658.6 97.6,1658.8 97.1,1659.1 C96.6,1659.3 96.1,1659.6 95.6,1659.8Z" fill="#f3b480"/>
<path d="M91.7,1657.4 C91.3,1657.5 90.9,1657.7 90.4,1657.8 C89.9,1658.0 89.4,1658.1 89.0,1658.2 C88.6,1658.3 87.9,1658.4 87.9,1658.5 C87.9,1658.7 88.7,1658.9 89.1,1659.1 C89.5,1659.2 89.8,1659.4 90.2,1659.6 C90.5,1659.8 90.9,1660.0 91.2,1660.3 C91.5,1660.5 91.7,1660.7 92.0,1660.9 C92.3,1661.2 92.5,1661.4 92.7,1661.7 C92.9,1661.9 93.1,1662.2 93.3,1662.4 C93.4,1662.7 93.6,1663.0 93.7,1663.2 C93.8,1663.5 93.9,1663.8 94.0,1664.0 C94.0,1664.3 94.1,1664.6 94.1,1664.9 C94.1,1665.1 94.0,1665.4 94.0,1665.7 C93.9,1666.0 93.9,1666.2 93.7,1666.5 C93.6,1666.8 93.5,1667.0 93.3,1667.3 C93.1,1667.6 92.9,1667.8 92.7,1668.0 C92.4,1668.3 92.0,1668.5 91.7,1668.6 C91.3,1668.8 90.9,1668.9 90.5,1669.1 C90.1,1669.2 89.6,1669.4 89.2,1669.5 C88.8,1669.7 88.3,1669.8 87.9,1669.9 C87.5,1670.0 87.0,1670.2 86.6,1670.3 C86.1,1670.4 85.7,1670.5 85.2,1670.6 C84.7,1670.7 84.3,1670.8 83.8,1670.9 C83.3,1671.0 82.8,1671.1 82.3,1671.2 C81.9,1671.2 81.4,1671.3 80.9,1671.4 C80.4,1671.4 79.9,1671.5 79.4,1671.5 C78.9,1671.6 78.4,1671.6 77.9,1671.7 C77.4,1671.7 76.9,1671.8 76.4,1671.8 C75.9,1671.8 75.4,1671.8 74.9,1671.8 C74.4,1671.9 73.8,1671.9 73.3,1671.9 C72.8,1671.9 72.3,1671.9 71.8,1671.8 C71.3,1671.8 70.8,1671.8 70.3,1671.8 C69.8,1671.8 69.3,1671.7 68.8,1671.7 C68.3,1671.6 67.8,1671.6 67.3,1671.5 C66.8,1671.5 66.3,1671.4 65.8,1671.4 C65.3,1671.3 64.8,1671.2 64.3,1671.2 C63.9,1671.1 63.4,1671.0 62.9,1670.9 C62.4,1670.8 62.0,1670.7 61.5,1670.6 C61.0,1670.5 60.6,1670.4 60.1,1670.3 C59.7,1670.2 59.2,1670.0 58.8,1669.9 C58.3,1669.8 57.9,1669.7 57.5,1669.5 C57.0,1669.4 56.6,1669.2 56.2,1669.1 C55.8,1668.9 55.4,1668.8 55.0,1668.6 C54.6,1668.5 54.2,1668.3 53.8,1668.1 C53.5,1668.0 53.1,1667.8 52.7,1667.6 C52.4,1667.4 52.0,1667.3 51.7,1667.1 C51.3,1666.9 51.0,1666.7 50.7,1666.5 C50.4,1666.3 50.1,1666.1 49.8,1665.9 C49.5,1665.7 49.2,1665.5 48.9,1665.3 C48.6,1665.1 48.4,1664.8 48.1,1664.6 C47.8,1664.4 47.6,1664.2 47.4,1664.0 C47.1,1663.7 46.9,1663.5 46.7,1663.3 C46.5,1663.0 46.3,1662.8 46.1,1662.6 C46.0,1662.3 45.8,1662.1 45.6,1661.9 C45.5,1661.6 45.3,1661.4 45.2,1661.1 C45.1,1660.9 44.9,1660.6 44.8,1660.4 C44.7,1660.1 44.6,1659.9 44.6,1659.7 C44.5,1659.4 44.4,1659.2 44.4,1658.9 C44.3,1658.6 44.3,1658.4 44.2,1658.1 C44.2,1657.9 44.2,1657.6 44.2,1657.4 C44.2,1657.1 44.2,1656.9 44.2,1656.6 C44.3,1656.4 44.3,1656.1 44.4,1655.9 C44.4,1655.6 44.5,1655.4 44.6,1655.1 C44.6,1654.9 44.7,1654.6 44.8,1654.4 C44.9,1654.1 45.1,1653.9 45.2,1653.6 C45.3,1653.4 45.5,1653.2 45.6,1652.9 C45.8,1652.7 46.0,1652.4 46.1,1652.2 C46.3,1652.0 46.5,1651.7 46.7,1651.5 C46.9,1651.3 47.1,1651.0 47.4,1650.8 C47.6,1650.6 47.8,1650.4 48.1,1650.2 C48.4,1649.9 48.6,1649.7 48.9,1649.5 C49.2,1649.3 49.5,1649.1 49.8,1648.9 C50.1,1648.7 50.4,1648.5 50.7,1648.3 C51.0,1648.1 51.3,1647.9 51.7,1647.7 C52.0,1647.5 52.4,1647.3 52.7,1647.2 C53.1,1647.0 53.5,1646.8 53.8,1646.6 C54.2,1646.5 54.6,1646.3 55.0,1646.1 C55.4,1646.0 55.8,1645.8 56.2,1645.7 C56.6,1645.5 57.0,1645.4 57.5,1645.3 C57.9,1645.1 58.3,1645.0 58.8,1644.9 C59.2,1644.7 59.7,1644.6 60.1,1644.5 C60.6,1644.4 61.0,1644.3 61.5,1644.2 C62.0,1644.1 62.4,1644.0 62.9,1643.9 C63.4,1643.8 63.9,1643.7 64.3,1643.6 C64.8,1643.5 65.3,1643.5 65.8,1643.4 C66.3,1643.3 66.8,1643.3 67.3,1643.2 C67.8,1643.2 68.3,1643.1 68.8,1643.1 C69.3,1643.1 69.8,1643.0 70.3,1643.0 C70.8,1643.0 71.3,1642.9 71.8,1642.9 C72.3,1642.9 72.8,1642.9 73.3,1642.9 C73.8,1642.9 74.4,1642.9 74.9,1642.9 C75.4,1642.9 75.9,1643.0 76.4,1643.0 C76.9,1643.0 77.4,1643.1 77.9,1643.1 C78.4,1643.1 78.9,1643.2 79.4,1643.2 C79.9,1643.3 80.4,1643.3 80.9,1643.4 C81.4,1643.5 81.9,1643.5 82.3,1643.6 C82.8,1643.7 83.3,1643.8 83.8,1643.9 C84.3,1644.0 84.7,1644.1 85.2,1644.2 C85.7,1644.3 86.1,1644.4 86.6,1644.5 C87.0,1644.6 87.5,1644.7 87.9,1644.9 C88.3,1645.0 88.8,1645.1 89.2,1645.3 C89.6,1645.4 90.1,1645.5 90.5,1645.7 C90.9,1645.8 91.3,1646.0 91.7,1646.1 C92.1,1646.3 92.5,1646.5 92.8,1646.6 C93.2,1646.8 93.6,1647.0 93.9,1647.2 C94.3,1647.3 94.7,1647.5 95.0,1647.7 C95.3,1647.9 95.7,1648.1 96.0,1648.3 C96.3,1648.5 96.6,1648.7 96.9,1648.9 C97.2,1649.1 97.6,1649.3 97.8,1649.5 C98.0,1649.7 98.1,1650.0 98.2,1650.3 C98.3,1650.5 98.3,1650.8 98.3,1651.1 C98.3,1651.3 98.3,1651.6 98.2,1651.9 C98.1,1652.2 98.0,1652.4 97.9,1652.7 C97.8,1653.0 97.6,1653.2 97.4,1653.5 C97.3,1653.8 97.0,1654.0 96.8,1654.3 C96.6,1654.5 96.3,1654.8 96.0,1655.0 C95.8,1655.2 95.5,1655.5 95.1,1655.7 C94.8,1655.9 94.5,1656.1 94.1,1656.3 C93.7,1656.5 93.4,1656.7 93.0,1656.9 C92.6,1657.1 92.2,1657.2 91.7,1657.4Z" fill="#f8c89e" opacity="0.55"/>
<text x="66.0" y="1666.4" font-size="16" text-anchor="middle" fill="#161616" >trLUT5</text>
<ellipse cx="189.8" cy="1636.4" rx="10.5" ry="7.8" transform="rotate(20 189.8 1636.4)" fill="#a6c6e2"/>
<ellipse cx="188.8" cy="1635.4" rx="7.3" ry="4.7" transform="rotate(20 189.8 1636.4)" fill="#b8d4ec"/>
<path d="M241.0,1657.0 C240.5,1657.2 240.0,1657.4 239.4,1657.6 C238.9,1657.8 238.3,1657.9 237.8,1658.1 C237.3,1658.2 236.5,1658.3 236.5,1658.5 C236.5,1658.7 237.4,1659.0 237.9,1659.3 C238.3,1659.5 238.8,1659.8 239.2,1660.1 C239.6,1660.3 240.0,1660.6 240.3,1660.9 C240.7,1661.2 241.0,1661.6 241.3,1661.9 C241.6,1662.2 241.9,1662.5 242.2,1662.9 C242.4,1663.2 242.6,1663.6 242.8,1663.9 C243.0,1664.3 243.2,1664.7 243.3,1665.0 C243.5,1665.4 243.6,1665.8 243.6,1666.2 C243.7,1666.5 243.8,1666.9 243.8,1667.3 C243.8,1667.7 243.7,1668.1 243.7,1668.5 C243.6,1668.8 243.5,1669.2 243.4,1669.6 C243.3,1670.0 243.1,1670.3 242.9,1670.7 C242.7,1671.0 242.4,1671.4 242.1,1671.7 C241.8,1672.0 241.4,1672.3 240.9,1672.5 C240.5,1672.8 240.0,1673.0 239.5,1673.2 C239.0,1673.4 238.5,1673.6 238.0,1673.8 C237.5,1674.0 237.0,1674.1 236.5,1674.3 C236.0,1674.5 235.4,1674.7 234.9,1674.8 C234.4,1675.0 233.8,1675.1 233.3,1675.3 C232.7,1675.4 232.2,1675.5 231.6,1675.7 C231.0,1675.8 230.5,1675.9 229.9,1676.0 C229.3,1676.1 228.8,1676.2 228.2,1676.3 C227.6,1676.4 227.0,1676.5 226.4,1676.6 C225.8,1676.6 225.2,1676.7 224.6,1676.8 C224.1,1676.8 223.5,1676.9 222.9,1676.9 C222.3,1676.9 221.7,1677.0 221.1,1677.0 C220.5,1677.0 219.9,1677.0 219.3,1677.0 C218.7,1677.0 218.1,1677.0 217.5,1677.0 C216.9,1677.0 216.3,1676.9 215.7,1676.9 C215.1,1676.9 214.5,1676.8 213.9,1676.8 C213.3,1676.7 212.7,1676.6 212.1,1676.6 C211.5,1676.5 210.9,1676.4 210.3,1676.3 C209.8,1676.2 209.2,1676.1 208.6,1676.0 C208.0,1675.9 207.5,1675.8 206.9,1675.7 C206.3,1675.5 205.8,1675.4 205.2,1675.3 C204.7,1675.1 204.2,1675.0 203.6,1674.8 C203.1,1674.7 202.5,1674.5 202.0,1674.3 C201.5,1674.1 201.0,1674.0 200.5,1673.8 C200.0,1673.6 199.5,1673.4 199.0,1673.2 C198.5,1673.0 198.0,1672.8 197.6,1672.5 C197.1,1672.3 196.6,1672.1 196.2,1671.9 C195.8,1671.6 195.3,1671.4 194.9,1671.1 C194.5,1670.9 194.1,1670.6 193.7,1670.4 C193.2,1670.1 192.9,1669.8 192.5,1669.6 C192.1,1669.3 191.7,1669.0 191.4,1668.7 C191.0,1668.5 190.7,1668.2 190.4,1667.9 C190.0,1667.6 189.7,1667.3 189.4,1667.0 C189.1,1666.7 188.8,1666.4 188.6,1666.1 C188.3,1665.7 188.0,1665.4 187.8,1665.1 C187.5,1664.8 187.3,1664.5 187.1,1664.1 C186.9,1663.8 186.7,1663.5 186.5,1663.1 C186.3,1662.8 186.1,1662.5 186.0,1662.1 C185.8,1661.8 185.7,1661.5 185.6,1661.1 C185.4,1660.8 185.3,1660.4 185.2,1660.1 C185.1,1659.7 185.1,1659.4 185.0,1659.0 C184.9,1658.7 184.9,1658.3 184.8,1658.0 C184.8,1657.7 184.8,1657.3 184.8,1657.0 C184.8,1656.6 184.8,1656.2 184.8,1655.9 C184.9,1655.6 184.9,1655.2 185.0,1654.9 C185.1,1654.5 185.1,1654.2 185.2,1653.8 C185.3,1653.5 185.4,1653.1 185.6,1652.8 C185.7,1652.4 185.8,1652.1 186.0,1651.8 C186.1,1651.4 186.3,1651.1 186.5,1650.8 C186.7,1650.4 186.9,1650.1 187.1,1649.8 C187.3,1649.4 187.5,1649.1 187.8,1648.8 C188.0,1648.5 188.3,1648.2 188.6,1647.8 C188.8,1647.5 189.1,1647.2 189.4,1646.9 C189.7,1646.6 190.0,1646.3 190.4,1646.0 C190.7,1645.7 191.0,1645.4 191.4,1645.2 C191.7,1644.9 192.1,1644.6 192.5,1644.3 C192.9,1644.1 193.2,1643.8 193.7,1643.5 C194.1,1643.3 194.5,1643.0 194.9,1642.8 C195.3,1642.5 195.8,1642.3 196.2,1642.0 C196.6,1641.8 197.1,1641.6 197.6,1641.4 C198.0,1641.1 198.5,1640.9 199.0,1640.7 C199.5,1640.5 200.0,1640.3 200.5,1640.1 C201.0,1639.9 201.5,1639.8 202.0,1639.6 C202.5,1639.4 203.1,1639.2 203.6,1639.1 C204.2,1638.9 204.7,1638.8 205.2,1638.6 C205.8,1638.5 206.3,1638.4 206.9,1638.2 C207.5,1638.1 208.0,1638.0 208.6,1637.9 C209.2,1637.8 209.8,1637.7 210.3,1637.6 C210.9,1637.5 211.5,1637.4 212.1,1637.3 C212.7,1637.3 213.3,1637.2 213.9,1637.1 C214.5,1637.1 215.1,1637.0 215.7,1637.0 C216.3,1637.0 216.9,1636.9 217.5,1636.9 C218.1,1636.9 218.7,1636.9 219.3,1636.9 C219.9,1636.9 220.5,1636.9 221.1,1636.9 C221.7,1636.9 222.3,1637.0 222.9,1637.0 C223.5,1637.0 224.1,1637.1 224.6,1637.1 C225.2,1637.2 225.8,1637.3 226.4,1637.3 C227.0,1637.4 227.6,1637.5 228.2,1637.6 C228.8,1637.7 229.3,1637.8 229.9,1637.9 C230.5,1638.0 231.0,1638.1 231.6,1638.2 C232.2,1638.4 232.7,1638.5 233.3,1638.6 C233.8,1638.8 234.4,1638.9 234.9,1639.1 C235.4,1639.2 236.0,1639.4 236.5,1639.6 C237.0,1639.8 237.5,1639.9 238.0,1640.1 C238.5,1640.3 239.0,1640.5 239.5,1640.7 C240.0,1640.9 240.5,1641.1 240.9,1641.4 C241.4,1641.6 241.9,1641.8 242.3,1642.0 C242.8,1642.3 243.2,1642.5 243.6,1642.8 C244.0,1643.0 244.5,1643.3 244.9,1643.5 C245.3,1643.8 245.7,1644.1 246.0,1644.3 C246.4,1644.6 246.8,1644.9 247.1,1645.2 C247.5,1645.4 247.9,1645.7 248.2,1646.0 C248.4,1646.3 248.6,1646.7 248.7,1647.1 C248.8,1647.4 248.8,1647.8 248.8,1648.2 C248.8,1648.6 248.7,1649.0 248.7,1649.3 C248.6,1649.7 248.5,1650.1 248.3,1650.5 C248.2,1650.8 248.0,1651.2 247.8,1651.6 C247.5,1651.9 247.3,1652.3 247.0,1652.6 C246.7,1653.0 246.4,1653.3 246.1,1653.6 C245.8,1654.0 245.4,1654.3 245.0,1654.6 C244.7,1654.9 244.2,1655.2 243.8,1655.4 C243.4,1655.7 242.9,1656.0 242.5,1656.2 C242.0,1656.5 241.5,1656.7 241.0,1657.0Z" fill="#f3b480"/>
<path d="M237.3,1654.5 C236.9,1654.7 236.4,1654.9 236.0,1655.0 C235.6,1655.1 235.0,1655.2 234.6,1655.4 C234.2,1655.5 233.6,1655.5 233.6,1655.7 C233.6,1655.8 234.4,1656.0 234.7,1656.2 C235.1,1656.4 235.5,1656.6 235.8,1656.8 C236.1,1657.0 236.4,1657.2 236.7,1657.4 C237.0,1657.6 237.3,1657.9 237.5,1658.1 C237.8,1658.3 238.0,1658.6 238.2,1658.8 C238.4,1659.1 238.6,1659.3 238.8,1659.6 C239.0,1659.8 239.1,1660.1 239.2,1660.4 C239.3,1660.6 239.4,1660.9 239.5,1661.2 C239.5,1661.5 239.5,1661.7 239.5,1662.0 C239.6,1662.3 239.5,1662.6 239.5,1662.8 C239.4,1663.1 239.4,1663.4 239.2,1663.6 C239.1,1663.9 239.0,1664.2 238.8,1664.4 C238.6,1664.7 238.5,1665.0 238.2,1665.2 C237.9,1665.4 237.6,1665.6 237.2,1665.8 C236.9,1665.9 236.5,1666.1 236.1,1666.2 C235.7,1666.4 235.3,1666.5 234.8,1666.7 C234.4,1666.8 234.0,1666.9 233.6,1667.0 C233.2,1667.2 232.7,1667.3 232.3,1667.4 C231.8,1667.5 231.4,1667.6 230.9,1667.7 C230.5,1667.8 230.0,1667.9 229.6,1668.0 C229.1,1668.1 228.7,1668.2 228.2,1668.3 C227.7,1668.4 227.2,1668.4 226.8,1668.5 C226.3,1668.6 225.8,1668.6 225.3,1668.7 C224.8,1668.7 224.4,1668.8 223.9,1668.8 C223.4,1668.8 222.9,1668.9 222.4,1668.9 C221.9,1668.9 221.4,1668.9 220.9,1669.0 C220.4,1669.0 219.9,1669.0 219.5,1669.0 C219.0,1669.0 218.5,1669.0 218.0,1669.0 C217.5,1668.9 217.0,1668.9 216.5,1668.9 C216.0,1668.9 215.5,1668.8 215.0,1668.8 C214.5,1668.8 214.1,1668.7 213.6,1668.7 C213.1,1668.6 212.6,1668.6 212.1,1668.5 C211.7,1668.4 211.2,1668.4 210.7,1668.3 C210.3,1668.2 209.8,1668.1 209.3,1668.0 C208.9,1667.9 208.4,1667.8 208.0,1667.7 C207.5,1667.6 207.1,1667.5 206.6,1667.4 C206.2,1667.3 205.8,1667.2 205.3,1667.0 C204.9,1666.9 204.5,1666.8 204.1,1666.7 C203.7,1666.5 203.2,1666.4 202.8,1666.2 C202.4,1666.1 202.1,1665.9 201.7,1665.8 C201.3,1665.6 200.9,1665.4 200.5,1665.3 C200.2,1665.1 199.8,1664.9 199.5,1664.8 C199.1,1664.6 198.8,1664.4 198.5,1664.2 C198.1,1664.0 197.8,1663.8 197.5,1663.6 C197.2,1663.4 196.9,1663.2 196.6,1663.0 C196.3,1662.8 196.0,1662.6 195.8,1662.4 C195.5,1662.2 195.2,1662.0 195.0,1661.8 C194.7,1661.5 194.5,1661.3 194.3,1661.1 C194.1,1660.9 193.8,1660.6 193.6,1660.4 C193.4,1660.2 193.3,1660.0 193.1,1659.7 C192.9,1659.5 192.7,1659.2 192.6,1659.0 C192.4,1658.8 192.3,1658.5 192.2,1658.3 C192.0,1658.0 191.9,1657.8 191.8,1657.5 C191.7,1657.3 191.6,1657.1 191.5,1656.8 C191.5,1656.6 191.4,1656.3 191.4,1656.1 C191.3,1655.8 191.3,1655.6 191.2,1655.3 C191.2,1655.0 191.2,1654.8 191.2,1654.5 C191.2,1654.3 191.2,1654.0 191.2,1653.8 C191.3,1653.5 191.3,1653.3 191.4,1653.0 C191.4,1652.8 191.5,1652.5 191.5,1652.3 C191.6,1652.0 191.7,1651.8 191.8,1651.5 C191.9,1651.3 192.0,1651.1 192.2,1650.8 C192.3,1650.6 192.4,1650.3 192.6,1650.1 C192.7,1649.8 192.9,1649.6 193.1,1649.4 C193.3,1649.1 193.4,1648.9 193.6,1648.7 C193.8,1648.4 194.1,1648.2 194.3,1648.0 C194.5,1647.8 194.7,1647.5 195.0,1647.3 C195.2,1647.1 195.5,1646.9 195.8,1646.7 C196.0,1646.5 196.3,1646.3 196.6,1646.1 C196.9,1645.9 197.2,1645.7 197.5,1645.5 C197.8,1645.3 198.1,1645.1 198.5,1644.9 C198.8,1644.7 199.1,1644.5 199.5,1644.3 C199.8,1644.2 200.2,1644.0 200.5,1643.8 C200.9,1643.6 201.3,1643.5 201.7,1643.3 C202.1,1643.2 202.4,1643.0 202.8,1642.9 C203.2,1642.7 203.7,1642.6 204.1,1642.4 C204.5,1642.3 204.9,1642.2 205.3,1642.0 C205.8,1641.9 206.2,1641.8 206.6,1641.7 C207.1,1641.6 207.5,1641.5 208.0,1641.4 C208.4,1641.3 208.9,1641.2 209.3,1641.1 C209.8,1641.0 210.3,1640.9 210.7,1640.8 C211.2,1640.7 211.7,1640.7 212.1,1640.6 C212.6,1640.5 213.1,1640.5 213.6,1640.4 C214.1,1640.4 214.5,1640.3 215.0,1640.3 C215.5,1640.2 216.0,1640.2 216.5,1640.2 C217.0,1640.2 217.5,1640.1 218.0,1640.1 C218.5,1640.1 219.0,1640.1 219.5,1640.1 C219.9,1640.1 220.4,1640.1 220.9,1640.1 C221.4,1640.1 221.9,1640.2 222.4,1640.2 C222.9,1640.2 223.4,1640.2 223.9,1640.3 C224.4,1640.3 224.8,1640.4 225.3,1640.4 C225.8,1640.5 226.3,1640.5 226.8,1640.6 C227.2,1640.7 227.7,1640.7 228.2,1640.8 C228.7,1640.9 229.1,1641.0 229.6,1641.1 C230.0,1641.2 230.5,1641.3 230.9,1641.4 C231.4,1641.5 231.8,1641.6 232.3,1641.7 C232.7,1641.8 233.2,1641.9 233.6,1642.0 C234.0,1642.2 234.4,1642.3 234.8,1642.4 C235.3,1642.6 235.7,1642.7 236.1,1642.9 C236.5,1643.0 236.9,1643.2 237.2,1643.3 C237.6,1643.5 238.0,1643.6 238.4,1643.8 C238.7,1644.0 239.1,1644.2 239.4,1644.3 C239.8,1644.5 240.1,1644.7 240.5,1644.9 C240.8,1645.1 241.1,1645.3 241.4,1645.5 C241.7,1645.7 242.0,1645.9 242.3,1646.1 C242.6,1646.3 242.9,1646.5 243.2,1646.7 C243.4,1646.9 243.5,1647.2 243.6,1647.4 C243.7,1647.7 243.7,1648.0 243.7,1648.2 C243.7,1648.5 243.6,1648.8 243.6,1649.1 C243.5,1649.3 243.4,1649.6 243.3,1649.9 C243.2,1650.1 243.0,1650.4 242.8,1650.7 C242.7,1650.9 242.4,1651.2 242.2,1651.4 C242.0,1651.7 241.7,1651.9 241.5,1652.2 C241.2,1652.4 240.9,1652.6 240.6,1652.8 C240.3,1653.1 239.9,1653.3 239.6,1653.5 C239.2,1653.7 238.9,1653.9 238.5,1654.0 C238.1,1654.2 237.7,1654.4 237.3,1654.5Z" fill="#f8c89e" opacity="0.55"/>
<text x="218.0" y="1663.9" font-size="16" text-anchor="middle" fill="#161616" >trLUT5</text>
<ellipse cx="166.1" cy="1671.7" rx="10" ry="8.5" transform="rotate(-50 166.1 1671.7)" fill="#a6c6e2"/>
<ellipse cx="165.1" cy="1670.7" rx="7.0" ry="5.1" transform="rotate(-50 166.1 1671.7)" fill="#b8d4ec"/>
<path d="M169.5,1697.5 C169.5,1697.9 169.5,1698.2 169.5,1698.6 C169.4,1698.9 169.4,1699.3 169.3,1699.6 C169.3,1700.0 169.2,1700.4 169.1,1700.7 C169.0,1701.1 168.9,1701.4 168.8,1701.8 C168.7,1702.1 168.6,1702.5 168.4,1702.8 C168.3,1703.2 168.1,1703.5 167.9,1703.8 C167.8,1704.2 167.6,1704.5 167.4,1704.8 C167.2,1705.2 167.0,1705.5 166.7,1705.8 C166.5,1706.2 166.3,1706.5 166.0,1706.8 C165.8,1707.1 165.5,1707.4 165.2,1707.8 C164.9,1708.1 164.7,1708.4 164.4,1708.7 C164.0,1709.0 163.7,1709.3 163.4,1709.5 C163.1,1709.8 162.7,1710.1 162.4,1710.4 C162.0,1710.7 161.7,1711.0 161.3,1711.2 C160.9,1711.5 160.5,1711.7 160.2,1712.0 C159.8,1712.2 159.4,1712.5 158.9,1712.7 C158.5,1713.0 158.1,1713.2 157.7,1713.4 C157.2,1713.7 156.8,1713.9 156.3,1714.1 C155.9,1714.3 155.4,1714.5 155.0,1714.7 C154.5,1714.9 154.0,1715.1 153.5,1715.3 C153.1,1715.4 152.6,1715.6 152.1,1715.8 C151.6,1715.9 151.1,1716.1 150.6,1716.2 C150.1,1716.4 149.5,1716.5 149.0,1716.6 C148.5,1716.8 148.0,1716.9 147.4,1717.0 C146.9,1717.1 146.4,1717.2 145.8,1717.3 C145.3,1717.4 144.8,1717.5 144.2,1717.6 C143.7,1717.6 143.1,1717.7 142.6,1717.7 C142.0,1717.8 141.5,1717.9 140.9,1717.9 C140.4,1717.9 139.8,1718.0 139.3,1718.0 C138.7,1718.0 138.1,1718.0 137.6,1718.0 C137.0,1718.0 136.5,1718.0 135.9,1718.0 C135.4,1718.0 134.8,1717.9 134.3,1717.9 C133.7,1717.9 133.1,1717.8 132.6,1717.7 C132.0,1717.7 131.5,1717.6 131.0,1717.6 C130.4,1717.5 129.9,1717.4 129.3,1717.3 C128.8,1717.2 128.3,1717.1 127.7,1717.0 C127.2,1716.9 126.7,1716.8 126.1,1716.6 C125.6,1716.5 125.1,1716.4 124.6,1716.2 C124.1,1716.1 123.6,1715.9 123.1,1715.8 C122.6,1715.6 122.1,1715.5 121.6,1715.3 C121.2,1715.1 120.7,1714.9 120.3,1714.6 C119.9,1714.3 119.6,1714.0 119.3,1713.6 C119.1,1713.3 118.8,1712.9 118.6,1712.6 C118.4,1712.2 118.2,1711.8 118.0,1711.5 C117.9,1711.1 117.7,1710.7 117.6,1710.3 C117.6,1709.9 117.5,1709.5 117.5,1709.1 C117.4,1708.8 117.4,1708.4 117.4,1708.0 C117.5,1707.6 117.5,1707.2 117.6,1706.8 C117.7,1706.4 117.8,1706.1 118.0,1705.7 C118.1,1705.3 118.3,1704.9 118.5,1704.6 C118.7,1704.2 118.9,1703.9 119.1,1703.5 C119.4,1703.2 119.7,1702.9 120.0,1702.5 C120.3,1702.2 120.6,1701.9 120.9,1701.6 C121.3,1701.3 122.0,1701.0 122.0,1700.7 C122.1,1700.5 121.5,1700.5 121.1,1700.3 C120.7,1700.2 120.0,1700.1 119.5,1700.0 C118.9,1699.8 118.4,1699.7 117.9,1699.5 C117.4,1699.3 116.9,1699.1 116.4,1698.9 C115.9,1698.7 115.4,1698.5 114.9,1698.3 C114.5,1698.0 114.0,1697.8 113.6,1697.5 C113.2,1697.2 112.8,1696.9 112.4,1696.7 C112.0,1696.4 111.6,1696.0 111.3,1695.7 C110.9,1695.4 110.6,1695.1 110.3,1694.7 C110.0,1694.4 109.8,1694.0 109.5,1693.7 C109.3,1693.3 109.1,1692.9 108.9,1692.6 C108.7,1692.2 108.6,1691.8 108.5,1691.4 C108.4,1691.0 108.3,1690.7 108.3,1690.3 C108.3,1689.9 108.3,1689.5 108.4,1689.2 C108.6,1688.8 108.9,1688.5 109.2,1688.2 C109.4,1687.9 109.7,1687.6 109.9,1687.2 C110.2,1686.9 110.5,1686.6 110.8,1686.3 C111.1,1686.0 111.4,1685.7 111.8,1685.5 C112.1,1685.2 112.4,1684.9 112.8,1684.6 C113.1,1684.3 113.5,1684.0 113.9,1683.8 C114.2,1683.5 114.6,1683.3 115.0,1683.0 C115.4,1682.8 115.8,1682.5 116.2,1682.3 C116.6,1682.0 117.1,1681.8 117.5,1681.6 C117.9,1681.3 118.4,1681.1 118.8,1680.9 C119.3,1680.7 119.7,1680.5 120.2,1680.3 C120.7,1680.1 121.1,1679.9 121.6,1679.7 C122.1,1679.6 122.6,1679.4 123.1,1679.2 C123.6,1679.1 124.1,1678.9 124.6,1678.8 C125.1,1678.6 125.6,1678.5 126.1,1678.4 C126.7,1678.2 127.2,1678.1 127.7,1678.0 C128.3,1677.9 128.8,1677.8 129.3,1677.7 C129.9,1677.6 130.4,1677.5 131.0,1677.4 C131.5,1677.4 132.0,1677.3 132.6,1677.3 C133.1,1677.2 133.7,1677.1 134.3,1677.1 C134.8,1677.1 135.4,1677.0 135.9,1677.0 C136.5,1677.0 137.0,1677.0 137.6,1677.0 C138.1,1677.0 138.7,1677.0 139.3,1677.0 C139.8,1677.0 140.4,1677.1 140.9,1677.1 C141.5,1677.1 142.0,1677.2 142.6,1677.3 C143.1,1677.3 143.7,1677.4 144.2,1677.4 C144.8,1677.5 145.3,1677.6 145.8,1677.7 C146.4,1677.8 146.9,1677.9 147.4,1678.0 C148.0,1678.1 148.5,1678.2 149.0,1678.4 C149.5,1678.5 150.1,1678.6 150.6,1678.8 C151.1,1678.9 151.6,1679.1 152.1,1679.2 C152.6,1679.4 153.1,1679.6 153.5,1679.7 C154.0,1679.9 154.5,1680.1 155.0,1680.3 C155.4,1680.5 155.9,1680.7 156.3,1680.9 C156.8,1681.1 157.2,1681.3 157.7,1681.6 C158.1,1681.8 158.5,1682.0 158.9,1682.3 C159.4,1682.5 159.8,1682.8 160.2,1683.0 C160.5,1683.3 160.9,1683.5 161.3,1683.8 C161.7,1684.0 162.0,1684.3 162.4,1684.6 C162.7,1684.9 163.1,1685.2 163.4,1685.5 C163.7,1685.7 164.0,1686.0 164.4,1686.3 C164.7,1686.6 164.9,1686.9 165.2,1687.2 C165.5,1687.6 165.8,1687.9 166.0,1688.2 C166.3,1688.5 166.5,1688.8 166.7,1689.2 C167.0,1689.5 167.2,1689.8 167.4,1690.2 C167.6,1690.5 167.8,1690.8 167.9,1691.2 C168.1,1691.5 168.3,1691.8 168.4,1692.2 C168.6,1692.5 168.7,1692.9 168.8,1693.2 C168.9,1693.6 169.0,1693.9 169.1,1694.3 C169.2,1694.6 169.3,1695.0 169.3,1695.4 C169.4,1695.7 169.4,1696.1 169.5,1696.4 C169.5,1696.8 169.5,1697.1 169.5,1697.5Z" fill="#ebbdbd"/>
<path d="M164.6,1695.0 C164.6,1695.3 164.6,1695.6 164.6,1695.8 C164.5,1696.1 164.5,1696.3 164.5,1696.6 C164.4,1696.8 164.4,1697.1 164.3,1697.3 C164.2,1697.6 164.1,1697.9 164.0,1698.1 C163.9,1698.4 163.8,1698.6 163.7,1698.9 C163.6,1699.1 163.5,1699.4 163.3,1699.6 C163.2,1699.8 163.0,1700.1 162.9,1700.3 C162.7,1700.6 162.5,1700.8 162.3,1701.0 C162.2,1701.3 162.0,1701.5 161.8,1701.7 C161.5,1702.0 161.3,1702.2 161.1,1702.4 C160.9,1702.6 160.6,1702.9 160.4,1703.1 C160.1,1703.3 159.9,1703.5 159.6,1703.7 C159.3,1703.9 159.1,1704.1 158.8,1704.3 C158.5,1704.5 158.2,1704.7 157.9,1704.9 C157.6,1705.1 157.3,1705.3 156.9,1705.5 C156.6,1705.7 156.3,1705.8 155.9,1706.0 C155.6,1706.2 155.3,1706.3 154.9,1706.5 C154.5,1706.7 154.2,1706.8 153.8,1707.0 C153.4,1707.1 153.1,1707.3 152.7,1707.4 C152.3,1707.6 151.9,1707.7 151.5,1707.8 C151.1,1708.0 150.7,1708.1 150.3,1708.2 C149.9,1708.3 149.5,1708.4 149.1,1708.5 C148.7,1708.6 148.2,1708.7 147.8,1708.8 C147.4,1708.9 147.0,1709.0 146.5,1709.1 C146.1,1709.2 145.6,1709.2 145.2,1709.3 C144.8,1709.4 144.3,1709.4 143.9,1709.5 C143.4,1709.5 143.0,1709.6 142.5,1709.6 C142.1,1709.7 141.6,1709.7 141.2,1709.7 C140.7,1709.7 140.3,1709.8 139.8,1709.8 C139.3,1709.8 138.9,1709.8 138.4,1709.8 C138.0,1709.8 137.5,1709.8 137.1,1709.8 C136.6,1709.8 136.2,1709.7 135.7,1709.7 C135.2,1709.7 134.8,1709.7 134.3,1709.6 C133.9,1709.6 133.4,1709.5 133.0,1709.5 C132.5,1709.4 132.1,1709.4 131.7,1709.3 C131.2,1709.2 130.8,1709.2 130.3,1709.1 C129.9,1709.0 129.5,1708.9 129.1,1708.8 C128.6,1708.7 128.2,1708.6 127.8,1708.5 C127.4,1708.4 127.0,1708.3 126.6,1708.2 C126.1,1708.1 125.7,1708.0 125.4,1707.8 C125.0,1707.7 124.6,1707.5 124.3,1707.3 C124.0,1707.1 123.7,1706.9 123.5,1706.7 C123.2,1706.4 123.0,1706.2 122.9,1705.9 C122.7,1705.6 122.5,1705.4 122.4,1705.1 C122.3,1704.8 122.2,1704.5 122.1,1704.3 C122.0,1704.0 122.0,1703.7 121.9,1703.4 C121.9,1703.1 121.9,1702.9 121.9,1702.6 C121.9,1702.3 122.0,1702.0 122.1,1701.7 C122.1,1701.5 122.2,1701.2 122.3,1700.9 C122.5,1700.7 122.6,1700.4 122.8,1700.1 C122.9,1699.9 123.1,1699.6 123.3,1699.4 C123.5,1699.1 123.7,1698.9 124.0,1698.7 C124.2,1698.4 124.5,1698.2 124.8,1698.0 C125.1,1697.8 125.6,1697.5 125.7,1697.4 C125.7,1697.2 125.3,1697.2 124.9,1697.1 C124.6,1697.0 124.0,1696.9 123.6,1696.8 C123.1,1696.7 122.7,1696.6 122.3,1696.5 C121.9,1696.4 121.4,1696.2 121.0,1696.1 C120.6,1695.9 120.2,1695.8 119.9,1695.6 C119.5,1695.4 119.1,1695.2 118.8,1695.0 C118.4,1694.8 118.1,1694.6 117.8,1694.4 C117.4,1694.2 117.1,1694.0 116.9,1693.8 C116.6,1693.5 116.3,1693.3 116.1,1693.0 C115.8,1692.8 115.6,1692.5 115.4,1692.3 C115.2,1692.0 115.1,1691.8 114.9,1691.5 C114.8,1691.2 114.7,1690.9 114.6,1690.7 C114.5,1690.4 114.4,1690.1 114.4,1689.8 C114.4,1689.6 114.4,1689.3 114.5,1689.0 C114.6,1688.8 114.9,1688.6 115.1,1688.3 C115.3,1688.1 115.5,1687.9 115.8,1687.7 C116.0,1687.4 116.2,1687.2 116.5,1687.0 C116.7,1686.8 117.0,1686.6 117.3,1686.4 C117.5,1686.2 117.8,1686.0 118.1,1685.8 C118.4,1685.6 118.7,1685.4 119.0,1685.2 C119.3,1685.0 119.6,1684.8 119.9,1684.6 C120.3,1684.4 120.6,1684.2 120.9,1684.1 C121.3,1683.9 121.6,1683.7 122.0,1683.6 C122.3,1683.4 122.7,1683.3 123.1,1683.1 C123.4,1682.9 123.8,1682.8 124.2,1682.7 C124.6,1682.5 125.0,1682.4 125.4,1682.3 C125.7,1682.1 126.1,1682.0 126.6,1681.9 C127.0,1681.8 127.4,1681.7 127.8,1681.6 C128.2,1681.5 128.6,1681.4 129.1,1681.3 C129.5,1681.2 129.9,1681.1 130.3,1681.0 C130.8,1680.9 131.2,1680.8 131.7,1680.8 C132.1,1680.7 132.5,1680.7 133.0,1680.6 C133.4,1680.5 133.9,1680.5 134.3,1680.5 C134.8,1680.4 135.2,1680.4 135.7,1680.4 C136.2,1680.3 136.6,1680.3 137.1,1680.3 C137.5,1680.3 138.0,1680.3 138.4,1680.3 C138.9,1680.3 139.3,1680.3 139.8,1680.3 C140.3,1680.3 140.7,1680.3 141.2,1680.4 C141.6,1680.4 142.1,1680.4 142.5,1680.5 C143.0,1680.5 143.4,1680.5 143.9,1680.6 C144.3,1680.7 144.8,1680.7 145.2,1680.8 C145.6,1680.8 146.1,1680.9 146.5,1681.0 C147.0,1681.1 147.4,1681.2 147.8,1681.3 C148.2,1681.4 148.7,1681.5 149.1,1681.6 C149.5,1681.7 149.9,1681.8 150.3,1681.9 C150.7,1682.0 151.1,1682.1 151.5,1682.3 C151.9,1682.4 152.3,1682.5 152.7,1682.7 C153.1,1682.8 153.4,1682.9 153.8,1683.1 C154.2,1683.3 154.5,1683.4 154.9,1683.6 C155.3,1683.7 155.6,1683.9 155.9,1684.1 C156.3,1684.2 156.6,1684.4 156.9,1684.6 C157.3,1684.8 157.6,1685.0 157.9,1685.2 C158.2,1685.4 158.5,1685.6 158.8,1685.8 C159.1,1686.0 159.3,1686.2 159.6,1686.4 C159.9,1686.6 160.1,1686.8 160.4,1687.0 C160.6,1687.2 160.9,1687.4 161.1,1687.7 C161.3,1687.9 161.5,1688.1 161.8,1688.3 C162.0,1688.6 162.2,1688.8 162.3,1689.0 C162.5,1689.3 162.7,1689.5 162.9,1689.8 C163.0,1690.0 163.2,1690.2 163.3,1690.5 C163.5,1690.7 163.6,1691.0 163.7,1691.2 C163.8,1691.5 163.9,1691.7 164.0,1692.0 C164.1,1692.2 164.2,1692.5 164.3,1692.7 C164.4,1693.0 164.4,1693.2 164.5,1693.5 C164.5,1693.8 164.5,1694.0 164.6,1694.3 C164.6,1694.5 164.6,1694.8 164.6,1695.0Z" fill="#f2cfcf" opacity="0.55"/>
<text x="139.0" y="1704.0" font-size="16" text-anchor="middle" fill="#161616" >trLUT1</text>
<ellipse cx="125.7" cy="1739.6" rx="10.5" ry="8.5" transform="rotate(-30 125.7 1739.6)" fill="#a6c6e2"/>
<ellipse cx="124.7" cy="1738.6" rx="7.3" ry="5.1" transform="rotate(-30 125.7 1739.6)" fill="#b8d4ec"/>
<path d="M124.6,1759.7 C124.6,1760.1 124.6,1760.5 124.6,1760.8 C124.5,1761.2 124.5,1761.6 124.4,1761.9 C124.3,1762.3 124.3,1762.7 124.2,1763.1 C124.1,1763.4 123.9,1763.8 123.8,1764.2 C123.7,1764.5 123.5,1764.9 123.4,1765.3 C123.2,1765.6 123.0,1766.0 122.8,1766.3 C122.6,1766.7 122.4,1767.1 122.2,1767.4 C122.0,1767.8 121.7,1768.1 121.5,1768.4 C121.2,1768.8 120.9,1769.1 120.6,1769.5 C120.3,1769.8 120.0,1770.1 119.7,1770.5 C119.4,1770.8 119.1,1771.1 118.7,1771.4 C118.4,1771.7 118.0,1772.0 117.6,1772.3 C117.3,1772.6 116.9,1772.9 116.5,1773.2 C116.1,1773.5 115.7,1773.8 115.3,1774.1 C114.8,1774.4 114.4,1774.6 113.9,1774.9 C113.5,1775.2 113.0,1775.4 112.6,1775.7 C112.1,1775.9 111.6,1776.2 111.1,1776.4 C110.6,1776.6 110.1,1776.9 109.6,1777.1 C109.1,1777.3 108.6,1777.5 108.0,1777.7 C107.5,1777.9 107.0,1778.1 106.4,1778.3 C105.9,1778.5 105.3,1778.7 104.7,1778.9 C104.2,1779.0 103.6,1779.2 103.0,1779.3 C102.4,1779.5 101.8,1779.6 101.2,1779.8 C100.7,1779.9 100.1,1780.0 99.4,1780.1 C98.8,1780.3 98.2,1780.4 97.6,1780.5 C97.0,1780.6 96.4,1780.7 95.8,1780.7 C95.1,1780.8 94.5,1780.9 93.9,1780.9 C93.3,1781.0 92.6,1781.0 92.0,1781.1 C91.4,1781.1 90.7,1781.2 90.1,1781.2 C89.5,1781.2 88.8,1781.2 88.2,1781.2 C87.6,1781.2 86.9,1781.2 86.3,1781.2 C85.7,1781.2 85.0,1781.1 84.4,1781.1 C83.8,1781.0 83.1,1781.0 82.5,1780.9 C81.9,1780.9 81.3,1780.8 80.6,1780.7 C80.0,1780.7 79.4,1780.6 78.8,1780.5 C78.2,1780.4 77.6,1780.3 77.0,1780.1 C76.4,1780.0 75.8,1779.9 75.2,1779.8 C74.6,1779.6 74.0,1779.5 73.4,1779.3 C72.8,1779.2 72.2,1779.0 71.7,1778.9 C71.1,1778.7 70.5,1778.5 70.0,1778.3 C69.5,1778.1 68.9,1777.9 68.5,1777.6 C68.1,1777.3 67.7,1777.0 67.4,1776.6 C67.1,1776.3 66.8,1775.9 66.5,1775.5 C66.3,1775.1 66.1,1774.7 65.9,1774.3 C65.7,1773.9 65.6,1773.5 65.5,1773.1 C65.4,1772.7 65.3,1772.3 65.2,1771.9 C65.2,1771.5 65.2,1771.1 65.2,1770.7 C65.3,1770.3 65.3,1769.9 65.4,1769.5 C65.5,1769.1 65.7,1768.7 65.8,1768.3 C66.0,1767.9 66.2,1767.5 66.4,1767.1 C66.6,1766.8 66.9,1766.4 67.2,1766.0 C67.4,1765.7 67.8,1765.3 68.1,1765.0 C68.4,1764.6 68.8,1764.3 69.2,1764.0 C69.6,1763.7 70.4,1763.3 70.5,1763.1 C70.5,1762.9 69.9,1762.8 69.4,1762.7 C68.9,1762.5 68.2,1762.4 67.5,1762.3 C66.9,1762.1 66.3,1762.0 65.7,1761.8 C65.1,1761.6 64.6,1761.4 64.0,1761.2 C63.4,1761.0 62.9,1760.8 62.4,1760.5 C61.8,1760.2 61.3,1760.0 60.8,1759.7 C60.3,1759.4 59.9,1759.1 59.4,1758.8 C59.0,1758.5 58.6,1758.2 58.2,1757.8 C57.8,1757.5 57.4,1757.1 57.1,1756.8 C56.8,1756.4 56.5,1756.1 56.2,1755.7 C55.9,1755.3 55.7,1754.9 55.5,1754.5 C55.3,1754.1 55.1,1753.7 55.0,1753.3 C54.9,1752.9 54.8,1752.5 54.8,1752.1 C54.8,1751.7 54.8,1751.3 55.0,1751.0 C55.1,1750.6 55.5,1750.3 55.8,1749.9 C56.1,1749.6 56.4,1749.3 56.7,1749.0 C57.0,1748.6 57.3,1748.3 57.7,1748.0 C58.0,1747.7 58.4,1747.4 58.8,1747.1 C59.1,1746.8 59.5,1746.5 59.9,1746.2 C60.3,1745.9 60.7,1745.6 61.2,1745.3 C61.6,1745.0 62.0,1744.8 62.5,1744.5 C62.9,1744.2 63.4,1744.0 63.8,1743.7 C64.3,1743.5 64.8,1743.2 65.3,1743.0 C65.8,1742.8 66.3,1742.5 66.8,1742.3 C67.3,1742.1 67.8,1741.9 68.4,1741.7 C68.9,1741.5 69.5,1741.3 70.0,1741.1 C70.6,1740.9 71.1,1740.7 71.7,1740.5 C72.2,1740.4 72.8,1740.2 73.4,1740.1 C74.0,1739.9 74.6,1739.8 75.2,1739.6 C75.8,1739.5 76.4,1739.4 77.0,1739.3 C77.6,1739.1 78.2,1739.0 78.8,1738.9 C79.4,1738.8 80.0,1738.7 80.6,1738.7 C81.3,1738.6 81.9,1738.5 82.5,1738.5 C83.1,1738.4 83.8,1738.4 84.4,1738.3 C85.0,1738.3 85.7,1738.2 86.3,1738.2 C86.9,1738.2 87.6,1738.2 88.2,1738.2 C88.8,1738.2 89.5,1738.2 90.1,1738.2 C90.7,1738.2 91.4,1738.3 92.0,1738.3 C92.6,1738.4 93.3,1738.4 93.9,1738.5 C94.5,1738.5 95.1,1738.6 95.8,1738.7 C96.4,1738.7 97.0,1738.8 97.6,1738.9 C98.2,1739.0 98.8,1739.1 99.4,1739.3 C100.1,1739.4 100.7,1739.5 101.2,1739.6 C101.8,1739.8 102.4,1739.9 103.0,1740.1 C103.6,1740.2 104.2,1740.4 104.7,1740.5 C105.3,1740.7 105.9,1740.9 106.4,1741.1 C107.0,1741.3 107.5,1741.5 108.0,1741.7 C108.6,1741.9 109.1,1742.1 109.6,1742.3 C110.1,1742.5 110.6,1742.8 111.1,1743.0 C111.6,1743.2 112.1,1743.5 112.6,1743.7 C113.0,1744.0 113.5,1744.2 113.9,1744.5 C114.4,1744.8 114.8,1745.0 115.3,1745.3 C115.7,1745.6 116.1,1745.9 116.5,1746.2 C116.9,1746.5 117.3,1746.8 117.6,1747.1 C118.0,1747.4 118.4,1747.7 118.7,1748.0 C119.1,1748.3 119.4,1748.6 119.7,1749.0 C120.0,1749.3 120.3,1749.6 120.6,1749.9 C120.9,1750.3 121.2,1750.6 121.5,1751.0 C121.7,1751.3 122.0,1751.6 122.2,1752.0 C122.4,1752.3 122.6,1752.7 122.8,1753.1 C123.0,1753.4 123.2,1753.8 123.4,1754.1 C123.5,1754.5 123.7,1754.9 123.8,1755.2 C123.9,1755.6 124.1,1756.0 124.2,1756.3 C124.3,1756.7 124.3,1757.1 124.4,1757.5 C124.5,1757.8 124.5,1758.2 124.6,1758.6 C124.6,1758.9 124.6,1759.3 124.6,1759.7Z" fill="#ebbdbd"/>
<path d="M119.0,1757.1 C119.0,1757.4 119.0,1757.7 119.0,1757.9 C118.9,1758.2 118.9,1758.5 118.9,1758.7 C118.8,1759.0 118.7,1759.3 118.6,1759.5 C118.6,1759.8 118.5,1760.1 118.4,1760.3 C118.3,1760.6 118.1,1760.9 118.0,1761.1 C117.9,1761.4 117.7,1761.6 117.6,1761.9 C117.4,1762.2 117.2,1762.4 117.0,1762.7 C116.8,1762.9 116.6,1763.2 116.4,1763.4 C116.2,1763.7 116.0,1763.9 115.8,1764.1 C115.5,1764.4 115.3,1764.6 115.0,1764.9 C114.8,1765.1 114.5,1765.3 114.2,1765.6 C113.9,1765.8 113.6,1766.0 113.3,1766.2 C113.0,1766.4 112.7,1766.7 112.4,1766.9 C112.0,1767.1 111.7,1767.3 111.3,1767.5 C111.0,1767.7 110.6,1767.9 110.3,1768.1 C109.9,1768.3 109.5,1768.4 109.1,1768.6 C108.8,1768.8 108.4,1769.0 108.0,1769.2 C107.5,1769.3 107.1,1769.5 106.7,1769.6 C106.3,1769.8 105.9,1770.0 105.4,1770.1 C105.0,1770.2 104.5,1770.4 104.1,1770.5 C103.6,1770.7 103.2,1770.8 102.7,1770.9 C102.3,1771.0 101.8,1771.2 101.3,1771.3 C100.8,1771.4 100.4,1771.5 99.9,1771.6 C99.4,1771.7 98.9,1771.8 98.4,1771.8 C97.9,1771.9 97.4,1772.0 96.9,1772.1 C96.4,1772.1 95.9,1772.2 95.4,1772.3 C94.9,1772.3 94.4,1772.4 93.8,1772.4 C93.3,1772.5 92.8,1772.5 92.3,1772.5 C91.8,1772.5 91.3,1772.6 90.7,1772.6 C90.2,1772.6 89.7,1772.6 89.2,1772.6 C88.6,1772.6 88.1,1772.6 87.6,1772.6 C87.1,1772.6 86.6,1772.5 86.0,1772.5 C85.5,1772.5 85.0,1772.5 84.5,1772.4 C84.0,1772.4 83.5,1772.3 83.0,1772.3 C82.5,1772.2 81.9,1772.1 81.4,1772.1 C80.9,1772.0 80.4,1771.9 79.9,1771.8 C79.5,1771.8 79.0,1771.7 78.5,1771.6 C78.0,1771.5 77.5,1771.4 77.0,1771.3 C76.6,1771.2 76.1,1771.0 75.6,1770.9 C75.2,1770.8 74.7,1770.7 74.2,1770.5 C73.8,1770.4 73.4,1770.2 73.0,1770.0 C72.7,1769.8 72.4,1769.6 72.1,1769.3 C71.8,1769.0 71.6,1768.8 71.4,1768.5 C71.2,1768.2 71.0,1767.9 70.9,1767.7 C70.7,1767.4 70.6,1767.1 70.5,1766.8 C70.4,1766.5 70.4,1766.2 70.3,1765.9 C70.3,1765.6 70.3,1765.3 70.3,1765.0 C70.4,1764.7 70.4,1764.4 70.5,1764.2 C70.6,1763.9 70.7,1763.6 70.8,1763.3 C70.9,1763.0 71.1,1762.7 71.3,1762.5 C71.5,1762.2 71.7,1761.9 71.9,1761.7 C72.1,1761.4 72.4,1761.2 72.7,1760.9 C73.0,1760.7 73.3,1760.4 73.6,1760.2 C73.9,1760.0 74.6,1759.7 74.6,1759.6 C74.6,1759.4 74.2,1759.4 73.8,1759.3 C73.4,1759.2 72.7,1759.1 72.2,1759.0 C71.7,1758.9 71.2,1758.8 70.7,1758.6 C70.3,1758.5 69.8,1758.4 69.3,1758.2 C68.9,1758.0 68.4,1757.9 68.0,1757.7 C67.5,1757.5 67.1,1757.3 66.7,1757.1 C66.3,1756.9 65.9,1756.7 65.6,1756.5 C65.2,1756.3 64.9,1756.0 64.6,1755.8 C64.2,1755.5 63.9,1755.3 63.7,1755.0 C63.4,1754.8 63.1,1754.5 62.9,1754.2 C62.7,1754.0 62.5,1753.7 62.4,1753.4 C62.2,1753.1 62.1,1752.8 62.0,1752.5 C61.9,1752.2 61.8,1752.0 61.8,1751.7 C61.8,1751.4 61.8,1751.1 61.9,1750.8 C62.0,1750.6 62.3,1750.3 62.6,1750.1 C62.8,1749.9 63.1,1749.6 63.3,1749.4 C63.6,1749.1 63.9,1748.9 64.1,1748.7 C64.4,1748.5 64.7,1748.2 65.0,1748.0 C65.3,1747.8 65.6,1747.6 66.0,1747.4 C66.3,1747.2 66.6,1747.0 67.0,1746.8 C67.3,1746.6 67.7,1746.4 68.1,1746.2 C68.4,1746.0 68.8,1745.8 69.2,1745.6 C69.6,1745.4 70.0,1745.3 70.4,1745.1 C70.8,1744.9 71.2,1744.8 71.6,1744.6 C72.0,1744.4 72.5,1744.3 72.9,1744.1 C73.4,1744.0 73.8,1743.8 74.2,1743.7 C74.7,1743.6 75.2,1743.4 75.6,1743.3 C76.1,1743.2 76.6,1743.1 77.0,1743.0 C77.5,1742.9 78.0,1742.8 78.5,1742.7 C79.0,1742.6 79.5,1742.5 79.9,1742.4 C80.4,1742.3 80.9,1742.2 81.4,1742.2 C81.9,1742.1 82.5,1742.0 83.0,1742.0 C83.5,1741.9 84.0,1741.9 84.5,1741.8 C85.0,1741.8 85.5,1741.8 86.0,1741.7 C86.6,1741.7 87.1,1741.7 87.6,1741.7 C88.1,1741.6 88.6,1741.6 89.2,1741.6 C89.7,1741.6 90.2,1741.6 90.7,1741.7 C91.3,1741.7 91.8,1741.7 92.3,1741.7 C92.8,1741.8 93.3,1741.8 93.8,1741.8 C94.4,1741.9 94.9,1741.9 95.4,1742.0 C95.9,1742.0 96.4,1742.1 96.9,1742.2 C97.4,1742.2 97.9,1742.3 98.4,1742.4 C98.9,1742.5 99.4,1742.6 99.9,1742.7 C100.4,1742.8 100.8,1742.9 101.3,1743.0 C101.8,1743.1 102.3,1743.2 102.7,1743.3 C103.2,1743.4 103.6,1743.6 104.1,1743.7 C104.5,1743.8 105.0,1744.0 105.4,1744.1 C105.9,1744.3 106.3,1744.4 106.7,1744.6 C107.1,1744.8 107.5,1744.9 108.0,1745.1 C108.4,1745.3 108.8,1745.4 109.1,1745.6 C109.5,1745.8 109.9,1746.0 110.3,1746.2 C110.6,1746.4 111.0,1746.6 111.3,1746.8 C111.7,1747.0 112.0,1747.2 112.4,1747.4 C112.7,1747.6 113.0,1747.8 113.3,1748.0 C113.6,1748.2 113.9,1748.5 114.2,1748.7 C114.5,1748.9 114.8,1749.1 115.0,1749.4 C115.3,1749.6 115.5,1749.9 115.8,1750.1 C116.0,1750.3 116.2,1750.6 116.4,1750.8 C116.6,1751.1 116.8,1751.3 117.0,1751.6 C117.2,1751.8 117.4,1752.1 117.6,1752.3 C117.7,1752.6 117.9,1752.9 118.0,1753.1 C118.1,1753.4 118.3,1753.6 118.4,1753.9 C118.5,1754.2 118.6,1754.4 118.6,1754.7 C118.7,1755.0 118.8,1755.2 118.9,1755.5 C118.9,1755.8 118.9,1756.0 119.0,1756.3 C119.0,1756.6 119.0,1756.8 119.0,1757.1Z" fill="#f2cfcf" opacity="0.55"/>
<text x="88.0" y="1766.6" font-size="16" text-anchor="middle" fill="#161616" >trLUT1</text>
<ellipse cx="229.1" cy="1715.7" rx="12.5" ry="10.5" transform="rotate(-40 229.1 1715.7)" fill="#a6c6e2"/>
<ellipse cx="228.1" cy="1714.7" rx="8.8" ry="6.3" transform="rotate(-40 229.1 1715.7)" fill="#b8d4ec"/>
<path d="M156.9,1767.0 C170.2,1784.0 231.7,1739.2 217.9,1721.6 C207.3,1708.0 194.4,1716.2 187.1,1726.5 C183.7,1734.6 174.2,1742.1 165.5,1743.4 C155.4,1745.3 148.7,1756.5 156.9,1767.0Z" fill="#a8c8b4"/>
<path d="M165.7,1763.3 C176.3,1777.0 225.5,1741.1 214.5,1727.1 C206.0,1716.2 195.7,1722.7 189.8,1731.0 C187.1,1737.5 179.5,1743.4 172.5,1744.5 C164.5,1746.0 159.1,1755.0 165.7,1763.3Z" fill="#c4dacb" opacity="0.55"/>
<text x="0" y="0" font-size="16" text-anchor="middle" fill="#161616" transform="translate(194.0,1752.0) rotate(-40)">ATR2</text>
<line x1="244.0" y1="1765.9" x2="238.2" y2="1733.0" stroke="#111" stroke-width="2.2"/>
<path d="M232.8,1735 L236.6,1724.5 L241.6,1733.6Z" fill="#111"/>
<text x="247.2" y="1785.1" font-size="16" text-anchor="middle" fill="#161616" >CipB</text>
<path d="M463.7,1662.4 C463.7,1662.8 463.7,1663.3 463.6,1663.7 C463.6,1664.1 463.5,1664.5 463.5,1665.0 C463.4,1665.4 463.3,1665.8 463.2,1666.2 C463.1,1666.6 462.9,1667.1 462.8,1667.5 C462.6,1667.9 462.4,1668.3 462.2,1668.7 C462.1,1669.1 461.8,1669.5 461.6,1669.9 C461.4,1670.3 461.1,1670.7 460.9,1671.1 C460.6,1671.5 460.3,1671.9 460.0,1672.3 C459.7,1672.7 459.4,1673.1 459.1,1673.5 C458.7,1673.9 458.4,1674.2 458.0,1674.6 C457.6,1675.0 457.2,1675.3 456.8,1675.7 C456.4,1676.0 456.0,1676.4 455.6,1676.7 C455.1,1677.1 454.7,1677.4 454.2,1677.8 C453.7,1678.1 453.3,1678.4 452.8,1678.7 C452.3,1679.0 451.7,1679.4 451.2,1679.7 C450.7,1680.0 450.2,1680.2 449.6,1680.5 C449.1,1680.8 448.5,1681.1 447.9,1681.4 C447.3,1681.6 446.7,1681.9 446.1,1682.1 C445.5,1682.4 444.9,1682.6 444.3,1682.9 C443.7,1683.1 443.0,1683.3 442.4,1683.5 C441.8,1683.7 441.1,1683.9 440.4,1684.1 C439.8,1684.3 439.1,1684.5 438.4,1684.7 C437.7,1684.9 437.1,1685.0 436.4,1685.2 C435.7,1685.3 435.0,1685.5 434.3,1685.6 C433.6,1685.7 432.8,1685.9 432.1,1686.0 C431.4,1686.1 430.7,1686.2 430.0,1686.3 C429.2,1686.4 428.5,1686.4 427.8,1686.5 C427.0,1686.6 426.3,1686.6 425.6,1686.7 C424.8,1686.7 424.1,1686.7 423.3,1686.8 C422.6,1686.8 421.8,1686.8 421.1,1686.8 C420.4,1686.8 419.6,1686.8 418.9,1686.8 C418.1,1686.7 417.4,1686.7 416.6,1686.7 C415.9,1686.6 415.2,1686.6 414.4,1686.5 C413.7,1686.4 413.0,1686.4 412.2,1686.3 C411.5,1686.2 410.8,1686.1 410.1,1686.0 C409.4,1685.9 408.6,1685.7 407.9,1685.6 C407.2,1685.5 406.5,1685.3 405.8,1685.2 C405.1,1685.0 404.5,1684.9 403.8,1684.7 C403.1,1684.5 402.4,1684.3 401.8,1684.1 C401.1,1683.9 400.4,1683.7 399.8,1683.5 C399.2,1683.3 398.5,1683.1 397.9,1682.9 C397.3,1682.6 396.7,1682.4 396.1,1682.1 C395.5,1681.9 394.9,1681.6 394.3,1681.4 C393.7,1681.1 393.2,1680.8 392.6,1680.5 C392.0,1680.2 391.5,1680.0 391.0,1679.7 C390.5,1679.4 389.9,1679.1 389.4,1678.7 C389.0,1678.4 388.8,1677.9 388.5,1677.5 C388.3,1677.1 388.1,1676.6 388.0,1676.2 C387.9,1675.7 387.9,1675.2 387.9,1674.8 C387.9,1674.3 387.9,1673.8 388.0,1673.4 C388.0,1672.9 388.2,1672.4 388.3,1672.0 C388.5,1671.5 388.7,1671.0 388.9,1670.6 C389.2,1670.2 389.5,1669.7 389.8,1669.3 C390.1,1668.9 390.5,1668.4 390.9,1668.0 C391.2,1667.6 391.7,1667.2 392.1,1666.8 C392.6,1666.5 393.1,1666.1 393.6,1665.8 C394.1,1665.4 394.6,1665.1 395.2,1664.8 C395.8,1664.4 396.4,1664.1 397.0,1663.9 C397.6,1663.6 398.9,1663.3 398.9,1663.1 C398.9,1662.8 397.7,1662.6 397.0,1662.4 C396.4,1662.2 395.7,1661.9 395.1,1661.6 C394.5,1661.3 393.9,1661.0 393.3,1660.7 C392.7,1660.4 392.1,1660.1 391.6,1659.7 C391.1,1659.4 390.6,1659.0 390.1,1658.6 C389.7,1658.3 389.2,1657.9 388.9,1657.5 C388.5,1657.0 388.1,1656.6 387.8,1656.2 C387.4,1655.8 387.1,1655.3 386.9,1654.9 C386.7,1654.4 386.4,1654.0 386.3,1653.5 C386.1,1653.1 386.0,1652.6 385.9,1652.1 C385.8,1651.7 385.8,1651.2 385.8,1650.7 C385.8,1650.3 385.9,1649.8 386.0,1649.3 C386.2,1648.9 386.3,1648.4 386.6,1648.1 C387.0,1647.7 387.5,1647.4 388.0,1647.0 C388.5,1646.7 388.9,1646.4 389.4,1646.1 C389.9,1645.8 390.5,1645.4 391.0,1645.1 C391.5,1644.8 392.0,1644.6 392.6,1644.3 C393.2,1644.0 393.7,1643.7 394.3,1643.4 C394.9,1643.2 395.5,1642.9 396.1,1642.7 C396.7,1642.4 397.3,1642.2 397.9,1641.9 C398.5,1641.7 399.2,1641.5 399.8,1641.3 C400.4,1641.1 401.1,1640.9 401.8,1640.7 C402.4,1640.5 403.1,1640.3 403.8,1640.1 C404.5,1639.9 405.1,1639.8 405.8,1639.6 C406.5,1639.5 407.2,1639.3 407.9,1639.2 C408.6,1639.1 409.4,1638.9 410.1,1638.8 C410.8,1638.7 411.5,1638.6 412.2,1638.5 C413.0,1638.4 413.7,1638.4 414.4,1638.3 C415.2,1638.2 415.9,1638.2 416.6,1638.1 C417.4,1638.1 418.1,1638.1 418.9,1638.0 C419.6,1638.0 420.4,1638.0 421.1,1638.0 C421.8,1638.0 422.6,1638.0 423.3,1638.0 C424.1,1638.1 424.8,1638.1 425.6,1638.1 C426.3,1638.2 427.0,1638.2 427.8,1638.3 C428.5,1638.4 429.2,1638.4 430.0,1638.5 C430.7,1638.6 431.4,1638.7 432.1,1638.8 C432.8,1638.9 433.6,1639.1 434.3,1639.2 C435.0,1639.3 435.7,1639.5 436.4,1639.6 C437.1,1639.8 437.7,1639.9 438.4,1640.1 C439.1,1640.3 439.8,1640.5 440.4,1640.7 C441.1,1640.9 441.8,1641.1 442.4,1641.3 C443.0,1641.5 443.7,1641.7 444.3,1641.9 C444.9,1642.2 445.5,1642.4 446.1,1642.7 C446.7,1642.9 447.3,1643.2 447.9,1643.4 C448.5,1643.7 449.1,1644.0 449.6,1644.3 C450.2,1644.6 450.7,1644.8 451.2,1645.1 C451.7,1645.4 452.3,1645.8 452.8,1646.1 C453.3,1646.4 453.7,1646.7 454.2,1647.0 C454.7,1647.4 455.1,1647.7 455.6,1648.1 C456.0,1648.4 456.4,1648.8 456.8,1649.1 C457.2,1649.5 457.6,1649.8 458.0,1650.2 C458.4,1650.6 458.7,1650.9 459.1,1651.3 C459.4,1651.7 459.7,1652.1 460.0,1652.5 C460.3,1652.9 460.6,1653.3 460.9,1653.7 C461.1,1654.1 461.4,1654.5 461.6,1654.9 C461.8,1655.3 462.1,1655.7 462.2,1656.1 C462.4,1656.5 462.6,1656.9 462.8,1657.3 C462.9,1657.7 463.1,1658.2 463.2,1658.6 C463.3,1659.0 463.4,1659.4 463.5,1659.8 C463.5,1660.3 463.6,1660.7 463.6,1661.1 C463.7,1661.5 463.7,1662.0 463.7,1662.4Z" fill="#f3b480"/>
<path d="M457.5,1659.5 C457.5,1659.8 457.5,1660.1 457.4,1660.4 C457.4,1660.7 457.3,1661.0 457.3,1661.3 C457.2,1661.6 457.1,1661.9 457.0,1662.2 C456.9,1662.5 456.8,1662.8 456.7,1663.1 C456.6,1663.4 456.4,1663.7 456.3,1664.0 C456.1,1664.3 455.9,1664.6 455.8,1664.9 C455.6,1665.2 455.4,1665.5 455.1,1665.8 C454.9,1666.1 454.7,1666.3 454.4,1666.6 C454.2,1666.9 453.9,1667.2 453.7,1667.4 C453.4,1667.7 453.1,1668.0 452.8,1668.3 C452.5,1668.5 452.2,1668.8 451.8,1669.0 C451.5,1669.3 451.2,1669.6 450.8,1669.8 C450.4,1670.0 450.1,1670.3 449.7,1670.5 C449.3,1670.8 448.9,1671.0 448.5,1671.2 C448.1,1671.5 447.7,1671.7 447.2,1671.9 C446.8,1672.1 446.4,1672.3 445.9,1672.5 C445.5,1672.7 445.0,1672.9 444.5,1673.1 C444.0,1673.3 443.6,1673.5 443.1,1673.7 C442.6,1673.9 442.1,1674.0 441.6,1674.2 C441.1,1674.4 440.5,1674.5 440.0,1674.7 C439.5,1674.8 438.9,1675.0 438.4,1675.1 C437.9,1675.3 437.3,1675.4 436.7,1675.5 C436.2,1675.6 435.6,1675.8 435.1,1675.9 C434.5,1676.0 433.9,1676.1 433.3,1676.2 C432.8,1676.3 432.2,1676.4 431.6,1676.4 C431.0,1676.5 430.4,1676.6 429.8,1676.7 C429.2,1676.7 428.6,1676.8 428.0,1676.8 C427.4,1676.9 426.8,1676.9 426.2,1676.9 C425.6,1677.0 425.0,1677.0 424.4,1677.0 C423.8,1677.0 423.1,1677.0 422.5,1677.0 C421.9,1677.0 421.3,1677.0 420.7,1677.0 C420.1,1677.0 419.5,1677.0 418.9,1676.9 C418.3,1676.9 417.7,1676.9 417.1,1676.8 C416.5,1676.8 415.9,1676.7 415.3,1676.7 C414.7,1676.6 414.1,1676.5 413.5,1676.4 C412.9,1676.4 412.3,1676.3 411.7,1676.2 C411.2,1676.1 410.6,1676.0 410.0,1675.9 C409.5,1675.8 408.9,1675.6 408.3,1675.5 C407.8,1675.4 407.2,1675.3 406.7,1675.1 C406.1,1675.0 405.6,1674.8 405.1,1674.7 C404.5,1674.5 404.0,1674.4 403.5,1674.2 C403.0,1674.0 402.5,1673.9 402.0,1673.7 C401.5,1673.5 401.0,1673.3 400.6,1673.1 C400.1,1672.9 399.6,1672.7 399.2,1672.5 C398.7,1672.3 398.3,1672.1 397.8,1671.9 C397.4,1671.7 396.9,1671.5 396.6,1671.2 C396.2,1671.0 396.0,1670.7 395.8,1670.4 C395.6,1670.0 395.5,1669.7 395.4,1669.4 C395.3,1669.0 395.3,1668.7 395.3,1668.4 C395.3,1668.0 395.3,1667.7 395.4,1667.4 C395.4,1667.0 395.5,1666.7 395.7,1666.4 C395.8,1666.0 396.0,1665.7 396.2,1665.4 C396.4,1665.1 396.6,1664.7 396.9,1664.4 C397.1,1664.1 397.4,1663.8 397.7,1663.5 C398.0,1663.2 398.4,1662.9 398.8,1662.7 C399.1,1662.4 399.5,1662.1 400.0,1661.9 C400.4,1661.6 400.8,1661.4 401.3,1661.2 C401.8,1660.9 402.2,1660.7 402.8,1660.5 C403.3,1660.3 404.3,1660.1 404.3,1660.0 C404.3,1659.8 403.3,1659.6 402.8,1659.5 C402.3,1659.3 401.7,1659.1 401.2,1658.9 C400.7,1658.7 400.2,1658.5 399.7,1658.3 C399.2,1658.0 398.8,1657.8 398.4,1657.5 C397.9,1657.3 397.5,1657.0 397.2,1656.8 C396.8,1656.5 396.4,1656.2 396.1,1655.9 C395.8,1655.6 395.5,1655.3 395.2,1655.0 C394.9,1654.7 394.7,1654.4 394.5,1654.1 C394.3,1653.7 394.1,1653.4 394.0,1653.1 C393.8,1652.7 393.7,1652.4 393.7,1652.1 C393.6,1651.7 393.6,1651.4 393.6,1651.1 C393.6,1650.7 393.7,1650.4 393.8,1650.1 C393.9,1649.8 394.0,1649.4 394.3,1649.1 C394.6,1648.9 395.0,1648.7 395.4,1648.4 C395.8,1648.2 396.2,1647.9 396.6,1647.7 C397.0,1647.5 397.4,1647.3 397.8,1647.0 C398.3,1646.8 398.7,1646.6 399.2,1646.4 C399.6,1646.2 400.1,1646.0 400.6,1645.8 C401.0,1645.6 401.5,1645.4 402.0,1645.3 C402.5,1645.1 403.0,1644.9 403.5,1644.7 C404.0,1644.6 404.5,1644.4 405.1,1644.3 C405.6,1644.1 406.1,1644.0 406.7,1643.8 C407.2,1643.7 407.8,1643.5 408.3,1643.4 C408.9,1643.3 409.5,1643.2 410.0,1643.1 C410.6,1643.0 411.2,1642.9 411.7,1642.8 C412.3,1642.7 412.9,1642.6 413.5,1642.5 C414.1,1642.4 414.7,1642.4 415.3,1642.3 C415.9,1642.2 416.5,1642.2 417.1,1642.1 C417.7,1642.1 418.3,1642.0 418.9,1642.0 C419.5,1642.0 420.1,1641.9 420.7,1641.9 C421.3,1641.9 421.9,1641.9 422.5,1641.9 C423.1,1641.9 423.8,1641.9 424.4,1641.9 C425.0,1641.9 425.6,1642.0 426.2,1642.0 C426.8,1642.0 427.4,1642.1 428.0,1642.1 C428.6,1642.2 429.2,1642.2 429.8,1642.3 C430.4,1642.4 431.0,1642.4 431.6,1642.5 C432.2,1642.6 432.8,1642.7 433.3,1642.8 C433.9,1642.9 434.5,1643.0 435.1,1643.1 C435.6,1643.2 436.2,1643.3 436.7,1643.4 C437.3,1643.5 437.9,1643.7 438.4,1643.8 C438.9,1644.0 439.5,1644.1 440.0,1644.3 C440.5,1644.4 441.1,1644.6 441.6,1644.7 C442.1,1644.9 442.6,1645.1 443.1,1645.3 C443.6,1645.4 444.0,1645.6 444.5,1645.8 C445.0,1646.0 445.5,1646.2 445.9,1646.4 C446.4,1646.6 446.8,1646.8 447.2,1647.0 C447.7,1647.3 448.1,1647.5 448.5,1647.7 C448.9,1647.9 449.3,1648.2 449.7,1648.4 C450.1,1648.7 450.4,1648.9 450.8,1649.1 C451.2,1649.4 451.5,1649.6 451.8,1649.9 C452.2,1650.2 452.5,1650.4 452.8,1650.7 C453.1,1651.0 453.4,1651.2 453.7,1651.5 C453.9,1651.8 454.2,1652.0 454.4,1652.3 C454.7,1652.6 454.9,1652.9 455.1,1653.2 C455.4,1653.5 455.6,1653.8 455.8,1654.0 C455.9,1654.3 456.1,1654.6 456.3,1654.9 C456.4,1655.2 456.6,1655.5 456.7,1655.8 C456.8,1656.1 456.9,1656.4 457.0,1656.7 C457.1,1657.0 457.2,1657.3 457.3,1657.6 C457.3,1657.9 457.4,1658.2 457.4,1658.6 C457.5,1658.9 457.5,1659.2 457.5,1659.5Z" fill="#f8c89e" opacity="0.55"/>
<path d="M535.5,1657.7 C536.0,1658.0 536.4,1658.4 536.9,1658.8 C537.3,1659.1 537.7,1659.5 538.1,1660.0 C538.5,1660.4 538.9,1660.8 539.2,1661.2 C539.5,1661.7 539.7,1662.1 540.0,1662.6 C540.2,1663.0 540.4,1663.5 540.5,1663.9 C540.6,1664.4 540.8,1664.9 540.7,1665.3 C540.6,1665.7 540.4,1666.1 540.2,1666.6 C539.9,1667.0 539.7,1667.4 539.4,1667.8 C539.1,1668.2 538.8,1668.5 538.5,1668.9 C538.2,1669.3 537.9,1669.7 537.5,1670.1 C537.2,1670.5 536.9,1670.8 536.5,1671.2 C536.1,1671.5 535.7,1671.9 535.3,1672.3 C534.9,1672.6 534.5,1673.0 534.1,1673.3 C533.7,1673.6 533.2,1674.0 532.8,1674.3 C532.3,1674.6 531.9,1674.9 531.4,1675.2 C530.9,1675.5 530.4,1675.8 529.9,1676.1 C529.4,1676.4 528.9,1676.7 528.4,1677.0 C527.9,1677.2 527.3,1677.5 526.8,1677.8 C526.2,1678.0 525.7,1678.3 525.1,1678.5 C524.6,1678.7 524.0,1679.0 523.4,1679.2 C522.8,1679.4 522.2,1679.6 521.6,1679.8 C521.0,1680.0 520.4,1680.2 519.8,1680.4 C519.2,1680.5 518.5,1680.7 517.9,1680.8 C517.3,1681.0 516.7,1681.1 516.0,1681.3 C515.4,1681.4 514.7,1681.5 514.1,1681.7 C513.4,1681.8 512.8,1681.9 512.1,1682.0 C511.4,1682.0 510.8,1682.1 510.1,1682.2 C509.4,1682.3 508.8,1682.3 508.1,1682.4 C507.4,1682.4 506.8,1682.4 506.1,1682.5 C505.4,1682.5 504.7,1682.5 504.1,1682.5 C503.4,1682.5 502.7,1682.5 502.0,1682.5 C501.4,1682.4 500.7,1682.4 500.0,1682.4 C499.4,1682.3 498.7,1682.3 498.0,1682.2 C497.3,1682.1 496.7,1682.0 496.0,1682.0 C495.4,1681.9 494.7,1681.8 494.1,1681.7 C493.4,1681.5 492.8,1681.4 492.1,1681.3 C491.5,1681.1 490.8,1681.0 490.2,1680.8 C489.6,1680.7 489.0,1680.5 488.3,1680.4 C487.7,1680.2 487.1,1680.0 486.5,1679.8 C485.9,1679.6 485.3,1679.4 484.7,1679.2 C484.1,1679.0 483.6,1678.7 483.0,1678.5 C482.4,1678.3 481.9,1678.0 481.3,1677.8 C480.8,1677.5 480.3,1677.2 479.7,1677.0 C479.2,1676.7 478.7,1676.4 478.2,1676.1 C477.7,1675.8 477.2,1675.5 476.7,1675.2 C476.2,1674.9 475.8,1674.6 475.3,1674.3 C474.9,1674.0 474.4,1673.6 474.0,1673.3 C473.6,1673.0 473.2,1672.6 472.8,1672.3 C472.4,1671.9 472.0,1671.5 471.6,1671.2 C471.3,1670.8 470.9,1670.5 470.6,1670.1 C470.2,1669.7 469.9,1669.3 469.6,1668.9 C469.3,1668.5 469.0,1668.2 468.7,1667.8 C468.5,1667.4 468.2,1667.0 468.0,1666.6 C467.7,1666.2 467.5,1665.7 467.3,1665.3 C467.1,1664.9 466.9,1664.5 466.7,1664.1 C466.5,1663.7 466.4,1663.2 466.2,1662.8 C466.1,1662.4 466.0,1662.0 465.9,1661.5 C465.8,1661.1 465.7,1660.7 465.6,1660.2 C465.5,1659.8 465.5,1659.4 465.5,1659.0 C465.4,1658.5 465.4,1658.1 465.4,1657.7 C465.4,1657.2 465.4,1656.8 465.5,1656.3 C465.5,1655.9 465.5,1655.5 465.6,1655.1 C465.7,1654.6 465.8,1654.2 465.9,1653.8 C466.0,1653.3 466.1,1652.9 466.2,1652.5 C466.4,1652.1 466.5,1651.6 466.7,1651.2 C466.9,1650.8 467.1,1650.4 467.3,1650.0 C467.5,1649.6 467.7,1649.1 468.0,1648.7 C468.2,1648.3 468.5,1647.9 468.7,1647.5 C469.0,1647.1 469.3,1646.8 469.6,1646.4 C469.9,1646.0 470.2,1645.6 470.6,1645.2 C470.9,1644.8 471.3,1644.5 471.6,1644.1 C472.0,1643.8 472.4,1643.4 472.8,1643.0 C473.2,1642.7 473.6,1642.3 474.0,1642.0 C474.4,1641.7 474.9,1641.3 475.3,1641.0 C475.8,1640.7 476.2,1640.4 476.7,1640.1 C477.2,1639.8 477.7,1639.5 478.2,1639.2 C478.7,1638.9 479.2,1638.6 479.7,1638.3 C480.3,1638.1 480.8,1637.8 481.3,1637.5 C481.9,1637.3 482.4,1637.0 483.0,1636.8 C483.6,1636.6 484.1,1636.3 484.7,1636.1 C485.3,1635.9 485.9,1635.7 486.5,1635.5 C487.1,1635.3 487.7,1635.1 488.3,1634.9 C489.0,1634.8 489.6,1634.6 490.2,1634.5 C490.8,1634.3 491.5,1634.2 492.1,1634.0 C492.8,1633.9 493.4,1633.8 494.1,1633.6 C494.7,1633.5 495.4,1633.4 496.0,1633.3 C496.7,1633.3 497.3,1633.2 498.0,1633.1 C498.7,1633.0 499.4,1633.0 500.0,1632.9 C500.7,1632.9 501.4,1632.9 502.0,1632.8 C502.7,1632.8 503.4,1632.8 504.1,1632.8 C504.7,1632.8 505.4,1632.8 506.1,1632.8 C506.8,1632.9 507.4,1632.9 508.1,1632.9 C508.8,1633.0 509.4,1633.0 510.1,1633.1 C510.8,1633.2 511.4,1633.3 512.1,1633.3 C512.8,1633.4 513.4,1633.5 514.1,1633.6 C514.7,1633.8 515.4,1633.9 516.0,1634.0 C516.7,1634.2 517.3,1634.3 517.9,1634.5 C518.5,1634.6 519.2,1634.8 519.8,1634.9 C520.4,1635.1 521.0,1635.3 521.6,1635.5 C522.2,1635.7 522.8,1635.9 523.4,1636.1 C523.9,1636.4 524.5,1636.7 524.9,1637.0 C525.3,1637.4 525.7,1637.8 526.0,1638.2 C526.4,1638.6 526.6,1639.1 526.9,1639.5 C527.1,1640.0 527.4,1640.4 527.5,1640.9 C527.7,1641.4 527.8,1641.8 527.9,1642.3 C528.0,1642.8 528.1,1643.3 528.1,1643.7 C528.1,1644.2 528.1,1644.7 528.0,1645.2 C528.0,1645.6 527.9,1646.1 527.8,1646.6 C527.6,1647.0 527.5,1647.5 527.3,1648.0 C527.1,1648.4 526.9,1648.9 526.6,1649.3 C526.3,1649.7 526.0,1650.2 525.7,1650.6 C525.4,1651.0 525.0,1651.4 524.6,1651.8 C524.2,1652.2 523.4,1652.6 523.4,1652.9 C523.3,1653.2 523.9,1653.3 524.4,1653.4 C524.9,1653.6 525.8,1653.6 526.4,1653.8 C527.1,1653.9 527.8,1654.1 528.4,1654.3 C529.1,1654.5 529.7,1654.7 530.4,1655.0 C531.0,1655.2 531.6,1655.5 532.2,1655.7 C532.8,1656.0 533.4,1656.3 533.9,1656.6 C534.5,1657.0 535.0,1657.3 535.5,1657.7Z" fill="#ebbdbd"/>
<path d="M530.4,1654.7 C530.8,1654.9 531.2,1655.2 531.6,1655.5 C531.9,1655.7 532.3,1656.0 532.6,1656.3 C532.9,1656.6 533.2,1656.9 533.4,1657.2 C533.7,1657.6 533.9,1657.9 534.1,1658.2 C534.3,1658.5 534.4,1658.9 534.5,1659.2 C534.6,1659.5 534.7,1659.9 534.7,1660.2 C534.6,1660.5 534.4,1660.8 534.2,1661.1 C534.1,1661.4 533.8,1661.7 533.6,1661.9 C533.4,1662.2 533.1,1662.5 532.9,1662.8 C532.6,1663.1 532.4,1663.3 532.1,1663.6 C531.8,1663.9 531.5,1664.2 531.2,1664.4 C530.9,1664.7 530.6,1664.9 530.3,1665.2 C530.0,1665.4 529.6,1665.7 529.3,1665.9 C528.9,1666.2 528.6,1666.4 528.2,1666.6 C527.8,1666.9 527.4,1667.1 527.1,1667.3 C526.7,1667.5 526.3,1667.8 525.8,1668.0 C525.4,1668.2 525.0,1668.4 524.6,1668.6 C524.2,1668.8 523.7,1669.0 523.3,1669.1 C522.8,1669.3 522.4,1669.5 521.9,1669.7 C521.4,1669.8 521.0,1670.0 520.5,1670.2 C520.0,1670.3 519.5,1670.5 519.0,1670.6 C518.5,1670.8 518.0,1670.9 517.5,1671.0 C517.0,1671.1 516.5,1671.3 516.0,1671.4 C515.5,1671.5 515.0,1671.6 514.4,1671.7 C513.9,1671.8 513.4,1671.9 512.8,1672.0 C512.3,1672.0 511.8,1672.1 511.2,1672.2 C510.7,1672.2 510.1,1672.3 509.6,1672.3 C509.0,1672.4 508.5,1672.4 507.9,1672.5 C507.4,1672.5 506.8,1672.5 506.3,1672.5 C505.7,1672.6 505.2,1672.6 504.6,1672.6 C504.1,1672.6 503.5,1672.6 503.0,1672.5 C502.4,1672.5 501.9,1672.5 501.3,1672.5 C500.8,1672.4 500.2,1672.4 499.7,1672.3 C499.1,1672.3 498.6,1672.2 498.0,1672.2 C497.5,1672.1 497.0,1672.0 496.4,1672.0 C495.9,1671.9 495.4,1671.8 494.8,1671.7 C494.3,1671.6 493.8,1671.5 493.3,1671.4 C492.8,1671.3 492.2,1671.1 491.7,1671.0 C491.2,1670.9 490.7,1670.8 490.2,1670.6 C489.7,1670.5 489.3,1670.3 488.8,1670.2 C488.3,1670.0 487.8,1669.8 487.4,1669.7 C486.9,1669.5 486.4,1669.3 486.0,1669.1 C485.6,1669.0 485.1,1668.8 484.7,1668.6 C484.3,1668.4 483.8,1668.2 483.4,1668.0 C483.0,1667.8 482.6,1667.5 482.2,1667.3 C481.8,1667.1 481.4,1666.9 481.1,1666.6 C480.7,1666.4 480.3,1666.2 480.0,1665.9 C479.6,1665.7 479.3,1665.4 479.0,1665.2 C478.7,1664.9 478.3,1664.7 478.0,1664.4 C477.7,1664.2 477.5,1663.9 477.2,1663.6 C476.9,1663.3 476.6,1663.1 476.4,1662.8 C476.1,1662.5 475.9,1662.2 475.7,1661.9 C475.4,1661.7 475.2,1661.4 475.0,1661.1 C474.8,1660.8 474.7,1660.5 474.5,1660.2 C474.3,1659.9 474.2,1659.6 474.0,1659.3 C473.9,1659.0 473.7,1658.7 473.6,1658.4 C473.5,1658.1 473.4,1657.8 473.3,1657.5 C473.2,1657.2 473.2,1656.8 473.1,1656.5 C473.0,1656.2 473.0,1655.9 473.0,1655.6 C472.9,1655.3 472.9,1655.0 472.9,1654.7 C472.9,1654.4 472.9,1654.0 473.0,1653.7 C473.0,1653.4 473.0,1653.1 473.1,1652.8 C473.2,1652.5 473.2,1652.2 473.3,1651.9 C473.4,1651.6 473.5,1651.3 473.6,1650.9 C473.7,1650.6 473.9,1650.3 474.0,1650.0 C474.2,1649.7 474.3,1649.4 474.5,1649.1 C474.7,1648.8 474.8,1648.5 475.0,1648.3 C475.2,1648.0 475.4,1647.7 475.7,1647.4 C475.9,1647.1 476.1,1646.8 476.4,1646.5 C476.6,1646.3 476.9,1646.0 477.2,1645.7 C477.5,1645.5 477.7,1645.2 478.0,1644.9 C478.3,1644.7 478.7,1644.4 479.0,1644.2 C479.3,1643.9 479.6,1643.7 480.0,1643.4 C480.3,1643.2 480.7,1642.9 481.1,1642.7 C481.4,1642.5 481.8,1642.2 482.2,1642.0 C482.6,1641.8 483.0,1641.6 483.4,1641.4 C483.8,1641.2 484.3,1641.0 484.7,1640.8 C485.1,1640.6 485.6,1640.4 486.0,1640.2 C486.4,1640.0 486.9,1639.8 487.4,1639.7 C487.8,1639.5 488.3,1639.3 488.8,1639.2 C489.3,1639.0 489.7,1638.9 490.2,1638.7 C490.7,1638.6 491.2,1638.4 491.7,1638.3 C492.2,1638.2 492.8,1638.1 493.3,1638.0 C493.8,1637.9 494.3,1637.7 494.8,1637.7 C495.4,1637.6 495.9,1637.5 496.4,1637.4 C497.0,1637.3 497.5,1637.2 498.0,1637.2 C498.6,1637.1 499.1,1637.0 499.7,1637.0 C500.2,1636.9 500.8,1636.9 501.3,1636.9 C501.9,1636.8 502.4,1636.8 503.0,1636.8 C503.5,1636.8 504.1,1636.8 504.6,1636.8 C505.2,1636.8 505.7,1636.8 506.3,1636.8 C506.8,1636.8 507.4,1636.8 507.9,1636.9 C508.5,1636.9 509.0,1636.9 509.6,1637.0 C510.1,1637.0 510.7,1637.1 511.2,1637.2 C511.8,1637.2 512.3,1637.3 512.8,1637.4 C513.4,1637.5 513.9,1637.6 514.4,1637.7 C515.0,1637.7 515.5,1637.9 516.0,1638.0 C516.5,1638.1 517.0,1638.2 517.5,1638.3 C518.0,1638.4 518.5,1638.6 519.0,1638.7 C519.5,1638.9 520.0,1639.0 520.5,1639.2 C520.9,1639.4 521.4,1639.6 521.7,1639.8 C522.1,1640.1 522.4,1640.4 522.6,1640.7 C522.9,1641.0 523.2,1641.3 523.4,1641.6 C523.6,1641.9 523.7,1642.3 523.9,1642.6 C524.0,1642.9 524.1,1643.3 524.2,1643.6 C524.3,1644.0 524.3,1644.3 524.3,1644.7 C524.4,1645.0 524.3,1645.3 524.3,1645.7 C524.3,1646.0 524.2,1646.4 524.1,1646.7 C524.0,1647.0 523.8,1647.4 523.7,1647.7 C523.5,1648.0 523.3,1648.3 523.1,1648.6 C522.9,1649.0 522.6,1649.3 522.4,1649.6 C522.1,1649.9 521.8,1650.2 521.5,1650.4 C521.2,1650.7 520.5,1651.0 520.5,1651.2 C520.4,1651.4 520.9,1651.5 521.3,1651.6 C521.7,1651.7 522.4,1651.8 523.0,1651.9 C523.5,1652.0 524.1,1652.1 524.6,1652.3 C525.2,1652.4 525.7,1652.6 526.2,1652.7 C526.7,1652.9 527.2,1653.1 527.7,1653.3 C528.2,1653.5 528.7,1653.7 529.1,1653.9 C529.6,1654.2 530.0,1654.4 530.4,1654.7Z" fill="#f2cfcf" opacity="0.55"/>
<path d="M365.4,1703.8 C365.4,1723.7 435.4,1726.0 435.4,1705.5 C435.4,1689.7 421.4,1688.3 410.2,1691.6 C403.2,1695.6 392.0,1695.6 385.0,1691.6 C376.6,1687.3 365.4,1691.6 365.4,1703.8Z" fill="#a8c8b4"/>
<path d="M373.8,1706.2 C373.8,1722.0 429.8,1723.8 429.8,1707.5 C429.8,1694.8 418.6,1693.8 409.6,1696.4 C404.0,1699.6 395.1,1699.6 389.5,1696.4 C382.8,1693.0 373.8,1696.4 373.8,1706.2Z" fill="#c4dacb" opacity="0.55"/>
<path d="M490.3,1696.9 C492.3,1677.8 562.2,1682.9 560.1,1702.7 C558.5,1717.9 544.4,1717.7 533.6,1713.4 C527.1,1708.8 515.9,1707.7 508.6,1710.8 C499.8,1714.0 489.1,1708.7 490.3,1696.9Z" fill="#a8c8b4"/>
<path d="M498.9,1695.6 C500.5,1680.3 556.4,1684.4 554.7,1700.2 C553.5,1712.4 542.2,1712.2 533.6,1708.7 C528.3,1705.1 519.4,1704.2 513.5,1706.6 C506.5,1709.2 497.9,1705.0 498.9,1695.6Z" fill="#c4dacb" opacity="0.55"/>
<path d="M463.7,1745.4 C463.7,1745.8 463.7,1746.3 463.6,1746.7 C463.6,1747.1 463.6,1747.5 463.5,1748.0 C463.4,1748.4 463.3,1748.8 463.2,1749.2 C463.1,1749.6 463.0,1750.1 462.9,1750.5 C462.7,1750.9 462.6,1751.3 462.4,1751.7 C462.2,1752.1 462.0,1752.5 461.8,1752.9 C461.6,1753.3 461.4,1753.7 461.1,1754.1 C460.9,1754.5 460.6,1754.9 460.4,1755.3 C460.1,1755.7 459.8,1756.1 459.5,1756.5 C459.2,1756.9 458.8,1757.2 458.5,1757.6 C458.2,1758.0 457.8,1758.3 457.5,1758.7 C457.1,1759.0 456.7,1759.4 456.3,1759.7 C455.9,1760.1 455.5,1760.4 455.1,1760.8 C454.6,1761.1 454.2,1761.4 453.8,1761.7 C453.3,1762.0 452.8,1762.4 452.4,1762.7 C451.9,1763.0 451.4,1763.2 450.9,1763.5 C450.4,1763.8 449.9,1764.1 449.3,1764.4 C448.8,1764.6 448.3,1764.9 447.7,1765.1 C447.2,1765.4 446.6,1765.6 446.1,1765.9 C445.5,1766.1 444.9,1766.3 444.3,1766.5 C443.7,1766.7 443.2,1766.9 442.6,1767.1 C441.9,1767.3 441.3,1767.5 440.7,1767.7 C440.1,1767.9 439.5,1768.0 438.8,1768.2 C438.2,1768.3 437.6,1768.5 436.9,1768.6 C436.3,1768.7 435.6,1768.9 435.0,1769.0 C434.3,1769.1 433.7,1769.2 433.0,1769.3 C432.4,1769.4 431.7,1769.4 431.0,1769.5 C430.4,1769.6 429.7,1769.6 429.0,1769.7 C428.3,1769.7 427.7,1769.7 427.0,1769.8 C426.3,1769.8 425.6,1769.8 425.0,1769.8 C424.3,1769.8 423.6,1769.8 422.9,1769.8 C422.3,1769.7 421.6,1769.7 420.9,1769.7 C420.2,1769.6 419.6,1769.6 418.9,1769.5 C418.2,1769.4 417.6,1769.4 416.9,1769.3 C416.3,1769.2 415.6,1769.1 414.9,1769.0 C414.3,1768.9 413.6,1768.7 413.0,1768.6 C412.4,1768.5 411.7,1768.3 411.1,1768.2 C410.5,1768.0 409.8,1767.9 409.2,1767.7 C408.6,1767.5 408.0,1767.3 407.4,1767.1 C406.8,1766.9 406.2,1766.7 405.6,1766.5 C405.0,1766.3 404.4,1766.1 403.9,1765.9 C403.3,1765.6 402.7,1765.4 402.2,1765.1 C401.7,1764.9 401.1,1764.6 400.6,1764.4 C400.1,1764.1 399.5,1763.8 399.0,1763.5 C398.5,1763.2 398.1,1763.0 397.6,1762.7 C397.1,1762.4 396.6,1762.0 396.2,1761.7 C395.7,1761.4 395.3,1761.1 394.9,1760.8 C394.4,1760.4 394.0,1760.1 393.6,1759.7 C393.2,1759.4 392.8,1759.0 392.5,1758.7 C392.1,1758.3 391.8,1758.0 391.4,1757.6 C391.1,1757.2 390.8,1756.9 390.5,1756.5 C390.1,1756.1 389.9,1755.7 389.6,1755.3 C389.3,1754.9 389.0,1754.5 388.8,1754.1 C388.6,1753.7 388.3,1753.3 388.1,1752.9 C387.9,1752.5 387.7,1752.1 387.6,1751.7 C387.4,1751.3 387.2,1750.9 387.1,1750.5 C386.9,1750.1 386.8,1749.6 386.7,1749.2 C386.6,1748.8 386.6,1748.4 386.7,1747.9 C386.8,1747.5 387.1,1747.1 387.4,1746.6 C387.7,1746.2 388.0,1745.8 388.4,1745.4 C388.8,1745.0 389.2,1744.6 389.6,1744.2 C390.1,1743.9 390.6,1743.5 391.1,1743.2 C391.6,1742.8 392.1,1742.5 392.7,1742.2 C393.3,1741.9 393.8,1741.6 394.4,1741.3 C395.1,1741.0 395.7,1740.8 396.3,1740.6 C397.0,1740.3 397.6,1740.1 398.3,1739.9 C399.0,1739.8 399.6,1739.6 400.3,1739.4 C401.0,1739.3 401.7,1739.2 402.4,1739.1 C403.1,1739.0 403.9,1738.9 404.6,1738.9 C405.3,1738.8 406.3,1738.9 406.7,1738.8 C407.2,1738.6 407.3,1738.5 407.3,1738.2 C407.3,1737.9 406.7,1737.4 406.5,1736.9 C406.2,1736.5 406.0,1736.1 405.8,1735.6 C405.6,1735.2 405.5,1734.7 405.4,1734.3 C405.3,1733.8 405.2,1733.4 405.1,1732.9 C405.1,1732.5 405.1,1732.0 405.1,1731.5 C405.2,1731.1 405.2,1730.6 405.3,1730.1 C405.4,1729.7 405.6,1729.2 405.8,1728.8 C405.9,1728.3 406.2,1727.8 406.4,1727.4 C406.7,1727.0 407.0,1726.5 407.3,1726.1 C407.6,1725.7 408.0,1725.3 408.4,1724.9 C408.8,1724.5 409.2,1724.1 409.7,1723.8 C410.1,1723.4 410.6,1723.0 411.2,1722.8 C411.7,1722.5 412.4,1722.4 413.0,1722.2 C413.6,1722.0 414.3,1721.9 414.9,1721.8 C415.6,1721.7 416.3,1721.6 416.9,1721.5 C417.6,1721.4 418.2,1721.4 418.9,1721.3 C419.6,1721.2 420.2,1721.2 420.9,1721.1 C421.6,1721.1 422.3,1721.1 422.9,1721.0 C423.6,1721.0 424.3,1721.0 425.0,1721.0 C425.6,1721.0 426.3,1721.0 427.0,1721.0 C427.7,1721.1 428.3,1721.1 429.0,1721.1 C429.7,1721.2 430.4,1721.2 431.0,1721.3 C431.7,1721.4 432.4,1721.4 433.0,1721.5 C433.7,1721.6 434.3,1721.7 435.0,1721.8 C435.6,1721.9 436.3,1722.1 436.9,1722.2 C437.6,1722.3 438.2,1722.5 438.8,1722.6 C439.5,1722.8 440.1,1722.9 440.7,1723.1 C441.3,1723.3 441.9,1723.5 442.6,1723.7 C443.2,1723.9 443.7,1724.1 444.3,1724.3 C444.9,1724.5 445.5,1724.7 446.1,1724.9 C446.6,1725.2 447.2,1725.4 447.7,1725.7 C448.3,1725.9 448.8,1726.2 449.3,1726.4 C449.9,1726.7 450.4,1727.0 450.9,1727.3 C451.4,1727.6 451.9,1727.8 452.4,1728.1 C452.8,1728.4 453.3,1728.8 453.8,1729.1 C454.2,1729.4 454.6,1729.7 455.1,1730.0 C455.5,1730.4 455.9,1730.7 456.3,1731.1 C456.7,1731.4 457.1,1731.8 457.5,1732.1 C457.8,1732.5 458.2,1732.8 458.5,1733.2 C458.8,1733.6 459.2,1733.9 459.5,1734.3 C459.8,1734.7 460.1,1735.1 460.4,1735.5 C460.6,1735.9 460.9,1736.3 461.1,1736.7 C461.4,1737.1 461.6,1737.5 461.8,1737.9 C462.0,1738.3 462.2,1738.7 462.4,1739.1 C462.6,1739.5 462.7,1739.9 462.9,1740.3 C463.0,1740.7 463.1,1741.2 463.2,1741.6 C463.3,1742.0 463.4,1742.4 463.5,1742.8 C463.6,1743.3 463.6,1743.7 463.6,1744.1 C463.7,1744.5 463.7,1745.0 463.7,1745.4Z" fill="#ebbdbd"/>
<path d="M457.5,1742.5 C457.5,1742.8 457.5,1743.1 457.5,1743.4 C457.5,1743.7 457.4,1744.0 457.4,1744.3 C457.3,1744.6 457.2,1744.9 457.1,1745.2 C457.1,1745.5 457.0,1745.8 456.8,1746.1 C456.7,1746.4 456.6,1746.7 456.5,1747.0 C456.3,1747.3 456.2,1747.6 456.0,1747.9 C455.8,1748.2 455.6,1748.5 455.4,1748.8 C455.2,1749.1 455.0,1749.3 454.8,1749.6 C454.6,1749.9 454.3,1750.2 454.1,1750.4 C453.8,1750.7 453.6,1751.0 453.3,1751.3 C453.0,1751.5 452.7,1751.8 452.4,1752.0 C452.1,1752.3 451.8,1752.6 451.5,1752.8 C451.1,1753.0 450.8,1753.3 450.5,1753.5 C450.1,1753.8 449.8,1754.0 449.4,1754.2 C449.0,1754.5 448.6,1754.7 448.2,1754.9 C447.8,1755.1 447.4,1755.3 447.0,1755.5 C446.6,1755.7 446.2,1755.9 445.8,1756.1 C445.3,1756.3 444.9,1756.5 444.4,1756.7 C444.0,1756.9 443.5,1757.0 443.1,1757.2 C442.6,1757.4 442.1,1757.5 441.7,1757.7 C441.2,1757.8 440.7,1758.0 440.2,1758.1 C439.7,1758.3 439.2,1758.4 438.7,1758.5 C438.2,1758.6 437.7,1758.8 437.2,1758.9 C436.6,1759.0 436.1,1759.1 435.6,1759.2 C435.1,1759.3 434.5,1759.4 434.0,1759.4 C433.5,1759.5 432.9,1759.6 432.4,1759.7 C431.8,1759.7 431.3,1759.8 430.7,1759.8 C430.2,1759.9 429.6,1759.9 429.1,1759.9 C428.5,1760.0 428.0,1760.0 427.4,1760.0 C426.9,1760.0 426.3,1760.0 425.8,1760.0 C425.2,1760.0 424.7,1760.0 424.1,1760.0 C423.6,1760.0 423.0,1760.0 422.5,1759.9 C421.9,1759.9 421.4,1759.9 420.8,1759.8 C420.3,1759.8 419.7,1759.7 419.2,1759.7 C418.6,1759.6 418.1,1759.5 417.6,1759.4 C417.0,1759.4 416.5,1759.3 416.0,1759.2 C415.4,1759.1 414.9,1759.0 414.4,1758.9 C413.9,1758.8 413.4,1758.6 412.9,1758.5 C412.4,1758.4 411.9,1758.3 411.4,1758.1 C410.9,1758.0 410.4,1757.8 409.9,1757.7 C409.4,1757.5 408.9,1757.4 408.5,1757.2 C408.0,1757.0 407.6,1756.9 407.1,1756.7 C406.7,1756.5 406.2,1756.3 405.8,1756.1 C405.4,1755.9 404.9,1755.7 404.5,1755.5 C404.1,1755.3 403.7,1755.1 403.3,1754.9 C402.9,1754.7 402.5,1754.5 402.2,1754.2 C401.8,1754.0 401.4,1753.8 401.1,1753.5 C400.7,1753.3 400.4,1753.0 400.1,1752.8 C399.8,1752.6 399.4,1752.3 399.1,1752.0 C398.8,1751.8 398.5,1751.5 398.3,1751.3 C398.0,1751.0 397.7,1750.7 397.5,1750.4 C397.2,1750.2 397.0,1749.9 396.8,1749.6 C396.5,1749.3 396.3,1749.1 396.1,1748.8 C395.9,1748.5 395.7,1748.2 395.6,1747.9 C395.4,1747.6 395.2,1747.3 395.1,1747.0 C395.0,1746.7 394.8,1746.4 394.7,1746.1 C394.6,1745.8 394.5,1745.5 394.4,1745.2 C394.4,1744.9 394.3,1744.6 394.4,1744.3 C394.5,1744.0 394.7,1743.7 395.0,1743.4 C395.2,1743.1 395.5,1742.8 395.8,1742.5 C396.1,1742.2 396.4,1741.9 396.8,1741.6 C397.2,1741.4 397.6,1741.1 398.0,1740.9 C398.4,1740.6 398.9,1740.4 399.3,1740.2 C399.8,1739.9 400.3,1739.7 400.8,1739.5 C401.2,1739.3 401.8,1739.2 402.3,1739.0 C402.8,1738.8 403.4,1738.7 403.9,1738.5 C404.5,1738.4 405.0,1738.3 405.6,1738.2 C406.1,1738.1 406.7,1738.0 407.3,1737.9 C407.9,1737.9 408.5,1737.8 409.1,1737.8 C409.6,1737.7 410.4,1737.8 410.8,1737.7 C411.2,1737.6 411.3,1737.5 411.3,1737.3 C411.3,1737.1 410.8,1736.7 410.6,1736.4 C410.4,1736.1 410.2,1735.8 410.1,1735.4 C409.9,1735.1 409.8,1734.8 409.7,1734.5 C409.6,1734.1 409.6,1733.8 409.5,1733.5 C409.5,1733.2 409.5,1732.8 409.5,1732.5 C409.5,1732.1 409.6,1731.8 409.7,1731.5 C409.8,1731.1 409.9,1730.8 410.0,1730.5 C410.2,1730.2 410.4,1729.8 410.6,1729.5 C410.8,1729.2 411.0,1728.9 411.3,1728.6 C411.5,1728.3 411.8,1728.0 412.2,1727.7 C412.5,1727.4 412.8,1727.1 413.2,1726.9 C413.6,1726.6 414.0,1726.4 414.5,1726.2 C414.9,1726.0 415.4,1725.9 416.0,1725.8 C416.5,1725.7 417.0,1725.6 417.6,1725.5 C418.1,1725.4 418.6,1725.4 419.2,1725.3 C419.7,1725.2 420.3,1725.2 420.8,1725.1 C421.4,1725.1 421.9,1725.0 422.5,1725.0 C423.0,1725.0 423.6,1724.9 424.1,1724.9 C424.7,1724.9 425.2,1724.9 425.8,1724.9 C426.3,1724.9 426.9,1724.9 427.4,1724.9 C428.0,1724.9 428.5,1725.0 429.1,1725.0 C429.6,1725.0 430.2,1725.1 430.7,1725.1 C431.3,1725.2 431.8,1725.2 432.4,1725.3 C432.9,1725.4 433.5,1725.4 434.0,1725.5 C434.5,1725.6 435.1,1725.7 435.6,1725.8 C436.1,1725.9 436.6,1726.0 437.2,1726.1 C437.7,1726.2 438.2,1726.3 438.7,1726.4 C439.2,1726.5 439.7,1726.7 440.2,1726.8 C440.7,1727.0 441.2,1727.1 441.7,1727.3 C442.1,1727.4 442.6,1727.6 443.1,1727.7 C443.5,1727.9 444.0,1728.1 444.4,1728.3 C444.9,1728.4 445.3,1728.6 445.8,1728.8 C446.2,1729.0 446.6,1729.2 447.0,1729.4 C447.4,1729.6 447.8,1729.8 448.2,1730.0 C448.6,1730.3 449.0,1730.5 449.4,1730.7 C449.8,1730.9 450.1,1731.2 450.5,1731.4 C450.8,1731.7 451.1,1731.9 451.5,1732.1 C451.8,1732.4 452.1,1732.6 452.4,1732.9 C452.7,1733.2 453.0,1733.4 453.3,1733.7 C453.6,1734.0 453.8,1734.2 454.1,1734.5 C454.3,1734.8 454.6,1735.0 454.8,1735.3 C455.0,1735.6 455.2,1735.9 455.4,1736.2 C455.6,1736.5 455.8,1736.8 456.0,1737.0 C456.2,1737.3 456.3,1737.6 456.5,1737.9 C456.6,1738.2 456.7,1738.5 456.8,1738.8 C457.0,1739.1 457.1,1739.4 457.1,1739.7 C457.2,1740.0 457.3,1740.3 457.4,1740.6 C457.4,1740.9 457.5,1741.2 457.5,1741.6 C457.5,1741.9 457.5,1742.2 457.5,1742.5Z" fill="#f2cfcf" opacity="0.55"/>
<path d="M537.8,1742.8 C537.3,1743.2 536.7,1743.6 536.1,1743.9 C535.5,1744.2 534.9,1744.6 534.3,1744.8 C533.7,1745.1 533.0,1745.4 532.4,1745.7 C531.7,1745.9 531.0,1746.1 530.3,1746.4 C529.7,1746.6 528.9,1746.7 528.2,1746.9 C527.5,1747.1 526.6,1747.2 526.1,1747.3 C525.5,1747.5 524.9,1747.6 525.0,1747.9 C525.0,1748.2 525.9,1748.6 526.3,1749.0 C526.7,1749.4 527.1,1749.9 527.4,1750.3 C527.8,1750.7 528.1,1751.2 528.4,1751.6 C528.7,1752.1 528.9,1752.6 529.1,1753.0 C529.3,1753.5 529.5,1754.0 529.6,1754.5 C529.8,1755.0 529.9,1755.5 529.9,1756.0 C530.0,1756.5 530.0,1757.0 530.0,1757.5 C530.0,1758.0 529.9,1758.5 529.8,1759.0 C529.7,1759.5 529.6,1760.0 529.4,1760.5 C529.2,1761.0 529.0,1761.5 528.7,1761.9 C528.4,1762.4 528.1,1762.9 527.8,1763.3 C527.4,1763.7 527.1,1764.2 526.6,1764.6 C526.1,1764.9 525.6,1765.2 525.0,1765.5 C524.4,1765.8 523.8,1765.9 523.1,1766.1 C522.5,1766.4 521.8,1766.6 521.2,1766.7 C520.5,1766.9 519.9,1767.1 519.2,1767.3 C518.6,1767.4 517.9,1767.6 517.2,1767.7 C516.5,1767.9 515.8,1768.0 515.1,1768.1 C514.5,1768.2 513.8,1768.3 513.1,1768.4 C512.4,1768.5 511.7,1768.6 511.0,1768.7 C510.3,1768.7 509.6,1768.8 508.8,1768.9 C508.1,1768.9 507.4,1768.9 506.7,1769.0 C506.0,1769.0 505.3,1769.0 504.6,1769.0 C503.9,1769.0 503.1,1769.0 502.4,1769.0 C501.7,1768.9 501.0,1768.9 500.3,1768.9 C499.6,1768.8 498.9,1768.7 498.2,1768.7 C497.5,1768.6 496.8,1768.5 496.1,1768.4 C495.4,1768.3 494.7,1768.2 494.0,1768.1 C493.3,1768.0 492.6,1767.9 491.9,1767.7 C491.3,1767.6 490.6,1767.4 489.9,1767.3 C489.3,1767.1 488.6,1766.9 487.9,1766.7 C487.3,1766.6 486.7,1766.4 486.0,1766.1 C485.4,1765.9 484.8,1765.7 484.1,1765.5 C483.5,1765.3 482.9,1765.0 482.3,1764.8 C481.7,1764.5 481.1,1764.3 480.5,1764.0 C480.0,1763.7 479.4,1763.5 478.8,1763.2 C478.3,1762.9 477.8,1762.6 477.2,1762.3 C476.7,1762.0 476.2,1761.7 475.7,1761.3 C475.2,1761.0 474.7,1760.7 474.2,1760.3 C473.7,1760.0 473.3,1759.7 472.8,1759.3 C472.4,1759.0 471.9,1758.6 471.5,1758.2 C471.1,1757.9 470.7,1757.5 470.3,1757.1 C469.9,1756.7 469.5,1756.3 469.2,1755.9 C468.8,1755.5 468.5,1755.1 468.2,1754.7 C467.8,1754.3 467.5,1753.9 467.2,1753.5 C466.9,1753.1 466.7,1752.6 466.4,1752.2 C466.2,1751.8 465.9,1751.4 465.7,1750.9 C465.5,1750.5 465.3,1750.1 465.1,1749.6 C464.9,1749.2 464.7,1748.7 464.6,1748.3 C464.4,1747.8 464.3,1747.4 464.2,1746.9 C464.1,1746.5 464.0,1746.0 463.9,1745.6 C463.8,1745.1 463.8,1744.7 463.8,1744.2 C463.7,1743.8 463.7,1743.3 463.7,1742.9 C463.7,1742.4 463.7,1741.9 463.8,1741.5 C463.8,1741.0 463.8,1740.6 463.9,1740.1 C464.0,1739.7 464.1,1739.2 464.2,1738.8 C464.3,1738.3 464.4,1737.9 464.6,1737.4 C464.7,1737.0 464.9,1736.5 465.1,1736.1 C465.3,1735.6 465.5,1735.2 465.7,1734.8 C465.9,1734.3 466.2,1733.9 466.4,1733.5 C466.7,1733.1 466.9,1732.6 467.2,1732.2 C467.5,1731.8 467.8,1731.4 468.2,1731.0 C468.5,1730.6 468.8,1730.2 469.2,1729.8 C469.5,1729.4 469.9,1729.0 470.3,1728.6 C470.7,1728.2 471.1,1727.8 471.5,1727.5 C471.9,1727.1 472.4,1726.7 472.8,1726.4 C473.3,1726.0 473.7,1725.7 474.2,1725.4 C474.7,1725.0 475.2,1724.7 475.7,1724.4 C476.2,1724.0 476.7,1723.7 477.2,1723.4 C477.8,1723.1 478.3,1722.8 478.8,1722.5 C479.4,1722.2 480.0,1722.0 480.5,1721.7 C481.1,1721.4 481.7,1721.2 482.3,1720.9 C482.9,1720.7 483.5,1720.4 484.1,1720.2 C484.8,1720.0 485.4,1719.8 486.0,1719.6 C486.7,1719.3 487.3,1719.1 487.9,1719.0 C488.6,1718.8 489.3,1718.6 489.9,1718.4 C490.6,1718.3 491.3,1718.1 491.9,1718.0 C492.6,1717.8 493.3,1717.7 494.0,1717.6 C494.7,1717.5 495.4,1717.4 496.1,1717.3 C496.8,1717.2 497.5,1717.1 498.2,1717.0 C498.9,1717.0 499.6,1716.9 500.3,1716.8 C501.0,1716.8 501.7,1716.8 502.4,1716.7 C503.1,1716.7 503.9,1716.7 504.6,1716.7 C505.3,1716.7 506.0,1716.7 506.7,1716.7 C507.4,1716.8 508.1,1716.8 508.8,1716.8 C509.6,1716.9 510.3,1717.0 511.0,1717.0 C511.7,1717.1 512.4,1717.2 513.1,1717.3 C513.8,1717.4 514.5,1717.5 515.1,1717.6 C515.8,1717.7 516.5,1717.8 517.2,1718.0 C517.9,1718.1 518.6,1718.3 519.2,1718.4 C519.9,1718.6 520.5,1718.8 521.2,1719.0 C521.8,1719.1 522.5,1719.3 523.1,1719.6 C523.8,1719.8 524.4,1720.0 525.0,1720.2 C525.6,1720.4 526.2,1720.7 526.8,1720.9 C527.4,1721.2 528.0,1721.4 528.6,1721.7 C529.2,1722.0 529.7,1722.2 530.3,1722.5 C530.8,1722.8 531.4,1723.1 531.9,1723.4 C532.4,1723.7 533.0,1724.0 533.5,1724.4 C534.0,1724.7 534.5,1725.0 534.9,1725.4 C535.4,1725.7 535.9,1726.0 536.3,1726.4 C536.8,1726.7 537.2,1727.1 537.6,1727.5 C538.1,1727.8 538.5,1728.2 538.8,1728.6 C539.2,1729.0 539.6,1729.4 540.0,1729.8 C540.3,1730.2 540.7,1730.6 541.0,1731.0 C541.3,1731.4 541.6,1731.8 541.9,1732.2 C542.2,1732.6 542.5,1733.0 542.7,1733.5 C543.0,1733.9 543.2,1734.3 543.3,1734.8 C543.4,1735.3 543.2,1735.8 543.1,1736.2 C543.0,1736.7 542.8,1737.2 542.5,1737.7 C542.3,1738.2 542.0,1738.6 541.7,1739.1 C541.3,1739.5 541.0,1740.0 540.6,1740.4 C540.2,1740.9 539.7,1741.3 539.3,1741.7 C538.8,1742.1 538.3,1742.5 537.8,1742.8Z" fill="#f3b480"/>
<path d="M532.4,1739.7 C532.0,1740.0 531.5,1740.2 531.0,1740.5 C530.6,1740.7 530.1,1740.9 529.6,1741.2 C529.1,1741.4 528.5,1741.6 528.0,1741.7 C527.4,1741.9 526.9,1742.1 526.3,1742.2 C525.7,1742.4 525.2,1742.5 524.6,1742.6 C524.0,1742.7 523.2,1742.8 522.8,1742.9 C522.3,1743.0 521.9,1743.1 521.9,1743.3 C522.0,1743.5 522.7,1743.9 523.0,1744.2 C523.3,1744.5 523.6,1744.8 523.9,1745.1 C524.2,1745.4 524.5,1745.7 524.7,1746.0 C524.9,1746.4 525.1,1746.7 525.3,1747.1 C525.5,1747.4 525.6,1747.7 525.7,1748.1 C525.8,1748.5 525.9,1748.8 526.0,1749.2 C526.0,1749.5 526.0,1749.9 526.0,1750.3 C526.0,1750.6 525.9,1751.0 525.9,1751.3 C525.8,1751.7 525.7,1752.1 525.5,1752.4 C525.4,1752.8 525.2,1753.1 525.0,1753.4 C524.8,1753.8 524.5,1754.1 524.2,1754.4 C523.9,1754.8 523.6,1755.1 523.2,1755.3 C522.9,1755.6 522.4,1755.8 521.9,1756.0 C521.5,1756.2 520.9,1756.3 520.4,1756.5 C519.9,1756.6 519.3,1756.8 518.8,1756.9 C518.3,1757.0 517.7,1757.2 517.2,1757.3 C516.6,1757.4 516.1,1757.5 515.5,1757.6 C515.0,1757.7 514.4,1757.8 513.8,1757.9 C513.3,1758.0 512.7,1758.1 512.1,1758.1 C511.6,1758.2 511.0,1758.3 510.4,1758.3 C509.8,1758.4 509.3,1758.4 508.7,1758.4 C508.1,1758.5 507.5,1758.5 506.9,1758.5 C506.3,1758.5 505.8,1758.5 505.2,1758.5 C504.6,1758.5 504.0,1758.5 503.4,1758.5 C502.8,1758.5 502.3,1758.5 501.7,1758.4 C501.1,1758.4 500.5,1758.4 499.9,1758.3 C499.4,1758.3 498.8,1758.2 498.2,1758.1 C497.6,1758.1 497.1,1758.0 496.5,1757.9 C495.9,1757.8 495.4,1757.7 494.8,1757.6 C494.3,1757.5 493.7,1757.4 493.2,1757.3 C492.6,1757.2 492.1,1757.0 491.5,1756.9 C491.0,1756.8 490.5,1756.6 490.0,1756.5 C489.4,1756.3 488.9,1756.2 488.4,1756.0 C487.9,1755.9 487.4,1755.7 486.9,1755.5 C486.4,1755.3 485.9,1755.1 485.5,1754.9 C485.0,1754.8 484.5,1754.6 484.1,1754.3 C483.6,1754.1 483.2,1753.9 482.7,1753.7 C482.3,1753.5 481.9,1753.3 481.5,1753.0 C481.1,1752.8 480.7,1752.6 480.3,1752.3 C479.9,1752.1 479.5,1751.8 479.1,1751.6 C478.8,1751.3 478.4,1751.0 478.1,1750.8 C477.7,1750.5 477.4,1750.2 477.1,1750.0 C476.7,1749.7 476.4,1749.4 476.2,1749.1 C475.9,1748.8 475.6,1748.6 475.3,1748.3 C475.0,1748.0 474.8,1747.7 474.6,1747.4 C474.3,1747.1 474.1,1746.8 473.9,1746.5 C473.7,1746.2 473.5,1745.8 473.3,1745.5 C473.1,1745.2 473.0,1744.9 472.8,1744.6 C472.7,1744.3 472.5,1743.9 472.4,1743.6 C472.3,1743.3 472.2,1743.0 472.1,1742.7 C472.0,1742.3 471.9,1742.0 471.8,1741.7 C471.8,1741.4 471.7,1741.0 471.7,1740.7 C471.7,1740.4 471.7,1740.0 471.7,1739.7 C471.7,1739.4 471.7,1739.1 471.7,1738.7 C471.7,1738.4 471.8,1738.1 471.8,1737.7 C471.9,1737.4 472.0,1737.1 472.1,1736.8 C472.2,1736.4 472.3,1736.1 472.4,1735.8 C472.5,1735.5 472.7,1735.2 472.8,1734.8 C473.0,1734.5 473.1,1734.2 473.3,1733.9 C473.5,1733.6 473.7,1733.3 473.9,1733.0 C474.1,1732.7 474.3,1732.4 474.6,1732.1 C474.8,1731.8 475.0,1731.5 475.3,1731.2 C475.6,1730.9 475.9,1730.6 476.2,1730.3 C476.4,1730.0 476.7,1729.7 477.1,1729.5 C477.4,1729.2 477.7,1728.9 478.1,1728.6 C478.4,1728.4 478.8,1728.1 479.1,1727.9 C479.5,1727.6 479.9,1727.4 480.3,1727.1 C480.7,1726.9 481.1,1726.6 481.5,1726.4 C481.9,1726.2 482.3,1725.9 482.7,1725.7 C483.2,1725.5 483.6,1725.3 484.1,1725.1 C484.5,1724.9 485.0,1724.7 485.5,1724.5 C485.9,1724.3 486.4,1724.1 486.9,1723.9 C487.4,1723.7 487.9,1723.6 488.4,1723.4 C488.9,1723.2 489.4,1723.1 490.0,1722.9 C490.5,1722.8 491.0,1722.6 491.5,1722.5 C492.1,1722.4 492.6,1722.3 493.2,1722.1 C493.7,1722.0 494.3,1721.9 494.8,1721.8 C495.4,1721.7 495.9,1721.6 496.5,1721.5 C497.1,1721.4 497.6,1721.4 498.2,1721.3 C498.8,1721.2 499.4,1721.2 499.9,1721.1 C500.5,1721.1 501.1,1721.0 501.7,1721.0 C502.3,1721.0 502.8,1720.9 503.4,1720.9 C504.0,1720.9 504.6,1720.9 505.2,1720.9 C505.8,1720.9 506.3,1720.9 506.9,1720.9 C507.5,1720.9 508.1,1721.0 508.7,1721.0 C509.3,1721.0 509.8,1721.1 510.4,1721.1 C511.0,1721.2 511.6,1721.2 512.1,1721.3 C512.7,1721.4 513.3,1721.4 513.8,1721.5 C514.4,1721.6 515.0,1721.7 515.5,1721.8 C516.1,1721.9 516.6,1722.0 517.2,1722.1 C517.7,1722.3 518.3,1722.4 518.8,1722.5 C519.3,1722.6 519.9,1722.8 520.4,1722.9 C520.9,1723.1 521.4,1723.2 521.9,1723.4 C522.4,1723.6 522.9,1723.7 523.4,1723.9 C523.9,1724.1 524.4,1724.3 524.9,1724.5 C525.3,1724.7 525.8,1724.9 526.3,1725.1 C526.7,1725.3 527.2,1725.5 527.6,1725.7 C528.0,1725.9 528.5,1726.2 528.9,1726.4 C529.3,1726.6 529.7,1726.9 530.1,1727.1 C530.5,1727.4 530.9,1727.6 531.2,1727.9 C531.6,1728.1 531.9,1728.4 532.3,1728.6 C532.6,1728.9 533.0,1729.2 533.3,1729.5 C533.6,1729.7 533.9,1730.0 534.2,1730.3 C534.5,1730.6 534.8,1730.9 535.0,1731.2 C535.3,1731.5 535.6,1731.8 535.8,1732.1 C536.0,1732.4 536.3,1732.7 536.5,1733.0 C536.7,1733.3 536.9,1733.6 536.9,1733.9 C537.0,1734.2 536.9,1734.6 536.8,1735.0 C536.7,1735.3 536.5,1735.7 536.3,1736.0 C536.1,1736.3 535.9,1736.7 535.6,1737.0 C535.3,1737.3 535.0,1737.7 534.7,1738.0 C534.4,1738.3 534.0,1738.6 533.6,1738.9 C533.2,1739.2 532.8,1739.4 532.4,1739.7Z" fill="#f8c89e" opacity="0.55"/>
<circle cx="474.6" cy="1704.2" r="10.5" fill="#a8c8e4"/>
<circle cx="465.7" cy="1713.1" r="10.5" fill="#a8c8e4"/>
<circle cx="453.7" cy="1709.8" r="10.5" fill="#a8c8e4"/>
<circle cx="450.4" cy="1697.8" r="10.5" fill="#a8c8e4"/>
<circle cx="459.3" cy="1688.9" r="10.5" fill="#a8c8e4"/>
<circle cx="471.3" cy="1692.2" r="10.5" fill="#a8c8e4"/>
<circle cx="462.5" cy="1701" r="13.5" fill="#a8c8e4"/>
<text x="433.5" y="1669.8" font-size="16" text-anchor="middle" fill="#161616" >trLUT5</text>
<text x="499.5" y="1668.4" font-size="16" text-anchor="middle" fill="#161616" >trLUT1</text>
<text x="400.5" y="1713.6" font-size="16" text-anchor="middle" fill="#161616" >ATR2</text>
<text x="462.5" y="1707.4" font-size="16" text-anchor="middle" fill="#161616" >CipB</text>
<text x="526.5" y="1706.9" font-size="16" text-anchor="middle" fill="#161616" >ATR2</text>
<text x="430.0" y="1749.6" font-size="16" text-anchor="middle" fill="#161616" >trLUT1</text>
<text x="501.5" y="1748.0" font-size="16" text-anchor="middle" fill="#161616" >trLUT5</text>
<text x="662.0" y="1573.3" font-size="16" text-anchor="middle" fill="#161616" >(b)</text>
<text x="917.1" y="1573.3" font-size="16" text-anchor="middle" fill="#161616" >Sucrose</text>
<text x="1155.9" y="1553.2" font-size="16" text-anchor="middle" fill="#161616" >2′-fucosyllactose</text>
<circle cx="967.6" cy="1569.6" r="6.6" fill="url(#gG)"/>
<circle cx="984.8" cy="1577.5" r="6.6" fill="url(#gG)"/>
<circle cx="969.6" cy="1589.3" r="6.6" fill="url(#gG)"/>
<circle cx="1174.6" cy="1567.7" r="6.6" fill="url(#gO)"/>
<circle cx="1160.8" cy="1584.4" r="6.6" fill="url(#gO)"/>
<circle cx="1179.5" cy="1587.3" r="6.6" fill="url(#gO)"/>
<rect x="897.5" y="1655.2" width="58.6" height="3.6" fill="#6283cf"/>
<path d="M955.1,1650.4 L967.6,1657.0 L955.1,1663.6Z" fill="#6283cf"/>
<text x="933.0" y="1643.9" font-size="16" text-anchor="middle" fill="#161616" >Self-assembly</text>
<linearGradient id="bg64" x1="0.2" y1="0" x2="0.6" y2="1"><stop offset="0" stop-color="#b6e3e1"/><stop offset="0.55" stop-color="#a2dbd8"/><stop offset="1" stop-color="#92c5c2"/></linearGradient>
<linearGradient id="bg65" x1="0.2" y1="0" x2="0.6" y2="1"><stop offset="0" stop-color="#dcdff5"/><stop offset="0.55" stop-color="#d2d6f2"/><stop offset="1" stop-color="#bdc1da"/></linearGradient>
<linearGradient id="bg66" x1="0.2" y1="0" x2="0.6" y2="1"><stop offset="0" stop-color="#ce97b0"/><stop offset="0.55" stop-color="#c07a9a"/><stop offset="1" stop-color="#ad6e8b"/></linearGradient>
<linearGradient id="bg67" x1="0.2" y1="0" x2="0.6" y2="1"><stop offset="0" stop-color="#c1b08f"/><stop offset="0.55" stop-color="#b09a70"/><stop offset="1" stop-color="#9e8b65"/></linearGradient>
<linearGradient id="bg68" x1="0.2" y1="0" x2="0.6" y2="1"><stop offset="0" stop-color="#f4d6ca"/><stop offset="0.55" stop-color="#f1cbbb"/><stop offset="1" stop-color="#d9b7a8"/></linearGradient>
<radialGradient id="cellg" cx="0.5" cy="0.5" r="0.5"><stop offset="0" stop-color="#fbfdfb"/><stop offset="0.78" stop-color="#f1f8f3"/><stop offset="0.87" stop-color="#dcede1"/><stop offset="0.95" stop-color="#d0e7d7"/><stop offset="1" stop-color="#c5e0cd"/></radialGradient>
<circle cx="1076" cy="1656.6" r="65" fill="url(#cellg)"/>
<linearGradient id="ag69" gradientUnits="userSpaceOnUse" x1="990.7" y1="1588.3" x2="1027.4" y2="1628.5"><stop offset="0" stop-color="#d2daf8"/><stop offset="0.6" stop-color="#8ea2ea"/><stop offset="1" stop-color="#8ea2ea"/></linearGradient>
<path d="M990.1 1588.4l.1 2.1 .2 2.1 .3 2 .3 1.9 .3 1.9 .4 1.9 .4 1.8 .5 1.7 .5 1.7 .6 1.7 .6 1.6 .6 1.5 .7 1.5 .7 1.4 .7 1.4 .8 1.3 .9 1.3 .9 1.2 .9 1.2 1 1.1 1.1 1 1 1 1.2 1 1.2 .9 1.2 .8 1.2 .7 1.4 .7 1.3 .6 1.4 .6 1.5 .5-1 3.5 14.4-3.5-10.8-10.1-.9 3.5-1.2-.2-1.1-.4-1.1-.3-1.1-.4-1.1-.5-1-.5-1-.6-1-.7-1-.6-1-.8-.9-.8-.9-.9-.9-1-.8-1-.9-1-.8-1.2-.8-1.2-.7-1.2-.8-1.4-.7-1.4-.7-1.5-.6-1.5-.6-1.6-.6-1.7-.6-1.7-.5-1.8-.6-1.8-.5-2-.4-1.9-.5-2.1z" fill="url(#ag69)"/>
<linearGradient id="ag70" gradientUnits="userSpaceOnUse" x1="1130.4" y1="1631.4" x2="1167.2" y2="1600.5"><stop offset="0" stop-color="#d2daf8"/><stop offset="0.6" stop-color="#8ea2ea"/><stop offset="1" stop-color="#8ea2ea"/></linearGradient>
<path d="M1130.4 1632l2 .1 1.9 0 1.9-.1 1.8-.1 1.8-.1 1.7-.2 1.6-.3 1.6-.2 1.6-.3 1.5-.4 1.5-.4 1.4-.4 1.4-.5 1.3-.5 1.3-.5 1.2-.6 1.2-.7 1.1-.7 1.1-.7 1-.8 1-.9 .9-.9 .9-.9 .8-1 .7-1.1 .7-1 .6-1.2 .6-1.2 .5-1.2 .4-1.3 3.5 .9-3.7-14.3-9.9 11 3.5 .8-.2 1-.2 .9-.3 .9-.3 .9-.4 .8-.4 .8-.5 .8-.5 .8-.6 .8-.6 .7-.8 .8-.7 .7-.9 .7-.9 .6-.9 .7-1.1 .6-1 .6-1.2 .6-1.2 .5-1.3 .6-1.4 .5-1.4 .4-1.5 .5-1.5 .4-1.6 .4-1.7 .3-1.7 .3-1.8 .3-1.9 .3-1.9 .3z" fill="url(#ag70)"/>
<path d="M723.5,1614.3 C723.1,1614.4 722.0,1614.8 721.3,1615.1 C720.6,1615.4 720.0,1615.7 719.4,1616.0 C718.9,1616.4 718.5,1616.9 718.2,1617.4 C717.9,1617.9 717.7,1618.5 717.6,1619.1 C717.5,1619.7 717.6,1620.5 717.7,1621.2 C717.7,1621.9 717.9,1622.7 718.0,1623.5 C718.2,1624.3 718.4,1625.1 718.4,1625.8 C718.5,1626.5 718.6,1627.3 718.5,1627.9 C718.4,1628.5 718.2,1629.1 717.9,1629.6 C717.6,1630.1 717.2,1630.6 716.7,1631.0 C716.1,1631.3 715.5,1631.6 714.8,1631.9 C714.1,1632.2 713.0,1632.6 712.6,1632.7" fill="none" stroke="#2a5464" stroke-width="2.0" stroke-linecap="round" stroke-linejoin="round"/>
<path d="M738 1602.6l.7 1.2 0 1.1-.6 .9-1.2 .6 .4 1.1-.3 1-.7 .7-1.4 .2-.1 1.2-.7 .7-1.2 .3-1.5-.5-.8 .9-1.1 .3-1.3-.2-1.4-.8-1.4 .7-1.3 .2-1.1-.3-.8-.8-1.5 .5-1.3-.1-.9-.6-.2-1.2-1.5-.1-1-.6-.4-1 .5-1.3-1.3-.7-.6-.9 .1-1.2 1-1.3-.9-1.3-.1-1.1 .7-1 1.5-.5-.2-1.1 .6-.8 1-.5 1.6 0 .3-.9 .7-.7 1-.2 1.2 .2 .6-1.1 1-.7 1.3-.1 1.4 .5 1.5-.9 1.4-.2 1.2 .4 .7 1.1 1.5-.4 1.2 .3 .8 .7 .1 1.3 1.5 .1 1 .6 .4 1-.5 1.2 1.3 .7 .4 1-.2 1.2z" fill="url(#bg64)"/>
<path d="M774.5,1598.4 C774.2,1598.4 773.1,1598.4 772.5,1598.5 C771.9,1598.5 771.3,1598.6 770.8,1598.8 C770.3,1599.0 769.9,1599.2 769.7,1599.6 C769.4,1599.9 769.2,1600.3 769.1,1600.8 C769.0,1601.3 769.1,1601.9 769.1,1602.6 C769.2,1603.2 769.4,1603.9 769.5,1604.5 C769.6,1605.2 769.7,1605.9 769.8,1606.5 C769.8,1607.1 769.9,1607.7 769.8,1608.2 C769.7,1608.7 769.5,1609.2 769.3,1609.5 C769.0,1609.8 768.6,1610.1 768.1,1610.3 C767.6,1610.5 767.0,1610.5 766.4,1610.6 C765.8,1610.7 765.1,1610.6 764.4,1610.7 C763.8,1610.7 763.0,1610.7 762.4,1610.7 C761.8,1610.8 761.2,1610.9 760.7,1611.1 C760.3,1611.2 759.9,1611.5 759.6,1611.8 C759.3,1612.2 759.2,1612.6 759.1,1613.1 C759.0,1613.6 759.0,1614.2 759.1,1614.8 C759.1,1615.4 759.3,1616.5 759.4,1616.8" fill="none" stroke="#2a5464" stroke-width="2.0" stroke-linecap="round" stroke-linejoin="round"/>
<path d="M787.4 1587.6l.1 .9-.1 .8-.5 .7-.3 .7 0 .8-.3 .7-.6 .5-.5 .7-.2 .8-.7 .6-.9 .3-.9 .4-.8 .5-1.1 .3-1.2-.1-1.2 0-1.1 .2-1.4 0-1.3-.3-1.1-.2-1.1 0-1-.3-.8-.5-.8-.4-.9-.2-.7-.5-.5-.6-.4-.6-.7-.4-.5-.6-.2-.7-.3-.6-.6-.6-.5-.6-.1-.8-.2-.9-.6-1-.2-.8 .3-.8 .2-.8 0-.8 .5-.7 .8-.6 .8-.5 .6-.6 .8-.4 1.1-.2 1-.3 .8-.5 1-.2 1.1 0 1.1-.1 1.1-.3 1.3 0 1.3 .2 1.1 .2 1.1 .1 .9 .2 .8 .5 .8 .4 1 .2 .8 .3 .5 .6 .7 .5 .9 .3 .6 .6 .3 .7 .4 .6 .6 .7 .2 .7-.2 .9z" fill="url(#bg66)"/>
<path d="M821.3,1605.0 C821.0,1605.2 820.1,1606.0 819.6,1606.4 C819.2,1606.9 818.7,1607.4 818.5,1607.8 C818.2,1608.3 818.1,1608.7 818.1,1609.2 C818.1,1609.6 818.3,1610.0 818.7,1610.4 C819.0,1610.9 819.5,1611.3 820.0,1611.7 C820.6,1612.1 821.3,1612.4 821.9,1612.8 C822.5,1613.2 823.2,1613.6 823.7,1614.0 C824.2,1614.4 824.8,1614.8 825.1,1615.2 C825.4,1615.6 825.6,1616.1 825.6,1616.5 C825.7,1616.9 825.5,1617.4 825.3,1617.8 C825.0,1618.3 824.6,1618.8 824.1,1619.2 C823.6,1619.7 823.0,1620.2 822.4,1620.7 C821.9,1621.1 821.3,1621.6 820.8,1622.1 C820.3,1622.6 819.9,1623.0 819.6,1623.5 C819.3,1624.0 819.2,1624.4 819.2,1624.8 C819.3,1625.3 819.5,1625.7 819.8,1626.1 C820.1,1626.5 820.6,1626.9 821.2,1627.3 C821.7,1627.7 822.7,1628.3 823.0,1628.5" fill="none" stroke="#2a5464" stroke-width="2.0" stroke-linecap="round" stroke-linejoin="round"/>
<path d="M836.4 1593.4l.3 2.1-.2 1.9-.4 1.8-.8 1.6-1.2 1.2-1.4 .8-1.4 .7-1.5 .6-1.6 .2-1.9-.2-1.8-.3-1.5-.4-1.3-.7-1.1-.9-1.2-.8-1.2-.9-1-1.3-.6-1.5-.4-1.8-.1-2.1 .2-2.1 .5-1.6 .5-1.7 .5-1.6 .9-1.4 1.2-1.1 1.3-.8 1.5-.6 1.7-.2 1.9 .2 1.8 .2 1.6 .3 1.4 .7 1.1 1 1 1.1 .8 1.2 .7 1.4 .4 1.5 .7 1.6z" fill="url(#bg67)"/>
<path d="M701.8,1660.3 C702.1,1660.5 702.9,1661.1 703.4,1661.4 C704.0,1661.7 704.5,1662.0 705.0,1662.2 C705.4,1662.3 705.9,1662.3 706.3,1662.2 C706.7,1662.1 707.1,1661.9 707.5,1661.5 C707.8,1661.2 708.1,1660.6 708.4,1660.1 C708.7,1659.6 709.0,1658.9 709.3,1658.3 C709.6,1657.7 709.9,1657.1 710.2,1656.6 C710.5,1656.0 710.8,1655.5 711.1,1655.2 C711.5,1654.8 711.9,1654.6 712.3,1654.4 C712.7,1654.3 713.2,1654.4 713.6,1654.5 C714.1,1654.6 714.6,1654.9 715.2,1655.2 C715.7,1655.6 716.3,1656.0 716.8,1656.4 C717.3,1656.7 717.9,1657.2 718.4,1657.5 C719.0,1657.8 719.5,1658.1 720.0,1658.2 C720.4,1658.4 720.9,1658.4 721.3,1658.3 C721.7,1658.2 722.1,1657.9 722.5,1657.6 C722.8,1657.2 723.1,1656.7 723.4,1656.2 C723.7,1655.7 724.2,1654.7 724.3,1654.4" fill="none" stroke="#2a5464" stroke-width="2.0" stroke-linecap="round" stroke-linejoin="round"/>
<path d="M701.5 1652l-.5 2-.4 1.7-.6 1.5-.8 1.4-1 1.1-1 1.1-1.3 .9-1.5 .4-1.7 0-1.8 .1-1.8-.1-1.6-.3-1.3-.7-1.3-.6-1.2-1-.8-1.2-.5-1.5-.7-1.3-.6-1.6-.4-1.9-.1-2 0-1.9 .4-1.7 1-1.4 1.3-1 1.3-.8 1.4-.7 1.5-.4 1.6 0 1.8-.1 1.8 .1 1.4 .5 1.3 .8 1.3 .5 1.2 .7 1.2 .9 1 1.3 .9 1.4 .5 1.7z" fill="url(#bg67)"/>
<path d="M783.7,1642.7 C783.4,1642.6 782.3,1642.1 781.6,1642.0 C781.0,1641.8 780.3,1641.6 779.8,1641.6 C779.2,1641.6 778.8,1641.7 778.4,1641.9 C778.0,1642.2 777.7,1642.6 777.5,1643.1 C777.2,1643.6 777.1,1644.2 777.0,1644.9 C776.9,1645.6 776.9,1646.4 776.8,1647.1 C776.7,1647.8 776.7,1648.6 776.6,1649.3 C776.5,1650.0 776.4,1650.6 776.1,1651.1 C775.9,1651.6 775.6,1652.0 775.2,1652.3 C774.8,1652.5 774.4,1652.6 773.8,1652.6 C773.3,1652.6 772.6,1652.4 772.0,1652.2 C771.3,1652.1 770.6,1651.7 769.9,1651.5 C769.2,1651.3 768.5,1650.9 767.8,1650.8 C767.2,1650.6 766.5,1650.4 766.0,1650.4 C765.4,1650.4 765.0,1650.5 764.6,1650.7 C764.2,1651.0 763.9,1651.4 763.7,1651.9 C763.4,1652.4 763.3,1653.0 763.2,1653.7 C763.1,1654.4 763.1,1655.2 763.0,1655.9 C762.9,1656.6 762.9,1657.4 762.8,1658.1 C762.7,1658.8 762.6,1659.4 762.3,1659.9 C762.1,1660.4 761.8,1660.8 761.4,1661.1 C761.0,1661.3 760.6,1661.4 760.0,1661.4 C759.5,1661.4 758.8,1661.2 758.2,1661.0 C757.5,1660.9 756.4,1660.4 756.1,1660.3" fill="none" stroke="#2a5464" stroke-width="2.0" stroke-linecap="round" stroke-linejoin="round"/>
<path d="M798.4 1635.2l.7 2.3 .3 2-.1 1.8 .2 1.7 0 1.7-.2 1.5-.5 1.2-.2 1.7-.7 1.2-1 .7-1.3 .2-1.2 .7-1.4 .1-1.3-.2-1.2-.5-1.1 0-1.2-.3-1.2-.7-1-1.1-1.3-.8-1.1-1.3-.9-1.6-.8-1.8-1.2-2-1-2.2-.6-2.1-.2-1.9-.4-2 .2-1.7 .6-1.3 1-.9 .6-1.1 .9-.8 1-.6 1.1-.3 1-1 1.2-.7 1.2-.2 1.2 .4 1.1-.1 1.3 .4 1.1 .8 1.1 1.2 1.3 .7 1.2 1.3 1 1.6 .7 1.9z" fill="url(#bg68)"/>
<path d="M849.7,1642.7 C849.3,1642.6 848.3,1642.1 847.6,1642.0 C846.9,1641.8 846.3,1641.6 845.7,1641.6 C845.2,1641.6 844.7,1641.7 844.3,1642.0 C843.9,1642.2 843.6,1642.6 843.4,1643.1 C843.2,1643.6 843.1,1644.3 842.9,1644.9 C842.8,1645.6 842.8,1646.4 842.7,1647.2 C842.7,1647.9 842.6,1648.7 842.5,1649.4 C842.4,1650.1 842.3,1650.7 842.0,1651.2 C841.8,1651.7 841.5,1652.1 841.1,1652.3 C840.8,1652.6 840.3,1652.7 839.7,1652.7 C839.2,1652.7 838.5,1652.5 837.9,1652.4 C837.2,1652.2 836.5,1651.9 835.8,1651.6 C835.1,1651.4 834.3,1651.1 833.7,1650.9 C833.0,1650.7 832.4,1650.6 831.8,1650.6 C831.3,1650.6 830.8,1650.7 830.4,1650.9 C830.0,1651.2 829.7,1651.6 829.5,1652.1 C829.3,1652.6 829.1,1653.2 829.0,1653.9 C828.9,1654.6 828.8,1655.7 828.8,1656.1" fill="none" stroke="#2a5464" stroke-width="2.0" stroke-linecap="round" stroke-linejoin="round"/>
<path d="M866.1 1642l.3 1.9-.1 1.6 .1 1.5 .3 1.5-.1 1.4-.6 1-.3 1.1-.1 1.4-.6 .9-.9 .5-.6 .8-.5 1.3-.9 .7-1.2 .2-1.2 .5-1 .7-1.1 0-1.1-1-1-.5-1.1-.3-.9-.9-.7-1.4-.8-1-1.1-.8-.8-1.2-.5-1.7-.7-1.5-.9-1.8-.4-2 .2-1.7 0-1.5-.2-1.6 .2-1.3 .7-1 .3-1.1 .1-1.4 .6-1 .9-.4 .7-.7 .6-1.1 1-.4 1.2 .1 1.1-.3 1-.6 1-.2 1.1 .5 1 .1 1.2-.3 1.1 .6 .8 1.3 1 1.1 1 1 .6 1.6 .2 1.9 .5 1.7z" fill="url(#bg65)"/>
<path d="M725.2,1693.7 C725.6,1693.6 726.8,1693.3 727.4,1693.1 C728.1,1692.9 728.7,1692.7 729.2,1692.3 C729.7,1692.0 730.1,1691.6 730.3,1691.2 C730.5,1690.7 730.6,1690.2 730.5,1689.6 C730.5,1689.1 730.3,1688.4 730.0,1687.7 C729.8,1687.1 729.4,1686.3 729.1,1685.6 C728.8,1684.9 728.4,1684.2 728.2,1683.5 C727.9,1682.9 727.7,1682.2 727.7,1681.6 C727.6,1681.1 727.7,1680.5 727.9,1680.1 C728.1,1679.6 728.5,1679.3 729.0,1678.9 C729.5,1678.6 730.1,1678.4 730.8,1678.1 C731.4,1677.9 732.3,1677.8 733.0,1677.6 C733.7,1677.4 734.6,1677.2 735.2,1677.0 C735.9,1676.8 736.5,1676.5 737.0,1676.2 C737.5,1675.9 737.9,1675.5 738.1,1675.1 C738.3,1674.6 738.4,1674.1 738.3,1673.5 C738.3,1672.9 738.1,1672.3 737.8,1671.6 C737.6,1670.9 737.1,1669.9 736.9,1669.5" fill="none" stroke="#2a5464" stroke-width="2.0" stroke-linecap="round" stroke-linejoin="round"/>
<path d="M728.3 1707.7l-1.3 .8-1.4 .5-1.2 .5-1.2 .5-1.2 .3-1.4-.1-1.4 0-1.5-.1-1.6-.6-1.5-.9-1.7-.9-2-1.1-1.8-1.3-1.5-1.5-1.3-1.5-1.2-1.5-.6-1.6 0-1.5 .1-1.5 .2-1.3 .6-1.2 .8-1 .6-1.2 .7-1.3 .9-1.2 1.1-.7 1.1-.7 1.1-.6 1.4-.2 1.5 .1 1.4 .1 1.5 0 1.6 .5 1.7 .9 1.7 .9 1.9 1.3 1.6 1.6 1.1 1.6 1 1.5 .9 1.5 .7 1.4 .4 1.5 .4 1.4 .4 1.6-.1 1.4-.7 1.2-.8 1.2z" fill="url(#bg68)"/>
<path d="M768.6,1712.0 C768.8,1711.7 769.7,1710.9 770.1,1710.4 C770.5,1709.9 770.9,1709.4 771.1,1708.9 C771.3,1708.4 771.4,1707.9 771.4,1707.5 C771.3,1707.1 771.0,1706.7 770.7,1706.3 C770.3,1705.9 769.8,1705.6 769.2,1705.2 C768.6,1704.9 767.9,1704.6 767.2,1704.2 C766.6,1703.9 765.9,1703.6 765.3,1703.2 C764.7,1702.9 764.2,1702.6 763.8,1702.2 C763.4,1701.8 763.2,1701.4 763.1,1701.0 C763.0,1700.5 763.1,1700.1 763.3,1699.6 C763.5,1699.1 763.9,1698.6 764.4,1698.1 C764.8,1697.5 765.4,1697.0 765.9,1696.5 C766.4,1695.9 766.9,1695.4 767.4,1694.9 C767.8,1694.3 768.2,1693.8 768.4,1693.4 C768.6,1692.9 768.7,1692.4 768.6,1692.0 C768.6,1691.5 768.3,1691.1 767.9,1690.8 C767.6,1690.4 767.0,1690.0 766.5,1689.7 C765.9,1689.3 764.8,1688.9 764.5,1688.7" fill="none" stroke="#2a5464" stroke-width="2.0" stroke-linecap="round" stroke-linejoin="round"/>
<path d="M777 1719.6l-.8 1.2 .4 1.3 0 1.3-.8 1-1.7 .3-.6 1-1.1 .7-1.7 .1-1.9-.5-1.2 .4-1.4 .2-1.6-.3-1.6-.7-1.7 .2-1.9-.1-1.5-.5-1.1-.9-1.6-.2-1.4-.4-1.1-.8-.4-1.1-1.5-.6-1.3-.8-.7-1 .2-1.2-1.1-1.1-.5-1.3 .5-1.3 1.3-1.1 0-1.2 .6-1.1 1.1-.7 1.6-.2 .5-1 .9-.8 1.2-.4 1.6 .1 1.1-.7 1.4-.4 1.7 .2 1.7 .8 1.8 0 1.9 .2 1.5 .6 1 1 1.6 .2 1.5 .5 1 .8 .5 1.1 1.3 .6 1.1 .9 .3 1-.4 1.1 .9 1.1 .6 1.2z" fill="url(#bg65)"/>
<path d="M802.0,1695.4 C801.9,1695.8 801.4,1696.8 801.2,1697.5 C800.9,1698.2 800.7,1698.9 800.7,1699.5 C800.6,1700.1 800.7,1700.7 800.9,1701.2 C801.1,1701.7 801.4,1702.2 801.8,1702.7 C802.2,1703.1 802.8,1703.5 803.4,1703.9 C804.0,1704.3 804.7,1704.6 805.4,1705.0 C806.1,1705.4 806.8,1705.7 807.4,1706.1 C808.0,1706.5 808.6,1706.9 809.0,1707.3 C809.4,1707.8 809.7,1708.3 809.9,1708.8 C810.1,1709.3 810.2,1709.9 810.1,1710.5 C810.1,1711.1 809.9,1711.8 809.6,1712.5 C809.4,1713.2 808.9,1714.2 808.8,1714.6" fill="none" stroke="#2a5464" stroke-width="2.0" stroke-linecap="round" stroke-linejoin="round"/>
<path d="M811.8 1683.7l.2 1.4-.5 1.2 .1 1.2 .3 1.4-.5 1-1.1 .7-.6 .8-.5 1.1-1 .5-1.4-.1-.9 .5-.8 .7-1.1 .2-1.2-.4-1.1 .2-1.3 .5-1.3-.1-1-.7-1-.2-1.2 .1-.9-.5-.5-1-.9-.4-1.1-.2-.7-.7-.3-1-.8-.7-1-.7-.4-1 .2-1.3-.3-1.1-.4-1.4 .1-1.4 .9-1 .2-1.1-.1-1.2 .5-1 .9-.6 .4-1 .2-1.2 .8-.7 1.1-.3 .9-.6 .8-.9 1.1-.2 1.3 .4 1.2-.1 1.3-.3 1.3 .2 1 .8 1.1 .2 1.1-.1 .9 .5 .6 1 .8 .4 1 .4 .6 .7 .1 1.2 .6 .8 .8 .7 .4 .9-.2 1.2 .5 1z" fill="url(#bg64)"/>
<path d="M835.5,1689.5 C835.8,1689.3 836.8,1688.8 837.3,1688.5 C837.8,1688.1 838.3,1687.8 838.6,1687.4 C838.9,1687.1 839.1,1686.7 839.1,1686.3 C839.2,1686.0 839.0,1685.6 838.7,1685.2 C838.5,1684.8 838.0,1684.4 837.5,1684.0 C837.0,1683.6 836.4,1683.2 835.8,1682.8 C835.2,1682.4 834.6,1682.0 834.1,1681.6 C833.6,1681.3 833.1,1680.9 832.9,1680.5 C832.6,1680.1 832.4,1679.7 832.5,1679.3 C832.5,1679.0 832.7,1678.6 833.0,1678.3 C833.3,1677.9 833.8,1677.5 834.3,1677.2 C834.8,1676.9 835.5,1676.5 836.1,1676.2 C836.7,1675.8 837.4,1675.5 837.9,1675.1 C838.4,1674.8 838.9,1674.4 839.2,1674.1 C839.5,1673.7 839.7,1673.4 839.7,1673.0 C839.8,1672.6 839.6,1672.2 839.3,1671.9 C839.1,1671.5 838.6,1671.1 838.1,1670.7 C837.6,1670.3 836.7,1669.7 836.4,1669.5" fill="none" stroke="#2a5464" stroke-width="2.0" stroke-linecap="round" stroke-linejoin="round"/>
<path d="M850.2 1698.7l-.3 1.3-.6 1 .1 1.1-.4 .9-.5 .7-.8 .6-.2 .9-.4 .8-.6 .5-.8 .4-.3 .9-.6 .7-.7 .3-.9 .1-.6 .8-.9 .4-.9 0-1.1-.3-1.1 .5-1 .1-.9-.2-.8-.6-1.1 .3-.9-.2-.7-.6-.5-.9-1-.3-.7-.7-.3-1 0-1.2-.5-.8-.2-1 .1-1.2 .4-1.1-.3-1 0-1.2 .2-1.2 .4-.9-.2-1.1 .1-.9 .3-.9 .6-.7 0-1 .4-.9 .6-.6 .8-.3 .4-.9 .6-.6 .8-.4 .9 0 .7-.8 .8-.4 1-.1 1.1 .2 1.1-.5 1.1 0 .9 .3 .7 .8 1-.1 .8 .5 .5 .7 .4 1 .9 .3 .6 .7 .4 .8 .1 1 .8 .6 .5 .9 .2 1-.1 1.2 .5 1z" fill="url(#bg66)"/>
<path d="M1057.0,1625.0 C1057.0,1625.3 1056.8,1626.3 1056.7,1626.9 C1056.7,1627.5 1056.6,1628.1 1056.7,1628.6 C1056.8,1629.1 1057.0,1629.5 1057.3,1629.8 C1057.5,1630.1 1057.9,1630.3 1058.4,1630.5 C1058.9,1630.6 1059.4,1630.7 1060.0,1630.7 C1060.6,1630.7 1061.3,1630.7 1062.0,1630.7 C1062.7,1630.7 1063.4,1630.6 1064.0,1630.6 C1064.6,1630.6 1065.1,1630.7 1065.6,1630.8 C1066.1,1631.0 1066.5,1631.2 1066.7,1631.5 C1067.0,1631.8 1067.2,1632.2 1067.3,1632.7 C1067.4,1633.2 1067.3,1633.8 1067.3,1634.4 C1067.2,1635.0 1067.1,1635.7 1067.0,1636.3 C1066.9,1637.0 1066.8,1637.7 1066.7,1638.3 C1066.7,1638.9 1066.6,1639.5 1066.7,1639.9 C1066.8,1640.4 1067.0,1640.8 1067.3,1641.2 C1067.5,1641.5 1067.9,1641.7 1068.4,1641.8 C1068.9,1642.0 1069.4,1642.0 1070.0,1642.0 C1070.6,1642.1 1071.7,1642.0 1072.0,1642.0" fill="none" stroke="#2a5464" stroke-width="1.8" stroke-linecap="round" stroke-linejoin="round"/>
<path d="M1079.0,1624.0 C1078.7,1624.1 1077.8,1624.5 1077.3,1624.8 C1076.8,1625.1 1076.3,1625.4 1076.0,1625.7 C1075.7,1626.0 1075.5,1626.4 1075.4,1626.7 C1075.3,1627.1 1075.4,1627.5 1075.6,1627.9 C1075.7,1628.4 1076.1,1628.8 1076.4,1629.3 C1076.8,1629.7 1077.3,1630.2 1077.7,1630.7 C1078.1,1631.1 1078.6,1631.6 1078.9,1632.1 C1079.3,1632.5 1079.6,1633.0 1079.8,1633.4 C1079.9,1633.8 1080.0,1634.2 1079.9,1634.6 C1079.9,1635.0 1079.6,1635.3 1079.3,1635.6 C1079.0,1635.9 1078.5,1636.2 1078.0,1636.5 C1077.5,1636.8 1076.9,1637.1 1076.3,1637.3 C1075.8,1637.6 1075.1,1637.9 1074.6,1638.2 C1074.1,1638.4 1073.7,1638.7 1073.3,1639.0 C1073.0,1639.4 1072.8,1639.7 1072.7,1640.1 C1072.7,1640.4 1072.7,1640.8 1072.9,1641.3 C1073.1,1641.7 1073.4,1642.1 1073.8,1642.6 C1074.1,1643.1 1074.8,1643.8 1075.0,1644.0" fill="none" stroke="#2a5464" stroke-width="1.8" stroke-linecap="round" stroke-linejoin="round"/>
<path d="M1097.0,1628.0 C1096.7,1628.0 1095.6,1628.1 1095.0,1628.3 C1094.4,1628.4 1093.8,1628.5 1093.3,1628.7 C1092.9,1629.0 1092.5,1629.2 1092.2,1629.6 C1091.9,1630.0 1091.8,1630.4 1091.8,1631.0 C1091.7,1631.5 1091.8,1632.1 1091.9,1632.7 C1092.0,1633.3 1092.2,1634.0 1092.3,1634.7 C1092.5,1635.3 1092.7,1636.0 1092.8,1636.6 C1092.9,1637.3 1093.0,1637.9 1092.9,1638.4 C1092.9,1638.9 1092.7,1639.4 1092.5,1639.7 C1092.2,1640.1 1091.8,1640.4 1091.4,1640.6 C1090.9,1640.8 1090.3,1641.0 1089.7,1641.1 C1089.1,1641.2 1088.3,1641.2 1087.7,1641.3 C1087.0,1641.4 1086.3,1641.5 1085.7,1641.6 C1085.0,1641.7 1084.4,1641.8 1084.0,1642.1 C1083.5,1642.3 1083.1,1642.6 1082.9,1642.9 C1082.6,1643.3 1082.5,1643.8 1082.4,1644.3 C1082.4,1644.8 1082.5,1645.4 1082.5,1646.0 C1082.6,1646.6 1082.9,1647.7 1083.0,1648.0" fill="none" stroke="#2a5464" stroke-width="1.8" stroke-linecap="round" stroke-linejoin="round"/>
<path d="M1044.0,1645.0 C1044.1,1645.3 1044.4,1646.3 1044.6,1646.8 C1044.8,1647.3 1045.1,1647.9 1045.4,1648.2 C1045.7,1648.6 1046.0,1648.9 1046.3,1649.0 C1046.7,1649.1 1047.1,1649.1 1047.6,1649.0 C1048.0,1648.9 1048.5,1648.6 1049.1,1648.4 C1049.6,1648.1 1050.1,1647.7 1050.7,1647.3 C1051.2,1647.0 1051.8,1646.6 1052.3,1646.3 C1052.8,1646.0 1053.3,1645.8 1053.7,1645.7 C1054.2,1645.6 1054.6,1645.5 1055.0,1645.7 C1055.4,1645.8 1055.7,1646.1 1056.0,1646.4 C1056.3,1646.8 1056.5,1647.3 1056.7,1647.9 C1056.9,1648.4 1057.1,1649.1 1057.3,1649.7 C1057.5,1650.3 1057.7,1650.9 1057.9,1651.5 C1058.2,1652.0 1058.4,1652.5 1058.7,1652.9 C1059.0,1653.3 1059.3,1653.5 1059.7,1653.7 C1060.0,1653.8 1060.5,1653.8 1060.9,1653.7 C1061.4,1653.6 1061.9,1653.3 1062.4,1653.0 C1062.9,1652.7 1063.7,1652.2 1064.0,1652.0" fill="none" stroke="#2a5464" stroke-width="1.8" stroke-linecap="round" stroke-linejoin="round"/>
<path d="M1093.0,1655.0 C1092.7,1654.9 1091.8,1654.4 1091.3,1654.2 C1090.7,1654.1 1090.2,1653.9 1089.7,1653.8 C1089.3,1653.8 1088.9,1653.9 1088.5,1654.0 C1088.2,1654.2 1088.0,1654.5 1087.7,1655.0 C1087.5,1655.4 1087.4,1655.9 1087.3,1656.5 C1087.1,1657.0 1087.1,1657.7 1087.0,1658.3 C1086.9,1659.0 1086.9,1659.6 1086.7,1660.2 C1086.6,1660.8 1086.5,1661.3 1086.3,1661.7 C1086.0,1662.1 1085.8,1662.4 1085.5,1662.6 C1085.1,1662.8 1084.7,1662.9 1084.3,1662.8 C1083.8,1662.8 1083.3,1662.6 1082.7,1662.4 C1082.2,1662.2 1081.6,1661.9 1081.0,1661.7 C1080.4,1661.4 1079.8,1661.1 1079.3,1660.9 C1078.7,1660.7 1078.2,1660.5 1077.7,1660.5 C1077.3,1660.5 1076.9,1660.5 1076.5,1660.7 C1076.2,1660.9 1076.0,1661.2 1075.7,1661.6 C1075.5,1662.0 1075.4,1662.6 1075.3,1663.1 C1075.1,1663.7 1075.0,1664.7 1075.0,1665.0" fill="none" stroke="#2a5464" stroke-width="1.8" stroke-linecap="round" stroke-linejoin="round"/>
<path d="M1043.0,1666.0 C1043.3,1666.2 1044.2,1666.8 1044.7,1667.1 C1045.3,1667.4 1045.9,1667.7 1046.4,1667.9 C1046.9,1668.0 1047.4,1668.0 1047.9,1667.9 C1048.3,1667.8 1048.8,1667.5 1049.2,1667.2 C1049.6,1666.8 1049.9,1666.3 1050.3,1665.8 C1050.7,1665.3 1051.0,1664.6 1051.3,1664.0 C1051.7,1663.4 1052.0,1662.7 1052.4,1662.2 C1052.7,1661.7 1053.1,1661.2 1053.5,1660.8 C1053.9,1660.5 1054.3,1660.2 1054.8,1660.1 C1055.3,1660.0 1055.8,1660.0 1056.3,1660.1 C1056.8,1660.3 1057.4,1660.6 1057.9,1660.9 C1058.5,1661.2 1059.1,1661.6 1059.7,1662.0 C1060.2,1662.4 1060.8,1662.8 1061.4,1663.1 C1062.0,1663.4 1062.5,1663.7 1063.1,1663.9 C1063.6,1664.0 1064.1,1664.0 1064.5,1663.9 C1065.0,1663.8 1065.4,1663.5 1065.8,1663.2 C1066.2,1662.8 1066.6,1662.3 1067.0,1661.8 C1067.3,1661.3 1067.8,1660.3 1068.0,1660.0" fill="none" stroke="#2a5464" stroke-width="1.8" stroke-linecap="round" stroke-linejoin="round"/>
<path d="M1116.0,1666.0 C1115.7,1665.8 1114.9,1665.1 1114.4,1664.8 C1113.9,1664.5 1113.4,1664.2 1112.9,1664.0 C1112.4,1663.9 1112.0,1663.8 1111.5,1663.9 C1111.1,1664.0 1110.7,1664.2 1110.3,1664.6 C1110.0,1664.9 1109.6,1665.4 1109.3,1665.9 C1109.0,1666.4 1108.7,1667.1 1108.3,1667.7 C1108.0,1668.2 1107.7,1668.9 1107.4,1669.4 C1107.0,1669.9 1106.7,1670.4 1106.3,1670.8 C1106.0,1671.1 1105.6,1671.3 1105.1,1671.4 C1104.7,1671.5 1104.3,1671.5 1103.8,1671.3 C1103.3,1671.2 1102.8,1670.9 1102.3,1670.5 C1101.7,1670.2 1101.2,1669.7 1100.7,1669.3 C1100.1,1668.9 1099.6,1668.5 1099.1,1668.1 C1098.6,1667.8 1098.0,1667.5 1097.6,1667.4 C1097.1,1667.2 1096.6,1667.1 1096.2,1667.2 C1095.8,1667.3 1095.4,1667.6 1095.0,1667.9 C1094.6,1668.2 1094.3,1668.7 1094.0,1669.3 C1093.6,1669.8 1093.2,1670.7 1093.0,1671.0" fill="none" stroke="#2a5464" stroke-width="1.8" stroke-linecap="round" stroke-linejoin="round"/>
<path d="M1060.0,1668.0 C1059.8,1668.2 1058.9,1668.8 1058.5,1669.2 C1058.1,1669.6 1057.7,1670.0 1057.4,1670.4 C1057.2,1670.9 1057.0,1671.3 1057.0,1671.7 C1057.0,1672.1 1057.2,1672.5 1057.4,1672.9 C1057.7,1673.3 1058.1,1673.7 1058.5,1674.1 C1058.9,1674.5 1059.5,1674.9 1060.0,1675.3 C1060.5,1675.7 1061.1,1676.1 1061.5,1676.6 C1061.9,1677.0 1062.3,1677.4 1062.6,1677.8 C1062.8,1678.2 1063.0,1678.6 1063.0,1679.0 C1063.0,1679.4 1062.8,1679.8 1062.6,1680.2 C1062.3,1680.6 1061.9,1681.0 1061.5,1681.4 C1061.1,1681.9 1060.5,1682.3 1060.0,1682.7 C1059.5,1683.1 1058.9,1683.5 1058.5,1683.9 C1058.1,1684.3 1057.7,1684.7 1057.4,1685.1 C1057.2,1685.5 1057.0,1685.9 1057.0,1686.3 C1057.0,1686.7 1057.2,1687.1 1057.4,1687.6 C1057.7,1688.0 1058.1,1688.4 1058.5,1688.8 C1058.9,1689.2 1059.8,1689.8 1060.0,1690.0" fill="none" stroke="#2a5464" stroke-width="1.8" stroke-linecap="round" stroke-linejoin="round"/>
<path d="M1070.0,1670.0 C1069.8,1670.3 1069.3,1671.1 1069.1,1671.7 C1068.8,1672.2 1068.6,1672.7 1068.5,1673.2 C1068.4,1673.7 1068.4,1674.1 1068.5,1674.4 C1068.7,1674.8 1069.0,1675.1 1069.4,1675.4 C1069.7,1675.7 1070.3,1675.9 1070.8,1676.1 C1071.4,1676.3 1072.1,1676.5 1072.7,1676.7 C1073.3,1676.9 1074.0,1677.0 1074.5,1677.2 C1075.1,1677.4 1075.6,1677.6 1076.0,1677.9 C1076.3,1678.2 1076.6,1678.5 1076.8,1678.9 C1076.9,1679.3 1076.9,1679.7 1076.9,1680.1 C1076.8,1680.6 1076.5,1681.1 1076.3,1681.7 C1076.0,1682.2 1075.6,1682.8 1075.3,1683.3 C1075.0,1683.9 1074.6,1684.5 1074.4,1685.0 C1074.1,1685.5 1073.9,1686.1 1073.8,1686.5 C1073.7,1687.0 1073.7,1687.4 1073.9,1687.8 C1074.0,1688.2 1074.3,1688.5 1074.7,1688.7 C1075.1,1689.0 1075.6,1689.2 1076.2,1689.4 C1076.7,1689.7 1077.7,1689.9 1078.0,1690.0" fill="none" stroke="#2a5464" stroke-width="1.8" stroke-linecap="round" stroke-linejoin="round"/>
<path d="M1097.0,1686.0 C1097.0,1685.7 1097.2,1684.7 1097.2,1684.1 C1097.2,1683.5 1097.2,1683.0 1097.1,1682.5 C1097.0,1682.1 1096.8,1681.7 1096.5,1681.5 C1096.3,1681.2 1095.9,1681.1 1095.4,1681.0 C1095.0,1680.9 1094.4,1681.0 1093.9,1681.0 C1093.3,1681.1 1092.6,1681.2 1092.0,1681.3 C1091.4,1681.4 1090.7,1681.6 1090.1,1681.7 C1089.6,1681.7 1089.0,1681.8 1088.6,1681.7 C1088.1,1681.6 1087.7,1681.5 1087.5,1681.2 C1087.2,1680.9 1087.0,1680.6 1086.9,1680.1 C1086.8,1679.7 1086.8,1679.1 1086.8,1678.5 C1086.8,1678.0 1086.9,1677.3 1087.0,1676.7 C1087.1,1676.0 1087.2,1675.4 1087.2,1674.8 C1087.2,1674.2 1087.2,1673.7 1087.1,1673.2 C1087.0,1672.8 1086.8,1672.4 1086.5,1672.1 C1086.3,1671.9 1085.9,1671.7 1085.4,1671.7 C1085.0,1671.6 1084.4,1671.6 1083.9,1671.7 C1083.3,1671.7 1082.3,1671.9 1082.0,1672.0" fill="none" stroke="#2a5464" stroke-width="1.8" stroke-linecap="round" stroke-linejoin="round"/>
<path d="M1058.8 1617.6l.3 1.3-.3 1.2-.7 .9-.2 1 0 1.2-.4 .9-.8 .5-.5 .9-.3 1.2-.7 .7-1.1 0-.9 .6-.8 .8-1 .2-1.2-.4-1.2 .1-1.3 .5-1.1-.2-.9-.7-1-.2-1.1 0-.9-.6-.3-1.2-.7-.7-.8-.6-.3-1 .2-1.3-.3-.9-.5-.9-.1-1 .3-1.1-.2-1.2-.5-1.3-.1-1.1 .5-1 0-1.1-.1-1.2 .4-1 .9-.6 .5-.9 .3-1.1 .8-.7 1.1 0 .9-.7 .7-.9 1.1-.2 1.2 .4 1.3-.1 1.3-.3 1.1 .4 .8 1 .9 .5 .9 .2 .7 .6 .4 1.1 .6 .6 1 .4 .6 .7 .1 1.1 .6 .8 .8 .8 .2 1.1-.4 1.2z" fill="url(#bg64)"/>
<path d="M1087.9 1613l.3 .9-.1 .8-.4 .8-.5 .6-.1 .8-.3 .6-.6 .6-.5 .5-.3 .7-.4 .7-.7 .5-.8 .4-.5 .7-.9 .5-1 .2-1 0-1.1 .4-1.3 .1-1.3-.3-1-.4-1 0-1-.3-.8-.5-.6-.6-1-.1-.8-.4-.5-.6-.5-.7-.8-.4-.6-.6-.2-.8-.1-.8-.5-.7-.1-.8 .1-.8 .3-1-.3-1 .1-.8 .4-.7 .4-.7-.1-.8 .3-.8 .6-.5 .7-.5 .3-.7 .7-.5 .8-.3 .9-.2 .7-.5 .8-.4 1-.1 1 0 .9-.5 1.2-.2 1.2 0 1.1 .1 1.2-.3 1 .1 1 .4 .7 .5 1.1 .2 .7 .5 .4 .8 .4 .8 .6 .5 .4 .7 .1 .9 0 .8 .5 .6 .2 .8-.2 .9z" fill="url(#bg66)"/>
<path d="M1112.1 1621.1l.5 2 .6 1.9 .3 1.8-.2 1.6-.3 1.5-.3 1.5-.6 1.1-.9 .9-.8 .9-.7 1.1-1 .9-1.3 .5-1.3 .4-1.3 .4-1.3-.1-1.2-.7-1.2-.7-1.2-.6-1.1-1.1-1-1.4-.9-1.5-.9-1.6-.6-2-.3-2.3-.1-2.1-.1-1.8 .1-1.6 .2-1.4 .2-1.4 0-1.6 .2-1.5 .6-1.3 .6-1.2 .8-1.2 1-.8 1.5-.3 1.4-.3 1.3-.3 1.3 .1 1.2 .6 1.2 .8 1.2 .8 1 1.3 .8 1.6 .7 1.7 .8 1.6 .6 1.7z" fill="url(#bg68)"/>
<path d="M1045.3 1639.2l.2 2-.3 1.7-.6 1.5-1 1.2-1 1.2-1.4 .7-1.5 .4-1.6 0-1.4 .3-1.7 .2-1.7 .1-1.6-.2-1.6-.1-1.4-.6-1.1-1-.8-1.3-.9-1.1-.7-1.5-.4-1.6 0-1.9-.1-1.9 .4-1.7 .7-1.4 1.1-1 .8-1.3 1.1-1 1.3-.8 1.5-.4 1.5-.5 1.9 0 1.8 .5 1.4 .7 1.3 .5 1.3 .6 1.2 .7 1 1 1.2 1 .8 1.4 .4 1.7z" fill="url(#bg67)"/>
<path d="M1113.7 1650l-.3 1.7-.7 1.3-.8 1.2-.9 1-.9 1-1.1 .9-1.4 .6-1.6 .3-1.5 .6-2 .3-2.1 .1-1.8-.2-1.8-.2-1.5-.7-1.2-1.1-.7-1.2-.9-1.2-.6-1.3-.4-1.4-.1-1.7-.1-1.7 .3-1.5 .9-1.2 1.2-1 1-1 1.3-.8 1.4-.6 1.5-.3 1.6-.5 2-.1 2 .1 1.6 .4 1.7 .2 1.6 .5 1.5 .6 1.2 1 1.3 1.1 .7 1.4 0 1.6z" fill="url(#bg67)"/>
<path d="M1040.5 1667.3l.2 2.3 0 2-.4 1.8-.5 1.6-.4 1.8-.6 1.5-.8 1.2-1.1 .6-.9 .9-1.1 .3-1.2-.3-1.2-.6-1.2-.1-1-.4-.9-.5-.8-.8-1-.3-.9-.9-.7-1.2-.4-1.6-.6-1.4-.3-1.8-.1-1.9 .1-2.2-.2-2.2 0-2 .3-1.8 .6-1.6 .4-1.7 .6-1.3 .9-1 1-.6 .8-1 1-.7 1.1-.3 1.3 .1 1.3-.2 1.1 .4 .9 1 .7 1.3 .8 .9 .6 1.2 .5 1.4 .4 1.4 .7 1.2 .6 1.5 .3 1.8z" fill="url(#bg68)"/>
<path d="M1129 1668.5l-.6 1.7 .3 1.6-.2 1.4-.6 1.1-.8 .7 0 1.5-.4 1.2-.7 .8-.8 .3-.4 1.6-.8 .8-.9 .2-1.1-.6-1 .9-1.1 0-.9-.7-.7-1.1-1 .4-.9-.4-.7-.8-.4-1.4-1.1-.3-.7-1-.2-1.4 .1-1.8-.7-1.2-.1-1.6 .2-1.9 .6-1.7-.3-1.7 .1-1.5 .6-1.1 .8-.8 .1-1.5 .6-1 .8-.5 1 .1 .4-1.2 .8-.6 .8-.3 .9 .3 1-1.3 1.1-.5 1 .1 .8 .9 1.2-.5 .9 .4 .6 1.2 .3 1.7 .9 .5 .5 1.2 .2 1.5-.2 1.7 .7 1.2 .2 1.6z" fill="url(#bg65)"/>
<path d="M1063.6 1693.4l-.6 1.1 .4 1.1-.2 1-.8 .9-.9 .7-.1 1.1-.6 .9-1.2 .5-1.4 .3-.9 .9-1.4 .4-1.6 0-1.6-.3-1.7 .5-1.8 .1-1.6-.3-1.3-.5-1.8 .3-1.5-.3-1-.8-.6-.9-1.4-.5-.8-.9 0-1.1 .3-1.1-.8-.9-.2-1 .4-1.2 .5-1.1-.5-1.1 .2-1 .7-.8 1-.6 .1-1.1 .7-.8 1.2-.5 1.2-.4 .8-1 1.2-.7 1.5-.2 1.7 0 1.8-.7 2 0 1.6 .5 1.2 .8 1.6 .1 1.2 .6 .7 .9 .5 1 1.3 .4 .9 .7 .4 .9 .1 1 1 .8 .4 1.1z" fill="url(#bg65)"/>
<path d="M1090.8 1699.1l-.4 1.2-.3 1 .4 1.2-.2 1.1-.6 .8-.7 .7-.1 1.2-.6 .8-1.1 .3-1 .2-.7 .8-.9 .2-1.2-.3-1.1-.3-.9 .4-1.1 0-1.1-.3-.9-.4-1.1 .5-.9-.1-.8-.5-.7-.6-1.1 .1-.9-.5-.4-.9-.3-.9-1.1-.5-.5-.8-.1-1.1 0-1-.8-1-.2-1.3 .4-1.3 .4-1-.3-1.2 .4-1 .9-.6 .9-.6 .2-1 .7-.6 1-.3 .9-.2 .4-1 .8-.5 1-.1 1 0 1-.8 1.2-.1 1.2 .5 .9 .5 1.1-.3 .9 .4 .7 .7 .6 .8 1 0 .8 .5 .4 .8 .4 .9 1 .4 .6 .8 .1 1-.1 1.1 .8 .9z" fill="url(#bg64)"/>
<path d="M1112.2 1689.6l-.2 1.3 0 1.1-.4 1-.5 .8-.3 .9-.2 .9-.3 .8-.6 .6-.3 .8-.3 1-.5 .7-.7 .4-.6 .5-.6 .7-.8 .4-.9-.1-.8 0-1 .3-1-.1-.8-.4-.8-.2-.8 0-.8-.3-.6-.6-.7-.4-.8-.3-.6-.6-.4-.9-.4-.8-.6-.8-.3-1-.1-1.1-.1-1-.4-1.1-.1-1.2 .2-1.3 0-1.3-.1-1.2 .2-1.1 .4-1 .3-.9 .2-1 .5-.8 .8-.5 .6-.5 .5-.7 .6-.4 .8-.1 .6-.3 .6-.6 .7-.4 .7-.1 .8-.3 .9-.6 1-.2 .8 .2 .9 0 .9-.2 .8 .3 .6 .7 .7 .5 .8 .4 .5 .7 .4 1 .5 .8 .6 .8 .3 .9 .1 1.2 .2 1.1 .3 1-.1 1.2z" fill="url(#bg66)"/>
<path d="M725.5,1757.0 C726.0,1757.3 727.4,1758.3 728.3,1758.9 C729.2,1759.4 730.1,1759.9 731.1,1760.3 C732.0,1760.6 733.0,1760.8 733.9,1760.9 C734.9,1760.9 735.8,1760.8 736.8,1760.5 C737.8,1760.3 738.7,1759.8 739.7,1759.4 C740.7,1758.9 741.7,1758.3 742.6,1757.8 C743.6,1757.2 744.6,1756.6 745.6,1756.1 C746.6,1755.7 747.5,1755.2 748.5,1755.0 C749.5,1754.7 750.4,1754.6 751.4,1754.6 C752.3,1754.7 753.3,1754.9 754.2,1755.2 C755.2,1755.6 756.1,1756.1 757.0,1756.6 C757.9,1757.2 759.3,1758.2 759.8,1758.5" fill="none" stroke="#2a5464" stroke-width="3" stroke-linecap="round" stroke-linejoin="round"/>
<path d="M819.1 1755l.7 2.3-.4 2-1.7 1.5-.8 1.6-.1 1.9-1.2 1.4-2 .7-1.3 1.1-.9 1.5-1.7 .8-2.2-.1-1.8 .3-1.5 1-1.9 .2-2.1-.7-2.2 .1-2.3 .8-2 .1-1.8-.8-1.9-.1-2.4 .5-2-.5-1.1-1.4-1.6-1-2.1-.7-1.1-1.4 0-2.1-.6-1.6-1.4-1.4-.3-1.8 .7-2.1 0-2.1-1-2.2 .3-2 1.3-1.5 .7-1.6 .1-1.9 1.1-1.4 2-.7 1.4-1 .8-1.5 1.5-.9 2.1-.1 1.7-.7 1.4-1.4 1.9-.5 2.3 .5 2.3 0 2.4-.7 2.1 .3 1.7 1.4 1.6 .7 2 0 1.6 .8 .9 1.5 1.4 .9 2.1 .4 1.5 1.1 .5 1.7 1.2 1.4 1.9 1.2 .7 1.8-.6 2.2z" fill="url(#bg64)"/>
<path d="M885.8 1754l0 2 1.3 2-.2 1.8-1.5 1.5-1.5 1.4-.4 1.9-1.6 1.5-2.6 .8-2.5 .8-1.8 1.6-2.8 .8-3.3-.1-3.3-.1-3.6 .5-3.6-.4-2.8-1.1-2.3-1.1-2.8-.2-2.3-.8-1.6-1.3-1.7-1.1-2.8-.5-2-1.2-.8-1.6-.7-1.6-1.8-1.5-.5-1.9 .9-2.1 .7-2-.7-1.9 .5-1.8 1.6-1.4 1.4-1.4 .2-1.9 1.6-1.5 2.6-.8 2.5-.7 1.9-1.4 2.7-.6 3.2 0 3.1 .1 3.5-.9 3.7-.1 3 .7 2.8 .7 3.2 0 2.4 .9 1.5 1.6 1.2 1.6 2 1 1.1 1.5 .1 1.7 .3 1.6 1.8 1.3 .9 1.7z" fill="url(#bg65)"/>
<path d="M951 1755l0 1.7-.6 1.4-1 1.2 .3 1.5-.3 1.4-.8 1.1-1.2 1 0 1.6-.7 1.4-1.2 1-1.7 .7-.8 1.5-1.6 1-1.9 .4-2.2-.2-1.9 .9-2.2 .1-2.5-.4-2.3-.9-2.2 .3-1.9-.3-1.7-.8-1.4-1-2-.1-1.6-.6-1.3-.9-.8-1.4-1.7-.5-1.2-1.1-.6-1.3 .1-1.5-1.3-1.1-.5-1.4 0-1.5 .5-1.5-.9-1.7-.2-1.8 .3-1.5 .9-1.3-.4-1.6 .4-1.4 1-1.2 1.6-.8 .4-1.4 1.1-1 1.6-.7 1.9-.3 1-1.2 1.4-.8 1.8-.4 1.9-.1 1.6-1.1 2-.7 2.5-.1 2.4 .4 2.3-.6 2.2 0 1.9 .7 1.4 1.2 2 .2 1.6 .9 1 1.3 .6 1.5 1.5 .7 1 1.2 .5 1.3-.1 1.6 1.3 1 .6 1.3 0 1.5-.6 1.6z" fill="url(#bg66)"/>
<path d="M1007.8 1754l-.5 3.2-.6 2.6-.8 2.6-1 2.3-1.1 2.6-1.6 2.3-2.4 1.6-2.8 .8-3 .6-3.5 .3-3.5-.3-2.9-.7-2.9-.7-2.6-1.2-2.1-2-1.4-2.5-1.3-2.4-1-2.7-.6-3 0-3.4 0-3.4 .6-3 1.3-2.5 2-1.8 1.9-1.8 1.9-1.7 2.1-1.4 2.4-1.3 2.7-1.4 3.4-1.1 3.7-.1 3 .8 2.9 1 2.6 1.4 2.1 2 1.4 2.5 1.5 2.5 .8 2.8 0 3.1z" fill="url(#bg67)"/>
<path d="M1080.9 1754l.2 2.5-.6 2.1-1.8 1.7-.9 1.9-2 1.5-2.5 1-2.9 .7-2.1 1.2-2.5 1-2.8 .8-3.2 .3-3.8 1-4.1 .4-3.6-.3-3.1-.9-3.3-.4-2.9-1.1-2.4-1.4-1.5-1.8-2.3-1.5-1.4-1.9-.4-2.1 .7-2.3-.1-2.4 .8-2.3 1.3-1.9 1.7-1.5 .5-1.8 1.1-1.8 1.5-1.6 2.2-1.2 1.9-1.6 2.6-1.2 3.3-.5 3.6 .1 3.9-.5 4 0 3.5 .4 3 .9 3.3 .4 2.9 .9 2.3 1.4 1.3 1.9 2 1.5 1.2 1.9 .6 2-.2 2.2z" fill="url(#bg68)"/>
<text x="741.4" y="1790.7" font-size="16" text-anchor="middle" fill="#161616" >IDP</text>
<text x="797.9" y="1790.7" font-size="16" text-anchor="middle" fill="#161616" >ManB</text>
<text x="861.6" y="1790.7" font-size="16" text-anchor="middle" fill="#161616" >ManC</text>
<text x="930.8" y="1790.7" font-size="16" text-anchor="middle" fill="#161616" >Gmd</text>
<text x="990.9" y="1790.7" font-size="16" text-anchor="middle" fill="#161616" >WcaG</text>
<text x="1056.2" y="1790.7" font-size="16" text-anchor="middle" fill="#161616" >FutC</text>
</svg>
</body></html>
